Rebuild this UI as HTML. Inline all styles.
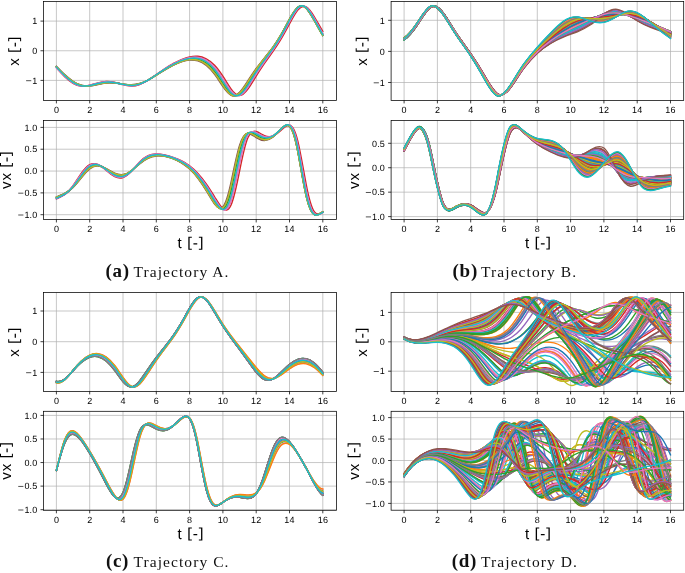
<!DOCTYPE html>
<html><head><meta charset="utf-8"><title>Trajectories</title>
<style>html,body{margin:0;padding:0;background:#fff}svg{will-change:transform;opacity:.999}text{-webkit-font-smoothing:antialiased}body{width:685px;height:573px;overflow:hidden}</style></head>
<body>
<svg width="685" height="573" viewBox="0 0 685 573" style="display:block">
<rect width="685" height="573" fill="#fff"/>
<g font-family="Liberation Sans, sans-serif" fill="#000" style="text-rendering:geometricPrecision">
<path d="M56.40 1.40V100.40M89.70 1.40V100.40M123.00 1.40V100.40M156.30 1.40V100.40M189.60 1.40V100.40M222.90 1.40V100.40M256.20 1.40V100.40M289.50 1.40V100.40M322.80 1.40V100.40M43.50 21.10H336.50M43.50 50.75H336.50M43.50 80.40H336.50" stroke="#b0b0b0" stroke-width=".7" fill="none"/>
<g fill="none" stroke-width="1.36" stroke-linecap="square" stroke-linejoin="round">
<path stroke="#1f77b4" d="M56.4 66.7c2.8 2.9 5.5 5.7 8.3 8.2s5.6 4.8 8.3 6.7s5.6 3.1 8.4 3.7s5.5 .8 8.3 .4s5.5-1 8.3-1.6s5.6-1.1 8.3-1.3s5.6-.1 8.4 .2s5.5 .8 8.3 1.2s5.6 .8 8.3 .8s5.6-.5 8.3-1.4s5.6-2.1 8.4-3.6s5.5-3.2 8.3-5s5.5-3.5 8.3-5.2s5.6-3.3 8.4-4.7s5.5-2.6 8.3-3.6s5.5-1.7 8.3-1.9s5.6-.2 8.3 .6s5.6 2.1 8.4 4.2s5.5 5.1 8.3 8.7s5.5 8.1 8.3 12.2s5.6 8 8.3 9.6s5.6 .8 8.4-1.8s5.5-7 8.3-11.3s5.5-8.6 8.3-12.5s5.6-7.5 8.3-11s5.6-7.1 8.4-11s5.5-8.1 8.3-12.9s5.5-10.2 8.3-15.3s5.6-9.7 8.3-11.9s5.6-1.7 8.4 1.2s5.5 7.7 8.3 12.6s5.5 10 8.3 14.6"/>
<path stroke="#ff7f0e" d="M56.4 66.9c2.8 3.1 5.5 6 8.3 8.7s5.6 5 8.3 6.8s5.6 3.1 8.4 3.6s5.5 .3 8.3-.3s5.5-1.4 8.3-2.1s5.6-1.3 8.3-1.5s5.6 0 8.4 .4s5.5 1.2 8.3 1.8s5.6 1.1 8.3 1.1s5.6-.4 8.3-1.3s5.6-2.2 8.4-3.8s5.5-3.5 8.3-5.4s5.5-3.7 8.3-5.5s5.6-3.4 8.4-4.9s5.5-2.8 8.3-3.9s5.5-1.9 8.3-2.3s5.6-.5 8.3 0s5.6 1.6 8.4 3.5s5.5 4.4 8.3 7.7s5.5 7.6 8.3 11.9s5.6 8.9 8.3 11.6s5.6 3.5 8.4 1.8s5.5-5.4 8.3-9.7s5.5-8.9 8.3-13.1s5.6-8.1 8.3-11.9s5.6-7.4 8.4-11.4s5.5-8.3 8.3-13s5.5-10.2 8.3-15.4s5.6-10.1 8.3-12.6s5.6-2.5 8.4 .1s5.5 7.3 8.3 12.2s5.5 10 8.3 14.7"/>
<path stroke="#2ca02c" d="M56.4 66.9c2.8 3 5.5 5.8 8.3 8.4s5.6 4.9 8.3 6.7s5.6 3 8.4 3.6s5.5 .5 8.3 .1s5.5-1.2 8.3-1.9s5.6-1.1 8.3-1.3s5.6-.1 8.4 .3s5.5 1 8.3 1.5s5.6 .9 8.3 .9s5.6-.4 8.3-1.3s5.6-2.3 8.4-3.8s5.5-3.4 8.3-5.2s5.5-3.6 8.3-5.3s5.6-3.3 8.4-4.8s5.5-2.7 8.3-3.8s5.5-1.7 8.3-2.1s5.6-.3 8.3 .4s5.6 1.9 8.4 3.8s5.5 4.8 8.3 8.3s5.5 7.9 8.3 12.2s5.6 8.4 8.3 10.6s5.6 2 8.4-.2s5.5-6.4 8.3-10.7s5.5-8.8 8.3-12.8s5.6-7.8 8.3-11.5s5.6-7.2 8.4-11.2s5.5-8.2 8.3-13s5.5-10.2 8.3-15.3s5.6-9.9 8.3-12.2s5.6-1.9 8.4 .9s5.5 7.6 8.3 12.5s5.5 10 8.3 14.7"/>
<path stroke="#d62728" d="M56.4 67.9c2.8 3.2 5.5 6.1 8.3 8.8s5.6 4.9 8.3 6.6s5.6 2.6 8.4 2.8s5.5-.2 8.3-.9s5.5-1.7 8.3-2.4s5.6-1.2 8.3-1.3s5.6 .3 8.4 .9s5.5 1.5 8.3 2.3s5.6 1.2 8.3 1.3s5.6-.5 8.3-1.5s5.6-2.6 8.4-4.3s5.5-3.8 8.3-5.7s5.5-3.9 8.3-5.7s5.6-3.6 8.4-5.1s5.5-3 8.3-4.1s5.5-2.1 8.3-2.7s5.6-.8 8.3-.6s5.6 1.1 8.4 2.5s5.5 3.6 8.3 6.5s5.5 6.7 8.3 10.9s5.6 9.1 8.3 12.9s5.6 6.4 8.4 6.4s5.5-2.6 8.3-6.4s5.5-8.5 8.3-13s5.6-8.7 8.3-12.7s5.6-7.8 8.4-11.8s5.5-8.2 8.3-12.8s5.5-9.7 8.3-14.9s5.6-10.4 8.3-13.8s5.6-4.7 8.4-3.2s5.5 5.5 8.3 10.1s5.5 9.8 8.3 14.4"/>
<path stroke="#9467bd" d="M56.4 67.3c2.8 3.1 5.5 6.1 8.3 8.8s5.6 5 8.3 6.8s5.6 2.8 8.4 3.2s5.5 .1 8.3-.6s5.5-1.6 8.3-2.3s5.6-1.3 8.3-1.4s5.6 .1 8.4 .6s5.5 1.4 8.3 2s5.6 1.2 8.3 1.3s5.6-.4 8.3-1.4s5.6-2.4 8.4-4s5.5-3.6 8.3-5.5s5.5-3.8 8.3-5.7s5.6-3.5 8.4-5s5.5-2.9 8.3-4s5.5-2 8.3-2.5s5.6-.6 8.3-.2s5.6 1.3 8.4 2.9s5.5 4 8.3 7.2s5.5 7.1 8.3 11.5s5.6 9 8.3 12.3s5.6 5 8.4 4.1s5.5-4.2 8.3-8.3s5.5-8.9 8.3-13.2s5.6-8.5 8.3-12.4s5.6-7.6 8.4-11.6s5.5-8.2 8.3-12.9s5.5-10.1 8.3-15.3s5.6-10.3 8.3-13.2s5.6-3.3 8.4-1.2s5.5 6.7 8.3 11.5s5.5 10 8.3 14.7"/>
<path stroke="#8c564b" d="M56.4 66.3c2.8 2.9 5.5 5.7 8.3 8.2s5.6 4.8 8.3 6.7s5.6 3.2 8.4 4s5.5 .9 8.3 .7s5.5-.9 8.3-1.4s5.6-1.2 8.3-1.4s5.6-.3 8.4-.1s5.5 .7 8.3 1.1s5.6 .7 8.3 .6s5.6-.4 8.3-1.2s5.6-2 8.4-3.5s5.5-3.1 8.3-4.8s5.5-3.5 8.3-5.1s5.6-3.3 8.4-4.7s5.5-2.6 8.3-3.5s5.5-1.6 8.3-1.8s5.6 0 8.3 .8s5.6 2.3 8.4 4.5s5.5 5.3 8.3 9s5.5 8.2 8.3 12.2s5.6 7.5 8.3 8.7s5.6-.1 8.4-3s5.5-7.3 8.3-11.6s5.5-8.4 8.3-12.2s5.6-7.2 8.3-10.7s5.6-6.9 8.4-10.7s5.5-8.1 8.3-12.8s5.5-10.1 8.3-15.2s5.6-9.7 8.3-11.8s5.6-1.7 8.4 1.1s5.5 7.7 8.3 12.6s5.5 9.9 8.3 14.5"/>
<path stroke="#e377c2" d="M56.4 67.7c2.8 3.1 5.5 6 8.3 8.6s5.6 4.9 8.3 6.5s5.6 2.8 8.4 3.1s5.5 0 8.3-.6s5.5-1.5 8.3-2.2s5.6-1.2 8.3-1.3s5.6 .3 8.4 .8s5.5 1.3 8.3 2s5.6 1.1 8.3 1.1s5.6-.5 8.3-1.5s5.6-2.4 8.4-4.1s5.5-3.6 8.3-5.5s5.5-3.8 8.3-5.6s5.6-3.4 8.4-5s5.5-2.8 8.3-3.9s5.5-2 8.3-2.5s5.6-.7 8.3-.3s5.6 1.4 8.4 3s5.5 4 8.3 7.2s5.5 7.1 8.3 11.5s5.6 9 8.3 12.3s5.6 5 8.4 4.1s5.5-4.3 8.3-8.4s5.5-8.8 8.3-13.1s5.6-8.5 8.3-12.4s5.6-7.6 8.4-11.6s5.5-8.2 8.3-13s5.5-10 8.3-15.2s5.6-10.3 8.3-13.2s5.6-3.3 8.4-1.2s5.5 6.7 8.3 11.6s5.5 9.9 8.3 14.6"/>
<path stroke="#7f7f7f" d="M56.4 66.4c2.8 3 5.5 5.8 8.3 8.3s5.6 5 8.3 6.8s5.6 3.3 8.4 4s5.5 .7 8.3 .4s5.5-1 8.3-1.7s5.6-1.2 8.3-1.4s5.6-.2 8.4 0s5.5 .9 8.3 1.3s5.6 .8 8.3 .8s5.6-.4 8.3-1.2s5.6-2.1 8.4-3.6s5.5-3.2 8.3-5s5.5-3.5 8.3-5.2s5.6-3.3 8.4-4.7s5.5-2.7 8.3-3.6s5.5-1.7 8.3-2s5.6-.1 8.3 .6s5.6 2.1 8.4 4.3s5.5 5 8.3 8.7s5.5 8.1 8.3 12.2s5.6 7.9 8.3 9.5s5.6 .8 8.4-1.9s5.5-6.9 8.3-11.2s5.5-8.6 8.3-12.5s5.6-7.5 8.3-11.1s5.6-7 8.4-10.9s5.5-8.1 8.3-12.9s5.5-10.2 8.3-15.3s5.6-9.7 8.3-11.9s5.6-1.7 8.4 1.2s5.5 7.7 8.3 12.6s5.5 9.9 8.3 14.6"/>
<path stroke="#bcbd22" d="M56.4 66.6c2.8 3 5.5 5.7 8.3 8.3s5.6 4.8 8.3 6.7s5.6 3.1 8.4 3.8s5.5 .7 8.3 .4s5.5-1 8.3-1.6s5.6-1.2 8.3-1.4s5.6-.2 8.4 .1s5.5 .9 8.3 1.3s5.6 .8 8.3 .8s5.6-.5 8.3-1.4s5.6-2.1 8.4-3.6s5.5-3.2 8.3-4.9s5.5-3.6 8.3-5.3s5.6-3.2 8.4-4.7s5.5-2.6 8.3-3.6s5.5-1.7 8.3-1.9s5.6-.2 8.3 .6s5.6 2.1 8.4 4.2s5.5 5.1 8.3 8.7s5.5 8.1 8.3 12.2s5.6 8 8.3 9.6s5.6 .8 8.4-1.8s5.5-7 8.3-11.3s5.5-8.6 8.3-12.5s5.6-7.5 8.3-11s5.6-7.1 8.4-11s5.5-8.1 8.3-12.9s5.5-10.2 8.3-15.3s5.6-9.7 8.3-11.9s5.6-1.7 8.4 1.2s5.5 7.7 8.3 12.6s5.5 10 8.3 14.6"/>
<path stroke="#17becf" d="M56.4 67.1c2.8 3.1 5.5 6 8.3 8.6s5.6 5 8.3 6.7s5.6 3 8.4 3.4s5.5 .3 8.3-.2s5.5-1.4 8.3-2.1s5.6-1.2 8.3-1.4s5.6 .1 8.4 .5s5.5 1.2 8.3 1.8s5.6 1 8.3 1.1s5.6-.5 8.3-1.4s5.6-2.3 8.4-3.9s5.5-3.5 8.3-5.4s5.5-3.7 8.3-5.4s5.6-3.5 8.4-4.9s5.5-2.9 8.3-3.9s5.5-1.9 8.3-2.3s5.6-.5 8.3 0s5.6 1.6 8.4 3.5s5.5 4.4 8.3 7.7s5.5 7.6 8.3 11.9s5.6 8.9 8.3 11.6s5.6 3.5 8.4 1.8s5.5-5.4 8.3-9.7s5.5-8.9 8.3-13.1s5.6-8.1 8.3-11.9s5.6-7.5 8.4-11.4s5.5-8.3 8.3-13.1s5.5-10.1 8.3-15.3s5.6-10.1 8.3-12.6s5.6-2.5 8.4 .1s5.5 7.3 8.3 12.2s5.5 10 8.3 14.7"/>
</g>
<rect x="43.50" y="1.40" width="293.00" height="99.00" fill="none" stroke="#000" stroke-width=".75"/>
<path d="M56.40 100.40v3M89.70 100.40v3M123.00 100.40v3M156.30 100.40v3M189.60 100.40v3M222.90 100.40v3M256.20 100.40v3M289.50 100.40v3M322.80 100.40v3M43.50 21.10h-3M43.50 50.75h-3M43.50 80.40h-3" stroke="#000" stroke-width=".75" fill="none"/>
<text x="53.90" y="113.15" font-size="9px">0</text>
<text x="87.20" y="113.15" font-size="9px">2</text>
<text x="120.50" y="113.15" font-size="9px">4</text>
<text x="153.80" y="113.15" font-size="9px">6</text>
<text x="187.10" y="113.15" font-size="9px">8</text>
<text x="217.77 223.02" y="113.15" font-size="9px">10</text>
<text x="251.07 256.32" y="113.15" font-size="9px">12</text>
<text x="284.37 289.62" y="113.15" font-size="9px">14</text>
<text x="317.67 322.92" y="113.15" font-size="9px">16</text>
<text x="32.27" y="24.35" font-size="9px">1</text>
<text x="32.27" y="54.00" font-size="9px">0</text>
<path d="M26.11 80.70h5.16" stroke="#000" stroke-width="0.68" fill="none"/><text x="32.27" y="83.65" font-size="9px">1</text>
<g transform="translate(19.20 51.30) rotate(-90) translate(-14.87 0)"><text x="0.54" y="0" font-size="15px">x</text><path d="M14.44 -11.02H17.95V-10.00H15.75V0.90H17.95V1.91H14.44ZM19.56 -4.52H23.37V-3.28H19.56ZM28.49 -11.02H24.98V-10.00H27.19V0.90H24.98V1.91H28.49Z" fill="#000"/></g>
<path d="M56.40 120.50V219.45M89.70 120.50V219.45M123.00 120.50V219.45M156.30 120.50V219.45M189.60 120.50V219.45M222.90 120.50V219.45M256.20 120.50V219.45M289.50 120.50V219.45M322.80 120.50V219.45M43.50 127.40H336.50M43.50 149.22H336.50M43.50 171.05H336.50M43.50 192.88H336.50M43.50 214.70H336.50" stroke="#b0b0b0" stroke-width=".7" fill="none"/>
<g fill="none" stroke-width="1.36" stroke-linecap="square" stroke-linejoin="round">
<path stroke="#1f77b4" d="M56.4 197.1c2.8-1.2 5.5-2.2 8.3-3.7s5.6-3.6 8.3-6.4s5.6-6.4 8.4-10s5.5-6.8 8.3-8.8s5.5-2.8 8.3-2.5s5.6 1.8 8.3 3.4s5.6 3.5 8.4 4.7s5.5 1.6 8.3 1.1s5.6-2.1 8.3-4.2s5.6-4.9 8.3-7.2s5.6-4.4 8.4-5.7s5.5-2 8.3-2.2s5.5 .1 8.3 .6s5.6 1.3 8.4 2.3s5.5 2.3 8.3 4s5.5 3.6 8.3 6.1s5.6 5.5 8.3 9.1s5.6 7.7 8.4 12.2s5.5 9.4 8.3 13.4s5.5 6.7 8.3 4.6s5.6-10.3 8.3-22.7s5.6-27.8 8.4-37.6s5.5-14 8.3-14.6s5.5 1.7 8.3 3.5s5.6 3.1 8.3 3.2s5.6-.9 8.4-3s5.5-5.2 8.3-7.9s5.5-5.2 8.3-2.6s5.6 11.2 8.3 25.4s5.6 32.7 8.4 44.7s5.5 17.3 8.3 18.4s5.5-1.2 8.3-2.8"/>
<path stroke="#ff7f0e" d="M56.4 198.6c2.8-1.3 5.5-2.4 8.3-4.1s5.6-4.1 8.3-7.5s5.6-7.6 8.4-11.5s5.5-7.4 8.3-9.3s5.5-2.4 8.3-1.6s5.6 2.7 8.3 4.8s5.6 4.2 8.4 5.6s5.5 2 8.3 1.4s5.6-2.5 8.3-5s5.6-5.6 8.3-8.3s5.6-4.9 8.4-6.3s5.5-2 8.3-2.2s5.5 .3 8.3 .8s5.6 1.4 8.4 2.4s5.5 2.2 8.3 3.8s5.5 3.4 8.3 5.7s5.6 5 8.3 8.3s5.6 7.2 8.4 11.5s5.5 9.2 8.3 13.6s5.5 8.5 8.3 8.8s5.6-3.9 8.3-14.2s5.6-26.3 8.4-38.8s5.5-20.4 8.3-23.1s5.5-1.3 8.3 .4s5.6 3.4 8.3 3.9s5.6 0 8.4-1.7s5.5-4.5 8.3-7.3s5.5-5.3 8.3-3.4s5.6 9.5 8.3 23.2s5.6 32.4 8.4 45.3s5.5 19.2 8.3 20.8s5.5-.6 8.3-2.3"/>
<path stroke="#2ca02c" d="M56.4 197.7c2.8-1.3 5.5-2.3 8.3-3.9s5.6-3.9 8.3-6.9s5.6-7 8.4-10.7s5.5-7 8.3-9s5.5-2.5 8.3-1.9s5.6 2.2 8.3 4.1s5.6 3.8 8.4 5s5.5 1.8 8.3 1.2s5.6-2.3 8.3-4.7s5.6-5.2 8.3-7.7s5.6-4.6 8.4-5.9s5.5-2 8.3-2.1s5.5 .1 8.3 .7s5.6 1.3 8.4 2.3s5.5 2.3 8.3 3.9s5.5 3.5 8.3 5.9s5.6 5.3 8.3 8.7s5.6 7.5 8.4 11.9s5.5 9.4 8.3 13.6s5.5 7.7 8.3 6.7s5.6-7.3 8.3-18.9s5.6-27.5 8.4-38.7s5.5-16.9 8.3-18.4s5.5 .5 8.3 2.2s5.6 3.3 8.3 3.6s5.6-.5 8.4-2.4s5.5-4.9 8.3-7.7s5.5-5.2 8.3-2.9s5.6 10.8 8.3 24.9s5.6 32.8 8.4 45.1s5.5 17.9 8.3 19.1s5.5-1 8.3-2.7"/>
<path stroke="#d62728" d="M56.4 198.9c2.8-1.3 5.5-2.5 8.3-4.5s5.6-5 8.3-8.8s5.6-8.4 8.4-12.4s5.5-7.1 8.3-8.6s5.5-1.3 8.3 0s5.6 3.6 8.3 6s5.6 4.6 8.4 6s5.5 1.8 8.3 .9s5.6-3.3 8.3-6.2s5.6-6.5 8.3-9.3s5.6-5.1 8.4-6.4s5.5-1.8 8.3-1.7s5.5 .4 8.3 1s5.6 1.4 8.4 2.4s5.5 2.1 8.3 3.4s5.5 3.1 8.3 5.2s5.6 4.6 8.3 7.5s5.6 6.5 8.4 10.4s5.5 8.5 8.3 13s5.5 9.3 8.3 11.8s5.6 2.4 8.3-3.9s5.6-19.6 8.4-33.7s5.5-26.9 8.3-33.3s5.5-7.1 8.3-6.2s5.6 3 8.3 4.1s5.6 1.3 8.4 .3s5.5-3.1 8.3-5.6s5.5-5.4 8.3-5.1s5.6 4.7 8.3 15.8s5.6 28.8 8.4 43.3s5.5 24 8.3 27.6s5.5 2.2 8.3 .5"/>
<path stroke="#9467bd" d="M56.4 198.9c2.8-1.3 5.5-2.4 8.3-4.2s5.6-4.6 8.3-8.2s5.6-8 8.4-12s5.5-7.5 8.3-9.2s5.5-1.9 8.3-.8s5.6 3.1 8.3 5.3s5.6 4.5 8.4 6s5.5 1.9 8.3 1.2s5.6-2.8 8.3-5.5s5.6-6.1 8.3-8.9s5.6-5 8.4-6.4s5.5-1.9 8.3-2s5.5 .3 8.3 .9s5.6 1.4 8.4 2.4s5.5 2.2 8.3 3.6s5.5 3.3 8.3 5.5s5.6 4.8 8.3 8s5.6 6.8 8.4 10.9s5.5 8.9 8.3 13.4s5.5 9.1 8.3 10.5s5.6-.6 8.3-9.1s5.6-23.7 8.4-37.3s5.5-23.9 8.3-28.2s5.5-3.7 8.3-2.3s5.6 3.3 8.3 4.2s5.6 .6 8.4-.8s5.5-4 8.3-6.6s5.5-5.5 8.3-4.2s5.6 7.4 8.3 20.2s5.6 31.3 8.4 44.9s5.5 21.3 8.3 23.6s5.5 .4 8.3-1.3"/>
<path stroke="#8c564b" d="M56.4 197c2.8-1.3 5.5-2.2 8.3-3.6s5.6-3.3 8.3-5.9s5.6-6.1 8.4-9.6s5.5-6.8 8.3-9s5.5-3.2 8.3-3.1s5.6 1.4 8.3 2.9s5.6 3.2 8.4 4.4s5.5 1.8 8.3 1.4s5.6-1.8 8.3-3.8s5.6-4.6 8.3-6.8s5.6-4.3 8.4-5.6s5.5-2.1 8.3-2.3s5.5-.1 8.3 .4s5.6 1.3 8.4 2.3s5.5 2.4 8.3 4.1s5.5 3.7 8.3 6.3s5.6 5.6 8.3 9.3s5.6 7.9 8.4 12.4s5.5 9.5 8.3 13.2s5.5 5.8 8.3 2.6s5.6-12.5 8.3-25.3s5.6-27.4 8.4-36.1s5.5-11.7 8.3-11.7s5.5 2.3 8.3 4.1s5.6 2.9 8.3 2.9s5.6-1.2 8.4-3.3s5.5-5.3 8.3-8.1s5.5-5.1 8.3-2.6s5.6 11.2 8.3 25.3s5.6 32.4 8.4 44.3s5.5 17.2 8.3 18.3s5.5-1.1 8.3-2.8"/>
<path stroke="#e377c2" d="M56.4 198.3c2.8-1.2 5.5-2.4 8.3-4.3s5.6-4.5 8.3-8.1s5.6-7.9 8.4-11.7s5.5-7.1 8.3-8.7s5.5-1.6 8.3-.6s5.6 3.2 8.3 5.4s5.6 4.3 8.4 5.6s5.5 1.7 8.3 .9s5.6-3 8.3-5.7s5.6-6.1 8.3-8.8s5.6-4.9 8.4-6.2s5.5-1.8 8.3-1.8s5.5 .4 8.3 1s5.6 1.4 8.4 2.3s5.5 2.2 8.3 3.6s5.5 3.2 8.3 5.4s5.6 4.8 8.3 8s5.6 6.8 8.4 11s5.5 8.8 8.3 13.3s5.5 9.1 8.3 10.6s5.6-.7 8.3-9.2s5.6-23.7 8.4-37.3s5.5-23.9 8.3-28.2s5.5-3.7 8.3-2.3s5.6 3.3 8.3 4.2s5.6 .6 8.4-.8s5.5-4 8.3-6.7s5.5-5.4 8.3-4.2s5.6 7.6 8.3 20.3s5.6 31.4 8.4 45s5.5 21.2 8.3 23.5s5.5 .4 8.3-1.3"/>
<path stroke="#7f7f7f" d="M56.4 197.5c2.8-1.2 5.5-2.2 8.3-3.7s5.6-3.5 8.3-6.3s5.6-6.5 8.4-10.2s5.5-7 8.3-9.2s5.5-3 8.3-2.7s5.6 1.7 8.3 3.4s5.6 3.5 8.4 4.8s5.5 1.9 8.3 1.4s5.6-1.9 8.3-4s5.6-4.9 8.3-7.3s5.6-4.5 8.4-5.8s5.5-2.1 8.3-2.3s5.5 0 8.3 .5s5.6 1.3 8.4 2.4s5.5 2.3 8.3 3.9s5.5 3.7 8.3 6.2s5.6 5.5 8.3 9.1s5.6 7.7 8.4 12.2s5.5 9.5 8.3 13.4s5.5 6.7 8.3 4.5s5.6-10.4 8.3-22.8s5.6-27.8 8.4-37.6s5.5-13.8 8.3-14.3s5.5 1.7 8.3 3.4s5.6 3.1 8.3 3.3s5.6-1 8.4-3s5.5-5.2 8.3-8s5.5-5.2 8.3-2.6s5.6 11.2 8.3 25.4s5.6 32.6 8.4 44.7s5.5 17.3 8.3 18.4s5.5-1.2 8.3-2.9"/>
<path stroke="#bcbd22" d="M56.4 197.2c2.8-1.2 5.5-2.2 8.3-3.7s5.6-3.5 8.3-6.4s5.6-6.5 8.4-10s5.5-6.9 8.3-8.9s5.5-2.9 8.3-2.6s5.6 1.8 8.3 3.4s5.6 3.5 8.4 4.7s5.5 1.8 8.3 1.3s5.6-2.1 8.3-4.3s5.6-4.8 8.3-7.2s5.6-4.4 8.4-5.7s5.5-2 8.3-2.2s5.5 .1 8.3 .6s5.6 1.3 8.4 2.3s5.5 2.3 8.3 4s5.5 3.6 8.3 6.1s5.6 5.5 8.3 9s5.6 7.7 8.4 12.3s5.5 9.4 8.3 13.4s5.5 6.7 8.3 4.6s5.6-10.3 8.3-22.7s5.6-27.8 8.4-37.6s5.5-14 8.3-14.6s5.5 1.7 8.3 3.5s5.6 3.1 8.3 3.2s5.6-.9 8.4-3s5.5-5.1 8.3-7.9s5.5-5.2 8.3-2.6s5.6 11.2 8.3 25.4s5.6 32.7 8.4 44.7s5.5 17.3 8.3 18.4s5.5-1.2 8.3-2.8"/>
<path stroke="#17becf" d="M56.4 198.2c2.8-1.2 5.5-2.3 8.3-4s5.6-4.2 8.3-7.6s5.6-7.4 8.4-11.3s5.5-7.2 8.3-9s5.5-2.2 8.3-1.4s5.6 2.7 8.3 4.7s5.6 4.2 8.4 5.5s5.5 1.9 8.3 1.2s5.6-2.6 8.3-5.1s5.6-5.7 8.3-8.3s5.6-4.8 8.4-6.2s5.5-1.9 8.3-2s5.5 .2 8.3 .8s5.6 1.4 8.4 2.4s5.5 2.2 8.3 3.7s5.5 3.4 8.3 5.7s5.6 5.1 8.3 8.4s5.6 7.1 8.4 11.4s5.5 9.2 8.3 13.6s5.5 8.5 8.3 8.8s5.6-3.9 8.3-14.2s5.6-26.3 8.4-38.8s5.5-20.4 8.3-23.1s5.5-1.3 8.3 .4s5.6 3.4 8.3 3.9s5.6 0 8.4-1.7s5.5-4.6 8.3-7.3s5.5-5.3 8.3-3.4s5.6 9.5 8.3 23.2s5.6 32.5 8.4 45.3s5.5 19.2 8.3 20.8s5.5-.6 8.3-2.3"/>
</g>
<rect x="43.50" y="120.50" width="293.00" height="98.95" fill="none" stroke="#000" stroke-width=".75"/>
<path d="M56.40 219.45v3M89.70 219.45v3M123.00 219.45v3M156.30 219.45v3M189.60 219.45v3M222.90 219.45v3M256.20 219.45v3M289.50 219.45v3M322.80 219.45v3M43.50 127.40h-3M43.50 149.22h-3M43.50 171.05h-3M43.50 192.88h-3M43.50 214.70h-3" stroke="#000" stroke-width=".75" fill="none"/>
<text x="53.90" y="232.20" font-size="9px">0</text>
<text x="87.20" y="232.20" font-size="9px">2</text>
<text x="120.50" y="232.20" font-size="9px">4</text>
<text x="153.80" y="232.20" font-size="9px">6</text>
<text x="187.10" y="232.20" font-size="9px">8</text>
<text x="217.77 223.02" y="232.20" font-size="9px">10</text>
<text x="251.07 256.32" y="232.20" font-size="9px">12</text>
<text x="284.37 289.62" y="232.20" font-size="9px">14</text>
<text x="317.67 322.92" y="232.20" font-size="9px">16</text>
<text x="24.40 29.59 32.27" y="130.65" font-size="9px">1.0</text>
<text x="24.40 29.59 32.27" y="152.47" font-size="9px">0.5</text>
<text x="24.40 29.59 32.27" y="174.30" font-size="9px">0.0</text>
<path d="M18.24 193.18h5.16" stroke="#000" stroke-width="0.68" fill="none"/><text x="24.40 29.59 32.27" y="196.12" font-size="9px">0.5</text>
<path d="M18.24 215.00h5.16" stroke="#000" stroke-width="0.68" fill="none"/><text x="24.40 29.59 32.27" y="217.95" font-size="9px">1.0</text>
<g transform="translate(11.00 170.38) rotate(-90) translate(-19.16 0)"><text x="0.54" y="0" font-size="15px">v</text><text x="9.13" y="0" font-size="15px">x</text><path d="M23.03 -11.02H26.54V-10.00H24.33V0.90H26.54V1.91H23.03ZM28.14 -4.52H31.96V-3.28H28.14ZM37.08 -11.02H33.57V-10.00H35.77V0.90H33.57V1.91H37.08Z" fill="#000"/></g>
<g transform="translate(176.78 247.75)"><text x="0.76" y="0" font-size="15px">t</text><path d="M11.54 -11.02H15.05V-10.00H12.85V0.90H15.05V1.91H11.54ZM16.66 -4.52H20.47V-3.28H16.66ZM25.59 -11.02H22.08V-10.00H24.29V0.90H22.08V1.91H25.59Z" fill="#000"/></g>
<path d="M404.10 1.40V100.40M437.40 1.40V100.40M470.70 1.40V100.40M504.00 1.40V100.40M537.30 1.40V100.40M570.60 1.40V100.40M603.90 1.40V100.40M637.20 1.40V100.40M670.50 1.40V100.40M391.10 20.30H683.70M391.10 51.40H683.70M391.10 82.50H683.70" stroke="#b0b0b0" stroke-width=".7" fill="none"/>
<g fill="none" stroke-width="1.36" stroke-linecap="square" stroke-linejoin="round">
<path stroke="#1f77b4" d="M404.1 39c4.4-3.2 8.9-8.8 13.3-15.6s8.9-14.8 13.3-17s8.9 2.3 13.4 9s8.8 14.4 13.3 20.9s8.9 12.6 13.3 19.2s8.9 14.2 13.3 22.1s8.9 16.1 13.3 17.9s8.9-3.4 13.4-10.3s8.8-14.5 13.3-20.6s8.9-11.3 13.3-16s8.9-9.3 13.3-13.6s8.9-8.4 13.3-11.6s8.9-5 13.4-5.5s8.8 .7 13.3 1.6s8.9 1.4 13.3 .8s8.9-2.5 13.3-4.4s8.9-3.8 13.3-3.7s8.9 2.3 13.4 5.3s8.8 6.5 13.3 9.8s8.9 6.4 13.3 9.2"/>
<path stroke="#ff7f0e" d="M404.1 38.8c4.4-3 8.9-8.3 13.3-15s8.9-14.5 13.3-17s8.9 1.6 13.4 8.1s8.8 14.2 13.3 20.7s8.9 12.5 13.3 18.9s8.9 13.7 13.3 21.5s8.9 16 13.3 18.5s8.9-1.6 13.4-8s8.8-14 13.3-20s8.9-11 13.3-15.3s8.9-8.1 13.3-11.5s8.9-6.6 13.3-9.3s8.9-5.2 13.4-7.1s8.8-3.6 13.3-4.8s8.9-2.3 13.3-3.1s8.9-1.3 13.3-1.3s8.9 .4 13.3 1.3s8.9 2.6 13.4 4.4s8.8 3.8 13.3 6s8.9 4.4 13.3 6.4"/>
<path stroke="#2ca02c" d="M404.1 39.7c4.4-2.9 8.9-8.2 13.3-14.8s8.9-14.8 13.3-17.7s8.9 .6 13.4 6.9s8.8 14.2 13.3 20.8s8.9 12.6 13.3 19s8.9 13.6 13.3 21.3s8.9 16 13.3 18.9s8.9-.8 13.4-7s8.8-13.8 13.3-19.8s8.9-10.9 13.3-15.1s8.9-7.7 13.3-10.8s8.9-5.7 13.3-8.1s8.9-4.5 13.4-6.6s8.8-4.3 13.3-6.6s8.9-4.6 13.3-6.1s8.9-2.2 13.3-1.6s8.9 2.2 13.3 4s8.9 3.6 13.4 5.2s8.8 3.3 13.3 4.9s8.9 3.4 13.3 5"/>
<path stroke="#d62728" d="M404.1 38.9c4.4-3.2 8.9-8.7 13.3-15.4s8.9-14.7 13.3-17s8.9 2.1 13.4 8.7s8.8 14.3 13.3 20.9s8.9 12.5 13.3 19s8.9 14 13.3 21.9s8.9 16 13.3 18.1s8.9-2.7 13.4-9.4s8.8-14.3 13.3-20.4s8.9-11.1 13.3-15.7s8.9-8.8 13.3-12.8s8.9-7.7 13.3-10.8s8.9-5.4 13.4-6.6s8.8-1.1 13.3-1s8.9 .5 13.3 0s8.9-1.7 13.3-3s8.9-2.3 13.3-1.9s8.9 2.1 13.4 4.5s8.8 5.5 13.3 8.4s8.9 5.7 13.3 8.3"/>
<path stroke="#9467bd" d="M404.1 39.1c4.4-3.3 8.9-9 13.3-15.8s8.9-14.9 13.3-17s8.9 2.4 13.4 9.2s8.8 14.4 13.3 21s8.9 12.6 13.3 19.3s8.9 14.3 13.3 22.3s8.9 16 13.3 17.6s8.9-3.9 13.4-10.9s8.8-14.6 13.3-20.8s8.9-11.3 13.3-16.3s8.9-9.6 13.3-14.1s8.9-8.9 13.3-12s8.9-4.6 13.4-4.4s8.8 2 13.3 3.3s8.9 2.1 13.3 1.3s8.9-3.2 13.3-5.7s8.9-4.8 13.3-4.8s8.9 2.5 13.4 5.9s8.8 7.3 13.3 10.9s8.9 6.8 13.3 9.8"/>
<path stroke="#8c564b" d="M404.1 39.3c4.4-3 8.9-8.4 13.3-15.1s8.9-14.7 13.3-17.3s8.9 1.2 13.4 7.7s8.8 14.3 13.3 20.9s8.9 12.5 13.3 19s8.9 13.8 13.3 21.6s8.9 16 13.3 18.5s8.9-1.7 13.4-8.2s8.8-14.1 13.3-20.1s8.9-11 13.3-15.4s8.9-8.2 13.3-11.7s8.9-6.8 13.3-9.7s8.9-5.2 13.4-7.1s8.8-3.2 13.3-4.2s8.9-1.6 13.3-2.3s8.9-1.2 13.3-1.5s8.9-.1 13.3 .7s8.9 2.3 13.4 4.2s8.8 4.2 13.3 6.5s8.9 4.6 13.3 6.8"/>
<path stroke="#e377c2" d="M404.1 39.7c4.4-3.1 8.9-8.6 13.3-15.4s8.9-15 13.3-17.6s8.9 1.3 13.4 7.9s8.8 14.5 13.3 21.1s8.9 12.7 13.3 19.3s8.9 14 13.3 21.9s8.9 16.1 13.3 18.3s8.9-2.7 13.4-9.5s8.8-14.3 13.3-20.4s8.9-11.2 13.3-15.8s8.9-8.9 13.3-12.9s8.9-7.8 13.3-10.9s8.9-5.4 13.4-6.5s8.8-1 13.3-.7s8.9 .7 13.3 .2s8.9-1.9 13.3-3.2s8.9-2.5 13.3-2.2s8.9 2.1 13.4 4.6s8.8 5.7 13.3 8.6s8.9 5.8 13.3 8.4"/>
<path stroke="#7f7f7f" d="M404.1 39.7c4.4-3.2 8.9-8.7 13.3-15.5s8.9-14.9 13.3-17.6s8.9 1.5 13.4 8.1s8.8 14.4 13.3 21.1s8.9 12.6 13.3 19.2s8.9 14.1 13.3 22s8.9 16.1 13.3 18.2s8.9-2.8 13.4-9.6s8.8-14.3 13.3-20.4s8.9-11.2 13.3-15.8s8.9-9 13.3-13s8.9-8 13.3-11.1s8.9-5.3 13.4-6.3s8.8-.7 13.3-.4s8.9 .8 13.3 .3s8.9-1.9 13.3-3.3s8.9-2.7 13.3-2.5s8.9 2.1 13.4 4.7s8.8 5.8 13.3 8.8s8.9 5.9 13.3 8.5"/>
<path stroke="#bcbd22" d="M404.1 38.1c4.4-3 8.9-8.5 13.3-15.1s8.9-14.3 13.3-16.4s8.9 2.4 13.4 9s8.8 14.1 13.3 20.5s8.9 12.3 13.3 18.7s8.9 13.8 13.3 21.6s8.9 15.9 13.3 18.3s8.9-2 13.4-8.5s8.8-14.1 13.3-20.1s8.9-11 13.3-15.4s8.9-8.2 13.3-11.8s8.9-6.9 13.3-9.8s8.9-5.3 13.4-7.1s8.8-3 13.3-3.8s8.9-1.4 13.3-2s8.9-1.3 13.3-1.6s8.9-.4 13.3 .3s8.9 2.3 13.4 4.2s8.8 4.3 13.3 6.7s8.9 4.8 13.3 7"/>
<path stroke="#17becf" d="M404.1 39.3c4.4-3.1 8.9-8.6 13.3-15.4s8.9-14.8 13.3-17.3s8.9 1.7 13.4 8.3s8.8 14.4 13.3 21s8.9 12.6 13.3 19.1s8.9 14.1 13.3 22s8.9 16 13.3 18.1s8.9-2.7 13.4-9.4s8.8-14.3 13.3-20.4s8.9-11.2 13.3-15.8s8.9-8.8 13.3-12.8s8.9-7.8 13.3-10.9s8.9-5.4 13.4-6.5s8.8-1.1 13.3-.8s8.9 .5 13.3 0s8.9-1.7 13.3-3s8.9-2.4 13.3-2.1s8.9 2.1 13.4 4.6s8.8 5.6 13.3 8.5s8.9 5.7 13.3 8.3"/>
<path stroke="#1f77b4" d="M404.1 39.4c4.4-3.2 8.9-8.8 13.3-15.7s8.9-14.9 13.3-17.3s8.9 2 13.4 8.7s8.8 14.4 13.3 21.1s8.9 12.6 13.3 19.2s8.9 14.2 13.3 22.2s8.9 16.1 13.3 17.9s8.9-3.4 13.4-10.3s8.8-14.5 13.3-20.6s8.9-11.3 13.3-16.1s8.9-9.3 13.3-13.6s8.9-8.4 13.3-11.6s8.9-5 13.4-5.4s8.8 .7 13.3 1.6s8.9 1.5 13.3 .9s8.9-2.5 13.3-4.5s8.9-3.9 13.3-3.7s8.9 2.2 13.4 5.2s8.8 6.7 13.3 10s8.9 6.3 13.3 9.2"/>
<path stroke="#ff7f0e" d="M404.1 38.2c4.4-2.9 8.9-8.2 13.3-14.8s8.9-14.3 13.3-16.6s8.9 1.9 13.4 8.4s8.8 14 13.3 20.5s8.9 12.3 13.3 18.6s8.9 13.6 13.3 21.3s8.9 15.9 13.3 18.6s8.9-1.1 13.4-7.4s8.8-13.8 13.3-19.8s8.9-10.8 13.3-15s8.9-7.8 13.3-10.9s8.9-5.9 13.3-8.4s8.9-4.6 13.4-6.7s8.8-4.2 13.3-6.3s8.9-4.1 13.3-5.5s8.9-1.9 13.3-1.4s8.9 1.9 13.3 3.4s8.9 3.3 13.4 5s8.8 3.3 13.3 5.1s8.9 3.5 13.3 5.2"/>
<path stroke="#2ca02c" d="M404.1 38.1c4.4-3.2 8.9-8.8 13.3-15.6s8.9-14.3 13.3-16.2s8.9 2.9 13.4 9.6s8.8 14.3 13.3 20.7s8.9 12.4 13.3 18.9s8.9 14 13.3 21.9s8.9 16 13.3 17.9s8.9-3.1 13.4-10s8.8-14.3 13.3-20.4s8.9-11.2 13.3-15.9s8.9-9 13.3-13.1s8.9-8.1 13.3-11.2s8.9-5.3 13.4-6.1s8.8-.3 13.3 .3s8.9 1 13.3 .5s8.9-2.1 13.3-3.7s8.9-3.1 13.3-2.9s8.9 2.2 13.4 4.9s8.8 6.1 13.3 9.2s8.9 6 13.3 8.7"/>
<path stroke="#d62728" d="M404.1 39.8c4.4-3.1 8.9-8.5 13.3-15.3s8.9-14.9 13.3-17.7s8.9 1.1 13.4 7.7s8.8 14.3 13.3 21s8.9 12.6 13.3 19.2s8.9 13.9 13.3 21.8s8.9 16.1 13.3 18.4s8.9-2.2 13.4-8.8s8.8-14.3 13.3-20.3s8.9-11.2 13.3-15.7s8.9-8.5 13.3-12.3s8.9-7.4 13.3-10.5s8.9-5.4 13.4-6.9s8.8-2 13.3-2.2s8.9-.3 13.3-.8s8.9-1.4 13.3-2.3s8.9-1.5 13.3-1s8.9 2.1 13.4 4.3s8.8 5 13.3 7.7s8.9 5.3 13.3 7.7"/>
<path stroke="#9467bd" d="M404.1 38.7c4.4-3.1 8.9-8.7 13.3-15.4s8.9-14.6 13.3-16.8s8.9 2.2 13.4 8.9s8.8 14.2 13.3 20.8s8.9 12.4 13.3 18.9s8.9 14 13.3 21.9s8.9 16 13.3 18.1s8.9-2.7 13.4-9.4s8.8-14.3 13.3-20.4s8.9-11.1 13.3-15.7s8.9-8.7 13.3-12.7s8.9-7.7 13.3-10.8s8.9-5.5 13.4-6.6s8.8-1.2 13.3-1.1s8.9 .5 13.3 0s8.9-1.8 13.3-3s8.9-2.2 13.3-1.9s8.9 2.1 13.4 4.5s8.8 5.5 13.3 8.4s8.9 5.7 13.3 8.2"/>
<path stroke="#8c564b" d="M404.1 39.1c4.4-3.2 8.9-8.9 13.3-15.7s8.9-14.9 13.3-17.1s8.9 2.3 13.4 9.1s8.8 14.4 13.3 21s8.9 12.6 13.3 19.2s8.9 14.3 13.3 22.3s8.9 16 13.3 17.7s8.9-3.7 13.4-10.6s8.8-14.5 13.3-20.7s8.9-11.3 13.3-16.2s8.9-9.4 13.3-13.8s8.9-8.7 13.3-11.9s8.9-4.8 13.4-4.9s8.8 1.4 13.3 2.5s8.9 1.8 13.3 1.1s8.9-2.8 13.3-5.1s8.9-4.3 13.3-4.3s8.9 2.4 13.4 5.6s8.8 7 13.3 10.4s8.9 6.6 13.3 9.5"/>
<path stroke="#e377c2" d="M404.1 39c4.4-3.3 8.9-8.9 13.3-15.7s8.9-14.8 13.3-17s8.9 2.4 13.4 9.1s8.8 14.5 13.3 21s8.9 12.6 13.3 19.2s8.9 14.3 13.3 22.2s8.9 16.1 13.3 17.8s8.9-3.7 13.4-10.6s8.8-14.5 13.3-20.6s8.9-11.3 13.3-16.2s8.9-9.4 13.3-13.8s8.9-8.6 13.3-11.8s8.9-4.8 13.4-5s8.8 1.2 13.3 2.3s8.9 1.7 13.3 1s8.9-2.7 13.3-4.9s8.9-4.3 13.3-4.2s8.9 2.4 13.4 5.5s8.8 6.9 13.3 10.3s8.9 6.6 13.3 9.5"/>
<path stroke="#7f7f7f" d="M404.1 39.4c4.4-3 8.9-8.2 13.3-14.9s8.9-14.6 13.3-17.4s8.9 .9 13.4 7.3s8.8 14.1 13.3 20.7s8.9 12.5 13.3 18.9s8.9 13.6 13.3 21.3s8.9 16 13.3 18.8s8.9-.9 13.4-7.1s8.8-13.9 13.3-19.9s8.9-10.8 13.3-15s8.9-7.7 13.3-10.9s8.9-5.8 13.3-8.3s8.9-4.5 13.4-6.7s8.8-4.2 13.3-6.4s8.9-4.3 13.3-5.7s8.9-1.9 13.3-1.4s8.9 1.9 13.3 3.6s8.9 3.4 13.4 5.1s8.8 3.3 13.3 5s8.9 3.4 13.3 5.1"/>
<path stroke="#bcbd22" d="M404.1 39.8c4.4-3.1 8.9-8.4 13.3-15.2s8.9-14.8 13.3-17.7s8.9 1 13.4 7.4s8.8 14.3 13.3 21s8.9 12.6 13.3 19.1s8.9 13.8 13.3 21.7s8.9 16 13.3 18.5s8.9-1.7 13.4-8.2s8.8-14.1 13.3-20.1s8.9-11 13.3-15.4s8.9-8.3 13.3-11.8s8.9-6.9 13.3-9.7s8.9-5.3 13.4-7.2s8.8-3.1 13.3-4s8.9-1.5 13.3-2.2s8.9-1.2 13.3-1.5s8.9-.3 13.3 .5s8.9 2.3 13.4 4.3s8.8 4.2 13.3 6.5s8.9 4.7 13.3 6.9"/>
<path stroke="#17becf" d="M404.1 38.5c4.4-2.9 8.9-8.3 13.3-14.9s8.9-14.3 13.3-16.7s8.9 1.7 13.4 8.1s8.8 14.1 13.3 20.6s8.9 12.3 13.3 18.7s8.9 13.6 13.3 21.3s8.9 15.9 13.3 18.6s8.9-1.1 13.4-7.4s8.8-13.9 13.3-19.9s8.9-10.8 13.3-15.1s8.9-7.8 13.3-11s8.9-6 13.3-8.5s8.9-4.7 13.4-6.8s8.8-4.2 13.3-6.1s8.9-3.8 13.3-5s8.9-1.7 13.3-1.3s8.9 1.6 13.3 3s8.9 3.2 13.4 4.8s8.8 3.4 13.3 5.2s8.9 3.7 13.3 5.5"/>
<path stroke="#1f77b4" d="M404.1 38.3c4.4-2.9 8.9-8.3 13.3-14.9s8.9-14.3 13.3-16.6s8.9 1.9 13.4 8.4s8.8 14 13.3 20.5s8.9 12.3 13.3 18.7s8.9 13.6 13.3 21.3s8.9 15.9 13.3 18.6s8.9-1.2 13.4-7.6s8.8-13.8 13.3-19.8s8.9-10.9 13.3-15.1s8.9-7.9 13.3-11.1s8.9-6 13.3-8.6s8.9-4.8 13.4-6.9s8.8-4 13.3-5.9s8.9-3.7 13.3-4.8s8.9-1.7 13.3-1.3s8.9 1.5 13.3 2.9s8.9 3 13.4 4.7s8.8 3.4 13.3 5.3s8.9 3.7 13.3 5.5"/>
<path stroke="#ff7f0e" d="M404.1 38.6c4.4-2.9 8.9-8.2 13.3-14.8s8.9-14.4 13.3-16.8s8.9 1.4 13.4 7.9s8.8 14 13.3 20.5s8.9 12.4 13.3 18.7s8.9 13.6 13.3 21.2s8.9 16 13.3 18.8s8.9-.9 13.4-7.1s8.8-13.8 13.3-19.8s8.9-10.8 13.3-15s8.9-7.6 13.3-10.7s8.9-5.7 13.3-8s8.9-4.5 13.4-6.6s8.8-4.3 13.3-6.6s8.9-4.7 13.3-6.3s8.9-2.3 13.3-1.7s8.9 2.3 13.3 4.1s8.9 3.7 13.4 5.3s8.8 3.3 13.3 4.9s8.9 3.3 13.3 4.9"/>
<path stroke="#2ca02c" d="M404.1 39.2c4.4-2.9 8.9-8.2 13.3-14.8s8.9-14.6 13.3-17.3s8.9 1 13.4 7.4s8.8 14.1 13.3 20.7s8.9 12.5 13.3 18.8s8.9 13.6 13.3 21.3s8.9 16 13.3 18.8s8.9-.9 13.4-7.1s8.8-13.8 13.3-19.8s8.9-10.9 13.3-15.1s8.9-7.7 13.3-10.8s8.9-5.7 13.3-8.1s8.9-4.6 13.4-6.7s8.8-4.3 13.3-6.5s8.9-4.5 13.3-6s8.9-2 13.3-1.5s8.9 2.1 13.3 3.8s8.9 3.5 13.4 5.2s8.8 3.3 13.3 5s8.9 3.4 13.3 5"/>
<path stroke="#d62728" d="M404.1 39.4c4.4-3 8.9-8.4 13.3-15.1s8.9-14.8 13.3-17.5s8.9 1.3 13.4 7.8s8.8 14.3 13.3 20.9s8.9 12.6 13.3 19.1s8.9 13.8 13.3 21.6s8.9 16.1 13.3 18.5s8.9-1.9 13.4-8.4s8.8-14.1 13.3-20.2s8.9-11 13.3-15.4s8.9-8.3 13.3-11.9s8.9-7 13.3-9.9s8.9-5.3 13.4-7.1s8.8-2.9 13.3-3.6s8.9-1.3 13.3-1.8s8.9-1.3 13.3-1.8s8.9-.5 13.3 .2s8.9 2.3 13.4 4.2s8.8 4.4 13.3 6.8s8.9 4.9 13.3 7.1"/>
<path stroke="#9467bd" d="M404.1 38.8c4.4-3.1 8.9-8.6 13.3-15.3s8.9-14.6 13.3-16.9s8.9 2 13.4 8.6s8.8 14.3 13.3 20.8s8.9 12.5 13.3 19s8.9 13.9 13.3 21.8s8.9 16 13.3 18.2s8.9-2.5 13.4-9.2s8.8-14.2 13.3-20.2s8.9-11.2 13.3-15.7s8.9-8.6 13.3-12.5s8.9-7.5 13.3-10.6s8.9-5.4 13.4-6.8s8.8-1.7 13.3-1.7s8.9 0 13.3-.5s8.9-1.6 13.3-2.6s8.9-1.8 13.3-1.3s8.9 2.1 13.4 4.4s8.8 5.1 13.3 7.9s8.9 5.5 13.3 7.9"/>
<path stroke="#8c564b" d="M404.1 39.2c4.4-2.9 8.9-8.2 13.3-14.8s8.9-14.5 13.3-17.3s8.9 .9 13.4 7.3s8.8 14.1 13.3 20.7s8.9 12.5 13.3 18.8s8.9 13.5 13.3 21.2s8.9 16 13.3 18.9s8.9-.7 13.4-6.9s8.8-13.7 13.3-19.7s8.9-10.8 13.3-14.9s8.9-7.6 13.3-10.6s8.9-5.5 13.3-7.8s8.9-4.2 13.4-6.3s8.8-4.4 13.3-6.9s8.9-5.2 13.3-7.1s8.9-2.7 13.3-2s8.9 2.7 13.3 4.7s8.9 4 13.4 5.7s8.8 3.3 13.3 4.8s8.9 3.1 13.3 4.6"/>
<path stroke="#e377c2" d="M404.1 38.2c4.4-2.9 8.9-8.3 13.3-14.9s8.9-14.2 13.3-16.5s8.9 2 13.4 8.4s8.8 14.1 13.3 20.5s8.9 12.3 13.3 18.6s8.9 13.6 13.3 21.3s8.9 15.9 13.3 18.6s8.9-1.1 13.4-7.4s8.8-13.8 13.3-19.8s8.9-10.9 13.3-15.1s8.9-7.7 13.3-10.9s8.9-5.9 13.3-8.4s8.9-4.6 13.4-6.7s8.8-4.2 13.3-6.3s8.9-4 13.3-5.4s8.9-1.8 13.3-1.3s8.9 1.8 13.3 3.3s8.9 3.3 13.4 4.9s8.8 3.4 13.3 5.1s8.9 3.6 13.3 5.3"/>
<path stroke="#7f7f7f" d="M404.1 39.7c4.4-3.2 8.9-8.8 13.3-15.7s8.9-15 13.3-17.5s8.9 1.7 13.4 8.4s8.8 14.5 13.3 21.1s8.9 12.7 13.3 19.4s8.9 14.2 13.3 22.2s8.9 16.1 13.3 17.9s8.9-3.4 13.4-10.3s8.8-14.5 13.3-20.7s8.9-11.3 13.3-16.1s8.9-9.3 13.3-13.6s8.9-8.6 13.3-11.7s8.9-5 13.4-5.3s8.8 .8 13.3 1.8s8.9 1.6 13.3 1s8.9-2.6 13.3-4.7s8.9-4 13.3-3.8s8.9 2.2 13.4 5.3s8.8 6.7 13.3 10.1s8.9 6.4 13.3 9.2"/>
<path stroke="#bcbd22" d="M404.1 39.7c4.4-2.9 8.9-8.2 13.3-14.8s8.9-14.8 13.3-17.7s8.9 .5 13.4 6.9s8.8 14.2 13.3 20.8s8.9 12.6 13.3 19s8.9 13.6 13.3 21.4s8.9 16 13.3 18.8s8.9-.8 13.4-7.1s8.8-13.8 13.3-19.8s8.9-10.9 13.3-15.1s8.9-7.6 13.3-10.8s8.9-5.8 13.3-8.2s8.9-4.5 13.4-6.6s8.8-4.3 13.3-6.5s8.9-4.5 13.3-6s8.9-2 13.3-1.5s8.9 2.1 13.3 3.8s8.9 3.5 13.4 5.2s8.8 3.3 13.3 5s8.9 3.4 13.3 5"/>
<path stroke="#17becf" d="M404.1 39.4c4.4-3.2 8.9-8.7 13.3-15.5s8.9-14.8 13.3-17.3s8.9 1.7 13.4 8.3s8.8 14.3 13.3 21s8.9 12.5 13.3 19.1s8.9 14 13.3 21.9s8.9 16.1 13.3 18.2s8.9-2.6 13.4-9.3s8.8-14.3 13.3-20.4s8.9-11.2 13.3-15.8s8.9-8.7 13.3-12.7s8.9-7.7 13.3-10.8s8.9-5.4 13.4-6.6s8.8-1.2 13.3-1.1s8.9 .4 13.3 0s8.9-1.8 13.3-3s8.9-2.2 13.3-1.9s8.9 2.1 13.4 4.5s8.8 5.5 13.3 8.4s8.9 5.7 13.3 8.2"/>
<path stroke="#1f77b4" d="M404.1 38.7c4.4-3.1 8.9-8.7 13.3-15.5s8.9-14.6 13.3-16.8s8.9 2.4 13.4 9s8.8 14.4 13.3 20.9s8.9 12.5 13.3 19s8.9 14.1 13.3 22s8.9 16.1 13.3 18s8.9-3.1 13.4-9.9s8.8-14.3 13.3-20.5s8.9-11.2 13.3-15.8s8.9-9 13.3-13.2s8.9-8.1 13.3-11.2s8.9-5.3 13.4-6.1s8.8-.3 13.3 .3s8.9 1 13.3 .5s8.9-2.1 13.3-3.7s8.9-3.1 13.3-2.9s8.9 2.2 13.4 4.9s8.8 6.1 13.3 9.2s8.9 6 13.3 8.7"/>
<path stroke="#ff7f0e" d="M404.1 39.2c4.4-3 8.9-8.3 13.3-15s8.9-14.7 13.3-17.3s8.9 1.3 13.4 7.8s8.8 14.2 13.3 20.8s8.9 12.5 13.3 19s8.9 13.7 13.3 21.5s8.9 16 13.3 18.6s8.9-1.7 13.4-8.1s8.8-14.1 13.3-20.1s8.9-11 13.3-15.3s8.9-8.2 13.3-11.7s8.9-6.6 13.3-9.4s8.9-5.2 13.4-7.2s8.8-3.3 13.3-4.5s8.9-1.9 13.3-2.6s8.9-1.3 13.3-1.5s8.9 .2 13.3 1.1s8.9 2.4 13.4 4.2s8.8 4.1 13.3 6.3s8.9 4.5 13.3 6.6"/>
<path stroke="#2ca02c" d="M404.1 38c4.4-3.1 8.9-8.7 13.3-15.3s8.9-14.3 13.3-16.3s8.9 2.8 13.4 9.4s8.8 14.2 13.3 20.6s8.9 12.3 13.3 18.8s8.9 13.9 13.3 21.7s8.9 16 13.3 18.1s8.9-2.6 13.4-9.3s8.8-14.2 13.3-20.2s8.9-11.1 13.3-15.7s8.9-8.6 13.3-12.5s8.9-7.5 13.3-10.6s8.9-5.4 13.4-6.8s8.8-1.6 13.3-1.6s8.9 .1 13.3-.4s8.9-1.6 13.3-2.6s8.9-1.9 13.3-1.5s8.9 2.1 13.4 4.4s8.8 5.3 13.3 8s8.9 5.5 13.3 8"/>
<path stroke="#d62728" d="M404.1 38.4c4.4-3.2 8.9-8.8 13.3-15.6s8.9-14.5 13.3-16.4s8.9 2.6 13.4 9.3s8.8 14.3 13.3 20.8s8.9 12.4 13.3 19s8.9 14 13.3 21.9s8.9 16 13.3 17.9s8.9-3.1 13.4-10s8.8-14.3 13.3-20.4s8.9-11.2 13.3-15.9s8.9-9.1 13.3-13.3s8.9-8.1 13.3-11.3s8.9-5.2 13.4-5.9s8.8-.2 13.3 .5s8.9 1.1 13.3 .6s8.9-2.2 13.3-3.9s8.9-3.2 13.3-3s8.9 2.2 13.4 5s8.8 6.1 13.3 9.2s8.9 6.1 13.3 8.8"/>
<path stroke="#9467bd" d="M404.1 39.8c4.4-3.1 8.9-8.5 13.3-15.3s8.9-14.8 13.3-17.6s8.9 1 13.4 7.5s8.8 14.4 13.3 21s8.9 12.7 13.3 19.2s8.9 13.9 13.3 21.7s8.9 16.1 13.3 18.5s8.9-2 13.4-8.6s8.8-14.2 13.3-20.2s8.9-11.1 13.3-15.6s8.9-8.4 13.3-12.1s8.9-7.2 13.3-10.2s8.9-5.4 13.4-7s8.8-2.5 13.3-3s8.9-.7 13.3-1.2s8.9-1.4 13.3-2s8.9-1 13.3-.4s8.9 2.1 13.4 4.2s8.8 4.7 13.3 7.2s8.9 5.1 13.3 7.4"/>
<path stroke="#8c564b" d="M404.1 40c4.4-3.1 8.9-8.4 13.3-15.2s8.9-14.9 13.3-17.8s8.9 .7 13.4 7.2s8.8 14.4 13.3 21s8.9 12.7 13.3 19.2s8.9 13.8 13.3 21.7s8.9 16.1 13.3 18.6s8.9-1.8 13.4-8.3s8.8-14.1 13.3-20.2s8.9-11 13.3-15.4s8.9-8.3 13.3-11.9s8.9-6.9 13.3-9.8s8.9-5.3 13.4-7.1s8.8-3 13.3-3.8s8.9-1.4 13.3-2s8.9-1.3 13.3-1.6s8.9-.4 13.3 .3s8.9 2.3 13.4 4.2s8.8 4.3 13.3 6.7s8.9 4.8 13.3 7"/>
<path stroke="#e377c2" d="M404.1 39c4.4-2.9 8.9-8.1 13.3-14.7s8.9-14.5 13.3-17.2s8.9 1 13.4 7.4s8.8 14.1 13.3 20.6s8.9 12.4 13.3 18.8s8.9 13.4 13.3 21.1s8.9 15.9 13.3 18.9s8.9-.5 13.4-6.7s8.8-13.6 13.3-19.6s8.9-10.8 13.3-14.9s8.9-7.4 13.3-10.3s8.9-5.2 13.3-7.3s8.9-4 13.4-6s8.8-4.4 13.3-7.1s8.9-5.9 13.3-8.2s8.9-3.5 13.3-2.7s8.9 3.1 13.3 5.4s8.9 4.7 13.4 6.5s8.8 3.3 13.3 4.7s8.9 2.9 13.3 4.3"/>
<path stroke="#7f7f7f" d="M404.1 39.5c4.4-2.9 8.9-8.2 13.3-14.8s8.9-14.7 13.3-17.6s8.9 .8 13.4 7.2s8.8 14.1 13.3 20.8s8.9 12.5 13.3 18.9s8.9 13.6 13.3 21.3s8.9 16 13.3 18.9s8.9-1 13.4-7.2s8.8-13.9 13.3-19.9s8.9-10.9 13.3-15.1s8.9-7.7 13.3-10.8s8.9-5.9 13.3-8.3s8.9-4.6 13.4-6.8s8.8-4.2 13.3-6.3s8.9-4.3 13.3-5.7s8.9-1.9 13.3-1.4s8.9 2 13.3 3.6s8.9 3.3 13.4 5s8.8 3.3 13.3 5s8.9 3.5 13.3 5.2"/>
<path stroke="#bcbd22" d="M404.1 38.5c4.4-3.1 8.9-8.5 13.3-15.2s8.9-14.5 13.3-16.7s8.9 2.2 13.4 8.7s8.8 14.2 13.3 20.7s8.9 12.4 13.3 18.8s8.9 13.8 13.3 21.6s8.9 16 13.3 18.4s8.9-2.1 13.4-8.7s8.8-14 13.3-20.1s8.9-11 13.3-15.4s8.9-8.4 13.3-12s8.9-7 13.3-10s8.9-5.3 13.4-7.1s8.8-2.7 13.3-3.4s8.9-1 13.3-1.6s8.9-1.3 13.3-1.8s8.9-.7 13.3 0s8.9 2.2 13.4 4.2s8.8 4.5 13.3 7s8.9 4.9 13.3 7.2"/>
<path stroke="#17becf" d="M404.1 39.3c4.4-2.9 8.9-8.2 13.3-14.8s8.9-14.5 13.3-17.3s8.9 .8 13.4 7.1s8.8 14.1 13.3 20.7s8.9 12.5 13.3 18.8s8.9 13.5 13.3 21.2s8.9 15.9 13.3 18.9s8.9-.5 13.4-6.7s8.8-13.7 13.3-19.6s8.9-10.9 13.3-15s8.9-7.5 13.3-10.4s8.9-5.4 13.3-7.5s8.9-4.1 13.4-6.2s8.8-4.3 13.3-7s8.9-5.6 13.3-7.8s8.9-3 13.3-2.3s8.9 2.9 13.3 5.1s8.9 4.4 13.4 6.2s8.8 3.2 13.3 4.7s8.9 3 13.3 4.4"/>
<path stroke="#1f77b4" d="M404.1 38.4c4.4-3.1 8.9-8.6 13.3-15.4s8.9-14.4 13.3-16.5s8.9 2.4 13.4 9s8.8 14.3 13.3 20.8s8.9 12.4 13.3 18.8s8.9 14 13.3 21.8s8.9 16 13.3 18.1s8.9-2.6 13.4-9.3s8.8-14.2 13.3-20.3s8.9-11.1 13.3-15.6s8.9-8.7 13.3-12.6s8.9-7.6 13.3-10.7s8.9-5.4 13.4-6.7s8.8-1.5 13.3-1.5s8.9 .2 13.3-.2s8.9-1.7 13.3-2.8s8.9-2 13.3-1.6s8.9 2.1 13.4 4.5s8.8 5.3 13.3 8.1s8.9 5.6 13.3 8.1"/>
<path stroke="#ff7f0e" d="M404.1 38.1c4.4-2.9 8.9-8.3 13.3-14.9s8.9-14.3 13.3-16.5s8.9 2.2 13.4 8.7s8.8 14 13.3 20.5s8.9 12.3 13.3 18.7s8.9 13.6 13.3 21.3s8.9 15.9 13.3 18.5s8.9-1.5 13.4-7.9s8.8-13.9 13.3-19.9s8.9-10.9 13.3-15.2s8.9-7.9 13.3-11.3s8.9-6.3 13.3-8.9s8.9-5 13.4-7.1s8.8-3.8 13.3-5.3s8.9-2.9 13.3-3.8s8.9-1.5 13.3-1.3s8.9 .9 13.3 2s8.9 2.8 13.4 4.5s8.8 3.7 13.3 5.7s8.9 4.1 13.3 6"/>
<path stroke="#2ca02c" d="M404.1 38.4c4.4-3.1 8.9-8.6 13.3-15.3s8.9-14.4 13.3-16.6s8.9 2.4 13.4 9s8.8 14.2 13.3 20.7s8.9 12.4 13.3 18.8s8.9 13.9 13.3 21.7s8.9 16 13.3 18.2s8.9-2.4 13.4-9s8.8-14.2 13.3-20.2s8.9-11.1 13.3-15.6s8.9-8.6 13.3-12.4s8.9-7.4 13.3-10.4s8.9-5.4 13.4-6.9s8.8-2 13.3-2.2s8.9-.3 13.3-.7s8.9-1.5 13.3-2.4s8.9-1.5 13.3-1s8.9 2.1 13.4 4.3s8.8 5 13.3 7.7s8.9 5.3 13.3 7.7"/>
<path stroke="#d62728" d="M404.1 38c4.4-3.1 8.9-8.6 13.3-15.3s8.9-14.3 13.3-16.2s8.9 2.7 13.4 9.3s8.8 14.1 13.3 20.6s8.9 12.3 13.3 18.7s8.9 13.9 13.3 21.7s8.9 16 13.3 18.2s8.9-2.5 13.4-9.2s8.8-14.1 13.3-20.2s8.9-11.1 13.3-15.6s8.9-8.5 13.3-12.4s8.9-7.4 13.3-10.4s8.9-5.4 13.4-6.9s8.8-1.9 13.3-2.1s8.9-.2 13.3-.7s8.9-1.4 13.3-2.4s8.9-1.5 13.3-1.1s8.9 2.1 13.4 4.4s8.8 5 13.3 7.7s8.9 5.4 13.3 7.8"/>
<path stroke="#9467bd" d="M404.1 38.8c4.4-3.1 8.9-8.7 13.3-15.4s8.9-14.6 13.3-16.8s8.9 2.1 13.4 8.7s8.8 14.2 13.3 20.8s8.9 12.4 13.3 19s8.9 13.9 13.3 21.8s8.9 16 13.3 18.1s8.9-2.5 13.4-9.2s8.8-14.3 13.3-20.3s8.9-11.2 13.3-15.7s8.9-8.7 13.3-12.6s8.9-7.6 13.3-10.7s8.9-5.4 13.4-6.7s8.8-1.5 13.3-1.5s8.9 .2 13.3-.3s8.9-1.6 13.3-2.7s8.9-2 13.3-1.6s8.9 2.1 13.4 4.5s8.8 5.3 13.3 8.1s8.9 5.6 13.3 8"/>
<path stroke="#8c564b" d="M404.1 38.3c4.4-3.1 8.9-8.6 13.3-15.2s8.9-14.4 13.3-16.5s8.9 2.3 13.4 8.9s8.8 14.2 13.3 20.6s8.9 12.4 13.3 18.8s8.9 13.8 13.3 21.6s8.9 16 13.3 18.3s8.9-2.2 13.4-8.7s8.8-14.1 13.3-20.2s8.9-11 13.3-15.4s8.9-8.4 13.3-12.1s8.9-7.1 13.3-10.1s8.9-5.3 13.4-7s8.8-2.6 13.3-3.2s8.9-.8 13.3-1.4s8.9-1.3 13.3-1.9s8.9-.9 13.3-.2s8.9 2.1 13.4 4.2s8.8 4.6 13.3 7.1s8.9 5 13.3 7.3"/>
<path stroke="#e377c2" d="M404.1 39.1c4.4-3.2 8.9-8.7 13.3-15.4s8.9-14.7 13.3-17.1s8.9 1.9 13.4 8.5s8.8 14.3 13.3 20.9s8.9 12.5 13.3 19s8.9 14 13.3 21.9s8.9 16 13.3 18.2s8.9-2.6 13.4-9.3s8.8-14.3 13.3-20.4s8.9-11.1 13.3-15.7s8.9-8.7 13.3-12.7s8.9-7.7 13.3-10.8s8.9-5.4 13.4-6.6s8.8-1.3 13.3-1.2s8.9 .3 13.3-.2s8.9-1.7 13.3-2.8s8.9-2.2 13.3-1.8s8.9 2.1 13.4 4.5s8.8 5.4 13.3 8.3s8.9 5.6 13.3 8.1"/>
<path stroke="#7f7f7f" d="M404.1 39.5c4.4-3.2 8.9-8.8 13.3-15.6s8.9-14.8 13.3-17.3s8.9 1.7 13.4 8.3s8.8 14.4 13.3 21s8.9 12.7 13.3 19.2s8.9 14.1 13.3 22.1s8.9 16 13.3 18s8.9-2.9 13.4-9.6s8.8-14.4 13.3-20.5s8.9-11.2 13.3-15.9s8.9-9 13.3-13.1s8.9-8 13.3-11.1s8.9-5.4 13.4-6.2s8.8-.5 13.3 0s8.9 .9 13.3 .4s8.9-2 13.3-3.6s8.9-2.9 13.3-2.6s8.9 2.1 13.4 4.8s8.8 5.9 13.3 9s8.9 5.9 13.3 8.6"/>
<path stroke="#bcbd22" d="M404.1 39c4.4-3 8.9-8.5 13.3-15.2s8.9-14.6 13.3-17.1s8.9 1.7 13.4 8.3s8.8 14.2 13.3 20.8s8.9 12.5 13.3 19s8.9 13.8 13.3 21.7s8.9 16 13.3 18.3s8.9-2.1 13.4-8.7s8.8-14.1 13.3-20.2s8.9-11.1 13.3-15.5s8.9-8.5 13.3-12.2s8.9-7.1 13.3-10.1s8.9-5.4 13.4-7s8.8-2.5 13.3-3s8.9-.7 13.3-1.2s8.9-1.3 13.3-2s8.9-1 13.3-.4s8.9 2.1 13.4 4.2s8.8 4.7 13.3 7.2s8.9 5.1 13.3 7.5"/>
<path stroke="#17becf" d="M404.1 38.7c4.4-3.2 8.9-8.8 13.3-15.6s8.9-14.6 13.3-16.7s8.9 2.4 13.4 9.1s8.8 14.3 13.3 20.8s8.9 12.5 13.3 19.1s8.9 14 13.3 21.9s8.9 16 13.3 18s8.9-3.1 13.4-9.9s8.8-14.3 13.3-20.4s8.9-11.2 13.3-15.9s8.9-9 13.3-13.2s8.9-8.1 13.3-11.2s8.9-5.3 13.4-6.1s8.8-.3 13.3 .3s8.9 1 13.3 .5s8.9-2.1 13.3-3.7s8.9-3.1 13.3-2.9s8.9 2.2 13.4 4.9s8.8 6.1 13.3 9.2s8.9 6 13.3 8.7"/>
<path stroke="#1f77b4" d="M404.1 39.5c4.4-3.1 8.9-8.6 13.3-15.4s8.9-14.8 13.3-17.4s8.9 1.5 13.4 8s8.8 14.4 13.3 21s8.9 12.6 13.3 19.2s8.9 14 13.3 21.9s8.9 16 13.3 18.2s8.9-2.4 13.4-9.1s8.8-14.3 13.3-20.4s8.9-11.1 13.3-15.7s8.9-8.7 13.3-12.6s8.9-7.6 13.3-10.6s8.9-5.5 13.4-6.8s8.8-1.5 13.3-1.5s8.9 .2 13.3-.3s8.9-1.6 13.3-2.7s8.9-1.9 13.3-1.5s8.9 2 13.4 4.4s8.8 5.3 13.3 8.1s8.9 5.5 13.3 8"/>
<path stroke="#ff7f0e" d="M404.1 39.4c4.4-3 8.9-8.3 13.3-15s8.9-14.7 13.3-17.4s8.9 1 13.4 7.5s8.8 14.2 13.3 20.8s8.9 12.5 13.3 18.9s8.9 13.7 13.3 21.5s8.9 16 13.3 18.7s8.9-1.3 13.4-7.7s8.8-13.9 13.3-19.9s8.9-11 13.3-15.2s8.9-7.9 13.3-11.3s8.9-6.2 13.3-8.8s8.9-5 13.4-7s8.8-3.9 13.3-5.6s8.9-3.1 13.3-4.1s8.9-1.5 13.3-1.3s8.9 1.1 13.3 2.4s8.9 2.8 13.4 4.5s8.8 3.6 13.3 5.5s8.9 4 13.3 5.9"/>
<path stroke="#2ca02c" d="M404.1 38.1c4.4-2.9 8.9-8.3 13.3-14.9s8.9-14.2 13.3-16.4s8.9 2 13.4 8.5s8.8 14 13.3 20.5s8.9 12.2 13.3 18.6s8.9 13.5 13.3 21.2s8.9 15.9 13.3 18.6s8.9-1.1 13.4-7.5s8.8-13.8 13.3-19.8s8.9-10.8 13.3-15s8.9-7.8 13.3-11s8.9-6 13.3-8.5s8.9-4.7 13.4-6.8s8.8-4.1 13.3-6.1s8.9-3.9 13.3-5.2s8.9-1.7 13.3-1.3s8.9 1.7 13.3 3.2s8.9 3.1 13.4 4.8s8.8 3.4 13.3 5.2s8.9 3.6 13.3 5.4"/>
<path stroke="#d62728" d="M404.1 38.5c4.4-3.1 8.9-8.6 13.3-15.4s8.9-14.5 13.3-16.6s8.9 2.3 13.4 9s8.8 14.2 13.3 20.7s8.9 12.4 13.3 19s8.9 13.9 13.3 21.8s8.9 16 13.3 18.1s8.9-2.7 13.4-9.4s8.8-14.2 13.3-20.3s8.9-11.1 13.3-15.7s8.9-8.7 13.3-12.7s8.9-7.6 13.3-10.7s8.9-5.4 13.4-6.7s8.8-1.3 13.3-1.2s8.9 .3 13.3-.2s8.9-1.7 13.3-2.8s8.9-2.2 13.3-1.8s8.9 2.1 13.4 4.5s8.8 5.4 13.3 8.2s8.9 5.7 13.3 8.2"/>
<path stroke="#9467bd" d="M404.1 39.8c4.4-3 8.9-8.3 13.3-14.9s8.9-14.8 13.3-17.8s8.9 .6 13.4 7s8.8 14.3 13.3 20.9s8.9 12.6 13.3 19.1s8.9 13.6 13.3 21.4s8.9 16 13.3 18.8s8.9-1.1 13.4-7.5s8.8-13.9 13.3-19.9s8.9-10.9 13.3-15.2s8.9-7.8 13.3-11.1s8.9-6.1 13.3-8.7s8.9-4.9 13.4-6.9s8.8-4.1 13.3-5.9s8.9-3.4 13.3-4.5s8.9-1.6 13.3-1.3s8.9 1.4 13.3 2.7s8.9 3 13.4 4.6s8.8 3.5 13.3 5.4s8.9 3.8 13.3 5.7"/>
<path stroke="#8c564b" d="M404.1 38.5c4.4-3.1 8.9-8.6 13.3-15.3s8.9-14.6 13.3-16.7s8.9 2.3 13.4 9s8.8 14.2 13.3 20.7s8.9 12.4 13.3 18.9s8.9 14 13.3 21.9s8.9 16 13.3 18.1s8.9-2.7 13.4-9.4s8.8-14.2 13.3-20.3s8.9-11.1 13.3-15.7s8.9-8.7 13.3-12.7s8.9-7.6 13.3-10.7s8.9-5.4 13.4-6.7s8.8-1.3 13.3-1.2s8.9 .3 13.3-.2s8.9-1.7 13.3-2.8s8.9-2.2 13.3-1.8s8.9 2.1 13.4 4.5s8.8 5.4 13.3 8.2s8.9 5.7 13.3 8.2"/>
<path stroke="#e377c2" d="M404.1 39.8c4.4-3.1 8.9-8.6 13.3-15.4s8.9-14.9 13.3-17.6s8.9 1.2 13.4 7.7s8.8 14.4 13.3 21.1s8.9 12.6 13.3 19.2s8.9 14 13.3 21.9s8.9 16.1 13.3 18.3s8.9-2.4 13.4-9.1s8.8-14.2 13.3-20.3s8.9-11.2 13.3-15.7s8.9-8.7 13.3-12.6s8.9-7.5 13.3-10.6s8.9-5.4 13.4-6.8s8.8-1.6 13.3-1.6s8.9 .1 13.3-.4s8.9-1.6 13.3-2.6s8.9-1.9 13.3-1.5s8.9 2.1 13.4 4.4s8.8 5.2 13.3 8s8.9 5.5 13.3 8"/>
<path stroke="#7f7f7f" d="M404.1 38.2c4.4-3 8.9-8.3 13.3-14.9s8.9-14.3 13.3-16.5s8.9 2 13.4 8.5s8.8 14 13.3 20.5s8.9 12.2 13.3 18.6s8.9 13.5 13.3 21.2s8.9 15.9 13.3 18.6s8.9-1.1 13.4-7.4s8.8-13.9 13.3-19.8s8.9-10.9 13.3-15.1s8.9-7.8 13.3-11s8.9-5.9 13.3-8.4s8.9-4.7 13.4-6.8s8.8-4.2 13.3-6.2s8.9-3.9 13.3-5.2s8.9-1.8 13.3-1.3s8.9 1.7 13.3 3.2s8.9 3.2 13.4 4.8s8.8 3.4 13.3 5.2s8.9 3.6 13.3 5.4"/>
<path stroke="#bcbd22" d="M404.1 38.9c4.4-3 8.9-8.4 13.3-15.1s8.9-14.5 13.3-17s8.9 1.6 13.4 8.1s8.8 14.2 13.3 20.8s8.9 12.4 13.3 18.9s8.9 13.7 13.3 21.5s8.9 16 13.3 18.5s8.9-1.7 13.4-8.2s8.8-14 13.3-20s8.9-11 13.3-15.4s8.9-8.1 13.3-11.6s8.9-6.7 13.3-9.5s8.9-5.2 13.4-7.2s8.8-3.3 13.3-4.4s8.9-1.9 13.3-2.6s8.9-1.2 13.3-1.4s8.9 .1 13.3 .9s8.9 2.4 13.4 4.3s8.8 4 13.3 6.3s8.9 4.5 13.3 6.6"/>
<path stroke="#17becf" d="M404.1 38.1c4.4-3 8.9-8.5 13.3-15.1s8.9-14.4 13.3-16.4s8.9 2.4 13.4 9s8.8 14.1 13.3 20.6s8.9 12.3 13.3 18.7s8.9 13.8 13.3 21.6s8.9 15.9 13.3 18.3s8.9-2.1 13.4-8.7s8.8-14.1 13.3-20.1s8.9-11 13.3-15.4s8.9-8.4 13.3-12s8.9-7 13.3-9.9s8.9-5.4 13.4-7.1s8.8-2.8 13.3-3.4s8.9-1.1 13.3-1.7s8.9-1.3 13.3-1.8s8.9-.7 13.3 0s8.9 2.2 13.4 4.2s8.8 4.5 13.3 7s8.9 4.9 13.3 7.1"/>
<path stroke="#1f77b4" d="M404.1 38.5c4.4-3.1 8.9-8.7 13.3-15.4s8.9-14.6 13.3-16.7s8.9 2.5 13.4 9.2s8.8 14.2 13.3 20.7s8.9 12.4 13.3 19s8.9 14 13.3 21.9s8.9 16 13.3 18s8.9-2.9 13.4-9.6s8.8-14.3 13.3-20.4s8.9-11.2 13.3-15.8s8.9-8.9 13.3-12.9s8.9-7.9 13.3-11s8.9-5.4 13.4-6.4s8.8-.8 13.3-.5s8.9 .7 13.3 .2s8.9-1.9 13.3-3.3s8.9-2.6 13.3-2.3s8.9 2.1 13.4 4.7s8.8 5.7 13.3 8.7s8.9 5.8 13.3 8.4"/>
<path stroke="#ff7f0e" d="M404.1 39.4c4.4-2.9 8.9-8.2 13.3-14.9s8.9-14.6 13.3-17.4s8.9 .9 13.4 7.3s8.8 14.2 13.3 20.8s8.9 12.5 13.3 18.9s8.9 13.6 13.3 21.4s8.9 16 13.3 18.7s8.9-1 13.4-7.3s8.8-13.9 13.3-19.9s8.9-10.9 13.3-15.1s8.9-7.9 13.3-11.1s8.9-6 13.3-8.5s8.9-4.8 13.4-6.9s8.8-4.1 13.3-6s8.9-3.8 13.3-5s8.9-1.7 13.3-1.3s8.9 1.6 13.3 3s8.9 3.1 13.4 4.8s8.8 3.4 13.3 5.2s8.9 3.7 13.3 5.5"/>
<path stroke="#2ca02c" d="M404.1 39.9c4.4-3.2 8.9-8.7 13.3-15.5s8.9-14.9 13.3-17.7s8.9 1.2 13.4 7.8s8.8 14.4 13.3 21.1s8.9 12.7 13.3 19.3s8.9 14 13.3 21.9s8.9 16.1 13.3 18.3s8.9-2.6 13.4-9.3s8.8-14.3 13.3-20.4s8.9-11.1 13.3-15.7s8.9-8.8 13.3-12.8s8.9-7.7 13.3-10.8s8.9-5.4 13.4-6.6s8.8-1.3 13.3-1.1s8.9 .4 13.3-.1s8.9-1.7 13.3-2.9s8.9-2.2 13.3-1.9s8.9 2.1 13.4 4.6s8.8 5.4 13.3 8.3s8.9 5.7 13.3 8.2"/>
<path stroke="#d62728" d="M404.1 38.6c4.4-2.9 8.9-8.2 13.3-14.7s8.9-14.4 13.3-16.9s8.9 1.4 13.4 7.8s8.8 14.1 13.3 20.6s8.9 12.3 13.3 18.7s8.9 13.5 13.3 21.2s8.9 15.9 13.3 18.7s8.9-.8 13.4-7s8.8-13.7 13.3-19.7s8.9-10.8 13.3-14.9s8.9-7.6 13.3-10.7s8.9-5.5 13.3-7.8s8.9-4.4 13.4-6.5s8.8-4.3 13.3-6.7s8.9-5.1 13.3-6.8s8.9-2.5 13.3-1.9s8.9 2.5 13.3 4.5s8.9 3.8 13.4 5.5s8.8 3.3 13.3 4.9s8.9 3.1 13.3 4.7"/>
<path stroke="#9467bd" d="M404.1 38.8c4.4-2.9 8.9-8.2 13.3-14.8s8.9-14.4 13.3-17s8.9 1.3 13.4 7.7s8.8 14.1 13.3 20.6s8.9 12.4 13.3 18.8s8.9 13.5 13.3 21.2s8.9 15.9 13.3 18.8s8.9-.9 13.4-7.1s8.8-13.8 13.3-19.8s8.9-10.8 13.3-15s8.9-7.6 13.3-10.7s8.9-5.6 13.3-8s8.9-4.4 13.4-6.5s8.8-4.3 13.3-6.7s8.9-4.7 13.3-6.4s8.9-2.2 13.3-1.6s8.9 2.3 13.3 4.1s8.9 3.7 13.4 5.4s8.8 3.2 13.3 4.9s8.9 3.2 13.3 4.8"/>
<path stroke="#8c564b" d="M404.1 38.1c4.4-3 8.9-8.5 13.3-15.1s8.9-14.3 13.3-16.4s8.9 2.4 13.4 9s8.8 14.1 13.3 20.5s8.9 12.3 13.3 18.8s8.9 13.7 13.3 21.5s8.9 16 13.3 18.3s8.9-2 13.4-8.6s8.8-14 13.3-20.1s8.9-11 13.3-15.4s8.9-8.3 13.3-12s8.9-6.9 13.3-9.9s8.9-5.3 13.4-7s8.8-2.8 13.3-3.5s8.9-1.2 13.3-1.7s8.9-1.3 13.3-1.8s8.9-.6 13.3 .1s8.9 2.2 13.4 4.2s8.8 4.4 13.3 6.8s8.9 4.9 13.3 7.2"/>
<path stroke="#e377c2" d="M404.1 38.7c4.4-3 8.9-8.5 13.3-15.2s8.9-14.5 13.3-16.8s8.9 1.9 13.4 8.5s8.8 14.2 13.3 20.7s8.9 12.4 13.3 18.9s8.9 13.9 13.3 21.7s8.9 16 13.3 18.3s8.9-2.1 13.4-8.7s8.8-14.1 13.3-20.2s8.9-11 13.3-15.5s8.9-8.4 13.3-12.1s8.9-7.2 13.3-10.1s8.9-5.4 13.4-7.1s8.8-2.5 13.3-3s8.9-.7 13.3-1.3s8.9-1.3 13.3-1.9s8.9-1 13.3-.4s8.9 2.2 13.4 4.2s8.8 4.7 13.3 7.2s8.9 5.1 13.3 7.4"/>
<path stroke="#7f7f7f" d="M404.1 38.4c4.4-3 8.9-8.3 13.3-14.9s8.9-14.3 13.3-16.7s8.9 1.9 13.4 8.3s8.8 14.1 13.3 20.6s8.9 12.3 13.3 18.7s8.9 13.5 13.3 21.2s8.9 16 13.3 18.7s8.9-1.2 13.4-7.5s8.8-13.9 13.3-19.9s8.9-10.9 13.3-15.1s8.9-7.8 13.3-11s8.9-6 13.3-8.6s8.9-4.7 13.4-6.8s8.8-4.1 13.3-6s8.9-3.8 13.3-5s8.9-1.7 13.3-1.3s8.9 1.6 13.3 3s8.9 3.1 13.4 4.8s8.8 3.4 13.3 5.2s8.9 3.7 13.3 5.5"/>
<path stroke="#bcbd22" d="M404.1 39.1c4.4-3 8.9-8.3 13.3-15s8.9-14.5 13.3-17.1s8.9 1.2 13.4 7.7s8.8 14.1 13.3 20.7s8.9 12.4 13.3 18.8s8.9 13.7 13.3 21.4s8.9 16 13.3 18.7s8.9-1.2 13.4-7.5s8.8-13.9 13.3-19.9s8.9-10.9 13.3-15.2s8.9-7.8 13.3-11.1s8.9-6.1 13.3-8.7s8.9-4.8 13.4-6.9s8.8-4 13.3-5.9s8.9-3.4 13.3-4.5s8.9-1.6 13.3-1.3s8.9 1.4 13.3 2.7s8.9 3 13.4 4.7s8.8 3.4 13.3 5.3s8.9 3.8 13.3 5.7"/>
<path stroke="#17becf" d="M404.1 39.5c4.4-3 8.9-8.4 13.3-15.1s8.9-14.8 13.3-17.5s8.9 1.1 13.4 7.6s8.8 14.3 13.3 20.9s8.9 12.5 13.3 19s8.9 13.8 13.3 21.6s8.9 16 13.3 18.6s8.9-1.7 13.4-8.1s8.8-14.1 13.3-20.1s8.9-11 13.3-15.4s8.9-8.2 13.3-11.7s8.9-6.7 13.3-9.5s8.9-5.2 13.4-7.1s8.8-3.3 13.3-4.4s8.9-1.9 13.3-2.6s8.9-1.2 13.3-1.4s8.9 0 13.3 .9s8.9 2.4 13.4 4.3s8.8 4 13.3 6.3s8.9 4.5 13.3 6.6"/>
<path stroke="#1f77b4" d="M404.1 38.9c4.4-3.1 8.9-8.5 13.3-15.3s8.9-14.6 13.3-16.9s8.9 1.8 13.4 8.4s8.8 14.2 13.3 20.8s8.9 12.5 13.3 19s8.9 13.9 13.3 21.7s8.9 16 13.3 18.3s8.9-2.3 13.4-8.9s8.8-14.2 13.3-20.2s8.9-11.1 13.3-15.6s8.9-8.5 13.3-12.3s8.9-7.3 13.3-10.3s8.9-5.4 13.4-7s8.8-2.1 13.3-2.4s8.9-.4 13.3-.9s8.9-1.5 13.3-2.3s8.9-1.3 13.3-.8s8.9 2.1 13.4 4.3s8.8 4.9 13.3 7.5s8.9 5.3 13.3 7.7"/>
<path stroke="#ff7f0e" d="M404.1 38.2c4.4-2.9 8.9-8.3 13.3-14.9s8.9-14.3 13.3-16.5s8.9 2 13.4 8.5s8.8 14 13.3 20.5s8.9 12.3 13.3 18.7s8.9 13.5 13.3 21.3s8.9 15.9 13.3 18.5s8.9-1.3 13.4-7.6s8.8-13.9 13.3-19.9s8.9-10.9 13.3-15.2s8.9-7.8 13.3-11.1s8.9-6.2 13.3-8.8s8.9-4.8 13.4-6.9s8.8-4 13.3-5.8s8.9-3.3 13.3-4.4s8.9-1.5 13.3-1.2s8.9 1.2 13.3 2.5s8.9 3 13.4 4.7s8.8 3.5 13.3 5.4s8.9 3.9 13.3 5.7"/>
<path stroke="#2ca02c" d="M404.1 38.8c4.4-3.2 8.9-8.8 13.3-15.6s8.9-14.7 13.3-16.8s8.9 2.4 13.4 9.1s8.8 14.3 13.3 20.9s8.9 12.5 13.3 19.1s8.9 14.1 13.3 22.1s8.9 16 13.3 17.8s8.9-3.3 13.4-10.2s8.8-14.4 13.3-20.5s8.9-11.2 13.3-16s8.9-9.2 13.3-13.4s8.9-8.4 13.3-11.5s8.9-5.2 13.4-5.7s8.8 .4 13.3 1.2s8.9 1.3 13.3 .7s8.9-2.3 13.3-4.2s8.9-3.6 13.3-3.4s8.9 2.2 13.4 5.1s8.8 6.4 13.3 9.7s8.9 6.2 13.3 9"/>
<path stroke="#d62728" d="M404.1 39.9c4.4-3.1 8.9-8.6 13.3-15.4s8.9-14.9 13.3-17.7s8.9 1.1 13.4 7.6s8.8 14.4 13.3 21.1s8.9 12.7 13.3 19.2s8.9 14 13.3 21.9s8.9 16.1 13.3 18.4s8.9-2.3 13.4-9s8.8-14.2 13.3-20.3s8.9-11.1 13.3-15.7s8.9-8.6 13.3-12.4s8.9-7.5 13.3-10.6s8.9-5.4 13.4-6.8s8.8-1.8 13.3-2s8.9-.1 13.3-.5s8.9-1.6 13.3-2.5s8.9-1.7 13.3-1.2s8.9 2.1 13.4 4.3s8.8 5.1 13.3 7.8s8.9 5.5 13.3 7.9"/>
<path stroke="#9467bd" d="M404.1 38.2c4.4-3.3 8.9-9 13.3-15.8s8.9-14.4 13.3-16.2s8.9 3.1 13.4 9.9s8.8 14.3 13.3 20.8s8.9 12.4 13.3 19s8.9 14.2 13.3 22.1s8.9 16 13.3 17.6s8.9-3.8 13.4-10.7s8.8-14.5 13.3-20.7s8.9-11.3 13.3-16.1s8.9-9.5 13.3-13.9s8.9-8.7 13.3-11.8s8.9-4.8 13.4-4.9s8.8 1.4 13.3 2.5s8.9 1.8 13.3 1.1s8.9-2.8 13.3-5.1s8.9-4.4 13.3-4.3s8.9 2.4 13.4 5.6s8.8 7 13.3 10.5s8.9 6.5 13.3 9.5"/>
<path stroke="#8c564b" d="M404.1 38.5c4.4-3.1 8.9-8.5 13.3-15.2s8.9-14.4 13.3-16.6s8.9 2 13.4 8.6s8.8 14.1 13.3 20.6s8.9 12.4 13.3 18.8s8.9 13.8 13.3 21.6s8.9 16 13.3 18.4s8.9-1.9 13.4-8.4s8.8-14.1 13.3-20.1s8.9-11 13.3-15.4s8.9-8.3 13.3-11.9s8.9-6.8 13.3-9.7s8.9-5.3 13.4-7.1s8.8-3 13.3-3.9s8.9-1.4 13.3-2.1s8.9-1.2 13.3-1.6s8.9-.3 13.3 .5s8.9 2.2 13.4 4.2s8.8 4.2 13.3 6.6s8.9 4.8 13.3 6.9"/>
<path stroke="#e377c2" d="M404.1 39.4c4.4-3 8.9-8.3 13.3-14.9s8.9-14.7 13.3-17.4s8.9 .9 13.4 7.3s8.8 14.2 13.3 20.8s8.9 12.5 13.3 18.9s8.9 13.6 13.3 21.3s8.9 16 13.3 18.8s8.9-1 13.4-7.3s8.8-13.8 13.3-19.8s8.9-10.9 13.3-15.2s8.9-7.7 13.3-10.9s8.9-6 13.3-8.4s8.9-4.7 13.4-6.8s8.8-4.2 13.3-6.2s8.9-4 13.3-5.3s8.9-1.8 13.3-1.4s8.9 1.8 13.3 3.3s8.9 3.2 13.4 4.9s8.8 3.4 13.3 5.1s8.9 3.6 13.3 5.3"/>
<path stroke="#7f7f7f" d="M404.1 39.1c4.4-3 8.9-8.4 13.3-15.1s8.9-14.6 13.3-17.1s8.9 1.4 13.4 7.9s8.8 14.1 13.3 20.7s8.9 12.5 13.3 18.9s8.9 13.7 13.3 21.5s8.9 16 13.3 18.6s8.9-1.5 13.4-8s8.8-13.9 13.3-20s8.9-10.9 13.3-15.3s8.9-8 13.3-11.4s8.9-6.5 13.3-9.3s8.9-5.1 13.4-7.1s8.8-3.6 13.3-4.9s8.9-2.4 13.3-3.2s8.9-1.3 13.3-1.3s8.9 .5 13.3 1.5s8.9 2.5 13.4 4.3s8.8 3.9 13.3 6s8.9 4.3 13.3 6.3"/>
<path stroke="#bcbd22" d="M404.1 39.8c4.4-3.2 8.9-8.6 13.3-15.4s8.9-14.9 13.3-17.6s8.9 1.2 13.4 7.7s8.8 14.4 13.3 21s8.9 12.7 13.3 19.2s8.9 14 13.3 21.8s8.9 16.1 13.3 18.4s8.9-2.2 13.4-8.9s8.8-14.2 13.3-20.3s8.9-11.1 13.3-15.6s8.9-8.5 13.3-12.4s8.9-7.3 13.3-10.4s8.9-5.4 13.4-6.9s8.8-2 13.3-2.2s8.9-.3 13.3-.7s8.9-1.5 13.3-2.4s8.9-1.5 13.3-1s8.9 2.1 13.4 4.3s8.8 5 13.3 7.7s8.9 5.3 13.3 7.7"/>
<path stroke="#17becf" d="M404.1 39.6c4.4-2.9 8.9-8.2 13.3-14.8s8.9-14.7 13.3-17.6s8.9 .6 13.4 7s8.8 14.1 13.3 20.7s8.9 12.5 13.3 18.9s8.9 13.6 13.3 21.3s8.9 15.9 13.3 18.9s8.9-.6 13.4-6.8s8.8-13.8 13.3-19.8s8.9-10.8 13.3-15s8.9-7.5 13.3-10.5s8.9-5.6 13.3-7.8s8.9-4.3 13.4-6.4s8.8-4.3 13.3-6.8s8.9-5.2 13.3-7.1s8.9-2.6 13.3-1.9s8.9 2.6 13.3 4.6s8.9 4 13.4 5.7s8.8 3.2 13.3 4.8s8.9 3.1 13.3 4.6"/>
<path stroke="#1f77b4" d="M404.1 38.6c4.4-3 8.9-8.4 13.3-15.1s8.9-14.4 13.3-16.7s8.9 1.8 13.4 8.3s8.8 14.1 13.3 20.7s8.9 12.3 13.3 18.7s8.9 13.7 13.3 21.5s8.9 16 13.3 18.5s8.9-1.6 13.4-8s8.8-14 13.3-20s8.9-11 13.3-15.3s8.9-8 13.3-11.4s8.9-6.6 13.3-9.3s8.9-5.1 13.4-7.1s8.8-3.6 13.3-4.9s8.9-2.4 13.3-3.2s8.9-1.3 13.3-1.3s8.9 .5 13.3 1.5s8.9 2.5 13.4 4.3s8.8 3.9 13.3 6s8.9 4.3 13.3 6.3"/>
<path stroke="#ff7f0e" d="M404.1 38.6c4.4-3.2 8.9-8.9 13.3-15.7s8.9-14.5 13.3-16.6s8.9 2.6 13.4 9.4s8.8 14.3 13.3 20.8s8.9 12.5 13.3 19.1s8.9 14.1 13.3 22.1s8.9 16 13.3 17.7s8.9-3.4 13.4-10.2s8.8-14.5 13.3-20.6s8.9-11.2 13.3-16s8.9-9.2 13.3-13.5s8.9-8.4 13.3-11.6s8.9-5.1 13.4-5.5s8.8 .5 13.3 1.4s8.9 1.5 13.3 .8s8.9-2.4 13.3-4.3s8.9-3.8 13.3-3.6s8.9 2.2 13.4 5.2s8.8 6.5 13.3 9.8s8.9 6.3 13.3 9.1"/>
<path stroke="#2ca02c" d="M404.1 39.9c4.4-3 8.9-8.2 13.3-14.9s8.9-14.8 13.3-17.8s8.9 .4 13.4 6.8s8.8 14.2 13.3 20.9s8.9 12.6 13.3 19s8.9 13.7 13.3 21.4s8.9 16 13.3 18.9s8.9-.9 13.4-7.2s8.8-13.9 13.3-19.9s8.9-10.9 13.3-15.1s8.9-7.7 13.3-10.9s8.9-5.9 13.3-8.4s8.9-4.6 13.4-6.7s8.8-4.3 13.3-6.3s8.9-4.2 13.3-5.5s8.9-1.9 13.3-1.4s8.9 1.9 13.3 3.4s8.9 3.3 13.4 5s8.8 3.3 13.3 5.1s8.9 3.5 13.3 5.2"/>
<path stroke="#d62728" d="M404.1 39.2c4.4-2.9 8.9-8.1 13.3-14.6s8.9-14.5 13.3-17.4s8.9 .8 13.4 7.1s8.8 14 13.3 20.6s8.9 12.4 13.3 18.8s8.9 13.4 13.3 21s8.9 15.9 13.3 19s8.9-.2 13.4-6.3s8.8-13.6 13.3-19.5s8.9-10.8 13.3-14.8s8.9-7.4 13.3-10.1s8.9-5 13.3-7s8.9-3.6 13.4-5.5s8.8-4.3 13.3-7.2s8.9-6.5 13.3-9.4s8.9-4.4 13.3-3.7s8.9 3.4 13.3 6.2s8.9 5.4 13.4 7.4s8.8 3.5 13.3 4.9s8.9 2.8 13.3 4.1"/>
<path stroke="#9467bd" d="M404.1 38.4c4.4-3 8.9-8.5 13.3-15.2s8.9-14.4 13.3-16.6s8.9 2.2 13.4 8.8s8.8 14.1 13.3 20.6s8.9 12.4 13.3 18.9s8.9 13.8 13.3 21.6s8.9 15.9 13.3 18.3s8.9-2.1 13.4-8.7s8.8-14.1 13.3-20.1s8.9-11.1 13.3-15.5s8.9-8.4 13.3-12s8.9-7.1 13.3-10s8.9-5.4 13.4-7.1s8.8-2.7 13.3-3.3s8.9-.9 13.3-1.5s8.9-1.3 13.3-1.8s8.9-.8 13.3-.2s8.9 2.2 13.4 4.3s8.8 4.5 13.3 7s8.9 5 13.3 7.2"/>
<path stroke="#8c564b" d="M404.1 39.4c4.4-2.9 8.9-8.1 13.3-14.6s8.9-14.6 13.3-17.5s8.9 .5 13.4 6.9s8.8 14 13.3 20.6s8.9 12.5 13.3 18.8s8.9 13.4 13.3 21.1s8.9 15.9 13.3 19s8.9-.2 13.4-6.2s8.8-13.6 13.3-19.6s8.9-10.7 13.3-14.8s8.9-7.3 13.3-10s8.9-4.9 13.3-6.9s8.9-3.5 13.4-5.4s8.8-4.2 13.3-7.1s8.9-6.7 13.3-9.7s8.9-4.7 13.3-4s8.9 3.5 13.3 6.3s8.9 5.6 13.4 7.7s8.8 3.6 13.3 5s8.9 2.7 13.3 4"/>
<path stroke="#e377c2" d="M404.1 39.2c4.4-3.3 8.9-8.9 13.3-15.8s8.9-14.9 13.3-17.1s8.9 2.3 13.4 9.1s8.8 14.4 13.3 21.1s8.9 12.6 13.3 19.2s8.9 14.3 13.3 22.3s8.9 16.1 13.3 17.7s8.9-3.9 13.4-10.9s8.8-14.5 13.3-20.7s8.9-11.3 13.3-16.2s8.9-9.6 13.3-14.1s8.9-8.9 13.3-12s8.9-4.6 13.4-4.5s8.8 1.8 13.3 3.1s8.9 1.9 13.3 1.2s8.9-3.1 13.3-5.5s8.9-4.7 13.3-4.7s8.9 2.5 13.4 5.8s8.8 7.3 13.3 10.8s8.9 6.7 13.3 9.7"/>
<path stroke="#7f7f7f" d="M404.1 38.6c4.4-3.1 8.9-8.5 13.3-15.2s8.9-14.5 13.3-16.7s8.9 2 13.4 8.5s8.8 14.2 13.3 20.7s8.9 12.4 13.3 18.9s8.9 13.8 13.3 21.6s8.9 16 13.3 18.3s8.9-2 13.4-8.5s8.8-14.1 13.3-20.1s8.9-11.1 13.3-15.5s8.9-8.3 13.3-11.9s8.9-7 13.3-9.9s8.9-5.4 13.4-7.1s8.8-2.8 13.3-3.5s8.9-1.2 13.3-1.8s8.9-1.2 13.3-1.7s8.9-.6 13.3 .1s8.9 2.2 13.4 4.2s8.8 4.4 13.3 6.8s8.9 4.9 13.3 7.2"/>
<path stroke="#bcbd22" d="M404.1 39.8c4.4-3 8.9-8.4 13.3-15.1s8.9-14.9 13.3-17.7s8.9 .8 13.4 7.3s8.8 14.3 13.3 21s8.9 12.6 13.3 19.1s8.9 13.8 13.3 21.6s8.9 16.1 13.3 18.6s8.9-1.7 13.4-8.2s8.8-14 13.3-20.1s8.9-11 13.3-15.4s8.9-8.2 13.3-11.7s8.9-6.8 13.3-9.6s8.9-5.3 13.4-7.2s8.8-3.2 13.3-4.2s8.9-1.6 13.3-2.3s8.9-1.2 13.3-1.5s8.9-.1 13.3 .7s8.9 2.3 13.4 4.2s8.8 4.2 13.3 6.5s8.9 4.6 13.3 6.8"/>
<path stroke="#17becf" d="M404.1 40c4.4-3.1 8.9-8.5 13.3-15.3s8.9-14.9 13.3-17.8s8.9 .9 13.4 7.4s8.8 14.3 13.3 21s8.9 12.7 13.3 19.2s8.9 13.9 13.3 21.7s8.9 16.1 13.3 18.6s8.9-2 13.4-8.5s8.8-14.2 13.3-20.2s8.9-11.1 13.3-15.5s8.9-8.4 13.3-12.1s8.9-7.1 13.3-10s8.9-5.4 13.4-7.1s8.8-2.6 13.3-3.3s8.9-.9 13.3-1.5s8.9-1.3 13.3-1.8s8.9-.8 13.3-.1s8.9 2.1 13.4 4.2s8.8 4.5 13.3 7s8.9 4.9 13.3 7.2"/>
<path stroke="#1f77b4" d="M404.1 38.5c4.4-3 8.9-8.4 13.3-15s8.9-14.5 13.3-16.8s8.9 2 13.4 8.5s8.8 14.1 13.3 20.6s8.9 12.4 13.3 18.8s8.9 13.7 13.3 21.5s8.9 15.9 13.3 18.4s8.9-1.6 13.4-8.1s8.8-14 13.3-20s8.9-10.9 13.3-15.3s8.9-8.1 13.3-11.5s8.9-6.6 13.3-9.3s8.9-5.2 13.4-7.2s8.8-3.4 13.3-4.7s8.9-2.2 13.3-2.9s8.9-1.3 13.3-1.4s8.9 .3 13.3 1.3s8.9 2.5 13.4 4.3s8.8 3.9 13.3 6.1s8.9 4.4 13.3 6.4"/>
<path stroke="#ff7f0e" d="M404.1 38.6c4.4-3.1 8.9-8.7 13.3-15.5s8.9-14.5 13.3-16.7s8.9 2.4 13.4 9.1s8.8 14.3 13.3 20.8s8.9 12.4 13.3 19s8.9 14 13.3 21.9s8.9 16 13.3 18s8.9-2.9 13.4-9.7s8.8-14.3 13.3-20.4s8.9-11.1 13.3-15.8s8.9-8.9 13.3-12.9s8.9-7.9 13.3-11.1s8.9-5.3 13.4-6.3s8.8-.7 13.3-.4s8.9 .8 13.3 .3s8.9-1.9 13.3-3.4s8.9-2.6 13.3-2.3s8.9 2.1 13.4 4.7s8.8 5.7 13.3 8.7s8.9 5.9 13.3 8.5"/>
<path stroke="#2ca02c" d="M404.1 39.4c4.4-3.3 8.9-9 13.3-15.9s8.9-14.9 13.3-17.2s8.9 2.2 13.4 9s8.8 14.5 13.3 21.2s8.9 12.6 13.3 19.3s8.9 14.4 13.3 22.4s8.9 16 13.3 17.6s8.9-4.1 13.4-11.1s8.8-14.6 13.3-20.8s8.9-11.4 13.3-16.3s8.9-9.7 13.3-14.3s8.9-9 13.3-12.1s8.9-4.4 13.4-4.1s8.8 2.3 13.3 3.7s8.9 2.1 13.3 1.3s8.9-3.3 13.3-5.9s8.9-5.1 13.3-5.1s8.9 2.6 13.4 6s8.8 7.6 13.3 11.2s8.9 6.8 13.3 9.9"/>
<path stroke="#d62728" d="M404.1 38.8c4.4-3 8.9-8.5 13.3-15.2s8.9-14.6 13.3-16.9s8.9 1.8 13.4 8.4s8.8 14.2 13.3 20.8s8.9 12.4 13.3 18.9s8.9 13.9 13.3 21.7s8.9 16 13.3 18.3s8.9-2.1 13.4-8.7s8.8-14.2 13.3-20.2s8.9-11.1 13.3-15.5s8.9-8.4 13.3-12.2s8.9-7.1 13.3-10.1s8.9-5.4 13.4-7s8.8-2.5 13.3-3s8.9-.7 13.3-1.2s8.9-1.3 13.3-2s8.9-1 13.3-.4s8.9 2.1 13.4 4.2s8.8 4.7 13.3 7.2s8.9 5.1 13.3 7.5"/>
<path stroke="#9467bd" d="M404.1 38.7c4.4-2.8 8.9-8 13.3-14.6s8.9-14.4 13.3-17s8.9 1.2 13.4 7.5s8.8 14 13.3 20.6s8.9 12.3 13.3 18.6s8.9 13.4 13.3 21.1s8.9 15.9 13.3 18.9s8.9-.4 13.4-6.5s8.8-13.6 13.3-19.6s8.9-10.7 13.3-14.8s8.9-7.4 13.3-10.2s8.9-5.1 13.3-7.1s8.9-3.8 13.4-5.8s8.8-4.3 13.3-7.1s8.9-6.3 13.3-8.9s8.9-3.9 13.3-3.2s8.9 3.3 13.3 5.9s8.9 5 13.4 6.9s8.8 3.4 13.3 4.8s8.9 2.9 13.3 4.2"/>
<path stroke="#8c564b" d="M404.1 39c4.4-2.8 8.9-8 13.3-14.5s8.9-14.4 13.3-17.2s8.9 .7 13.4 7s8.8 14 13.3 20.6s8.9 12.4 13.3 18.7s8.9 13.3 13.3 21s8.9 15.8 13.3 19s8.9-.1 13.4-6.1s8.8-13.5 13.3-19.4s8.9-10.8 13.3-14.8s8.9-7.2 13.3-9.8s8.9-4.8 13.3-6.6s8.9-3.3 13.4-5.1s8.8-4 13.3-7s8.9-7 13.3-10.4s8.9-5.6 13.3-5s8.9 3.5 13.3 6.7s8.9 6.1 13.4 8.4s8.8 3.9 13.3 5.3s8.9 2.8 13.3 4.1"/>
<path stroke="#e377c2" d="M404.1 39.1c4.4-3 8.9-8.3 13.3-14.9s8.9-14.6 13.3-17.2s8.9 1.2 13.4 7.6s8.8 14.2 13.3 20.7s8.9 12.5 13.3 18.9s8.9 13.6 13.3 21.3s8.9 16 13.3 18.7s8.9-1 13.4-7.4s8.8-13.8 13.3-19.8s8.9-10.9 13.3-15.1s8.9-7.8 13.3-11s8.9-6 13.3-8.5s8.9-4.7 13.4-6.8s8.8-4.2 13.3-6.2s8.9-3.8 13.3-5.1s8.9-1.7 13.3-1.3s8.9 1.7 13.3 3.1s8.9 3.2 13.4 4.9s8.8 3.4 13.3 5.2s8.9 3.6 13.3 5.4"/>
<path stroke="#7f7f7f" d="M404.1 38.1c4.4-3.1 8.9-8.8 13.3-15.5s8.9-14.4 13.3-16.3s8.9 2.9 13.4 9.6s8.8 14.2 13.3 20.7s8.9 12.4 13.3 18.9s8.9 14.1 13.3 22s8.9 16 13.3 17.8s8.9-3.2 13.4-10s8.8-14.4 13.3-20.5s8.9-11.2 13.3-15.9s8.9-9 13.3-13.2s8.9-8.2 13.3-11.3s8.9-5.2 13.4-6s8.8 0 13.3 .6s8.9 1.2 13.3 .6s8.9-2.2 13.3-3.9s8.9-3.2 13.3-3s8.9 2.2 13.4 4.9s8.8 6.2 13.3 9.4s8.9 6.1 13.3 8.8"/>
<path stroke="#bcbd22" d="M404.1 38.1c4.4-3.1 8.9-8.7 13.3-15.4s8.9-14.4 13.3-16.3s8.9 2.8 13.4 9.4s8.8 14.2 13.3 20.7s8.9 12.3 13.3 18.8s8.9 14 13.3 21.8s8.9 16 13.3 18s8.9-2.8 13.4-9.5s8.8-14.3 13.3-20.4s8.9-11.1 13.3-15.7s8.9-8.8 13.3-12.8s8.9-7.8 13.3-10.9s8.9-5.4 13.4-6.5s8.8-1 13.3-.8s8.9 .5 13.3 0s8.9-1.8 13.3-3s8.9-2.4 13.3-2.1s8.9 2.1 13.4 4.6s8.8 5.6 13.3 8.5s8.9 5.7 13.3 8.3"/>
<path stroke="#17becf" d="M404.1 38.7c4.4-3.4 8.9-9.1 13.3-16s8.9-14.6 13.3-16.6s8.9 3 13.4 9.8s8.8 14.4 13.3 21s8.9 12.5 13.3 19.1s8.9 14.4 13.3 22.4s8.9 16 13.3 17.4s8.9-4.2 13.4-11.3s8.8-14.6 13.3-20.8s8.9-11.4 13.3-16.4s8.9-9.7 13.3-14.4s8.9-9.1 13.3-12.1s8.9-4.3 13.4-3.8s8.8 2.6 13.3 4.1s8.9 2.2 13.3 1.3s8.9-3.4 13.3-6.2s8.9-5.3 13.3-5.3s8.9 2.6 13.4 6.2s8.8 7.7 13.3 11.4s8.9 6.9 13.3 10"/>
</g>
<rect x="391.10" y="1.40" width="292.60" height="99.00" fill="none" stroke="#000" stroke-width=".75"/>
<path d="M404.10 100.40v3M437.40 100.40v3M470.70 100.40v3M504.00 100.40v3M537.30 100.40v3M570.60 100.40v3M603.90 100.40v3M637.20 100.40v3M670.50 100.40v3M391.10 20.30h-3M391.10 51.40h-3M391.10 82.50h-3" stroke="#000" stroke-width=".75" fill="none"/>
<text x="401.60" y="113.15" font-size="9px">0</text>
<text x="434.90" y="113.15" font-size="9px">2</text>
<text x="468.20" y="113.15" font-size="9px">4</text>
<text x="501.50" y="113.15" font-size="9px">6</text>
<text x="534.80" y="113.15" font-size="9px">8</text>
<text x="565.47 570.72" y="113.15" font-size="9px">10</text>
<text x="598.77 604.02" y="113.15" font-size="9px">12</text>
<text x="632.07 637.32" y="113.15" font-size="9px">14</text>
<text x="665.37 670.62" y="113.15" font-size="9px">16</text>
<text x="379.87" y="23.55" font-size="9px">1</text>
<text x="379.87" y="54.65" font-size="9px">0</text>
<path d="M373.71 82.80h5.16" stroke="#000" stroke-width="0.68" fill="none"/><text x="379.87" y="85.75" font-size="9px">1</text>
<g transform="translate(366.70 51.30) rotate(-90) translate(-14.87 0)"><text x="0.54" y="0" font-size="15px">x</text><path d="M14.44 -11.02H17.95V-10.00H15.75V0.90H17.95V1.91H14.44ZM19.56 -4.52H23.37V-3.28H19.56ZM28.49 -11.02H24.98V-10.00H27.19V0.90H24.98V1.91H28.49Z" fill="#000"/></g>
<path d="M404.10 120.50V219.40M437.40 120.50V219.40M470.70 120.50V219.40M504.00 120.50V219.40M537.30 120.50V219.40M570.60 120.50V219.40M603.90 120.50V219.40M637.20 120.50V219.40M670.50 120.50V219.40M391.10 143.30H683.70M391.10 167.73H683.70M391.10 192.17H683.70M391.10 216.60H683.70" stroke="#b0b0b0" stroke-width=".7" fill="none"/>
<g fill="none" stroke-width="1.36" stroke-linecap="square" stroke-linejoin="round">
<path stroke="#1f77b4" d="M404.1 148.7c4.4-8.3 8.9-18 13.3-21.1s8.9 5.4 13.3 27.1s8.9 46.2 13.4 52.6s8.8 1.4 13.3-.8s8.9-2.4 13.3 .1s8.9 8.4 13.3 8s8.9-12.9 13.3-36.2s8.9-46.2 13.4-51.3s8.8 .7 13.3 4.5s8.9 6.6 13.3 8s8.9 1.8 13.3 2.8s8.9 2.7 13.3 6.8s8.9 10.8 13.4 16.1s8.8 8.4 13.3 7.7s8.9-4.7 13.3-8.9s8.9-8.2 13.3-8s8.9 5.5 13.3 12.5s8.9 13.8 13.4 16.7s8.8 2.6 13.3 1.8s8.9-1.9 13.3-2.8"/>
<path stroke="#ff7f0e" d="M404.1 150.1c4.4-8.4 8.9-18.1 13.3-21.6s8.9 4 13.3 24.8s8.9 45.8 13.4 52.8s8.8 2.4 13.3 .2s8.9-2.8 13.3-.7s8.9 7.6 13.3 8s8.9-9.1 13.3-30.8s8.9-46.4 13.4-53.1s8.8-1.5 13.3 2.5s8.9 7.7 13.3 10s8.9 3.9 13.3 5.3s8.9 2.6 13.3 4s8.9 3.1 13.4 4.6s8.8 3 13.3 4.2s8.9 1.9 13.3 2.9s8.9 2.4 13.3 4.2s8.9 4.2 13.3 6.2s8.9 3.6 13.4 4.8s8.8 1.7 13.3 2s8.9 .1 13.3-.7"/>
<path stroke="#2ca02c" d="M404.1 150.5c4.4-8.3 8.9-17.9 13.3-21.9s8.9 1.6 13.3 21.8s8.9 46.7 13.4 54.9s8.8 3.8 13.3 1.5s8.9-3.2 13.3-1.3s8.9 7.1 13.3 7.8s8.9-7.6 13.3-28.6s8.9-46.4 13.4-53.8s8.8-2.6 13.3 1.5s8.9 8 13.3 10.8s8.9 4.6 13.3 6.3s8.9 3.2 13.3 4.2s8.9 1.6 13.4 1.6s8.8-.9 13.3-.9s8.9 1 13.3 4.2s8.9 8.5 13.3 12.5s8.9 6.4 13.3 7s8.9-.1 13.4-.5s8.8-.3 13.3-.2s8.9 .4 13.3-.2"/>
<path stroke="#d62728" d="M404.1 149.3c4.4-8.4 8.9-18.1 13.3-21.3s8.9 4.9 13.3 26.3s8.9 46 13.4 52.5s8.8 1.8 13.3-.4s8.9-2.6 13.3-.2s8.9 8.1 13.3 8s8.9-11.4 13.3-34.1s8.9-46.3 13.4-52s8.8-.1 13.3 3.8s8.9 7 13.3 8.8s8.9 2.6 13.3 3.6s8.9 2.4 13.3 5.2s8.9 7.2 13.4 11.4s8.8 7.4 13.3 8s8.9-1.6 13.3-4s8.9-5 13.3-4.5s8.9 4.4 13.3 9.4s8.9 10 13.4 12.5s8.8 2.8 13.3 2.5s8.9-1.1 13.3-2.1"/>
<path stroke="#9467bd" d="M404.1 148.3c4.4-8.2 8.9-18 13.3-21.1s8.9 5.8 13.3 27.8s8.9 46.4 13.4 52.6s8.8 1.2 13.3-1s8.9-2.2 13.3 .3s8.9 8.7 13.3 8s8.9-14.2 13.3-37.9s8.9-46 13.4-50.6s8.8 1.3 13.3 5s8.9 6.2 13.3 7.4s8.9 1.2 13.3 2.2s8.9 3.3 13.3 8.6s8.9 13.7 13.4 19.5s8.8 8.1 13.3 6.3s8.9-7.1 13.3-12.3s8.9-10.3 13.3-10.1s8.9 6.5 13.3 15s8.9 16.6 13.4 19.6s8.8 2.2 13.3 1.1s8.9-2.4 13.3-3.2"/>
<path stroke="#8c564b" d="M404.1 149.9c4.4-8.3 8.9-18 13.3-21.6s8.9 3.1 13.3 23.9s8.9 46.5 13.4 53.9s8.8 2.8 13.3 .5s8.9-2.9 13.3-.7s8.9 7.6 13.3 7.9s8.9-9.4 13.3-31.3s8.9-46.5 13.4-53.1s8.8-1.3 13.3 2.7s8.9 7.6 13.3 9.8s8.9 3.7 13.3 5s8.9 2.5 13.3 4.1s8.9 3.6 13.4 5.7s8.8 4.1 13.3 5.3s8.9 1.6 13.3 1.9s8.9 .8 13.3 2.2s8.9 4 13.3 6.5s8.9 4.8 13.4 6.3s8.8 2.2 13.3 2.4s8.9-.1 13.3-.9"/>
<path stroke="#e377c2" d="M404.1 149.1c4.4-8.2 8.9-17.8 13.3-21.5s8.9 3.3 13.3 24.5s8.9 47.2 13.4 54.6s8.8 2.6 13.3 .3s8.9-2.8 13.3-.5s8.9 8 13.3 7.9s8.9-11.4 13.3-34.2s8.9-46.6 13.4-52.2s8.8-.1 13.3 3.8s8.9 6.9 13.3 8.7s8.9 2.5 13.3 3.5s8.9 2.4 13.3 5.4s8.9 7.7 13.4 12s8.8 7.7 13.3 8.1s8.9-2 13.3-4.7s8.9-5.4 13.3-5s8.9 4.6 13.3 9.7s8.9 10.6 13.4 13.1s8.8 2.9 13.3 2.5s8.9-1.2 13.3-2.2"/>
<path stroke="#7f7f7f" d="M404.1 149c4.4-8.1 8.9-17.8 13.3-21.4s8.9 3.4 13.3 24.7s8.9 47.2 13.4 54.4s8.8 2.6 13.3 .3s8.9-2.8 13.3-.5s8.9 8.1 13.3 7.9s8.9-11.5 13.3-34.4s8.9-46.6 13.4-52.2s8.8 .1 13.3 3.9s8.9 6.9 13.3 8.7s8.9 2.4 13.3 3.4s8.9 2.4 13.3 5.5s8.9 8.1 13.4 12.6s8.8 7.9 13.3 8.2s8.9-2.4 13.3-5.3s8.9-6 13.3-5.5s8.9 4.6 13.3 10.1s8.9 11 13.4 13.6s8.8 2.9 13.3 2.5s8.9-1.4 13.3-2.4"/>
<path stroke="#bcbd22" d="M404.1 149.9c4.4-8.5 8.9-18.3 13.3-21.3s8.9 5.8 13.3 27s8.9 44.7 13.4 50.9s8.8 1.5 13.3-.7s8.9-2.5 13.3-.2s8.9 7.8 13.3 8s8.9-9.9 13.3-31.8s8.9-46.2 13.4-52.5s8.8-1.1 13.3 2.9s8.9 7.5 13.3 9.7s8.9 3.5 13.3 4.7s8.9 2.5 13.3 4.2s8.9 4 13.4 6.3s8.8 4.5 13.3 5.7s8.9 1.4 13.3 1.4s8.9 0 13.3 1.3s8.9 3.9 13.3 6.7s8.9 5.4 13.4 7s8.8 2.3 13.3 2.5s8.9-.2 13.3-1"/>
<path stroke="#17becf" d="M404.1 149.2c4.4-8.3 8.9-18 13.3-21.4s8.9 4.1 13.3 25.4s8.9 46.6 13.4 53.6s8.8 2.2 13.3-.1s8.9-2.7 13.3-.3s8.9 8 13.3 7.9s8.9-11.4 13.3-34.2s8.9-46.4 13.4-52.1s8.8-.1 13.3 3.8s8.9 7 13.3 8.8s8.9 2.5 13.3 3.6s8.9 2.4 13.3 5.2s8.9 7.5 13.4 11.8s8.8 7.5 13.3 8s8.9-1.7 13.3-4.4s8.9-5.2 13.3-4.7s8.9 4.5 13.3 9.5s8.9 10.3 13.4 12.9s8.8 2.8 13.3 2.5s8.9-1.2 13.3-2.2"/>
<path stroke="#1f77b4" d="M404.1 148.7c4.4-8.2 8.9-17.9 13.3-21.3s8.9 4.6 13.3 26.3s8.9 46.8 13.4 53.5s8.8 1.8 13.3-.4s8.9-2.5 13.3-.1s8.9 8.4 13.3 8s8.9-12.9 13.3-36.3s8.9-46.3 13.4-51.3s8.8 .7 13.3 4.5s8.9 6.5 13.3 7.9s8.9 1.8 13.3 2.8s8.9 2.8 13.3 6.9s8.9 11 13.4 16.3s8.8 8.4 13.3 7.7s8.9-4.9 13.3-9.2s8.9-8.3 13.3-8.1s8.9 5.6 13.3 12.6s8.9 14 13.4 16.9s8.8 2.6 13.3 1.8s8.9-1.9 13.3-2.8"/>
<path stroke="#ff7f0e" d="M404.1 150.6c4.4-8.6 8.9-18.3 13.3-21.6s8.9 4.6 13.3 25.3s8.9 44.9 13.4 51.6s8.8 2.1 13.3-.1s8.9-2.7 13.3-.6s8.9 7.4 13.3 7.9s8.9-8.1 13.3-29.3s8.9-46.1 13.4-53.2s8.8-2.2 13.3 1.9s8.9 7.9 13.3 10.5s8.9 4.5 13.3 6.1s8.9 3.1 13.3 4.2s8.9 1.8 13.4 2s8.8-.1 13.3 .2s8.9 1.5 13.3 4.3s8.9 7.2 13.3 10.7s8.9 5.7 13.3 6.5s8.9 .6 13.4 .6s8.8 .1 13.3 .3s8.9 .4 13.3-.2"/>
<path stroke="#2ca02c" d="M404.1 149c4.4-8.5 8.9-18.2 13.3-20.9s8.9 7.1 13.3 28.7s8.9 44.8 13.4 50.4s8.8 .8 13.3-1.3s8.9-2.2 13.3 .3s8.9 8.4 13.3 8.1s8.9-12.4 13.3-35.4s8.9-46.1 13.4-51.3s8.8 .4 13.3 4.2s8.9 6.7 13.3 8.4s8.9 2.1 13.3 3.1s8.9 2.5 13.3 6s8.9 9 13.4 13.8s8.8 8.1 13.3 8.1s8.9-3.2 13.3-6.6s8.9-6.8 13.3-6.5s8.9 5 13.3 11s8.9 12 13.4 14.7s8.8 2.8 13.3 2.2s8.9-1.5 13.3-2.5"/>
<path stroke="#d62728" d="M404.1 149.4c4.4-8.2 8.9-17.8 13.3-21.6s8.9 2.7 13.3 23.6s8.9 47.3 13.4 54.9s8.8 3 13.3 .7s8.9-2.9 13.3-.7s8.9 7.8 13.3 7.9s8.9-10.5 13.3-32.9s8.9-46.6 13.4-52.7s8.8-.7 13.3 3.3s8.9 7.2 13.3 9.2s8.9 3.1 13.3 4.2s8.9 2.3 13.3 4.6s8.9 5.7 13.4 9.1s8.8 6.4 13.3 7.4s8.9-.1 13.3-1.5s8.9-3.1 13.3-2.3s8.9 4 13.3 8s8.9 8.1 13.4 10.2s8.8 2.8 13.3 2.7s8.9-.7 13.3-1.6"/>
<path stroke="#9467bd" d="M404.1 149.3c4.4-8.4 8.9-18.1 13.3-21.3s8.9 5.4 13.3 26.8s8.9 45.7 13.4 52.1s8.8 1.6 13.3-.6s8.9-2.5 13.3-.1s8.9 8.1 13.3 8s8.9-11.4 13.3-34.1s8.9-46.3 13.4-52s8.8-.1 13.3 3.8s8.9 7 13.3 8.8s8.9 2.6 13.3 3.7s8.9 2.3 13.3 5.1s8.9 7.2 13.4 11.3s8.8 7.4 13.3 8s8.9-1.5 13.3-3.9s8.9-4.9 13.3-4.4s8.9 4.4 13.3 9.3s8.9 9.9 13.4 12.4s8.8 2.9 13.3 2.6s8.9-1.1 13.3-2.1"/>
<path stroke="#8c564b" d="M404.1 148.5c4.4-8.3 8.9-18 13.3-21.1s8.9 5.5 13.3 27.3s8.9 46.4 13.4 52.7s8.8 1.4 13.3-.8s8.9-2.3 13.3 .2s8.9 8.5 13.3 8s8.9-13.6 13.3-37.1s8.9-46.2 13.4-50.9s8.8 1 13.3 4.7s8.9 6.3 13.3 7.7s8.9 1.5 13.3 2.4s8.9 3.1 13.3 7.8s8.9 12.3 13.4 17.9s8.8 8.3 13.3 7.1s8.9-6.1 13.3-10.8s8.9-9.3 13.3-9.2s8.9 6.1 13.3 13.8s8.9 15.3 13.4 18.3s8.8 2.4 13.3 1.4s8.9-2.1 13.3-3"/>
<path stroke="#e377c2" d="M404.1 148.6c4.4-8.3 8.9-18.1 13.3-21.2s8.9 5.7 13.3 27.5s8.9 46.2 13.4 52.5s8.8 1.4 13.3-.8s8.9-2.4 13.3 .1s8.9 8.5 13.3 8s8.9-13.4 13.3-36.9s8.9-46.1 13.4-51s8.8 1 13.3 4.7s8.9 6.4 13.3 7.8s8.9 1.5 13.3 2.5s8.9 2.9 13.3 7.5s8.9 12 13.4 17.5s8.8 8.4 13.3 7.3s8.9-5.8 13.3-10.4s8.9-9.1 13.3-8.9s8.9 5.9 13.3 13.5s8.9 15 13.4 18s8.8 2.4 13.3 1.5s8.9-2.2 13.3-3"/>
<path stroke="#7f7f7f" d="M404.1 150.5c4.4-8.4 8.9-18 13.3-21.8s8.9 2.2 13.3 22.6s8.9 46.4 13.4 54.2s8.8 3.4 13.3 1.1s8.9-3.1 13.3-1.1s8.9 7.2 13.3 7.8s8.9-7.9 13.3-28.9s8.9-46.4 13.4-53.7s8.8-2.4 13.3 1.7s8.9 8 13.3 10.7s8.9 4.5 13.3 6.2s8.9 3 13.3 4.1s8.9 1.7 13.4 1.8s8.8-.3 13.3-.1s8.9 1.3 13.3 4.3s8.9 7.7 13.3 11.3s8.9 6 13.3 6.7s8.9 .3 13.4 .2s8.8 0 13.3 .1s8.9 .4 13.3-.2"/>
<path stroke="#bcbd22" d="M404.1 149.8c4.4-8.2 8.9-17.8 13.3-21.7s8.9 2.3 13.3 23s8.9 47.1 13.4 54.9s8.8 3.3 13.3 .9s8.9-3 13.3-.9s8.9 7.6 13.3 7.9s8.9-9.4 13.3-31.4s8.9-46.6 13.4-53.1s8.8-1.3 13.3 2.7s8.9 7.5 13.3 9.8s8.9 3.6 13.3 4.8s8.9 2.5 13.3 4.2s8.9 3.8 13.4 5.9s8.8 4.3 13.3 5.5s8.9 1.6 13.3 1.7s8.9 .5 13.3 1.9s8.9 3.9 13.3 6.5s8.9 5.1 13.4 6.6s8.8 2.3 13.3 2.4s8.9 0 13.3-.9"/>
<path stroke="#17becf" d="M404.1 150.5c4.4-8.5 8.9-18.2 13.3-21.6s8.9 4.1 13.3 24.8s8.9 45.3 13.4 52.2s8.8 2.4 13.3 .1s8.9-2.8 13.3-.7s8.9 7.4 13.3 7.9s8.9-8.3 13.3-29.5s8.9-46.2 13.4-53.2s8.8-2.1 13.3 1.9s8.9 7.9 13.3 10.5s8.9 4.4 13.3 5.9s8.9 3 13.3 4.1s8.9 2 13.4 2.4s8.8 .5 13.3 1s8.9 1.7 13.3 4.2s8.9 6.4 13.3 9.6s8.9 5.2 13.3 6.2s8.9 1.1 13.4 1.3s8.8 .5 13.3 .7s8.9 .4 13.3-.2"/>
<path stroke="#1f77b4" d="M404.1 150.5c4.4-8.6 8.9-18.3 13.3-21.6s8.9 4.6 13.3 25.4s8.9 45 13.4 51.7s8.8 2.1 13.3-.1s8.9-2.8 13.3-.6s8.9 7.5 13.3 7.9s8.9-8.4 13.3-29.7s8.9-46.1 13.4-53.1s8.8-2 13.3 2s8.9 7.9 13.3 10.4s8.9 4.4 13.3 5.9s8.9 2.9 13.3 4.1s8.9 2 13.4 2.6s8.8 .7 13.3 1.2s8.9 1.9 13.3 4.3s8.9 5.9 13.3 8.9s8.9 5.1 13.3 6.2s8.9 1.4 13.4 1.6s8.8 .7 13.3 .9s8.9 .4 13.3-.2"/>
<path stroke="#ff7f0e" d="M404.1 150.7c4.4-8.5 8.9-18.2 13.3-21.7s8.9 3.7 13.3 24.2s8.9 45.3 13.4 52.5s8.8 2.6 13.3 .3s8.9-2.9 13.3-.8s8.9 7.3 13.3 7.9s8.9-7.8 13.3-28.7s8.9-46.2 13.4-53.5s8.8-2.5 13.3 1.6s8.9 8 13.3 10.8s8.9 4.6 13.3 6.3s8.9 3.2 13.3 4.3s8.9 1.5 13.4 1.4s8.8-1 13.3-1.2s8.9 .9 13.3 4.2s8.9 8.7 13.3 12.9s8.9 6.6 13.3 7.2s8.9-.3 13.4-.7s8.8-.5 13.3-.4s8.9 .3 13.3-.2"/>
<path stroke="#2ca02c" d="M404.1 150.6c4.4-8.4 8.9-18.1 13.3-21.9s8.9 2.7 13.3 23s8.9 46.2 13.4 53.8s8.8 3.3 13.3 .9s8.9-3 13.3-1s8.9 7.2 13.3 7.8s8.9-7.8 13.3-28.8s8.9-46.3 13.4-53.6s8.8-2.5 13.3 1.6s8.9 8 13.3 10.7s8.9 4.6 13.3 6.3s8.9 3.1 13.3 4.2s8.9 1.6 13.4 1.7s8.8-.7 13.3-.6s8.9 1.1 13.3 4.2s8.9 8.2 13.3 12.1s8.9 6.1 13.3 6.8s8.9 .1 13.4-.2s8.8-.2 13.3 0s8.9 .3 13.3-.2"/>
<path stroke="#d62728" d="M404.1 149.8c4.4-8.3 8.9-18 13.3-21.7s8.9 3.1 13.3 23.9s8.9 46.7 13.4 54.2s8.8 2.8 13.3 .5s8.9-2.9 13.3-.7s8.9 7.6 13.3 7.9s8.9-9.7 13.3-31.8s8.9-46.5 13.4-52.9s8.8-1.1 13.3 2.9s8.9 7.4 13.3 9.6s8.9 3.5 13.3 4.7s8.9 2.4 13.3 4.2s8.9 4.2 13.4 6.7s8.8 4.8 13.3 6s8.9 1.2 13.3 1s8.9-.4 13.3 .8s8.9 3.9 13.3 6.9s8.9 5.7 13.4 7.4s8.8 2.4 13.3 2.5s8.9-.2 13.3-1.1"/>
<path stroke="#9467bd" d="M404.1 149.5c4.4-8.4 8.9-18.2 13.3-21.4s8.9 4.9 13.3 26.2s8.9 45.8 13.4 52.4s8.8 1.8 13.3-.4s8.9-2.6 13.3-.2s8.9 8 13.3 8s8.9-11 13.3-33.5s8.9-46.4 13.4-52.2s8.8-.4 13.3 3.6s8.9 7.1 13.3 9s8.9 2.8 13.3 3.9s8.9 2.4 13.3 4.8s8.9 6.3 13.4 10s8.8 6.8 13.3 7.7s8.9-.6 13.3-2.5s8.9-3.8 13.3-3.1s8.9 4.1 13.3 8.5s8.9 8.8 13.4 11.1s8.8 2.8 13.3 2.6s8.9-.8 13.3-1.8"/>
<path stroke="#8c564b" d="M404.1 150.7c4.4-8.4 8.9-18 13.3-21.8s8.9 2.4 13.3 22.6s8.9 46.1 13.4 53.9s8.8 3.4 13.3 1s8.9-3.1 13.3-1.1s8.9 7.1 13.3 7.8s8.9-7.4 13.3-28.2s8.9-46.2 13.4-53.7s8.8-2.8 13.3 1.3s8.9 8.1 13.3 10.9s8.9 4.9 13.3 6.7s8.9 3.3 13.3 4.3s8.9 1.4 13.4 1s8.8-1.8 13.3-2.4s8.9 0 13.3 3.7s8.9 10.1 13.3 15s8.9 7.6 13.3 8s8.9-1 13.4-1.8s8.8-1.1 13.3-1.1s8.9 .2 13.3-.3"/>
<path stroke="#e377c2" d="M404.1 150.6c4.4-8.6 8.9-18.3 13.3-21.6s8.9 4.8 13.3 25.5s8.9 44.8 13.4 51.4s8.8 2.1 13.3-.1s8.9-2.8 13.3-.6s8.9 7.4 13.3 8s8.9-8.3 13.3-29.4s8.9-46.1 13.4-53.2s8.8-2.2 13.3 1.9s8.9 7.9 13.3 10.5s8.9 4.5 13.3 6.1s8.9 3 13.3 4.1s8.9 1.8 13.4 2.1s8.8 0 13.3 .4s8.9 1.5 13.3 4.3s8.9 7 13.3 10.4s8.9 5.6 13.3 6.5s8.9 .7 13.4 .7s8.8 .2 13.3 .4s8.9 .4 13.3-.2"/>
<path stroke="#7f7f7f" d="M404.1 148.6c4.4-8.2 8.9-17.8 13.3-21.4s8.9 4 13.3 25.6s8.9 47.3 13.4 54.4s8.8 2.1 13.3-.2s8.9-2.6 13.3-.1s8.9 8.3 13.3 7.9s8.9-13 13.3-36.4s8.9-46.4 13.4-51.4s8.8 .7 13.3 4.5s8.9 6.5 13.3 7.9s8.9 1.7 13.3 2.7s8.9 2.8 13.3 7.2s8.9 11.2 13.4 16.6s8.8 8.5 13.3 7.6s8.9-5.2 13.3-9.6s8.9-8.6 13.3-8.4s8.9 5.7 13.3 12.9s8.9 14.4 13.4 17.3s8.8 2.5 13.3 1.7s8.9-2 13.3-2.9"/>
<path stroke="#bcbd22" d="M404.1 150.4c4.4-8.2 8.9-17.8 13.3-21.8s8.9 1.5 13.3 21.7s8.9 46.8 13.4 55s8.8 3.9 13.3 1.5s8.9-3.2 13.3-1.3s8.9 7.2 13.3 7.8s8.9-7.7 13.3-28.7s8.9-46.4 13.4-53.8s8.8-2.5 13.3 1.6s8.9 8 13.3 10.7s8.9 4.6 13.3 6.3s8.9 3.1 13.3 4.2s8.9 1.6 13.4 1.6s8.8-.6 13.3-.5s8.9 1.2 13.3 4.3s8.9 8.1 13.3 12s8.9 6.1 13.3 6.8s8.9 .1 13.4-.2s8.8-.2 13.3 0s8.9 .3 13.3-.2"/>
<path stroke="#17becf" d="M404.1 149.2c4.4-8.2 8.9-17.9 13.3-21.4s8.9 4 13.3 25.2s8.9 46.7 13.4 53.7s8.8 2.3 13.3 0s8.9-2.7 13.3-.4s8.9 8 13.3 8s8.9-11.2 13.3-34s8.9-46.4 13.4-52.2s8.8-.2 13.3 3.7s8.9 7.1 13.3 8.9s8.9 2.6 13.3 3.6s8.9 2.4 13.3 5.2s8.9 7.1 13.4 11.3s8.8 7.4 13.3 8s8.9-1.5 13.3-3.9s8.9-4.9 13.3-4.4s8.9 4.4 13.3 9.3s8.9 9.9 13.4 12.4s8.8 2.8 13.3 2.5s8.9-1.1 13.3-2"/>
<path stroke="#1f77b4" d="M404.1 149c4.4-8.4 8.9-18.1 13.3-21.2s8.9 5.6 13.3 27.2s8.9 45.8 13.4 52.1s8.8 1.4 13.3-.8s8.9-2.4 13.3 .1s8.9 8.2 13.3 8s8.9-12.2 13.3-35.3s8.9-46.2 13.4-51.5s8.8 .3 13.3 4.2s8.9 6.7 13.3 8.3s8.9 2.2 13.3 3.2s8.9 2.5 13.3 6s8.9 8.9 13.4 13.7s8.8 8.2 13.3 8.2s8.9-3.2 13.3-6.6s8.9-6.8 13.3-6.4s8.9 4.9 13.3 10.9s8.9 12 13.4 14.7s8.8 2.8 13.3 2.2s8.9-1.5 13.3-2.5"/>
<path stroke="#ff7f0e" d="M404.1 150c4.4-8.4 8.9-18 13.3-21.7s8.9 3.2 13.3 24s8.9 46.4 13.4 53.7s8.8 2.9 13.3 .5s8.9-2.8 13.3-.7s8.9 7.6 13.3 7.9s8.9-9.2 13.3-31s8.9-46.5 13.4-53.1s8.8-1.4 13.3 2.6s8.9 7.6 13.3 9.9s8.9 3.7 13.3 5.1s8.9 2.5 13.3 4s8.9 3.4 13.4 5.2s8.8 3.5 13.3 4.7s8.9 1.8 13.3 2.5s8.9 1.6 13.3 3.2s8.9 4 13.3 6.3s8.9 4.2 13.4 5.5s8.8 2 13.3 2.2s8.9 .1 13.3-.8"/>
<path stroke="#2ca02c" d="M404.1 149.5c4.4-8.6 8.9-18.4 13.3-21.1s8.9 6.7 13.3 28.1s8.9 44.6 13.4 50.4s8.8 1 13.3-1.1s8.9-2.4 13.3 .1s8.9 8.1 13.3 8.1s8.9-11.2 13.3-33.8s8.9-46.1 13.4-51.8s8.8-.3 13.3 3.6s8.9 7.1 13.3 9s8.9 2.8 13.3 3.8s8.9 2.4 13.3 4.9s8.9 6.4 13.4 10.2s8.8 6.9 13.3 7.7s8.9-.8 13.3-2.7s8.9-4 13.3-3.3s8.9 4.2 13.3 8.6s8.9 9 13.4 11.3s8.8 2.8 13.3 2.6s8.9-.9 13.3-1.8"/>
<path stroke="#d62728" d="M404.1 149c4.4-8.5 8.9-18.2 13.3-21.1s8.9 6.5 13.3 28.2s8.9 45.2 13.4 51.1s8.8 1 13.3-1.1s8.9-2.3 13.3 .2s8.9 8.4 13.3 8.1s8.9-12.5 13.3-35.6s8.9-46.1 13.4-51.3s8.8 .5 13.3 4.3s8.9 6.7 13.3 8.3s8.9 2.1 13.3 3.1s8.9 2.5 13.3 6.1s8.9 9.2 13.4 14.1s8.8 8.2 13.3 8.1s8.9-3.5 13.3-7s8.9-7 13.3-6.7s8.9 5.1 13.3 11.2s8.9 12.3 13.4 15.1s8.8 2.7 13.3 2.1s8.9-1.6 13.3-2.5"/>
<path stroke="#9467bd" d="M404.1 149.6c4.4-8.2 8.9-17.8 13.3-21.7s8.9 2.6 13.3 23.4s8.9 47.2 13.4 54.9s8.8 3.1 13.3 .8s8.9-3 13.3-.8s8.9 7.7 13.3 7.8s8.9-10 13.3-32.2s8.9-46.6 13.4-52.9s8.8-.9 13.3 3.1s8.9 7.3 13.3 9.4s8.9 3.3 13.3 4.4s8.9 2.4 13.3 4.4s8.9 4.9 13.4 7.8s8.8 5.7 13.3 6.8s8.9 .7 13.3-.1s8.9-1.8 13.3-.8s8.9 3.9 13.3 7.4s8.9 6.8 13.4 8.8s8.8 2.6 13.3 2.6s8.9-.4 13.3-1.3"/>
<path stroke="#8c564b" d="M404.1 149.7c4.4-8.2 8.9-17.7 13.3-21.7s8.9 2 13.3 22.6s8.9 47.3 13.4 55.3s8.8 3.5 13.3 1.2s8.9-3.1 13.3-1s8.9 7.5 13.3 7.8s8.9-9.4 13.3-31.4s8.9-46.7 13.4-53.2s8.8-1.3 13.3 2.7s8.9 7.5 13.3 9.8s8.9 3.5 13.3 4.8s8.9 2.4 13.3 4.1s8.9 4 13.4 6.4s8.8 4.5 13.3 5.7s8.9 1.4 13.3 1.4s8.9 0 13.3 1.3s8.9 3.9 13.3 6.7s8.9 5.4 13.4 7s8.8 2.3 13.3 2.5s8.9-.2 13.3-1"/>
<path stroke="#e377c2" d="M404.1 150.9c4.4-8.5 8.9-18.1 13.3-21.9s8.9 2.7 13.3 22.9s8.9 45.8 13.4 53.4s8.8 3.3 13.3 1s8.9-3.1 13.3-1.2s8.9 7.1 13.3 7.8s8.9-7 13.3-27.6s8.9-46.1 13.4-53.7s8.8-3.1 13.3 1s8.9 8.2 13.3 11.1s8.9 5.1 13.3 7s8.9 3.6 13.3 4.6s8.9 1.3 13.4 .4s8.8-2.8 13.3-4.1s8.9-1.3 13.3 2.5s8.9 11.8 13.3 18s8.9 9.4 13.3 9.6s8.9-1.9 13.4-3.2s8.8-2 13.3-2.2s8.9 0 13.3-.5"/>
<path stroke="#7f7f7f" d="M404.1 150.4c4.4-8.3 8.9-17.9 13.3-21.8s8.9 2 13.3 22.3s8.9 46.6 13.4 54.5s8.8 3.6 13.3 1.3s8.9-3.2 13.3-1.2s8.9 7.2 13.3 7.8s8.9-7.8 13.3-28.9s8.9-46.4 13.4-53.7s8.8-2.4 13.3 1.7s8.9 7.9 13.3 10.6s8.9 4.6 13.3 6.2s8.9 3.1 13.3 4.2s8.9 1.7 13.4 1.9s8.8-.3 13.3-.1s8.9 1.4 13.3 4.3s8.9 7.6 13.3 11.2s8.9 5.8 13.3 6.6s8.9 .4 13.4 .3s8.8 0 13.3 .2s8.9 .4 13.3-.2"/>
<path stroke="#bcbd22" d="M404.1 149.8c4.4-8.5 8.9-18.2 13.3-21.4s8.9 5.2 13.3 26.3s8.9 45.3 13.4 51.8s8.8 1.8 13.3-.5s8.9-2.5 13.3-.2s8.9 7.8 13.3 8s8.9-10.1 13.3-32.2s8.9-46.3 13.4-52.5s8.8-.9 13.3 3s8.9 7.4 13.3 9.6s8.9 3.3 13.3 4.5s8.9 2.5 13.3 4.3s8.9 4.4 13.4 7s8.8 5.1 13.3 6.3s8.9 1.1 13.3 .6s8.9-.8 13.3 .3s8.9 3.9 13.3 7s8.9 6.1 13.4 7.9s8.8 2.5 13.3 2.6s8.9-.3 13.3-1.2"/>
<path stroke="#17becf" d="M404.1 150.8c4.4-8.4 8.9-18 13.3-21.9s8.9 2.1 13.3 22.3s8.9 46.2 13.4 54s8.8 3.6 13.3 1.3s8.9-3.2 13.3-1.3s8.9 7.1 13.3 7.8s8.9-7.1 13.3-27.8s8.9-46.1 13.4-53.8s8.8-3 13.3 1.1s8.9 8.2 13.3 11.1s8.9 5 13.3 6.9s8.9 3.4 13.3 4.4s8.9 1.3 13.4 .7s8.8-2.4 13.3-3.4s8.9-.8 13.3 3s8.9 11.1 13.3 16.8s8.9 8.6 13.3 8.8s8.9-1.5 13.4-2.6s8.8-1.7 13.3-1.8s8.9 .2 13.3-.4"/>
<path stroke="#1f77b4" d="M404.1 149.4c4.4-8.5 8.9-18.2 13.3-21.2s8.9 5.8 13.3 27.2s8.9 45.3 13.4 51.5s8.8 1.3 13.3-.9s8.9-2.4 13.3 0s8.9 8.1 13.3 8.1s8.9-11.3 13.3-33.9s8.9-46.2 13.4-51.9s8.8-.2 13.3 3.7s8.9 7 13.3 8.9s8.9 2.7 13.3 3.8s8.9 2.3 13.3 4.9s8.9 6.7 13.4 10.6s8.8 7.1 13.3 7.8s8.9-1 13.3-3.1s8.9-4.3 13.3-3.7s8.9 4.3 13.3 8.9s8.9 9.2 13.4 11.6s8.8 2.9 13.3 2.7s8.9-1 13.3-2"/>
<path stroke="#ff7f0e" d="M404.1 150.3c4.4-8.6 8.9-18.3 13.3-21.4s8.9 5.2 13.3 26.1s8.9 44.7 13.4 51.2s8.8 1.8 13.3-.4s8.9-2.7 13.3-.5s8.9 7.7 13.3 8.1s8.9-9 13.3-30.5s8.9-46.1 13.4-52.9s8.8-1.7 13.3 2.4s8.9 7.7 13.3 10.1s8.9 4.1 13.3 5.5s8.9 2.8 13.3 4.1s8.9 2.5 13.4 3.6s8.8 2 13.3 2.9s8.9 2 13.3 3.7s8.9 3.9 13.3 6.3s8.9 4.4 13.3 6s8.9 2.6 13.4 3.4s8.8 1.2 13.3 1.5s8.9 .3 13.3-.4"/>
<path stroke="#2ca02c" d="M404.1 149.6c4.4-8.5 8.9-18.3 13.3-21.3s8.9 5.7 13.3 27s8.9 45.2 13.4 51.4s8.8 1.5 13.3-.7s8.9-2.5 13.3-.1s8.9 8 13.3 8s8.9-10.7 13.3-33.1s8.9-46.3 13.4-52.2s8.8-.5 13.3 3.4s8.9 7.2 13.3 9.2s8.9 3 13.3 4.1s8.9 2.3 13.3 4.6s8.9 5.7 13.4 9.1s8.8 6.5 13.3 7.4s8.9-.1 13.3-1.6s8.9-3 13.3-2.2s8.9 4 13.3 8s8.9 8.1 13.4 10.3s8.8 2.7 13.3 2.6s8.9-.7 13.3-1.6"/>
<path stroke="#d62728" d="M404.1 149.6c4.4-8.6 8.9-18.4 13.3-21.2s8.9 6.6 13.3 28s8.9 44.5 13.4 50.4s8.8 1.1 13.3-1s8.9-2.4 13.3 0s8.9 8.1 13.3 8.1s8.9-10.9 13.3-33.4s8.9-46.1 13.4-51.9s8.8-.5 13.3 3.5s8.9 7.1 13.3 9.1s8.9 2.9 13.3 4s8.9 2.4 13.3 4.7s8.9 5.8 13.4 9.3s8.8 6.5 13.3 7.5s8.9-.3 13.3-1.9s8.9-3.2 13.3-2.4s8.9 4.1 13.3 8.1s8.9 8.3 13.4 10.5s8.8 2.8 13.3 2.7s8.9-.8 13.3-1.7"/>
<path stroke="#9467bd" d="M404.1 149.4c4.4-8.4 8.9-18.1 13.3-21.3s8.9 5 13.3 26.3s8.9 45.8 13.4 52.4s8.8 1.7 13.3-.5s8.9-2.5 13.3-.2s8.9 8.1 13.3 8s8.9-11.1 13.3-33.7s8.9-46.4 13.4-52.1s8.8-.3 13.3 3.6s8.9 7.1 13.3 9s8.9 2.7 13.3 3.8s8.9 2.3 13.3 4.9s8.9 6.7 13.4 10.5s8.8 7.2 13.3 7.9s8.9-1 13.3-3.1s8.9-4.3 13.3-3.7s8.9 4.3 13.3 8.9s8.9 9.2 13.4 11.6s8.8 2.9 13.3 2.6s8.9-.9 13.3-1.9"/>
<path stroke="#8c564b" d="M404.1 149.8c4.4-8.6 8.9-18.3 13.3-21.3s8.9 5.6 13.3 26.8s8.9 45 13.4 51.3s8.8 1.5 13.3-.7s8.9-2.5 13.3-.2s8.9 7.9 13.3 8.1s8.9-10.3 13.3-32.5s8.9-46.2 13.4-52.3s8.8-.8 13.3 3.1s8.9 7.4 13.3 9.5s8.9 3.2 13.3 4.4s8.9 2.4 13.3 4.4s8.9 4.7 13.4 7.5s8.8 5.4 13.3 6.5s8.9 .8 13.3 .2s8.9-1.4 13.3-.4s8.9 4 13.3 7.2s8.9 6.6 13.4 8.5s8.8 2.6 13.3 2.6s8.9-.4 13.3-1.3"/>
<path stroke="#e377c2" d="M404.1 149.3c4.4-8.3 8.9-18 13.3-21.4s8.9 4.5 13.3 25.8s8.9 46.3 13.4 53s8.8 2.1 13.3-.2s8.9-2.6 13.3-.3s8.9 8.1 13.3 8s8.9-11.2 13.3-33.9s8.9-46.4 13.4-52.1s8.8-.2 13.3 3.7s8.9 7 13.3 8.9s8.9 2.6 13.3 3.7s8.9 2.3 13.3 5.1s8.9 6.9 13.4 10.9s8.8 7.3 13.3 8s8.9-1.3 13.3-3.6s8.9-4.7 13.3-4.1s8.9 4.3 13.3 9.1s8.9 9.6 13.4 12.1s8.8 2.9 13.3 2.6s8.9-1.1 13.3-2"/>
<path stroke="#7f7f7f" d="M404.1 149c4.4-8.2 8.9-17.9 13.3-21.4s8.9 4.1 13.3 25.4s8.9 46.9 13.4 53.9s8.8 2.2 13.3-.1s8.9-2.7 13.3-.3s8.9 8.1 13.3 7.9s8.9-11.8 13.3-34.8s8.9-46.4 13.4-51.9s8.8 .2 13.3 4s8.9 6.9 13.3 8.5s8.9 2.3 13.3 3.3s8.9 2.5 13.3 5.8s8.9 8.6 13.4 13.2s8.8 8.1 13.3 8.2s8.9-2.8 13.3-6s8.9-6.4 13.3-6s8.9 4.8 13.3 10.5s8.9 11.5 13.4 14.2s8.8 2.9 13.3 2.4s8.9-1.5 13.3-2.5"/>
<path stroke="#bcbd22" d="M404.1 149.7c4.4-8.4 8.9-18.1 13.3-21.5s8.9 4 13.3 25.1s8.9 46.2 13.4 53.1s8.8 2.3 13.3 .1s8.9-2.8 13.3-.5s8.9 7.8 13.3 7.9s8.9-10.2 13.3-32.4s8.9-46.5 13.4-52.6s8.8-.8 13.3 3.1s8.9 7.4 13.3 9.4s8.9 3.3 13.3 4.4s8.9 2.4 13.3 4.4s8.9 5 13.4 7.9s8.8 5.7 13.3 6.9s8.9 .6 13.3-.3s8.9-1.8 13.3-.9s8.9 4 13.3 7.4s8.9 7 13.4 8.9s8.8 2.6 13.3 2.7s8.9-.5 13.3-1.4"/>
<path stroke="#17becf" d="M404.1 149c4.4-8.4 8.9-18.1 13.3-21.1s8.9 5.7 13.3 27.3s8.9 45.7 13.4 51.9s8.8 1.4 13.3-.8s8.9-2.4 13.3 0s8.9 8.3 13.3 8.1s8.9-12.2 13.3-35.3s8.9-46.2 13.4-51.5s8.8 .3 13.3 4.2s8.9 6.7 13.3 8.4s8.9 2.2 13.3 3.1s8.9 2.6 13.3 6s8.9 8.9 13.4 13.7s8.8 8.1 13.3 8.1s8.9-3.2 13.3-6.5s8.9-6.7 13.3-6.4s8.9 5 13.3 10.9s8.9 11.9 13.4 14.7s8.8 2.7 13.3 2.2s8.9-1.5 13.3-2.5"/>
<path stroke="#1f77b4" d="M404.1 149.3c4.4-8.2 8.9-17.9 13.3-21.5s8.9 3.5 13.3 24.7s8.9 46.8 13.4 54.1s8.8 2.5 13.3 .2s8.9-2.8 13.3-.5s8.9 7.9 13.3 7.9s8.9-10.9 13.3-33.5s8.9-46.5 13.4-52.4s8.8-.4 13.3 3.6s8.9 7.1 13.3 9s8.9 2.8 13.3 3.8s8.9 2.4 13.3 4.9s8.9 6.6 13.4 10.4s8.8 7.1 13.3 7.9s8.9-.9 13.3-3s8.9-4.2 13.3-3.6s8.9 4.3 13.3 8.8s8.9 9.2 13.4 11.5s8.8 2.9 13.3 2.7s8.9-1 13.3-1.9"/>
<path stroke="#ff7f0e" d="M404.1 150.2c4.4-8.3 8.9-17.9 13.3-21.7s8.9 2.5 13.3 23.1s8.9 46.5 13.4 54.1s8.8 3.2 13.3 .9s8.9-3 13.3-1s8.9 7.4 13.3 7.9s8.9-8.5 13.3-29.9s8.9-46.5 13.4-53.4s8.8-2 13.3 2.1s8.9 7.8 13.3 10.3s8.9 4.2 13.3 5.6s8.9 2.8 13.3 4.1s8.9 2.3 13.4 3.2s8.8 1.6 13.3 2.5s8.9 2 13.3 3.9s8.9 4.6 13.3 7.1s8.9 4.6 13.3 6s8.9 2.2 13.4 2.8s8.8 1.1 13.3 1.4s8.9 .3 13.3-.4"/>
<path stroke="#2ca02c" d="M404.1 150.5c4.4-8.6 8.9-18.3 13.3-21.5s8.9 5.1 13.3 25.8s8.9 44.7 13.4 51.2s8.8 1.9 13.3-.3s8.9-2.7 13.3-.5s8.9 7.5 13.3 8s8.9-8.4 13.3-29.6s8.9-46.1 13.4-53.1s8.8-2.1 13.3 2s8.9 7.8 13.3 10.5s8.9 4.4 13.3 5.9s8.9 3 13.3 4.1s8.9 1.9 13.4 2.3s8.8 .3 13.3 .7s8.9 1.7 13.3 4.3s8.9 6.7 13.3 9.9s8.9 5.4 13.3 6.3s8.9 1 13.4 1.1s8.8 .4 13.3 .6s8.9 .4 13.3-.2"/>
<path stroke="#d62728" d="M404.1 149.4c4.4-8.5 8.9-18.2 13.3-21.3s8.9 5.7 13.3 27.1s8.9 45.4 13.4 51.7s8.8 1.4 13.3-.8s8.9-2.4 13.3 0s8.9 8.1 13.3 8s8.9-11.3 13.3-33.9s8.9-46.3 13.4-52s8.8-.2 13.3 3.7s8.9 7.1 13.3 8.9s8.9 2.7 13.3 3.7s8.9 2.4 13.3 5.1s8.9 6.8 13.4 10.8s8.8 7.3 13.3 8s8.9-1.3 13.3-3.5s8.9-4.6 13.3-4s8.9 4.3 13.3 9s8.9 9.6 13.4 12s8.8 2.9 13.3 2.6s8.9-1 13.3-2"/>
<path stroke="#9467bd" d="M404.1 150.2c4.4-8.2 8.9-17.8 13.3-21.8s8.9 1.7 13.3 22s8.9 47 13.4 55.1s8.8 3.8 13.3 1.4s8.9-3.2 13.3-1.2s8.9 7.3 13.3 7.8s8.9-8.2 13.3-29.5s8.9-46.5 13.4-53.7s8.8-2.1 13.3 2s8.9 7.8 13.3 10.4s8.9 4.3 13.3 5.8s8.9 2.9 13.3 4.1s8.9 2.1 13.4 2.8s8.8 1 13.3 1.7s8.9 1.9 13.3 4.2s8.9 5.4 13.3 8.2s8.9 5 13.3 6.1s8.9 1.7 13.4 2.1s8.8 .8 13.3 1.1s8.9 .3 13.3-.3"/>
<path stroke="#8c564b" d="M404.1 149.4c4.4-8.5 8.9-18.2 13.3-21.3s8.9 5.6 13.3 27s8.9 45.5 13.4 51.8s8.8 1.5 13.3-.8s8.9-2.4 13.3 0s8.9 8.1 13.3 8s8.9-11.3 13.3-33.9s8.9-46.3 13.4-52s8.8-.2 13.3 3.7s8.9 7.1 13.3 8.9s8.9 2.7 13.3 3.7s8.9 2.4 13.3 5.1s8.9 6.9 13.4 10.8s8.8 7.3 13.3 8s8.9-1.3 13.3-3.5s8.9-4.6 13.3-4s8.9 4.3 13.3 9s8.9 9.6 13.4 12s8.8 2.9 13.3 2.6s8.9-1 13.3-2"/>
<path stroke="#e377c2" d="M404.1 149.3c4.4-8.2 8.9-17.8 13.3-21.6s8.9 2.9 13.3 24s8.9 47.2 13.4 54.7s8.8 2.9 13.3 .6s8.9-2.9 13.3-.6s8.9 7.8 13.3 7.8s8.9-10.7 13.3-33.3s8.9-46.6 13.4-52.5s8.8-.5 13.3 3.4s8.9 7.2 13.3 9.1s8.9 2.8 13.3 3.9s8.9 2.4 13.3 4.9s8.9 6.4 13.4 10.1s8.8 7 13.3 7.8s8.9-.7 13.3-2.7s8.9-4 13.3-3.3s8.9 4.1 13.3 8.6s8.9 8.9 13.4 11.3s8.8 2.8 13.3 2.7s8.9-.9 13.3-1.9"/>
<path stroke="#7f7f7f" d="M404.1 150.5c4.4-8.6 8.9-18.3 13.3-21.5s8.9 4.9 13.3 25.6s8.9 44.8 13.4 51.3s8.8 2.1 13.3-.1s8.9-2.8 13.3-.6s8.9 7.5 13.3 8s8.9-8.3 13.3-29.5s8.9-46.1 13.4-53.2s8.8-2.1 13.3 2s8.9 7.9 13.3 10.5s8.9 4.4 13.3 6s8.9 2.9 13.3 4.1s8.9 1.8 13.4 2.2s8.8 .2 13.3 .7s8.9 1.6 13.3 4.3s8.9 6.7 13.3 9.9s8.9 5.5 13.3 6.4s8.9 .9 13.4 1s8.8 .3 13.3 .6s8.9 .4 13.3-.2"/>
<path stroke="#bcbd22" d="M404.1 150c4.4-8.4 8.9-18.1 13.3-21.6s8.9 4 13.3 24.8s8.9 45.9 13.4 53s8.8 2.4 13.3 .1s8.9-2.8 13.3-.6s8.9 7.6 13.3 8s8.9-9.4 13.3-31.2s8.9-46.4 13.4-52.9s8.8-1.4 13.3 2.6s8.9 7.6 13.3 9.9s8.9 3.7 13.3 5s8.9 2.6 13.3 4.1s8.9 3.4 13.4 5.3s8.8 3.6 13.3 4.8s8.9 1.8 13.3 2.4s8.9 1.3 13.3 3s8.9 4 13.3 6.3s8.9 4.3 13.4 5.7s8.8 2 13.3 2.2s8.9 0 13.3-.8"/>
<path stroke="#17becf" d="M404.1 149.8c4.4-8.5 8.9-18.3 13.3-21.2s8.9 5.8 13.3 27s8.9 44.8 13.4 50.9s8.8 1.5 13.3-.7s8.9-2.5 13.3-.1s8.9 7.9 13.3 8s8.9-10.1 13.3-32.2s8.9-46.2 13.4-52.4s8.8-.9 13.3 3.1s8.9 7.3 13.3 9.5s8.9 3.4 13.3 4.6s8.9 2.4 13.3 4.2s8.9 4.4 13.4 7s8.8 5.1 13.3 6.3s8.9 1 13.3 .6s8.9-.8 13.3 .4s8.9 3.9 13.3 6.9s8.9 6.1 13.4 7.9s8.8 2.5 13.3 2.6s8.9-.3 13.3-1.2"/>
<path stroke="#1f77b4" d="M404.1 149.2c4.4-8.4 8.9-18.2 13.3-21.2s8.9 5.9 13.3 27.4s8.9 45.4 13.4 51.6s8.8 1.3 13.3-.9s8.9-2.4 13.3 .1s8.9 8.2 13.3 8s8.9-11.7 13.3-34.6s8.9-46.2 13.4-51.7s8.8 .1 13.3 4s8.9 6.9 13.3 8.6s8.9 2.5 13.3 3.5s8.9 2.4 13.3 5.4s8.9 7.8 13.4 12.2s8.8 7.8 13.3 8.1s8.9-2.1 13.3-4.9s8.9-5.6 13.3-5.2s8.9 4.6 13.3 9.9s8.9 10.7 13.4 13.3s8.8 2.8 13.3 2.5s8.9-1.3 13.3-2.3"/>
<path stroke="#ff7f0e" d="M404.1 150.4c4.4-8.4 8.9-18 13.3-21.8s8.9 2.3 13.3 22.7s8.9 46.5 13.4 54.3s8.8 3.4 13.3 1s8.9-3 13.3-1s8.9 7.2 13.3 7.8s8.9-8.1 13.3-29.4s8.9-46.4 13.4-53.5s8.8-2.2 13.3 1.8s8.9 7.9 13.3 10.5s8.9 4.4 13.3 6s8.9 2.9 13.3 4.1s8.9 2 13.4 2.4s8.8 .5 13.3 1s8.9 1.8 13.3 4.3s8.9 6.3 13.3 9.4s8.9 5.3 13.3 6.3s8.9 1.1 13.4 1.3s8.8 .5 13.3 .8s8.9 .4 13.3-.3"/>
<path stroke="#2ca02c" d="M404.1 149.2c4.4-8.2 8.9-17.8 13.3-21.6s8.9 3 13.3 24.1s8.9 47.3 13.4 54.8s8.8 2.9 13.3 .5s8.9-2.8 13.3-.5s8.9 7.9 13.3 7.8s8.9-11 13.3-33.8s8.9-46.6 13.4-52.4s8.8-.2 13.3 3.7s8.9 7 13.3 8.9s8.9 2.6 13.3 3.7s8.9 2.3 13.3 5.1s8.9 7.1 13.4 11.2s8.8 7.4 13.3 8s8.9-1.4 13.3-3.8s8.9-4.8 13.3-4.3s8.9 4.4 13.3 9.2s8.9 9.8 13.4 12.3s8.8 2.9 13.3 2.6s8.9-1.1 13.3-2.1"/>
<path stroke="#d62728" d="M404.1 150.8c4.4-8.6 8.9-18.3 13.3-21.8s8.9 3.6 13.3 24.1s8.9 45.3 13.4 52.5s8.8 2.7 13.3 .4s8.9-2.9 13.3-.8s8.9 7.2 13.3 7.8s8.9-7.6 13.3-28.4s8.9-46.1 13.4-53.5s8.8-2.6 13.3 1.4s8.9 8.1 13.3 10.9s8.9 4.8 13.3 6.5s8.9 3.3 13.3 4.3s8.9 1.5 13.4 1.1s8.8-1.5 13.3-1.9s8.9 .4 13.3 3.9s8.9 9.6 13.3 14.3s8.9 7.1 13.3 7.5s8.9-.7 13.4-1.3s8.8-.9 13.3-.8s8.9 .3 13.3-.3"/>
<path stroke="#9467bd" d="M404.1 150.7c4.4-8.5 8.9-18.2 13.3-21.8s8.9 3.3 13.3 23.8s8.9 45.6 13.4 52.9s8.8 2.9 13.3 .6s8.9-3 13.3-1s8.9 7.3 13.3 7.9s8.9-7.7 13.3-28.7s8.9-46.1 13.4-53.5s8.8-2.5 13.3 1.6s8.9 8 13.3 10.8s8.9 4.7 13.3 6.4s8.9 3.2 13.3 4.2s8.9 1.6 13.4 1.4s8.8-1.1 13.3-1.3s8.9 .8 13.3 4.1s8.9 8.9 13.3 13.2s8.9 6.6 13.3 7.2s8.9-.4 13.4-.8s8.8-.6 13.3-.5s8.9 .4 13.3-.2"/>
<path stroke="#8c564b" d="M404.1 149.9c4.4-8.6 8.9-18.3 13.3-21.3s8.9 5.8 13.3 26.9s8.9 44.8 13.4 51s8.8 1.5 13.3-.7s8.9-2.5 13.3-.2s8.9 7.9 13.3 8.1s8.9-10.1 13.3-32.2s8.9-46.2 13.4-52.4s8.8-.9 13.3 3.1s8.9 7.4 13.3 9.5s8.9 3.4 13.3 4.6s8.9 2.5 13.3 4.3s8.9 4.3 13.4 6.8s8.8 5 13.3 6.2s8.9 1.1 13.3 .8s8.9-.7 13.3 .5s8.9 3.9 13.3 6.9s8.9 6 13.4 7.7s8.8 2.5 13.3 2.6s8.9-.3 13.3-1.2"/>
<path stroke="#e377c2" d="M404.1 149.7c4.4-8.4 8.9-18.1 13.3-21.4s8.9 4.7 13.3 25.8s8.9 45.7 13.4 52.4s8.8 2 13.3-.3s8.9-2.6 13.3-.3s8.9 7.8 13.3 8s8.9-10.3 13.3-32.5s8.9-46.3 13.4-52.5s8.8-.8 13.3 3.2s8.9 7.3 13.3 9.4s8.9 3.2 13.3 4.4s8.9 2.4 13.3 4.4s8.9 4.8 13.4 7.7s8.8 5.6 13.3 6.8s8.9 .6 13.3-.2s8.9-1.6 13.3-.6s8.9 3.9 13.3 7.3s8.9 6.8 13.4 8.7s8.8 2.6 13.3 2.7s8.9-.4 13.3-1.4"/>
<path stroke="#7f7f7f" d="M404.1 150.5c4.4-8.6 8.9-18.3 13.3-21.6s8.9 4.5 13.3 25.2s8.9 45 13.4 51.8s8.8 2.3 13.3 0s8.9-2.8 13.3-.6s8.9 7.4 13.3 7.9s8.9-8.3 13.3-29.6s8.9-46.1 13.4-53.1s8.8-2.1 13.3 1.9s8.9 7.9 13.3 10.5s8.9 4.3 13.3 5.9s8.9 2.9 13.3 4.1s8.9 2 13.4 2.4s8.8 .6 13.3 1.1s8.9 1.7 13.3 4.3s8.9 6.2 13.3 9.3s8.9 5.2 13.3 6.2s8.9 1.2 13.4 1.4s8.8 .6 13.3 .8s8.9 .4 13.3-.2"/>
<path stroke="#bcbd22" d="M404.1 150.4c4.4-8.4 8.9-18.1 13.3-21.8s8.9 3.1 13.3 23.7s8.9 46.1 13.4 53.5s8.8 2.9 13.3 .6s8.9-3 13.3-.9s8.9 7.4 13.3 7.9s8.9-8.4 13.3-29.7s8.9-46.3 13.4-53.4s8.8-2 13.3 2.1s8.9 7.8 13.3 10.3s8.9 4.3 13.3 5.9s8.9 2.8 13.3 4s8.9 2.2 13.4 2.8s8.8 1 13.3 1.6s8.9 1.9 13.3 4.2s8.9 5.6 13.3 8.4s8.9 4.9 13.3 6.1s8.9 1.6 13.4 2s8.8 .8 13.3 1s8.9 .4 13.3-.3"/>
<path stroke="#17becf" d="M404.1 149.9c4.4-8.3 8.9-17.9 13.3-21.7s8.9 2.8 13.3 23.5s8.9 46.7 13.4 54.3s8.8 3.1 13.3 .7s8.9-2.9 13.3-.8s8.9 7.5 13.3 7.9s8.9-9.3 13.3-31.1s8.9-46.5 13.4-53.1s8.8-1.5 13.3 2.5s8.9 7.6 13.3 9.9s8.9 3.8 13.3 5.1s8.9 2.5 13.3 4.1s8.9 3.4 13.4 5.3s8.8 3.7 13.3 4.9s8.9 1.7 13.3 2.3s8.9 1.3 13.3 2.9s8.9 4 13.3 6.3s8.9 4.5 13.4 5.8s8.8 2 13.3 2.3s8.9 0 13.3-.8"/>
<path stroke="#1f77b4" d="M404.1 149.6c4.4-8.4 8.9-18.1 13.3-21.5s8.9 4.5 13.3 25.7s8.9 46 13.4 52.7s8.8 2.1 13.3-.1s8.9-2.7 13.3-.4s8.9 7.9 13.3 8s8.9-10.5 13.3-32.9s8.9-46.4 13.4-52.4s8.8-.6 13.3 3.3s8.9 7.2 13.3 9.3s8.9 3 13.3 4.2s8.9 2.3 13.3 4.5s8.9 5.5 13.4 8.7s8.8 6.2 13.3 7.2s8.9 .2 13.3-1.1s8.9-2.6 13.3-1.8s8.9 4 13.3 7.8s8.9 7.7 13.4 9.8s8.8 2.7 13.3 2.7s8.9-.6 13.3-1.6"/>
<path stroke="#ff7f0e" d="M404.1 150.4c4.4-8.6 8.9-18.3 13.3-21.5s8.9 4.9 13.3 25.7s8.9 44.8 13.4 51.4s8.8 2.1 13.3-.2s8.9-2.7 13.3-.5s8.9 7.5 13.3 8s8.9-8.6 13.3-30s8.9-46.1 13.4-53s8.8-1.9 13.3 2.1s8.9 7.8 13.3 10.3s8.9 4.2 13.3 5.8s8.9 2.8 13.3 4s8.9 2.2 13.4 3s8.8 1.2 13.3 1.9s8.9 1.9 13.3 4.1s8.9 5.1 13.3 7.8s8.9 4.9 13.3 6.2s8.9 1.8 13.4 2.2s8.8 .9 13.3 1.2s8.9 .4 13.3-.3"/>
<path stroke="#2ca02c" d="M404.1 148.8c4.4-8.3 8.9-18.1 13.3-21.1s8.9 5.7 13.3 27.4s8.9 45.9 13.4 52.1s8.8 1.4 13.3-.8s8.9-2.4 13.3 .1s8.9 8.4 13.3 8s8.9-12.7 13.3-35.9s8.9-46.2 13.4-51.3s8.8 .6 13.3 4.4s8.9 6.6 13.3 8.1s8.9 1.9 13.3 2.9s8.9 2.6 13.3 6.5s8.9 10.2 13.4 15.4s8.8 8.4 13.3 7.9s8.9-4.3 13.3-8.3s8.9-7.8 13.3-7.5s8.9 5.4 13.3 12s8.9 13.3 13.4 16.1s8.8 2.7 13.3 2s8.9-1.8 13.3-2.8"/>
<path stroke="#d62728" d="M404.1 149.3c4.4-8.1 8.9-17.7 13.3-21.5s8.9 2.6 13.3 23.5s8.9 47.4 13.4 55.1s8.8 3 13.3 .6s8.9-2.9 13.3-.7s8.9 7.8 13.3 7.9s8.9-10.5 13.3-33s8.9-46.7 13.4-52.7s8.8-.6 13.3 3.4s8.9 7.2 13.3 9.1s8.9 3 13.3 4s8.9 2.4 13.3 4.8s8.9 6 13.4 9.6s8.8 6.7 13.3 7.6s8.9-.4 13.3-2.1s8.9-3.5 13.3-2.8s8.9 4.1 13.3 8.3s8.9 8.5 13.4 10.7s8.8 2.9 13.3 2.7s8.9-.8 13.3-1.7"/>
<path stroke="#9467bd" d="M404.1 148.6c4.4-8.5 8.9-18.3 13.3-20.9s8.9 7.6 13.3 29.5s8.9 44.9 13.4 50.4s8.8 .5 13.3-1.6s8.9-2.1 13.3 .6s8.9 8.6 13.3 8s8.9-13.8 13.3-37.4s8.9-45.8 13.4-50.4s8.8 1.1 13.3 4.8s8.9 6.3 13.3 7.6s8.9 1.4 13.3 2.4s8.9 3 13.3 7.8s8.9 12.4 13.4 18s8.8 8.3 13.3 7s8.9-6.1 13.3-10.9s8.9-9.3 13.3-9.1s8.9 6.1 13.3 13.8s8.9 15.4 13.4 18.4s8.8 2.4 13.3 1.4s8.9-2.2 13.3-3.1"/>
<path stroke="#8c564b" d="M404.1 149.9c4.4-8.5 8.9-18.2 13.3-21.4s8.9 5 13.3 26s8.9 45.3 13.4 51.9s8.8 1.9 13.3-.4s8.9-2.6 13.3-.3s8.9 7.8 13.3 8s8.9-9.8 13.3-31.7s8.9-46.3 13.4-52.7s8.8-1.1 13.3 2.9s8.9 7.4 13.3 9.7s8.9 3.5 13.3 4.8s8.9 2.4 13.3 4.1s8.9 3.9 13.4 6.2s8.8 4.4 13.3 5.6s8.9 1.5 13.3 1.5s8.9 .2 13.3 1.5s8.9 4 13.3 6.7s8.9 5.3 13.4 6.9s8.8 2.2 13.3 2.4s8.9-.1 13.3-1"/>
<path stroke="#e377c2" d="M404.1 150.4c4.4-8.3 8.9-17.9 13.3-21.8s8.9 2.4 13.3 22.8s8.9 46.4 13.4 54.2s8.8 3.3 13.3 1s8.9-3.1 13.3-1.1s8.9 7.3 13.3 7.8s8.9-8 13.3-29.2s8.9-46.3 13.4-53.5s8.8-2.3 13.3 1.8s8.9 7.9 13.3 10.5s8.9 4.5 13.3 6.1s8.9 3 13.3 4.1s8.9 1.9 13.4 2.2s8.8 .1 13.3 .5s8.9 1.6 13.3 4.3s8.9 6.9 13.3 10.2s8.9 5.5 13.3 6.4s8.9 .8 13.4 .9s8.8 .3 13.3 .5s8.9 .4 13.3-.2"/>
<path stroke="#7f7f7f" d="M404.1 150.1c4.4-8.4 8.9-18 13.3-21.6s8.9 3.4 13.3 24.2s8.9 46.1 13.4 53.3s8.8 2.7 13.3 .4s8.9-2.9 13.3-.7s8.9 7.5 13.3 7.9s8.9-9 13.3-30.7s8.9-46.4 13.4-53.1s8.8-1.6 13.3 2.4s8.9 7.7 13.3 10.1s8.9 3.9 13.3 5.3s8.9 2.6 13.3 4s8.9 2.9 13.4 4.4s8.8 2.8 13.3 3.9s8.9 2 13.3 3.2s8.9 2.6 13.3 4.5s8.9 4.2 13.3 6.2s8.9 3.4 13.4 4.5s8.8 1.6 13.3 1.9s8.9 .2 13.3-.6"/>
<path stroke="#bcbd22" d="M404.1 149.4c4.4-8.2 8.9-17.8 13.3-21.6s8.9 2.9 13.3 23.8s8.9 47.2 13.4 54.7s8.8 3 13.3 .6s8.9-2.8 13.3-.6s8.9 7.8 13.3 7.9s8.9-10.5 13.3-32.9s8.9-46.6 13.4-52.7s8.8-.6 13.3 3.3s8.9 7.2 13.3 9.2s8.9 3 13.3 4.2s8.9 2.3 13.3 4.6s8.9 5.7 13.4 9.1s8.8 6.5 13.3 7.4s8.9-.1 13.3-1.5s8.9-3.1 13.3-2.3s8.9 4 13.3 8s8.9 8.1 13.4 10.3s8.8 2.7 13.3 2.6s8.9-.7 13.3-1.6"/>
<path stroke="#17becf" d="M404.1 150.6c4.4-8.3 8.9-17.8 13.3-21.9s8.9 1.7 13.3 21.8s8.9 46.6 13.4 54.7s8.8 3.9 13.3 1.5s8.9-3.2 13.3-1.3s8.9 7.1 13.3 7.7s8.9-7.3 13.3-28.1s8.9-46.2 13.4-53.8s8.8-2.8 13.3 1.3s8.9 8.1 13.3 10.9s8.9 4.9 13.3 6.7s8.9 3.3 13.3 4.3s8.9 1.4 13.4 1s8.8-1.8 13.3-2.3s8.9 .1 13.3 3.7s8.9 10 13.3 14.9s8.9 7.5 13.3 7.9s8.9-1 13.4-1.7s8.8-1.1 13.3-1.1s8.9 .3 13.3-.3"/>
<path stroke="#1f77b4" d="M404.1 150.2c4.4-8.5 8.9-18.2 13.3-21.6s8.9 4.5 13.3 25.4s8.9 45.4 13.4 52.1s8.8 2.2 13.3 0s8.9-2.8 13.3-.6s8.9 7.7 13.3 8s8.9-9.1 13.3-30.8s8.9-46.2 13.4-52.9s8.8-1.5 13.3 2.5s8.9 7.6 13.3 10s8.9 3.9 13.3 5.3s8.9 2.6 13.3 4s8.9 3 13.4 4.4s8.8 2.8 13.3 3.9s8.9 2 13.3 3.1s8.9 2.7 13.3 4.6s8.9 4.2 13.3 6.2s8.9 3.4 13.4 4.5s8.8 1.6 13.3 1.9s8.9 .2 13.3-.6"/>
<path stroke="#ff7f0e" d="M404.1 148.8c4.4-8.4 8.9-18.2 13.3-21.1s8.9 6.3 13.3 28.1s8.9 45.5 13.4 51.5s8.8 1.1 13.3-1.1s8.9-2.2 13.3 .3s8.9 8.4 13.3 8s8.9-12.9 13.3-36.2s8.9-46.1 13.4-51.1s8.8 .7 13.3 4.5s8.9 6.5 13.3 8s8.9 1.8 13.3 2.8s8.9 2.7 13.3 6.7s8.9 10.6 13.4 15.9s8.8 8.4 13.3 7.8s8.9-4.7 13.3-8.8s8.9-8.1 13.3-7.8s8.9 5.5 13.3 12.3s8.9 13.7 13.4 16.6s8.8 2.6 13.3 1.8s8.9-1.9 13.3-2.8"/>
<path stroke="#2ca02c" d="M404.1 150.3c4.4-8.2 8.9-17.7 13.3-21.8s8.9 1.3 13.3 21.5s8.9 47 13.4 55.3s8.8 4 13.3 1.6s8.9-3.2 13.3-1.3s8.9 7.2 13.3 7.8s8.9-7.8 13.3-29s8.9-46.4 13.4-53.7s8.8-2.5 13.3 1.6s8.9 8 13.3 10.7s8.9 4.5 13.3 6.1s8.9 3 13.3 4.1s8.9 1.8 13.4 2.1s8.8-.1 13.3 .2s8.9 1.5 13.3 4.3s8.9 7.2 13.3 10.7s8.9 5.7 13.3 6.5s8.9 .6 13.4 .6s8.8 .1 13.3 .4s8.9 .4 13.3-.3"/>
<path stroke="#d62728" d="M404.1 151c4.4-8.4 8.9-18 13.3-21.9s8.9 2 13.3 22s8.9 46 13.4 53.9s8.8 3.7 13.3 1.4s8.9-3.2 13.3-1.3s8.9 6.9 13.3 7.7s8.9-6.6 13.3-26.9s8.9-46 13.4-54s8.8-3.4 13.3 .8s8.9 8.3 13.3 11.3s8.9 5.3 13.3 7.4s8.9 3.8 13.3 4.8s8.9 1.2 13.4 .1s8.8-3.7 13.3-5.8s8.9-3.2 13.3 .6s8.9 13 13.3 20.7s8.9 12 13.3 12.1s8.9-2.5 13.4-4.3s8.8-3.1 13.3-3.5s8.9-.4 13.3-.9"/>
<path stroke="#9467bd" d="M404.1 149.8c4.4-8.5 8.9-18.2 13.3-21.4s8.9 5.3 13.3 26.5s8.9 45.2 13.4 51.6s8.8 1.7 13.3-.5s8.9-2.5 13.3-.2s8.9 7.8 13.3 8s8.9-10.2 13.3-32.3s8.9-46.3 13.4-52.5s8.8-.8 13.3 3.1s8.9 7.4 13.3 9.5s8.9 3.3 13.3 4.5s8.9 2.4 13.3 4.3s8.9 4.6 13.4 7.3s8.8 5.3 13.3 6.5s8.9 .9 13.3 .3s8.9-1.1 13.3 0s8.9 3.9 13.3 7.1s8.9 6.3 13.4 8.2s8.8 2.5 13.3 2.6s8.9-.4 13.3-1.3"/>
<path stroke="#8c564b" d="M404.1 151c4.4-8.3 8.9-17.9 13.3-22s8.9 1.6 13.3 21.6s8.9 46.2 13.4 54.3s8.8 4 13.3 1.6s8.9-3.2 13.3-1.4s8.9 6.9 13.3 7.7s8.9-6.5 13.3-26.8s8.9-46 13.4-54s8.8-3.5 13.3 .7s8.9 8.3 13.3 11.3s8.9 5.5 13.3 7.5s8.9 3.9 13.3 5s8.9 1.2 13.4 0s8.8-3.9 13.3-6.1s8.9-3.8 13.3-.1s8.9 13.3 13.3 21.4s8.9 12.6 13.3 12.8s8.9-2.6 13.4-4.6s8.8-3.3 13.3-3.8s8.9-.4 13.3-1"/>
<path stroke="#e377c2" d="M404.1 148.4c4.4-8.3 8.9-18 13.3-21.2s8.9 5.5 13.3 27.4s8.9 46.6 13.4 52.9s8.8 1.4 13.3-.8s8.9-2.3 13.3 .2s8.9 8.6 13.3 8s8.9-14 13.3-37.7s8.9-46.1 13.4-50.7s8.8 1.2 13.3 4.9s8.9 6.2 13.3 7.5s8.9 1.3 13.3 2.2s8.9 3.3 13.3 8.5s8.9 13.2 13.4 19s8.8 8.2 13.3 6.6s8.9-6.9 13.3-12s8.9-10 13.3-9.8s8.9 6.4 13.3 14.6s8.9 16.3 13.4 19.3s8.8 2.2 13.3 1.2s8.9-2.4 13.3-3.2"/>
<path stroke="#7f7f7f" d="M404.1 149.8c4.4-8.4 8.9-18.1 13.3-21.4s8.9 4.9 13.3 26s8.9 45.4 13.4 52s8.8 1.9 13.3-.3s8.9-2.6 13.3-.3s8.9 7.8 13.3 8s8.9-10 13.3-32.1s8.9-46.3 13.4-52.6s8.8-.9 13.3 3s8.9 7.4 13.3 9.6s8.9 3.4 13.3 4.6s8.9 2.5 13.3 4.3s8.9 4.3 13.4 6.8s8.8 5 13.3 6.2s8.9 1.1 13.3 .8s8.9-.6 13.3 .5s8.9 3.9 13.3 6.9s8.9 6 13.4 7.7s8.8 2.4 13.3 2.6s8.9-.3 13.3-1.2"/>
<path stroke="#bcbd22" d="M404.1 149.8c4.4-8.2 8.9-17.8 13.3-21.7s8.9 2.2 13.3 22.8s8.9 47.1 13.4 55s8.8 3.4 13.3 1s8.9-3 13.3-.9s8.9 7.5 13.3 7.8s8.9-9.3 13.3-31.2s8.9-46.6 13.4-53.1s8.8-1.4 13.3 2.6s8.9 7.5 13.3 9.8s8.9 3.7 13.3 5s8.9 2.5 13.3 4.1s8.9 3.6 13.4 5.7s8.8 4 13.3 5.2s8.9 1.7 13.3 2s8.9 .8 13.3 2.3s8.9 3.9 13.3 6.4s8.9 4.8 13.4 6.3s8.8 2.1 13.3 2.3s8.9 0 13.3-.8"/>
<path stroke="#17becf" d="M404.1 149.6c4.4-8.2 8.9-17.7 13.3-21.7s8.9 2.2 13.3 22.9s8.9 47.4 13.4 55.3s8.8 3.3 13.3 1s8.9-3.1 13.3-.9s8.9 7.6 13.3 7.8s8.9-9.8 13.3-31.9s8.9-46.7 13.4-53s8.8-1.1 13.3 2.9s8.9 7.4 13.3 9.6s8.9 3.3 13.3 4.5s8.9 2.4 13.3 4.3s8.9 4.6 13.4 7.3s8.8 5.2 13.3 6.4s8.9 1 13.3 .4s8.9-1.1 13.3 0s8.9 3.9 13.3 7.1s8.9 6.3 13.4 8.1s8.8 2.6 13.3 2.6s8.9-.3 13.3-1.2"/>
<path stroke="#1f77b4" d="M404.1 150.1c4.4-8.5 8.9-18.2 13.3-21.5s8.9 4.7 13.3 25.6s8.9 45.3 13.4 52s8.8 2.1 13.3-.2s8.9-2.7 13.3-.4s8.9 7.6 13.3 7.9s8.9-9.2 13.3-30.9s8.9-46.3 13.4-52.9s8.8-1.4 13.3 2.6s8.9 7.6 13.3 9.9s8.9 3.8 13.3 5.2s8.9 2.6 13.3 4s8.9 3.2 13.4 4.8s8.8 3.1 13.3 4.3s8.9 1.9 13.3 2.8s8.9 2.1 13.3 3.9s8.9 4.2 13.3 6.2s8.9 3.9 13.4 5s8.8 1.8 13.3 2.1s8.9 .1 13.3-.7"/>
<path stroke="#ff7f0e" d="M404.1 149.2c4.4-8.5 8.9-18.2 13.3-21.2s8.9 5.7 13.3 27.2s8.9 45.6 13.4 51.8s8.8 1.4 13.3-.8s8.9-2.4 13.3 0s8.9 8.2 13.3 8.1s8.9-11.9 13.3-34.7s8.9-46.3 13.4-51.7s8.8 .1 13.3 3.9s8.9 6.9 13.3 8.6s8.9 2.4 13.3 3.4s8.9 2.5 13.3 5.6s8.9 8 13.4 12.5s8.8 7.8 13.3 8.1s8.9-2.3 13.3-5.3s8.9-5.8 13.3-5.4s8.9 4.7 13.3 10.1s8.9 11 13.4 13.6s8.8 2.8 13.3 2.4s8.9-1.3 13.3-2.3"/>
<path stroke="#2ca02c" d="M404.1 148.2c4.4-8.2 8.9-17.9 13.3-21.1s8.9 5.3 13.3 27.2s8.9 46.9 13.4 53.3s8.8 1.5 13.3-.8s8.9-2.3 13.3 .3s8.9 8.6 13.3 7.9s8.9-14.4 13.3-38.2s8.9-46.1 13.4-50.5s8.8 1.4 13.3 5s8.9 6.1 13.3 7.3s8.9 1 13.3 2.1s8.9 3.5 13.3 9.1s8.9 14.2 13.4 20.1s8.8 8 13.3 6s8.9-7.7 13.3-13.1s8.9-10.6 13.3-10.5s8.9 6.8 13.3 15.5s8.9 17.2 13.4 20.3s8.8 2.1 13.3 .9s8.9-2.5 13.3-3.3"/>
<path stroke="#d62728" d="M404.1 149.7c4.4-8.4 8.9-18.1 13.3-21.5s8.9 4.5 13.3 25.6s8.9 45.9 13.4 52.7s8.8 2.1 13.3-.2s8.9-2.7 13.3-.4s8.9 7.9 13.3 8s8.9-10.2 13.3-32.5s8.9-46.4 13.4-52.5s8.8-.8 13.3 3.2s8.9 7.3 13.3 9.4s8.9 3.2 13.3 4.3s8.9 2.4 13.3 4.4s8.9 5 13.4 7.9s8.8 5.7 13.3 6.8s8.9 .6 13.3-.2s8.9-1.8 13.3-.9s8.9 4 13.3 7.4s8.9 7 13.4 8.9s8.8 2.6 13.3 2.7s8.9-.5 13.3-1.4"/>
<path stroke="#9467bd" d="M404.1 151c4.4-8.5 8.9-18.1 13.3-21.8s8.9 2.9 13.3 23.2s8.9 45.4 13.4 52.9s8.8 3.1 13.3 .8s8.9-3 13.3-1.1s8.9 7 13.3 7.8s8.9-6.9 13.3-27.3s8.9-46 13.4-53.8s8.8-3.2 13.3 1s8.9 8.2 13.3 11.2s8.9 5.2 13.3 7.2s8.9 3.7 13.3 4.7s8.9 1.2 13.4 .2s8.8-3.3 13.3-5s8.9-2.4 13.3 1.5s8.9 12.6 13.3 19.5s8.9 10.7 13.3 10.9s8.9-2.2 13.4-3.9s8.8-2.6 13.3-2.9s8.9-.2 13.3-.7"/>
<path stroke="#8c564b" d="M404.1 151.2c4.4-8.5 8.9-18.1 13.3-22s8.9 2.1 13.3 22.1s8.9 45.8 13.4 53.6s8.8 3.7 13.3 1.4s8.9-3.2 13.3-1.4s8.9 6.9 13.3 7.7s8.9-6.2 13.3-26.4s8.9-45.8 13.4-53.9s8.8-3.7 13.3 .4s8.9 8.4 13.3 11.6s8.9 5.5 13.3 7.7s8.9 4.1 13.3 5.2s8.9 1.2 13.4-.1s8.8-4.3 13.3-7.2s8.9-5.2 13.3-1.9s8.9 13.5 13.3 22.8s8.9 15 13.3 15.4s8.9-2.8 13.4-5.2s8.8-4 13.3-4.7s8.9-.7 13.3-1.2"/>
<path stroke="#e377c2" d="M404.1 150.4c4.4-8.4 8.9-18 13.3-21.7s8.9 3 13.3 23.5s8.9 46 13.4 53.5s8.8 3 13.3 .7s8.9-3 13.3-.9s8.9 7.3 13.3 7.8s8.9-8.1 13.3-29.3s8.9-46.3 13.4-53.5s8.8-2.2 13.3 1.9s8.9 7.9 13.3 10.5s8.9 4.4 13.3 6s8.9 2.9 13.3 4.1s8.9 1.9 13.4 2.3s8.8 .4 13.3 .8s8.9 1.7 13.3 4.3s8.9 6.6 13.3 9.7s8.9 5.4 13.3 6.4s8.9 1 13.4 1.1s8.8 .4 13.3 .7s8.9 .4 13.3-.3"/>
<path stroke="#7f7f7f" d="M404.1 149c4.4-8.5 8.9-18.3 13.3-21s8.9 7 13.3 28.7s8.9 44.9 13.4 50.6s8.8 .8 13.3-1.4s8.9-2.2 13.3 .4s8.9 8.3 13.3 8s8.9-12.5 13.3-35.6s8.9-46 13.4-51.2s8.8 .5 13.3 4.3s8.9 6.7 13.3 8.3s8.9 2.1 13.3 3s8.9 2.6 13.3 6.2s8.9 9.3 13.4 14.2s8.8 8.2 13.3 8.1s8.9-3.6 13.3-7.1s8.9-7.1 13.3-6.8s8.9 5.1 13.3 11.3s8.9 12.3 13.4 15.1s8.8 2.8 13.3 2.2s8.9-1.7 13.3-2.6"/>
<path stroke="#bcbd22" d="M404.1 149.3c4.4-8.5 8.9-18.3 13.3-21.1s8.9 6.7 13.3 28.2s8.9 44.8 13.4 50.6s8.8 1 13.3-1.1s8.9-2.3 13.3 .1s8.9 8.3 13.3 8.1s8.9-11.7 13.3-34.4s8.9-46.1 13.4-51.7s8.8 .1 13.3 3.9s8.9 7 13.3 8.7s8.9 2.6 13.3 3.6s8.9 2.4 13.3 5.3s8.9 7.4 13.4 11.6s8.8 7.6 13.3 8.1s8.9-1.8 13.3-4.4s8.9-5.2 13.3-4.7s8.9 4.5 13.3 9.6s8.9 10.2 13.4 12.8s8.8 2.8 13.3 2.5s8.9-1.2 13.3-2.2"/>
<path stroke="#17becf" d="M404.1 148.2c4.4-8.4 8.9-18.2 13.3-20.9s8.9 7 13.3 29.1s8.9 45.7 13.4 51.5s8.8 .6 13.3-1.5s8.9-2.1 13.3 .6s8.9 8.8 13.3 7.9s8.9-14.8 13.3-38.8s8.9-45.7 13.4-50s8.8 1.6 13.3 5.2s8.9 6 13.3 7.1s8.9 .9 13.3 2s8.9 3.7 13.3 9.6s8.9 15 13.4 20.8s8.8 7.8 13.3 5.5s8.9-8.1 13.3-13.8s8.9-11 13.3-10.9s8.9 7 13.3 16.1s8.9 17.9 13.4 21s8.8 1.9 13.3 .6s8.9-2.6 13.3-3.3"/>
</g>
<rect x="391.10" y="120.50" width="292.60" height="98.90" fill="none" stroke="#000" stroke-width=".75"/>
<path d="M404.10 219.40v3M437.40 219.40v3M470.70 219.40v3M504.00 219.40v3M537.30 219.40v3M570.60 219.40v3M603.90 219.40v3M637.20 219.40v3M670.50 219.40v3M391.10 143.30h-3M391.10 167.73h-3M391.10 192.17h-3M391.10 216.60h-3" stroke="#000" stroke-width=".75" fill="none"/>
<text x="401.60" y="232.15" font-size="9px">0</text>
<text x="434.90" y="232.15" font-size="9px">2</text>
<text x="468.20" y="232.15" font-size="9px">4</text>
<text x="501.50" y="232.15" font-size="9px">6</text>
<text x="534.80" y="232.15" font-size="9px">8</text>
<text x="565.47 570.72" y="232.15" font-size="9px">10</text>
<text x="598.77 604.02" y="232.15" font-size="9px">12</text>
<text x="632.07 637.32" y="232.15" font-size="9px">14</text>
<text x="665.37 670.62" y="232.15" font-size="9px">16</text>
<text x="372.00 377.19 379.87" y="146.55" font-size="9px">0.5</text>
<text x="372.00 377.19 379.87" y="170.98" font-size="9px">0.0</text>
<path d="M365.84 192.47h5.16" stroke="#000" stroke-width="0.68" fill="none"/><text x="372.00 377.19 379.87" y="195.42" font-size="9px">0.5</text>
<path d="M365.84 216.90h5.16" stroke="#000" stroke-width="0.68" fill="none"/><text x="372.00 377.19 379.87" y="219.85" font-size="9px">1.0</text>
<g transform="translate(358.60 170.35) rotate(-90) translate(-19.16 0)"><text x="0.54" y="0" font-size="15px">v</text><text x="9.13" y="0" font-size="15px">x</text><path d="M23.03 -11.02H26.54V-10.00H24.33V0.90H26.54V1.91H23.03ZM28.14 -4.52H31.96V-3.28H28.14ZM37.08 -11.02H33.57V-10.00H35.77V0.90H33.57V1.91H37.08Z" fill="#000"/></g>
<g transform="translate(524.18 247.70)"><text x="0.76" y="0" font-size="15px">t</text><path d="M11.54 -11.02H15.05V-10.00H12.85V0.90H15.05V1.91H11.54ZM16.66 -4.52H20.47V-3.28H16.66ZM25.59 -11.02H22.08V-10.00H24.29V0.90H22.08V1.91H25.59Z" fill="#000"/></g>
<path d="M56.40 292.50V391.40M89.70 292.50V391.40M123.00 292.50V391.40M156.30 292.50V391.40M189.60 292.50V391.40M222.90 292.50V391.40M256.20 292.50V391.40M289.50 292.50V391.40M322.80 292.50V391.40M43.50 311.00H336.50M43.50 341.70H336.50M43.50 372.40H336.50" stroke="#b0b0b0" stroke-width=".7" fill="none"/>
<g fill="none" stroke-width="1.36" stroke-linecap="square" stroke-linejoin="round">
<path stroke="#1f77b4" d="M56.4 381.6c2.8 .8 5.5-.1 8.3-2.3s5.6-5.5 8.3-8.6s5.6-6.2 8.4-8.7s5.5-4.2 8.3-5.3s5.5-1.3 8.3-.7s5.6 1.9 8.3 4.2s5.6 5.5 8.4 9.2s5.5 8 8.3 11.5s5.6 5.9 8.3 6s5.6-2 8.3-5.3s5.6-7.6 8.4-11.8s5.5-8.1 8.3-11.8s5.5-7.2 8.3-10.8s5.6-7.1 8.4-11s5.5-8.4 8.3-13.1s5.5-10.1 8.3-14.9s5.6-8.8 8.3-10.5s5.6-.7 8.4 2.2s5.5 7.6 8.3 12.3s5.5 9.4 8.3 13.7s5.6 8.3 8.3 12.1s5.6 7.5 8.4 11.3s5.5 7.5 8.3 11.4s5.5 7.8 8.3 11.2s5.6 6.1 8.3 7.4s5.6 1.1 8.4-.3s5.5-3.9 8.3-6.6s5.5-5.4 8.3-7.7s5.6-3.9 8.3-4.9s5.6-1.2 8.4-.6s5.5 2.1 8.3 4.4s5.5 5.5 8.3 9"/>
<path stroke="#ff7f0e" d="M56.4 381.7c2.8 .9 5.5-.1 8.3-2.3s5.6-5.6 8.3-8.8s5.6-6.3 8.4-8.7s5.5-4.3 8.3-5.4s5.5-1.4 8.3-.8s5.6 1.9 8.3 4.1s5.6 5.4 8.4 9.1s5.5 8.1 8.3 11.6s5.6 6.1 8.3 6.4s5.6-1.7 8.3-4.9s5.6-7.6 8.4-11.8s5.5-8.2 8.3-12s5.5-7.2 8.3-10.8s5.6-7.1 8.4-11.1s5.5-8.3 8.3-13.1s5.5-10.1 8.3-14.8s5.6-8.9 8.3-10.6s5.6-.8 8.4 2.1s5.5 7.5 8.3 12.2s5.5 9.4 8.3 13.7s5.6 8.3 8.3 12.1s5.6 7.5 8.4 11.2s5.5 7.5 8.3 11.4s5.5 7.8 8.3 11.1s5.6 6.2 8.3 7.5s5.6 1.3 8.4-.1s5.5-3.8 8.3-6.4s5.5-5.4 8.3-7.6s5.6-4 8.3-4.9s5.6-1.2 8.4-.6s5.5 2.1 8.3 4.4s5.5 5.5 8.3 9"/>
<path stroke="#2ca02c" d="M56.4 382.5c2.8 .9 5.5-.3 8.3-2.8s5.6-5.9 8.3-9.3s5.6-6.7 8.4-9.3s5.5-4.5 8.3-5.8s5.5-1.6 8.3-1.3s5.6 1.5 8.3 3.6s5.6 5 8.4 8.6s5.5 7.9 8.3 11.8s5.6 7.3 8.3 8.5s5.6 0 8.3-2.8s5.6-7 8.4-11.3s5.5-8.6 8.3-12.5s5.5-7.6 8.3-11.3s5.6-7.3 8.4-11.2s5.5-8.3 8.3-13.1s5.5-9.9 8.3-14.8s5.6-9.1 8.3-11.2s5.6-1.5 8.4 1s5.5 7.1 8.3 11.7s5.5 9.4 8.3 13.7s5.6 8.2 8.3 11.9s5.6 7.3 8.4 10.8s5.5 7.2 8.3 10.8s5.5 7.3 8.3 10.6s5.6 6.3 8.3 8.2s5.6 2.5 8.4 1.9s5.5-2.4 8.3-4.5s5.5-4.6 8.3-6.7s5.6-3.7 8.3-4.7s5.6-1.1 8.4-.5s5.5 2 8.3 4.2s5.5 5.1 8.3 8.2"/>
<path stroke="#d62728" d="M56.4 382.2c2.8 .9 5.5-.2 8.3-2.6s5.6-5.8 8.3-9.1s5.6-6.5 8.4-9.1s5.5-4.4 8.3-5.6s5.5-1.5 8.3-1.1s5.6 1.7 8.3 3.8s5.6 5.1 8.4 8.8s5.5 8 8.3 11.8s5.6 6.8 8.3 7.6s5.6-.7 8.3-3.7s5.6-7.3 8.4-11.5s5.5-8.5 8.3-12.3s5.5-7.5 8.3-11.1s5.6-7.3 8.4-11.2s5.5-8.4 8.3-13.1s5.5-10.1 8.3-14.9s5.6-9 8.3-10.9s5.6-1.2 8.4 1.6s5.5 7.3 8.3 12s5.5 9.3 8.3 13.7s5.6 8.2 8.3 12s5.6 7.3 8.4 11s5.5 7.3 8.3 11.1s5.5 7.5 8.3 10.9s5.6 6.2 8.3 7.8s5.6 1.9 8.4 1s5.5-3.2 8.3-5.6s5.5-5 8.3-7.2s5.6-3.8 8.3-4.8s5.6-1.2 8.4-.5s5.5 2.1 8.3 4.3s5.5 5.4 8.3 8.7"/>
<path stroke="#9467bd" d="M56.4 382.4c2.8 .8 5.5-.3 8.3-2.7s5.6-5.9 8.3-9.2s5.6-6.6 8.4-9.2s5.5-4.5 8.3-5.7s5.5-1.6 8.3-1.2s5.6 1.6 8.3 3.7s5.6 5 8.4 8.7s5.5 7.9 8.3 11.8s5.6 7 8.3 8s5.6-.3 8.3-3.2s5.6-7.2 8.4-11.5s5.5-8.5 8.3-12.4s5.5-7.5 8.3-11.2s5.6-7.2 8.4-11.2s5.5-8.3 8.3-13.1s5.5-10 8.3-14.8s5.6-9.1 8.3-11s5.6-1.4 8.4 1.3s5.5 7.2 8.3 11.8s5.5 9.4 8.3 13.7s5.6 8.2 8.3 12s5.6 7.3 8.4 10.9s5.5 7.2 8.3 10.9s5.5 7.4 8.3 10.8s5.6 6.3 8.3 8s5.6 2.2 8.4 1.4s5.5-2.8 8.3-5s5.5-4.9 8.3-7s5.6-3.8 8.3-4.7s5.6-1.2 8.4-.6s5.5 2.1 8.3 4.3s5.5 5.3 8.3 8.5"/>
<path stroke="#8c564b" d="M56.4 382c2.8 .9 5.5-.2 8.3-2.5s5.6-5.7 8.3-9s5.6-6.4 8.4-8.9s5.5-4.4 8.3-5.5s5.5-1.5 8.3-1.1s5.6 1.8 8.3 3.9s5.6 5.3 8.4 9s5.5 8 8.3 11.7s5.6 6.6 8.3 7.2s5.6-1 8.3-4.1s5.6-7.5 8.4-11.7s5.5-8.4 8.3-12.2s5.5-7.4 8.3-11s5.6-7.2 8.4-11.2s5.5-8.3 8.3-13.1s5.5-10 8.3-14.8s5.6-9 8.3-10.8s5.6-1 8.4 1.8s5.5 7.4 8.3 12.1s5.5 9.4 8.3 13.7s5.6 8.3 8.3 12s5.6 7.4 8.4 11.1s5.5 7.4 8.3 11.2s5.5 7.7 8.3 11s5.6 6.3 8.3 7.8s5.6 1.6 8.4 .5s5.5-3.4 8.3-6s5.5-5.1 8.3-7.3s5.6-3.9 8.3-4.9s5.6-1.2 8.4-.5s5.5 2.1 8.3 4.4s5.5 5.4 8.3 8.8"/>
<path stroke="#e377c2" d="M56.4 382.7c2.8 .8 5.5-.4 8.3-2.9s5.6-6 8.3-9.5s5.6-6.7 8.4-9.3s5.5-4.7 8.3-5.9s5.5-1.7 8.3-1.4s5.6 1.4 8.3 3.4s5.6 4.9 8.4 8.5s5.5 7.9 8.3 11.8s5.6 7.5 8.3 8.9s5.6 .5 8.3-2.2s5.6-6.9 8.4-11.2s5.5-8.6 8.3-12.6s5.5-7.7 8.3-11.3s5.6-7.4 8.4-11.3s5.5-8.3 8.3-13s5.5-9.9 8.3-14.8s5.6-9.2 8.3-11.3s5.6-1.9 8.4 .6s5.5 6.9 8.3 11.5s5.5 9.3 8.3 13.6s5.6 8.2 8.3 11.9s5.6 7.2 8.4 10.7s5.5 7 8.3 10.5s5.5 7.1 8.3 10.4s5.6 6.3 8.3 8.3s5.6 2.9 8.4 2.5s5.5-1.8 8.3-3.7s5.5-4.3 8.3-6.3s5.6-3.6 8.3-4.5s5.6-1.2 8.4-.7s5.5 2 8.3 4.1s5.5 5 8.3 7.9"/>
<path stroke="#7f7f7f" d="M56.4 381.3c2.8 .8 5.5-.1 8.3-2.3s5.6-5.2 8.3-8.3s5.6-6.1 8.4-8.4s5.5-4.2 8.3-5.1s5.5-1.3 8.3-.6s5.6 2.1 8.3 4.4s5.6 5.7 8.4 9.4s5.5 8 8.3 11.2s5.6 5.4 8.3 5.3s5.6-2.5 8.3-6s5.6-7.7 8.4-11.8s5.5-8 8.3-11.6s5.5-7.1 8.3-10.6s5.6-7 8.4-11s5.5-8.3 8.3-13.1s5.5-10 8.3-14.7s5.6-8.8 8.3-10.4s5.6-.6 8.4 2.3s5.5 7.7 8.3 12.4s5.5 9.4 8.3 13.7s5.6 8.3 8.3 12.1s5.6 7.5 8.4 11.3s5.5 7.7 8.3 11.6s5.5 7.8 8.3 11.2s5.6 6 8.3 7.3s5.6 .9 8.4-.6s5.5-4.2 8.3-6.9s5.5-5.6 8.3-7.8s5.6-4 8.3-5s5.6-1.2 8.4-.6s5.5 2.1 8.3 4.4s5.5 5.6 8.3 9.1"/>
<path stroke="#bcbd22" d="M56.4 381.9c2.8 .8 5.5-.2 8.3-2.5s5.6-5.6 8.3-8.9s5.6-6.3 8.4-8.8s5.5-4.3 8.3-5.4s5.5-1.5 8.3-1s5.6 1.9 8.3 4.1s5.6 5.3 8.4 9s5.5 8 8.3 11.7s5.6 6.3 8.3 6.8s5.6-1.4 8.3-4.6s5.6-7.5 8.4-11.7s5.5-8.3 8.3-12.1s5.5-7.3 8.3-10.9s5.6-7.2 8.4-11.2s5.5-8.3 8.3-13.1s5.5-10 8.3-14.8s5.6-9 8.3-10.7s5.6-.9 8.4 2s5.5 7.5 8.3 12.2s5.5 9.4 8.3 13.7s5.6 8.3 8.3 12.1s5.6 7.4 8.4 11.1s5.5 7.5 8.3 11.4s5.5 7.7 8.3 11.1s5.6 6.1 8.3 7.5s5.6 1.4 8.4 .2s5.5-3.7 8.3-6.3s5.5-5.3 8.3-7.5s5.6-4 8.3-4.9s5.6-1.2 8.4-.6s5.5 2.1 8.3 4.4s5.5 5.5 8.3 8.9"/>
<path stroke="#17becf" d="M56.4 381.4c2.8 .9 5.5-.1 8.3-2.2s5.6-5.4 8.3-8.5s5.6-6.2 8.4-8.5s5.5-4.2 8.3-5.2s5.5-1.3 8.3-.7s5.6 2 8.3 4.3s5.6 5.6 8.4 9.3s5.5 8 8.3 11.4s5.6 5.6 8.3 5.6s5.6-2.2 8.3-5.6s5.6-7.7 8.4-11.9s5.5-8 8.3-11.7s5.5-7.1 8.3-10.6s5.6-7.1 8.4-11.1s5.5-8.3 8.3-13.1s5.5-10 8.3-14.8s5.6-8.8 8.3-10.4s5.6-.7 8.4 2.3s5.5 7.6 8.3 12.3s5.5 9.4 8.3 13.7s5.6 8.3 8.3 12.1s5.6 7.5 8.4 11.3s5.5 7.6 8.3 11.5s5.5 7.8 8.3 11.2s5.6 6.1 8.3 7.4s5.6 1 8.4-.5s5.5-4.1 8.3-6.8s5.5-5.5 8.3-7.7s5.6-4 8.3-5s5.6-1.2 8.4-.6s5.5 2.1 8.3 4.5s5.5 5.5 8.3 9"/>
<path stroke="#1f77b4" d="M56.4 382.1c2.8 .9 5.5-.2 8.3-2.6s5.6-5.7 8.3-9s5.6-6.5 8.4-9s5.5-4.4 8.3-5.5s5.5-1.5 8.3-1.1s5.6 1.7 8.3 3.9s5.6 5.2 8.4 8.9s5.5 8 8.3 11.7s5.6 6.7 8.3 7.4s5.6-.9 8.3-4s5.6-7.4 8.4-11.6s5.5-8.4 8.3-12.3s5.5-7.4 8.3-11s5.6-7.2 8.4-11.2s5.5-8.3 8.3-13.1s5.5-10 8.3-14.8s5.6-9 8.3-10.9s5.6-1 8.4 1.8s5.5 7.3 8.3 12s5.5 9.4 8.3 13.7s5.6 8.3 8.3 12.1s5.6 7.3 8.4 11s5.5 7.4 8.3 11.2s5.5 7.6 8.3 11s5.6 6.2 8.3 7.7s5.6 1.8 8.4 .7s5.5-3.4 8.3-5.8s5.5-5.2 8.3-7.4s5.6-3.8 8.3-4.8s5.6-1.2 8.4-.6s5.5 2.2 8.3 4.4s5.5 5.4 8.3 8.8"/>
<path stroke="#ff7f0e" d="M56.4 382.7c2.8 .9 5.5-.3 8.3-2.8s5.6-6.1 8.3-9.6s5.6-6.7 8.4-9.4s5.5-4.6 8.3-5.9s5.5-1.7 8.3-1.4s5.6 1.4 8.3 3.4s5.6 4.8 8.4 8.4s5.5 7.9 8.3 11.9s5.6 7.5 8.3 8.9s5.6 .6 8.3-2s5.6-6.8 8.4-11.1s5.5-8.6 8.3-12.6s5.5-7.8 8.3-11.4s5.6-7.4 8.4-11.3s5.5-8.3 8.3-13s5.5-9.9 8.3-14.7s5.6-9.3 8.3-11.5s5.6-1.9 8.4 .6s5.5 6.8 8.3 11.3s5.5 9.3 8.3 13.6s5.6 8.2 8.3 11.9s5.6 7.2 8.4 10.7s5.5 6.9 8.3 10.4s5.5 7.1 8.3 10.4s5.6 6.3 8.3 8.3s5.6 3 8.4 2.7s5.5-1.6 8.3-3.5s5.5-4.1 8.3-6.1s5.6-3.6 8.3-4.5s5.6-1.2 8.4-.6s5.5 1.9 8.3 4s5.5 4.9 8.3 7.7"/>
<path stroke="#2ca02c" d="M56.4 381.2c2.8 .8 5.5-.1 8.3-2.1s5.6-5.3 8.3-8.3s5.6-6.1 8.4-8.4s5.5-4.1 8.3-5.1s5.5-1.2 8.3-.5s5.6 2.1 8.3 4.5s5.6 5.6 8.4 9.3s5.5 8 8.3 11.2s5.6 5.3 8.3 5s5.6-2.6 8.3-6s5.6-7.8 8.4-11.9s5.5-7.9 8.3-11.5s5.5-7.1 8.3-10.5s5.6-7 8.4-11s5.5-8.3 8.3-13s5.5-10.1 8.3-14.8s5.6-8.8 8.3-10.4s5.6-.6 8.4 2.3s5.5 7.7 8.3 12.4s5.5 9.4 8.3 13.7s5.6 8.3 8.3 12.1s5.6 7.5 8.4 11.3s5.5 7.6 8.3 11.5s5.5 7.8 8.3 11.2s5.6 6.1 8.3 7.3s5.6 1 8.4-.5s5.5-4.2 8.3-6.9s5.5-5.5 8.3-7.7s5.6-4 8.3-5s5.6-1.2 8.4-.6s5.5 2.1 8.3 4.4s5.5 5.6 8.3 9.1"/>
<path stroke="#d62728" d="M56.4 381.5c2.8 .8 5.5-.1 8.3-2.3s5.6-5.4 8.3-8.5s5.6-6.2 8.4-8.6s5.5-4.2 8.3-5.2s5.5-1.3 8.3-.8s5.6 2.1 8.3 4.4s5.6 5.5 8.4 9.2s5.5 8 8.3 11.4s5.6 5.7 8.3 5.8s5.6-2.1 8.3-5.5s5.6-7.7 8.4-11.8s5.5-8.1 8.3-11.8s5.5-7.2 8.3-10.7s5.6-7.1 8.4-11s5.5-8.3 8.3-13.1s5.5-10.1 8.3-14.8s5.6-8.9 8.3-10.5s5.6-.7 8.4 2.3s5.5 7.6 8.3 12.3s5.5 9.4 8.3 13.7s5.6 8.3 8.3 12.1s5.6 7.5 8.4 11.3s5.5 7.6 8.3 11.5s5.5 7.8 8.3 11.2s5.6 6.1 8.3 7.3s5.6 1.1 8.4-.4s5.5-4 8.3-6.7s5.5-5.5 8.3-7.8s5.6-3.9 8.3-4.9s5.6-1.2 8.4-.6s5.5 2.1 8.3 4.4s5.5 5.5 8.3 9"/>
<path stroke="#9467bd" d="M56.4 381.5c2.8 .8 5.5-.1 8.3-2.3s5.6-5.4 8.3-8.5s5.6-6.2 8.4-8.6s5.5-4.2 8.3-5.2s5.5-1.3 8.3-.7s5.6 2 8.3 4.3s5.6 5.5 8.4 9.2s5.5 8 8.3 11.4s5.6 5.7 8.3 5.8s5.6-2.1 8.3-5.5s5.6-7.7 8.4-11.8s5.5-8.1 8.3-11.8s5.5-7.2 8.3-10.7s5.6-7 8.4-11s5.5-8.3 8.3-13.1s5.5-10.1 8.3-14.8s5.6-8.9 8.3-10.5s5.6-.7 8.4 2.3s5.5 7.6 8.3 12.3s5.5 9.4 8.3 13.7s5.6 8.3 8.3 12.1s5.6 7.5 8.4 11.3s5.5 7.6 8.3 11.4s5.5 7.9 8.3 11.2s5.6 6.1 8.3 7.4s5.6 1.1 8.4-.4s5.5-4 8.3-6.7s5.5-5.5 8.3-7.7s5.6-4 8.3-5s5.6-1.2 8.4-.6s5.5 2.1 8.3 4.5s5.5 5.5 8.3 9"/>
<path stroke="#8c564b" d="M56.4 381.7c2.8 .9 5.5-.1 8.3-2.4s5.6-5.5 8.3-8.7s5.6-6.3 8.4-8.8s5.5-4.3 8.3-5.3s5.5-1.4 8.3-.9s5.6 1.9 8.3 4.2s5.6 5.4 8.4 9.1s5.5 8 8.3 11.6s5.6 6.1 8.3 6.4s5.6-1.7 8.3-4.9s5.6-7.6 8.4-11.8s5.5-8.2 8.3-12s5.5-7.2 8.3-10.8s5.6-7.1 8.4-11.1s5.5-8.3 8.3-13.1s5.5-10.1 8.3-14.9s5.6-8.9 8.3-10.6s5.6-.8 8.4 2.2s5.5 7.5 8.3 12.2s5.5 9.4 8.3 13.7s5.6 8.3 8.3 12.1s5.6 7.5 8.4 11.2s5.5 7.6 8.3 11.5s5.5 7.7 8.3 11.1s5.6 6.1 8.3 7.5s5.6 1.2 8.4-.2s5.5-3.8 8.3-6.5s5.5-5.4 8.3-7.6s5.6-3.9 8.3-4.9s5.6-1.2 8.4-.6s5.5 2.1 8.3 4.4s5.5 5.5 8.3 9"/>
<path stroke="#e377c2" d="M56.4 381.7c2.8 .9 5.5-.1 8.3-2.3s5.6-5.6 8.3-8.8s5.6-6.3 8.4-8.7s5.5-4.3 8.3-5.4s5.5-1.4 8.3-.9s5.6 1.9 8.3 4.2s5.6 5.4 8.4 9.1s5.5 8 8.3 11.5s5.6 6.2 8.3 6.5s5.6-1.7 8.3-4.9s5.6-7.6 8.4-11.8s5.5-8.2 8.3-12s5.5-7.2 8.3-10.8s5.6-7.1 8.4-11.1s5.5-8.3 8.3-13.1s5.5-10.1 8.3-14.8s5.6-8.9 8.3-10.6s5.6-.9 8.4 2s5.5 7.6 8.3 12.3s5.5 9.4 8.3 13.7s5.6 8.3 8.3 12.1s5.6 7.4 8.4 11.2s5.5 7.5 8.3 11.4s5.5 7.7 8.3 11.1s5.6 6.1 8.3 7.5s5.6 1.3 8.4-.1s5.5-3.8 8.3-6.4s5.5-5.4 8.3-7.6s5.6-3.9 8.3-4.9s5.6-1.2 8.4-.6s5.5 2.2 8.3 4.5s5.5 5.4 8.3 8.9"/>
<path stroke="#7f7f7f" d="M56.4 381.2c2.8 .9 5.5-.1 8.3-2.2s5.6-5.2 8.3-8.3s5.6-6 8.4-8.4s5.5-4.1 8.3-5.1s5.5-1.2 8.3-.5s5.6 2.1 8.3 4.5s5.6 5.6 8.4 9.3s5.5 8 8.3 11.2s5.6 5.3 8.3 5.2s5.6-2.6 8.3-6.1s5.6-7.7 8.4-11.8s5.5-8 8.3-11.6s5.5-7 8.3-10.5s5.6-7 8.4-11s5.5-8.3 8.3-13.1s5.5-10 8.3-14.7s5.6-8.8 8.3-10.4s5.6-.6 8.4 2.3s5.5 7.7 8.3 12.4s5.5 9.4 8.3 13.7s5.6 8.3 8.3 12.1s5.6 7.5 8.4 11.3s5.5 7.7 8.3 11.6s5.5 7.8 8.3 11.2s5.6 6 8.3 7.3s5.6 .9 8.4-.6s5.5-4.2 8.3-6.9s5.5-5.6 8.3-7.8s5.6-4 8.3-5s5.6-1.2 8.4-.6s5.5 2.1 8.3 4.5s5.5 5.5 8.3 9"/>
<path stroke="#bcbd22" d="M56.4 382.5c2.8 .8 5.5-.4 8.3-2.8s5.6-5.9 8.3-9.3s5.6-6.6 8.4-9.2s5.5-4.6 8.3-5.8s5.5-1.6 8.3-1.2s5.6 1.5 8.3 3.6s5.6 5 8.4 8.6s5.5 8 8.3 11.9s5.6 7.1 8.3 8.2s5.6-.1 8.3-2.9s5.6-7.1 8.4-11.4s5.5-8.5 8.3-12.5s5.5-7.5 8.3-11.2s5.6-7.3 8.4-11.3s5.5-8.2 8.3-13s5.5-10 8.3-14.8s5.6-9.1 8.3-11.1s5.6-1.5 8.4 1.1s5.5 7.1 8.3 11.7s5.5 9.4 8.3 13.7s5.6 8.2 8.3 12s5.6 7.3 8.4 10.8s5.5 7.2 8.3 10.9s5.5 7.3 8.3 10.7s5.6 6.2 8.3 8s5.6 2.4 8.4 1.7s5.5-2.5 8.3-4.7s5.5-4.7 8.3-6.8s5.6-3.8 8.3-4.7s5.6-1.2 8.4-.6s5.5 2.1 8.3 4.3s5.5 5.2 8.3 8.3"/>
<path stroke="#17becf" d="M56.4 382.1c2.8 .9 5.5-.2 8.3-2.5s5.6-5.8 8.3-9.1s5.6-6.4 8.4-9s5.5-4.4 8.3-5.5s5.5-1.5 8.3-1.1s5.6 1.7 8.3 3.9s5.6 5.2 8.4 8.9s5.5 8 8.3 11.7s5.6 6.7 8.3 7.4s5.6-.9 8.3-4s5.6-7.4 8.4-11.6s5.5-8.4 8.3-12.3s5.5-7.4 8.3-11s5.6-7.2 8.4-11.2s5.5-8.3 8.3-13.1s5.5-10 8.3-14.8s5.6-9 8.3-10.9s5.6-1 8.4 1.8s5.5 7.3 8.3 12s5.5 9.4 8.3 13.7s5.6 8.3 8.3 12s5.6 7.4 8.4 11.1s5.5 7.4 8.3 11.2s5.5 7.6 8.3 10.9s5.6 6.3 8.3 7.8s5.6 1.7 8.4 .7s5.5-3.3 8.3-5.8s5.5-5.1 8.3-7.3s5.6-3.9 8.3-4.9s5.6-1.1 8.4-.5s5.5 2.1 8.3 4.4s5.5 5.4 8.3 8.7"/>
</g>
<rect x="43.50" y="292.50" width="293.00" height="98.90" fill="none" stroke="#000" stroke-width=".75"/>
<path d="M56.40 391.40v3M89.70 391.40v3M123.00 391.40v3M156.30 391.40v3M189.60 391.40v3M222.90 391.40v3M256.20 391.40v3M289.50 391.40v3M322.80 391.40v3M43.50 311.00h-3M43.50 341.70h-3M43.50 372.40h-3" stroke="#000" stroke-width=".75" fill="none"/>
<text x="53.90" y="404.15" font-size="9px">0</text>
<text x="87.20" y="404.15" font-size="9px">2</text>
<text x="120.50" y="404.15" font-size="9px">4</text>
<text x="153.80" y="404.15" font-size="9px">6</text>
<text x="187.10" y="404.15" font-size="9px">8</text>
<text x="217.77 223.02" y="404.15" font-size="9px">10</text>
<text x="251.07 256.32" y="404.15" font-size="9px">12</text>
<text x="284.37 289.62" y="404.15" font-size="9px">14</text>
<text x="317.67 322.92" y="404.15" font-size="9px">16</text>
<text x="32.27" y="314.25" font-size="9px">1</text>
<text x="32.27" y="344.95" font-size="9px">0</text>
<path d="M26.11 372.70h5.16" stroke="#000" stroke-width="0.68" fill="none"/><text x="32.27" y="375.65" font-size="9px">1</text>
<g transform="translate(19.20 342.35) rotate(-90) translate(-14.87 0)"><text x="0.54" y="0" font-size="15px">x</text><path d="M14.44 -11.02H17.95V-10.00H15.75V0.90H17.95V1.91H14.44ZM19.56 -4.52H23.37V-3.28H19.56ZM28.49 -11.02H24.98V-10.00H27.19V0.90H24.98V1.91H28.49Z" fill="#000"/></g>
<path d="M56.40 411.30V510.30M89.70 411.30V510.30M123.00 411.30V510.30M156.30 411.30V510.30M189.60 411.30V510.30M222.90 411.30V510.30M256.20 411.30V510.30M289.50 411.30V510.30M322.80 411.30V510.30M43.50 415.40H336.50M43.50 438.97H336.50M43.50 462.55H336.50M43.50 486.12H336.50M43.50 509.70H336.50" stroke="#b0b0b0" stroke-width=".7" fill="none"/>
<g fill="none" stroke-width="1.36" stroke-linecap="square" stroke-linejoin="round">
<path stroke="#1f77b4" d="M56.4 470.6c2.8-10.5 5.5-21.4 8.3-28.2s5.6-9.3 8.3-9s5.6 3.2 8.4 6.8s5.5 8.1 8.3 12.7s5.5 9.6 8.3 14.8s5.6 10.6 8.3 15.9s5.6 10.4 8.4 13.3s5.5 3 8.3-2.6s5.6-17.4 8.3-30.3s5.6-25.4 8.3-32.1s5.6-8.1 8.4-7.6s5.5 2.6 8.3 4s5.5 2.2 8.3 1.8s5.6-1.8 8.4-4s5.5-5.4 8.3-7.7s5.5-3.6 8.3 .3s5.6 14.1 8.3 28.5s5.6 31.5 8.4 42.4s5.5 15.4 8.3 16.2s5.5-1.5 8.3-3.5s5.6-3.7 8.3-4.6s5.6-1 8.4-.6s5.5 1.2 8.3 1.1s5.5-.9 8.3-4.6s5.6-10.5 8.3-18.9s5.6-18.2 8.4-25.1s5.5-10.8 8.3-11.7s5.5 1 8.3 4.1s5.6 7.1 8.3 11.6s5.6 9.5 8.4 14.7s5.5 10.6 8.3 15.6s5.5 9.4 8.3 11"/>
<path stroke="#ff7f0e" d="M56.4 470.6c2.8-10.7 5.5-21.7 8.3-28.5s5.6-9.4 8.3-9.1s5.6 3.3 8.4 7s5.5 8 8.3 12.7s5.5 9.5 8.3 14.7s5.6 10.6 8.3 15.9s5.6 10.5 8.4 13.5s5.5 3.5 8.3-1.7s5.6-16.8 8.3-29.7s5.6-25.9 8.3-32.9s5.6-8.8 8.4-8.4s5.5 2.5 8.3 3.9s5.5 2.2 8.3 1.9s5.6-1.7 8.4-3.9s5.5-5.3 8.3-7.6s5.5-3.6 8.3 .2s5.6 13.9 8.3 28.3s5.6 31.5 8.4 42.4s5.5 15.6 8.3 16.5s5.5-1.5 8.3-3.5s5.6-3.8 8.3-4.7s5.6-1 8.4-.7s5.5 1.1 8.3 1.2s5.5-.9 8.3-4.5s5.6-10.1 8.3-18.5s5.6-17.9 8.4-24.9s5.5-10.9 8.3-11.9s5.5 .8 8.3 3.8s5.6 7 8.3 11.5s5.6 9.5 8.4 14.7s5.5 10.6 8.3 15.5s5.5 9.4 8.3 10.8"/>
<path stroke="#2ca02c" d="M56.4 470.3c2.8-11.4 5.5-23.2 8.3-30.2s5.6-9.5 8.3-8.9s5.6 3.7 8.4 7.5s5.5 8.1 8.3 12.7s5.5 9.4 8.3 14.4s5.6 10.3 8.3 15.6s5.6 10.6 8.4 14.5s5.5 5.9 8.3 2.7s5.6-12.5 8.3-25.2s5.6-27.5 8.3-36.7s5.6-12.9 8.4-13.5s5.5 1.4 8.3 3s5.5 2.7 8.3 2.7s5.6-1 8.4-2.9s5.5-4.8 8.3-7.1s5.5-4 8.3-.9s5.6 12.1 8.3 25.8s5.6 31 8.4 42.6s5.5 17.3 8.3 18.6s5.5-.8 8.3-2.8s5.6-4.1 8.3-5.3s5.6-1.7 8.4-1.6s5.5 .5 8.3 .7s5.5-.3 8.3-2.7s5.6-7.1 8.3-13.8s5.6-15.2 8.4-22.3s5.5-12.3 8.3-14.4s5.5-1.5 8.3 .8s5.6 5.9 8.3 10.2s5.6 9.2 8.4 14.3s5.5 10.2 8.3 14.6s5.5 7.9 8.3 8.3"/>
<path stroke="#d62728" d="M56.4 470.4c2.8-11.1 5.5-22.6 8.3-29.5s5.6-9.5 8.3-9s5.6 3.6 8.4 7.3s5.5 8.1 8.3 12.7s5.5 9.5 8.3 14.5s5.6 10.5 8.3 15.8s5.6 10.6 8.4 14.1s5.5 5 8.3 1s5.6-14.3 8.3-27.3s5.6-26.9 8.3-35.3s5.6-11.1 8.4-11.3s5.5 2 8.3 3.5s5.5 2.5 8.3 2.4s5.6-1.3 8.4-3.4s5.5-5 8.3-7.3s5.5-3.8 8.3-.3s5.6 12.9 8.3 27s5.6 31.3 8.4 42.7s5.5 16.4 8.3 17.5s5.5-1.2 8.3-3.2s5.6-4 8.3-5.1s5.6-1.3 8.4-1.1s5.5 .9 8.3 1s5.5-.6 8.3-3.5s5.6-8.6 8.3-16.2s5.6-16.8 8.4-23.8s5.5-11.8 8.3-13.3s5.5-.3 8.3 2.4s5.6 6.6 8.3 11s5.6 9.5 8.4 14.6s5.5 10.5 8.3 15.1s5.5 8.7 8.3 9.6"/>
<path stroke="#9467bd" d="M56.4 470.5c2.8-11.3 5.5-22.9 8.3-30s5.6-9.5 8.3-9s5.6 3.7 8.4 7.4s5.5 8.1 8.3 12.7s5.5 9.4 8.3 14.5s5.6 10.4 8.3 15.7s5.6 10.6 8.4 14.3s5.5 5.5 8.3 1.9s5.6-13.5 8.3-26.3s5.6-27.3 8.3-36s5.6-12 8.4-12.4s5.5 1.7 8.3 3.2s5.5 2.7 8.3 2.6s5.6-1.2 8.4-3.2s5.5-4.9 8.3-7.2s5.5-3.8 8.3-.5s5.6 12.4 8.3 26.3s5.6 31.2 8.4 42.7s5.5 16.9 8.3 18.1s5.5-1 8.3-3.1s5.6-4 8.3-5.1s5.6-1.5 8.4-1.4s5.5 .7 8.3 .8s5.5-.4 8.3-3.1s5.6-7.8 8.3-14.9s5.6-16.1 8.4-23.2s5.5-12 8.3-13.8s5.5-.9 8.3 1.6s5.6 6.3 8.3 10.7s5.6 9.3 8.4 14.4s5.5 10.4 8.3 14.9s5.5 8.3 8.3 8.9"/>
<path stroke="#8c564b" d="M56.4 470.5c2.8-11 5.5-22.4 8.3-29.2s5.6-9.4 8.3-9s5.6 3.5 8.4 7.2s5.5 8.1 8.3 12.7s5.5 9.5 8.3 14.6s5.6 10.5 8.3 15.8s5.6 10.6 8.4 13.9s5.5 4.5 8.3 .1s5.6-15.2 8.3-28.2s5.6-26.6 8.3-34.5s5.6-10.3 8.4-10.3s5.5 2.2 8.3 3.7s5.5 2.4 8.3 2.2s5.6-1.5 8.4-3.6s5.5-5.1 8.3-7.4s5.5-3.7 8.3-.1s5.6 13.3 8.3 27.5s5.6 31.5 8.4 42.6s5.5 16.1 8.3 17.1s5.5-1.3 8.3-3.3s5.6-3.9 8.3-4.9s5.6-1.2 8.4-1s5.5 1 8.3 1.1s5.5-.7 8.3-3.9s5.6-9.2 8.3-17.1s5.6-17.3 8.4-24.3s5.5-11.5 8.3-12.8s5.5 .2 8.3 3s5.6 6.8 8.3 11.3s5.6 9.5 8.4 14.6s5.5 10.6 8.3 15.3s5.5 9 8.3 10.1"/>
<path stroke="#e377c2" d="M56.4 470.3c2.8-11.6 5.5-23.5 8.3-30.6s5.6-9.5 8.3-8.9s5.6 3.8 8.4 7.6s5.5 8.2 8.3 12.7s5.5 9.3 8.3 14.3s5.6 10.2 8.3 15.5s5.6 10.7 8.4 14.6s5.5 6.4 8.3 3.7s5.6-11.5 8.3-24s5.6-27.6 8.3-37.3s5.6-13.9 8.4-14.8s5.5 1.1 8.3 2.7s5.5 2.8 8.3 2.9s5.6-.8 8.4-2.7s5.5-4.6 8.3-6.9s5.5-4 8.3-1.2s5.6 11.4 8.3 24.9s5.6 30.7 8.4 42.6s5.5 17.8 8.3 19.3s5.5-.5 8.3-2.6s5.6-4.1 8.3-5.4s5.6-1.9 8.4-2s5.5 .4 8.3 .5s5.5-.2 8.3-2.2s5.6-6.2 8.3-12.3s5.6-14.1 8.4-21.1s5.5-12.4 8.3-14.9s5.5-2.4 8.3-.4s5.6 5.4 8.3 9.6s5.6 8.9 8.4 13.9s5.5 10 8.3 14.2s5.5 7.4 8.3 7.5"/>
<path stroke="#7f7f7f" d="M56.4 470.4c2.8-10.2 5.5-20.8 8.3-27.4s5.6-9.1 8.3-8.8s5.6 3.1 8.4 6.6s5.5 8 8.3 12.7s5.5 9.6 8.3 14.8s5.6 10.7 8.3 16s5.6 10.2 8.4 12.7s5.5 1.9 8.3-4.3s5.6-18.7 8.3-31.5s5.6-24.3 8.3-30.3s5.6-6.8 8.4-6.1s5.5 2.9 8.3 4.2s5.5 2 8.3 1.5s5.6-2 8.4-4.3s5.5-5.5 8.3-7.8s5.5-3.5 8.3 .5s5.6 14.4 8.3 28.9s5.6 31.5 8.4 42.2s5.5 15.1 8.3 15.8s5.5-1.5 8.3-3.5s5.6-3.7 8.3-4.5s5.6-.9 8.4-.5s5.5 1.3 8.3 1.2s5.5-1.1 8.3-5s5.6-11 8.3-19.7s5.6-18.5 8.4-25.3s5.5-10.5 8.3-11.1s5.5 1.3 8.3 4.4s5.6 7.2 8.3 11.7s5.6 9.5 8.4 14.7s5.5 10.7 8.3 15.7s5.5 9.7 8.3 11.5"/>
<path stroke="#bcbd22" d="M56.4 470.4c2.8-10.8 5.5-22 8.3-28.8s5.6-9.3 8.3-8.9s5.6 3.4 8.4 7.1s5.5 8 8.3 12.7s5.5 9.5 8.3 14.6s5.6 10.6 8.3 15.9s5.6 10.5 8.4 13.7s5.5 4 8.3-.8s5.6-16.1 8.3-29.1s5.6-26.2 8.3-33.7s5.6-9.5 8.4-9.3s5.5 2.4 8.3 3.8s5.5 2.3 8.3 2.1s5.6-1.6 8.4-3.8s5.5-5.2 8.3-7.5s5.5-3.6 8.3 .1s5.6 13.7 8.3 28s5.6 31.5 8.4 42.6s5.5 15.7 8.3 16.6s5.5-1.4 8.3-3.4s5.6-3.8 8.3-4.8s5.6-1.1 8.4-.7s5.5 1 8.3 1.1s5.5-.8 8.3-4.3s5.6-9.8 8.3-18s5.6-17.7 8.4-24.7s5.5-11.1 8.3-12.2s5.5 .6 8.3 3.5s5.6 6.9 8.3 11.4s5.6 9.5 8.4 14.7s5.5 10.6 8.3 15.5s5.5 9.2 8.3 10.5"/>
<path stroke="#17becf" d="M56.4 470.5c2.8-10.3 5.5-21.1 8.3-27.8s5.6-9.2 8.3-8.9s5.6 3.1 8.4 6.7s5.5 8 8.3 12.7s5.5 9.6 8.3 14.8s5.6 10.7 8.3 15.9s5.6 10.4 8.4 13s5.5 2.5 8.3-3.4s5.6-18.1 8.3-30.9s5.6-24.9 8.3-31.2s5.6-7.5 8.4-6.8s5.5 2.7 8.3 4.1s5.5 2 8.3 1.6s5.6-1.9 8.4-4.2s5.5-5.4 8.3-7.7s5.5-3.5 8.3 .4s5.6 14.3 8.3 28.7s5.6 31.5 8.4 42.3s5.5 15.3 8.3 16s5.5-1.5 8.3-3.5s5.6-3.7 8.3-4.6s5.6-.9 8.4-.5s5.5 1.2 8.3 1.2s5.5-1 8.3-4.9s5.6-10.7 8.3-19.3s5.6-18.4 8.4-25.2s5.5-10.6 8.3-11.4s5.5 1.2 8.3 4.3s5.6 7.1 8.3 11.7s5.6 9.5 8.4 14.6s5.5 10.7 8.3 15.7s5.5 9.6 8.3 11.3"/>
<path stroke="#1f77b4" d="M56.4 470.5c2.8-11.1 5.5-22.5 8.3-29.4s5.6-9.4 8.3-8.9s5.6 3.5 8.4 7.2s5.5 8.1 8.3 12.7s5.5 9.5 8.3 14.6s5.6 10.4 8.3 15.7s5.6 10.7 8.4 14.1s5.5 4.7 8.3 .3s5.6-14.9 8.3-27.8s5.6-26.8 8.3-34.8s5.6-10.6 8.4-10.6s5.5 2.1 8.3 3.5s5.5 2.5 8.3 2.3s5.6-1.4 8.4-3.5s5.5-5.1 8.3-7.4s5.5-3.7 8.3-.2s5.6 13.3 8.3 27.4s5.6 31.4 8.4 42.6s5.5 16.3 8.3 17.2s5.5-1.2 8.3-3.2s5.6-3.9 8.3-5s5.6-1.2 8.4-1s5.5 1 8.3 1s5.5-.6 8.3-3.7s5.6-9 8.3-16.8s5.6-17.1 8.4-24.2s5.5-11.5 8.3-12.9s5.5 .1 8.3 2.8s5.6 6.7 8.3 11.2s5.6 9.5 8.4 14.6s5.5 10.6 8.3 15.3s5.5 8.8 8.3 9.8"/>
<path stroke="#ff7f0e" d="M56.4 470.4c2.8-11.7 5.5-23.7 8.3-30.8s5.6-9.5 8.3-8.9s5.6 3.8 8.4 7.6s5.5 8.2 8.3 12.7s5.5 9.3 8.3 14.3s5.6 10.2 8.3 15.5s5.6 10.6 8.4 14.6s5.5 6.5 8.3 3.9s5.6-11.1 8.3-23.6s5.6-27.6 8.3-37.4s5.6-14.2 8.4-15.2s5.5 1 8.3 2.6s5.5 2.8 8.3 3s5.6-.8 8.4-2.6s5.5-4.7 8.3-6.9s5.5-4.1 8.3-1.3s5.6 11.2 8.3 24.6s5.6 30.6 8.4 42.5s5.5 18 8.3 19.6s5.5-.4 8.3-2.5s5.6-4.2 8.3-5.5s5.6-2 8.4-2.1s5.5 .3 8.3 .4s5.5-.1 8.3-2.1s5.6-5.8 8.3-11.7s5.6-13.8 8.4-20.7s5.5-12.4 8.3-15.1s5.5-2.6 8.3-.8s5.6 5.3 8.3 9.4s5.6 8.9 8.4 13.8s5.5 9.9 8.3 14s5.5 7.3 8.3 7.3"/>
<path stroke="#2ca02c" d="M56.4 470.6c2.8-10.1 5.5-20.7 8.3-27.2s5.6-9.3 8.3-9.1s5.6 3.1 8.4 6.6s5.5 8 8.3 12.6s5.5 9.7 8.3 14.9s5.6 10.8 8.3 16s5.6 10.2 8.4 12.5s5.5 1.7 8.3-4.7s5.6-18.9 8.3-31.6s5.6-24.1 8.3-29.9s5.6-6.5 8.4-5.7s5.5 2.9 8.3 4.2s5.5 1.9 8.3 1.4s5.6-2 8.4-4.3s5.5-5.5 8.3-7.8s5.5-3.5 8.3 .4s5.6 14.4 8.3 28.8s5.6 31.5 8.4 42.2s5.5 15.2 8.3 15.9s5.5-1.6 8.3-3.5s5.6-3.7 8.3-4.6s5.6-.8 8.4-.4s5.5 1.2 8.3 1.2s5.5-1.1 8.3-5s5.6-10.9 8.3-19.5s5.6-18.5 8.4-25.3s5.5-10.5 8.3-11.2s5.5 1.3 8.3 4.3s5.6 7.2 8.3 11.8s5.6 9.5 8.4 14.7s5.5 10.6 8.3 15.7s5.5 9.6 8.3 11.3"/>
<path stroke="#d62728" d="M56.4 470.5c2.8-10.4 5.5-21.3 8.3-27.9s5.6-9.3 8.3-9s5.6 3.2 8.4 6.8s5.5 8 8.3 12.7s5.5 9.6 8.3 14.8s5.6 10.7 8.3 15.9s5.6 10.4 8.4 13.1s5.5 2.7 8.3-3.1s5.6-17.8 8.3-30.7s5.6-25.1 8.3-31.5s5.6-7.7 8.4-7.2s5.5 2.8 8.3 4.1s5.5 2.1 8.3 1.7s5.6-1.9 8.4-4.1s5.5-5.4 8.3-7.7s5.5-3.6 8.3 .4s5.6 14.2 8.3 28.6s5.6 31.6 8.4 42.4s5.5 15.3 8.3 16s5.5-1.5 8.3-3.5s5.6-3.7 8.3-4.6s5.6-.9 8.4-.5s5.5 1.2 8.3 1.2s5.5-1.1 8.3-4.8s5.6-10.7 8.3-19.3s5.6-18.3 8.4-25.2s5.5-10.7 8.3-11.4s5.5 1.1 8.3 4.2s5.6 7.1 8.3 11.7s5.6 9.5 8.4 14.7s5.5 10.6 8.3 15.6s5.5 9.5 8.3 11.2"/>
<path stroke="#9467bd" d="M56.4 470.5c2.8-10.4 5.5-21.2 8.3-27.9s5.6-9.3 8.3-9s5.6 3.2 8.4 6.8s5.5 8 8.3 12.7s5.5 9.6 8.3 14.8s5.6 10.6 8.3 15.9s5.6 10.4 8.4 13.1s5.5 2.7 8.3-3.1s5.6-17.8 8.3-30.7s5.6-25.1 8.3-31.5s5.6-7.7 8.4-7.2s5.5 2.8 8.3 4.1s5.5 2.1 8.3 1.7s5.6-1.9 8.4-4.1s5.5-5.4 8.3-7.7s5.5-3.6 8.3 .4s5.6 14.2 8.3 28.6s5.6 31.5 8.4 42.3s5.5 15.4 8.3 16.1s5.5-1.5 8.3-3.5s5.6-3.7 8.3-4.6s5.6-.9 8.4-.5s5.5 1.2 8.3 1.2s5.5-1.1 8.3-4.8s5.6-10.7 8.3-19.2s5.6-18.3 8.4-25.2s5.5-10.7 8.3-11.5s5.5 1.2 8.3 4.2s5.6 7.1 8.3 11.7s5.6 9.5 8.4 14.7s5.5 10.6 8.3 15.6s5.5 9.5 8.3 11.2"/>
<path stroke="#8c564b" d="M56.4 470.4c2.8-10.7 5.5-21.7 8.3-28.5s5.6-9.3 8.3-8.9s5.6 3.4 8.4 7s5.5 8.1 8.3 12.7s5.5 9.5 8.3 14.7s5.6 10.6 8.3 15.9s5.6 10.5 8.4 13.5s5.5 3.6 8.3-1.6s5.6-16.7 8.3-29.7s5.6-25.9 8.3-33s5.6-8.9 8.4-8.5s5.5 2.5 8.3 3.9s5.5 2.3 8.3 2s5.6-1.7 8.4-3.9s5.5-5.3 8.3-7.6s5.5-3.6 8.3 .2s5.6 13.9 8.3 28.3s5.6 31.6 8.4 42.5s5.5 15.6 8.3 16.4s5.5-1.5 8.3-3.5s5.6-3.8 8.3-4.7s5.6-1 8.4-.6s5.5 1.1 8.3 1.1s5.5-.9 8.3-4.5s5.6-10.2 8.3-18.6s5.6-18 8.4-25s5.5-10.9 8.3-11.8s5.5 .9 8.3 3.8s5.6 7.1 8.3 11.6s5.6 9.5 8.4 14.7s5.5 10.6 8.3 15.5s5.5 9.4 8.3 10.9"/>
<path stroke="#e377c2" d="M56.4 470.6c2.8-10.7 5.5-21.8 8.3-28.6s5.6-9.4 8.3-9s5.6 3.3 8.4 6.9s5.5 8.1 8.3 12.7s5.5 9.6 8.3 14.7s5.6 10.7 8.3 15.9s5.6 10.5 8.4 13.6s5.5 3.5 8.3-1.6s5.6-16.7 8.3-29.7s5.6-25.8 8.3-32.9s5.6-8.9 8.4-8.6s5.5 2.5 8.3 3.9s5.5 2.3 8.3 2s5.6-1.7 8.4-3.9s5.5-5.3 8.3-7.6s5.5-3.6 8.3 .2s5.6 13.9 8.3 28.2s5.6 31.5 8.4 42.5s5.5 15.6 8.3 16.4s5.5-1.4 8.3-3.4s5.6-3.8 8.3-4.7s5.6-1 8.4-.7s5.5 1.1 8.3 1.1s5.5-.8 8.3-4.4s5.6-10.1 8.3-18.4s5.6-18 8.4-24.9s5.5-11 8.3-12s5.5 .8 8.3 3.8s5.6 7 8.3 11.5s5.6 9.5 8.4 14.7s5.5 10.6 8.3 15.5s5.5 9.3 8.3 10.8"/>
<path stroke="#7f7f7f" d="M56.4 470.4c2.8-10.1 5.5-20.7 8.3-27.2s5.6-9.2 8.3-8.9s5.6 3 8.4 6.6s5.5 8 8.3 12.6s5.5 9.7 8.3 14.9s5.6 10.7 8.3 15.9s5.6 10.3 8.4 12.7s5.5 1.8 8.3-4.5s5.6-18.9 8.3-31.6s5.6-24.2 8.3-30.1s5.6-6.7 8.4-5.9s5.5 2.9 8.3 4.2s5.5 1.9 8.3 1.5s5.6-2.1 8.4-4.4s5.5-5.5 8.3-7.7s5.5-3.6 8.3 .4s5.6 14.4 8.3 28.9s5.6 31.5 8.4 42.2s5.5 15.1 8.3 15.8s5.5-1.6 8.3-3.5s5.6-3.7 8.3-4.5s5.6-.9 8.4-.5s5.5 1.3 8.3 1.2s5.5-1.1 8.3-5s5.6-11 8.3-19.7s5.6-18.4 8.4-25.3s5.5-10.4 8.3-11.1s5.5 1.3 8.3 4.4s5.6 7.2 8.3 11.7s5.6 9.5 8.4 14.7s5.5 10.7 8.3 15.7s5.5 9.7 8.3 11.5"/>
<path stroke="#bcbd22" d="M56.4 470.4c2.8-11.4 5.5-23.2 8.3-30.2s5.6-9.4 8.3-8.9s5.6 3.7 8.4 7.5s5.5 8.1 8.3 12.7s5.5 9.4 8.3 14.4s5.6 10.3 8.3 15.6s5.6 10.7 8.4 14.5s5.5 5.7 8.3 2.4s5.6-12.9 8.3-25.7s5.6-27.4 8.3-36.4s5.6-12.6 8.4-13.1s5.5 1.6 8.3 3.1s5.5 2.7 8.3 2.7s5.6-1.1 8.4-3s5.5-4.9 8.3-7.2s5.5-3.9 8.3-.7s5.6 12.2 8.3 26s5.6 31.1 8.4 42.7s5.5 17.1 8.3 18.3s5.5-.8 8.3-2.9s5.6-4.1 8.3-5.2s5.6-1.6 8.4-1.5s5.5 .6 8.3 .7s5.5-.3 8.3-2.8s5.6-7.4 8.3-14.3s5.6-15.6 8.4-22.7s5.5-12.2 8.3-14.2s5.5-1.2 8.3 1.1s5.6 6.2 8.3 10.5s5.6 9.3 8.4 14.3s5.5 10.3 8.3 14.8s5.5 8.1 8.3 8.5"/>
<path stroke="#17becf" d="M56.4 470.5c2.8-11 5.5-22.4 8.3-29.3s5.6-9.5 8.3-9s5.6 3.4 8.4 7.1s5.5 8.2 8.3 12.8s5.5 9.4 8.3 14.5s5.6 10.5 8.3 15.8s5.6 10.6 8.4 14.1s5.5 4.6 8.3 .3s5.6-14.9 8.3-27.8s5.6-26.8 8.3-34.8s5.6-10.6 8.4-10.6s5.5 2.1 8.3 3.5s5.5 2.5 8.3 2.3s5.6-1.4 8.4-3.5s5.5-5.1 8.3-7.4s5.5-3.7 8.3-.2s5.6 13.2 8.3 27.4s5.6 31.4 8.4 42.6s5.5 16.2 8.3 17.2s5.5-1.2 8.3-3.2s5.6-3.9 8.3-5s5.6-1.2 8.4-1s5.5 1 8.3 1s5.5-.6 8.3-3.7s5.6-9 8.3-16.8s5.6-17.1 8.4-24.1s5.5-11.6 8.3-12.9s5.5 0 8.3 2.7s5.6 6.7 8.3 11.2s5.6 9.5 8.4 14.6s5.5 10.6 8.3 15.3s5.5 8.8 8.3 9.8"/>
</g>
<rect x="43.50" y="411.30" width="293.00" height="99.00" fill="none" stroke="#000" stroke-width=".75"/>
<path d="M56.40 510.30v3M89.70 510.30v3M123.00 510.30v3M156.30 510.30v3M189.60 510.30v3M222.90 510.30v3M256.20 510.30v3M289.50 510.30v3M322.80 510.30v3M43.50 415.40h-3M43.50 438.97h-3M43.50 462.55h-3M43.50 486.12h-3M43.50 509.70h-3" stroke="#000" stroke-width=".75" fill="none"/>
<text x="53.90" y="523.05" font-size="9px">0</text>
<text x="87.20" y="523.05" font-size="9px">2</text>
<text x="120.50" y="523.05" font-size="9px">4</text>
<text x="153.80" y="523.05" font-size="9px">6</text>
<text x="187.10" y="523.05" font-size="9px">8</text>
<text x="217.77 223.02" y="523.05" font-size="9px">10</text>
<text x="251.07 256.32" y="523.05" font-size="9px">12</text>
<text x="284.37 289.62" y="523.05" font-size="9px">14</text>
<text x="317.67 322.92" y="523.05" font-size="9px">16</text>
<text x="24.40 29.59 32.27" y="418.65" font-size="9px">1.0</text>
<text x="24.40 29.59 32.27" y="442.22" font-size="9px">0.5</text>
<text x="24.40 29.59 32.27" y="465.80" font-size="9px">0.0</text>
<path d="M18.24 486.43h5.16" stroke="#000" stroke-width="0.68" fill="none"/><text x="24.40 29.59 32.27" y="489.38" font-size="9px">0.5</text>
<path d="M18.24 510.00h5.16" stroke="#000" stroke-width="0.68" fill="none"/><text x="24.40 29.59 32.27" y="512.95" font-size="9px">1.0</text>
<g transform="translate(11.00 461.20) rotate(-90) translate(-19.16 0)"><text x="0.54" y="0" font-size="15px">v</text><text x="9.13" y="0" font-size="15px">x</text><path d="M23.03 -11.02H26.54V-10.00H24.33V0.90H26.54V1.91H23.03ZM28.14 -4.52H31.96V-3.28H28.14ZM37.08 -11.02H33.57V-10.00H35.77V0.90H33.57V1.91H37.08Z" fill="#000"/></g>
<g transform="translate(176.78 538.60)"><text x="0.76" y="0" font-size="15px">t</text><path d="M11.54 -11.02H15.05V-10.00H12.85V0.90H15.05V1.91H11.54ZM16.66 -4.52H20.47V-3.28H16.66ZM25.59 -11.02H22.08V-10.00H24.29V0.90H22.08V1.91H25.59Z" fill="#000"/></g>
<path d="M404.10 292.50V391.40M437.40 292.50V391.40M470.70 292.50V391.40M504.00 292.50V391.40M537.30 292.50V391.40M570.60 292.50V391.40M603.90 292.50V391.40M637.20 292.50V391.40M670.50 292.50V391.40M391.10 312.40H683.70M391.10 341.80H683.70M391.10 371.20H683.70" stroke="#b0b0b0" stroke-width=".7" fill="none"/>
<g fill="none" stroke-width="1.36" stroke-linecap="square" stroke-linejoin="round">
<path stroke="#1f77b4" d="M404.1 337.2c2.8 1.8 5.6 2.7 8.3 3.1s5.6 .4 8.4 0s5.5-1.1 8.3-1.9s5.5-1.7 8.3-2.6s5.6-1.8 8.3-2.5s5.6-1.4 8.4-1.9s5.5-.8 8.3-1.1s5.5-.4 8.3-.7s5.6-.6 8.3-1.3s5.6-1.6 8.4-3s5.5-3.5 8.3-6.1s5.5-5.9 8.3-9.2s5.6-6.8 8.3-9s5.6-3 8.4-2.1s5.5 3.6 8.3 6.6s5.5 6.5 8.3 9.5s5.6 5.7 8.3 8s5.6 4.3 8.4 6.2s5.5 3.7 8.3 5.6s5.5 3.9 8.3 6.1s5.5 4.7 8.3 7.6s5.6 5.9 8.4 9.3s5.5 7.2 8.3 10.7s5.5 6.8 8.3 8.8s5.6 2.8 8.3 1.9s5.6-3.1 8.3-5.9s5.6-6 8.4-8.8s5.5-5.5 8.3-7.5s5.5-3.6 8.3-4.4s5.6-1.2 8.4-.8s5.5 1.6 8.3 3.6s5.5 4.8 8.3 8.3"/>
<path stroke="#ff7f0e" d="M404.1 337.7c2.8 1.7 5.6 2.6 8.3 3s5.6 .4 8.4 0s5.5-1 8.3-1.7s5.5-1.6 8.3-2.4s5.6-1.5 8.3-2.1s5.6-1.1 8.4-1.3s5.5-.4 8.3-.4s5.5 .2 8.3 .4s5.6 .3 8.3 .2s5.6-.4 8.4-1.1s5.5-1.9 8.3-3.7s5.5-4.5 8.3-7.8s5.6-7.3 8.3-11.4s5.6-8.2 8.4-10.5s5.5-2.5 8.3-.6s5.5 5.6 8.3 9.7s5.6 8.2 8.3 11.9s5.6 7.1 8.4 10.3s5.5 6.2 8.3 9.4s5.5 6.6 8.3 10.5s5.5 8.4 8.3 13.3s5.6 10.2 8.4 14.6s5.5 7.7 8.3 8.1s5.5-2 8.3-5.9s5.6-8.9 8.3-13.7s5.6-9.5 8.3-13.8s5.6-8.4 8.4-12.7s5.5-8.5 8.3-13.1s5.5-9.6 8.3-14.2s5.6-8.9 8.4-11.1s5.5-2.2 8.3-.2s5.5 6 8.3 10.1"/>
<path stroke="#2ca02c" d="M404.1 338.6c2.8 1.7 5.6 2.8 8.3 3.3s5.6 .7 8.4 .6s5.5-.5 8.3-.8s5.5-.8 8.3-1s5.6-.2 8.3 .1s5.6 .9 8.4 2s5.5 2.7 8.3 4.8s5.5 4.8 8.3 8s5.6 7.2 8.3 11.3s5.6 8.4 8.4 11.5s5.5 5.1 8.3 4.7s5.5-2.8 8.3-6.2s5.6-7.6 8.3-11.6s5.6-7.9 8.4-11.4s5.5-6.7 8.3-9.8s5.5-6.1 8.3-9.1s5.6-6.1 8.3-9.1s5.6-6.2 8.4-8.9s5.5-5.2 8.3-6.8s5.5-2.4 8.3-2.3s5.5 1.2 8.3 2.6s5.6 3.1 8.4 4.5s5.5 2.5 8.3 3s5.5 .3 8.3-.6s5.6-2.4 8.3-4.4s5.6-4.5 8.3-6.7s5.6-3.9 8.4-4.4s5.5 .2 8.3 1.8s5.5 4.3 8.3 7s5.6 5.6 8.4 8.2s5.5 5 8.3 7.3s5.5 4.5 8.3 6.6"/>
<path stroke="#d62728" d="M404.1 337.9c2.8 1.7 5.6 2.7 8.3 3.2s5.6 .6 8.4 .3s5.5-.7 8.3-1.3s5.5-1.2 8.3-1.7s5.6-1 8.3-1.2s5.6-.2 8.4 .1s5.5 .8 8.3 1.7s5.5 2 8.3 3.5s5.6 3.1 8.3 5s5.6 4 8.4 6.2s5.5 4.7 8.3 7.1s5.5 4.7 8.3 6.7s5.6 3.7 8.3 4.7s5.6 1.4 8.4 1.1s5.5-1.1 8.3-2s5.5-2 8.3-2.7s5.6-1.2 8.3-1s5.6 .8 8.4 2.1s5.5 2.9 8.3 4.8s5.5 3.7 8.3 4.9s5.5 1.8 8.3 1.2s5.6-2 8.4-4s5.5-4.4 8.3-6.8s5.5-4.7 8.3-6.9s5.6-4.2 8.3-6.1s5.6-3.7 8.3-5.5s5.6-3.6 8.4-5.4s5.5-3.6 8.3-5.4s5.5-3.6 8.3-5.4s5.6-3.6 8.4-5.4s5.5-3.3 8.3-4.9s5.5-3 8.3-4.3"/>
<path stroke="#9467bd" d="M404.1 337.4c2.8 1.8 5.6 2.8 8.3 3.3s5.6 .5 8.4 .2s5.5-.8 8.3-1.5s5.5-1.4 8.3-2s5.6-1.3 8.3-1.7s5.6-.7 8.4-.7s5.5 .1 8.3 .5s5.5 1 8.3 1.7s5.6 1.4 8.3 2.2s5.6 1.4 8.4 1.9s5.5 .8 8.3 .8s5.5-.5 8.3-1.3s5.6-2.1 8.3-4s5.6-4.2 8.4-7.3s5.5-6.7 8.3-10.8s5.5-8.4 8.3-12s5.6-6.1 8.3-6.5s5.6 1.5 8.4 4.6s5.5 7.4 8.3 11.5s5.5 8 8.3 11.7s5.5 7.1 8.3 10.4s5.6 6.4 8.4 9.6s5.5 6.5 8.3 9.9s5.5 6.7 8.3 9.8s5.6 5.7 8.3 7.4s5.6 2.4 8.3 1.9s5.6-2.1 8.4-4s5.5-4.2 8.3-6.1s5.5-3.4 8.3-4.2s5.6-1 8.4-.4s5.5 2 8.3 4.1s5.5 5 8.3 7.8"/>
<path stroke="#8c564b" d="M404.1 337.4c2.8 1.7 5.6 2.7 8.3 3.2s5.6 .4 8.4 .1s5.5-1 8.3-1.7s5.5-1.5 8.3-2.3s5.6-1.5 8.3-2.1s5.6-.9 8.4-1.2s5.5-.2 8.3-.1s5.5 .3 8.3 .5s5.6 .5 8.3 .5s5.6-.1 8.4-.6s5.5-1.5 8.3-3.2s5.5-3.9 8.3-6.9s5.6-7 8.3-11.2s5.6-8.7 8.4-11.8s5.5-4.5 8.3-3.4s5.5 4.4 8.3 8.3s5.6 8.5 8.3 12.5s5.6 7.8 8.4 11.2s5.5 6.7 8.3 10.1s5.5 7.1 8.3 11.2s5.5 8.7 8.3 13.8s5.6 10.5 8.4 14.9s5.5 7.4 8.3 7.4s5.5-2.8 8.3-7s5.6-9.4 8.3-14.3s5.6-9.6 8.3-14s5.6-8.7 8.4-13.1s5.5-9 8.3-13.8s5.5-10.2 8.3-14.8s5.6-8.5 8.4-9.9s5.5-.4 8.3 2.6s5.5 7.4 8.3 11.9"/>
<path stroke="#e377c2" d="M404.1 339c2.8 1.6 5.6 2.5 8.3 2.9s5.6 .5 8.4 .2s5.5-.7 8.3-1.2s5.5-1.1 8.3-1.5s5.6-.7 8.3-.7s5.6 .3 8.4 .9s5.5 1.6 8.3 3s5.5 3.2 8.3 5.4s5.6 4.9 8.3 8s5.6 6.5 8.4 9.9s5.5 7 8.3 9.6s5.5 4.1 8.3 4s5.6-1.7 8.3-4.1s5.6-5.6 8.4-8.6s5.5-5.9 8.3-8.3s5.5-4.2 8.3-5.6s5.6-2.2 8.3-2.3s5.6 .3 8.4 1.5s5.5 3.2 8.3 5.9s5.5 6.4 8.3 10.5s5.5 8.5 8.3 12s5.6 5.5 8.4 5.2s5.5-3.1 8.3-6.8s5.5-8.2 8.3-12.5s5.6-8.3 8.3-12.1s5.6-7.4 8.3-11.2s5.6-7.7 8.4-12.1s5.5-9.3 8.3-14.3s5.5-10.1 8.3-13.7s5.6-5.5 8.4-4.5s5.5 4.3 8.3 8.6s5.5 9.2 8.3 13.8"/>
<path stroke="#7f7f7f" d="M404.1 337.3c2.8 1.7 5.6 2.6 8.3 3s5.6 .3 8.4-.1s5.5-1.1 8.3-2s5.5-1.8 8.3-2.8s5.6-1.9 8.3-2.7s5.6-1.6 8.4-2.2s5.5-1 8.3-1.4s5.5-.8 8.3-1.2s5.6-1 8.3-1.9s5.6-2 8.4-3.7s5.5-3.8 8.3-6.5s5.5-5.8 8.3-8.7s5.6-5.5 8.3-6.8s5.6-1.1 8.4 .4s5.5 4.2 8.3 7s5.5 5.7 8.3 8.2s5.6 4.6 8.3 6.4s5.6 3.5 8.4 4.9s5.5 2.9 8.3 4.3s5.5 2.8 8.3 4.3s5.5 3.1 8.3 4.8s5.6 3.4 8.4 5.2s5.5 3.7 8.3 5.5s5.5 3.7 8.3 5.5s5.6 3.6 8.3 5.1s5.6 3.1 8.3 4.3s5.6 2.3 8.4 3.1s5.5 1.4 8.3 1.9s5.5 .9 8.3 1.4s5.6 .9 8.4 1.4s5.5 1.2 8.3 1.8s5.5 1.2 8.3 1.5"/>
<path stroke="#bcbd22" d="M404.1 336.9c2.8 1.7 5.6 2.7 8.3 3s5.6 .3 8.4-.2s5.5-1.2 8.3-2.1s5.5-2 8.3-3.1s5.6-2.1 8.3-3.1s5.6-1.9 8.4-2.7s5.5-1.6 8.3-2.2s5.5-1.3 8.3-2s5.6-1.6 8.3-2.7s5.6-2.5 8.4-4.3s5.5-3.9 8.3-6.2s5.5-4.7 8.3-6.6s5.6-3.2 8.3-3.3s5.6 .7 8.4 2.3s5.5 3.8 8.3 5.9s5.5 4.2 8.3 5.9s5.6 3.3 8.3 4.5s5.6 2.4 8.4 3.4s5.5 1.9 8.3 2.8s5.5 1.7 8.3 2.5s5.5 1.6 8.3 2.1s5.6 .9 8.4 .9s5.5-.4 8.3-1.4s5.5-2.5 8.3-4.8s5.6-5.5 8.3-9.1s5.6-8.1 8.3-11.8s5.6-6.6 8.4-7.2s5.5 1 8.3 4.1s5.5 7.3 8.3 11.3s5.6 7.8 8.4 11.2s5.5 6.6 8.3 9.6s5.5 6.1 8.3 9.5"/>
<path stroke="#17becf" d="M404.1 337.6c2.8 1.6 5.6 2.4 8.3 2.6s5.6 .1 8.4-.5s5.5-1.4 8.3-2.4s5.5-2.2 8.3-3.4s5.6-2.4 8.3-3.5s5.6-2.3 8.4-3.2s5.5-1.9 8.3-2.8s5.5-1.6 8.3-2.5s5.6-1.8 8.3-3s5.6-2.5 8.4-4.1s5.5-3.4 8.3-5.3s5.5-3.6 8.3-4.9s5.6-1.9 8.3-1.8s5.6 1 8.4 2.4s5.5 3 8.3 4.6s5.5 3.3 8.3 4.7s5.6 2.6 8.3 3.7s5.6 2.1 8.4 3s5.5 1.8 8.3 2.7s5.5 1.6 8.3 2.4s5.5 1.4 8.3 1.8s5.6 .5 8.4 .3s5.5-1 8.3-2.3s5.5-3.3 8.3-5.9s5.6-6 8.3-9.6s5.6-7.3 8.3-9.7s5.6-3.4 8.4-2.4s5.5 3.8 8.3 7.2s5.5 7.1 8.3 10.4s5.6 6.4 8.4 9.2s5.5 5.1 8.3 7.6s5.5 4.8 8.3 7.5"/>
<path stroke="#1f77b4" d="M404.1 338.4c2.8 1.8 5.6 2.9 8.3 3.6s5.6 .8 8.4 .8s5.5-.3 8.3-.5s5.5-.5 8.3-.6s5.6 .2 8.3 .7s5.6 1.5 8.4 3s5.5 3.5 8.3 6.2s5.5 6 8.3 10s5.6 8.5 8.3 12.7s5.6 7.9 8.4 9.5s5.5 .9 8.3-1.7s5.5-6.8 8.3-11.1s5.6-8.8 8.3-12.8s5.6-8 8.4-11.7s5.5-7.5 8.3-11.4s5.5-8 8.3-12.3s5.6-8.8 8.3-12.6s5.6-6.9 8.4-8s5.5-.2 8.3 2.2s5.5 6 8.3 9.7s5.5 7.3 8.3 10.4s5.6 5.9 8.4 8.1s5.5 3.9 8.3 5.2s5.5 2 8.3 2.2s5.6 0 8.3-.7s5.6-2.2 8.3-4.1s5.6-4.4 8.4-7.5s5.5-6.7 8.3-10.6s5.5-7.9 8.3-11s5.6-4.9 8.4-4.7s5.5 2.3 8.3 5.4s5.5 7.1 8.3 10.8"/>
<path stroke="#ff7f0e" d="M404.1 338.3c2.8 1.7 5.6 2.7 8.3 3.2s5.6 .6 8.4 .4s5.5-.7 8.3-1.1s5.5-1.1 8.3-1.5s5.6-.6 8.3-.7s5.6 .3 8.4 .9s5.5 1.6 8.3 3s5.5 3.1 8.3 5.3s5.6 4.9 8.3 7.9s5.6 6.4 8.4 9.9s5.5 6.9 8.3 9.5s5.5 4.2 8.3 4.3s5.6-1.5 8.3-3.9s5.6-5.4 8.4-8.4s5.5-5.8 8.3-8.2s5.5-4.2 8.3-5.6s5.6-2.1 8.3-2.2s5.6 .4 8.4 1.7s5.5 3.4 8.3 6.2s5.5 6.6 8.3 10.7s5.5 8.5 8.3 11.7s5.6 4.9 8.4 4.2s5.5-3.7 8.3-7.6s5.5-8.3 8.3-12.5s5.6-8.1 8.3-11.9s5.6-7.3 8.3-11.1s5.6-7.7 8.4-12.1s5.5-9.3 8.3-14.3s5.5-10.1 8.3-13.6s5.6-5.1 8.4-4s5.5 4.7 8.3 9.1s5.5 9.3 8.3 13.9"/>
<path stroke="#2ca02c" d="M404.1 338.9c2.8 1.6 5.6 2.6 8.3 3.1s5.6 .6 8.4 .4s5.5-.6 8.3-1s5.5-.9 8.3-1.1s5.6-.4 8.3-.3s5.6 .7 8.4 1.7s5.5 2.2 8.3 4.1s5.5 4.2 8.3 7.1s5.6 6.4 8.3 10.2s5.6 8 8.4 11.6s5.5 6.3 8.3 7.2s5.5-.3 8.3-2.9s5.6-6.2 8.3-10s5.6-7.6 8.4-11s5.5-6.5 8.3-9.3s5.5-5.3 8.3-7.6s5.6-4.5 8.3-6.5s5.6-3.9 8.4-5.6s5.5-3.4 8.3-4.9s5.5-2.9 8.3-4.2s5.5-2.5 8.3-3.7s5.6-2.3 8.4-3.4s5.5-2.2 8.3-3.2s5.5-1.9 8.3-2.6s5.6-1.1 8.3-1.3s5.6-.1 8.3 .3s5.6 1 8.4 1.8s5.5 1.7 8.3 2.6s5.5 2 8.3 3s5.6 2.1 8.4 3.2s5.5 2.2 8.3 3.3s5.5 2.3 8.3 3.4"/>
<path stroke="#d62728" d="M404.1 339.2c2.8 1.7 5.6 2.6 8.3 3.2s5.6 .6 8.4 .5s5.5-.4 8.3-.8s5.5-.6 8.3-.7s5.6-.1 8.3 .4s5.6 1.2 8.4 2.5s5.5 3.2 8.3 5.6s5.5 5.5 8.3 9.2s5.6 8 8.3 12.3s5.6 8.3 8.4 10.7s5.5 2.7 8.3 .9s5.5-5.4 8.3-9.5s5.6-8.5 8.3-12.6s5.6-7.9 8.4-11.5s5.5-7.2 8.3-10.7s5.5-7.3 8.3-11.1s5.6-7.9 8.3-11.7s5.6-7.3 8.4-9.6s5.5-3.2 8.3-2.4s5.5 3 8.3 5.8s5.5 6.1 8.3 8.9s5.6 5.5 8.4 7.4s5.5 3.2 8.3 3.8s5.5 .6 8.3-.3s5.6-2.4 8.3-4.9s5.6-5.8 8.3-9.6s5.6-8.1 8.4-11.4s5.5-5.5 8.3-5.4s5.5 2.5 8.3 5.9s5.6 7.8 8.4 11.9s5.5 8 8.3 11.6s5.5 7.1 8.3 10.6"/>
<path stroke="#9467bd" d="M404.1 338.4c2.8 1.6 5.6 2.4 8.3 2.8s5.6 .3 8.4 0s5.5-1 8.3-1.7s5.5-1.4 8.3-2.1s5.6-1.4 8.3-1.8s5.6-.8 8.4-.8s5.5 .1 8.3 .4s5.5 .9 8.3 1.5s5.6 1.3 8.3 1.9s5.6 1.2 8.4 1.5s5.5 .4 8.3 .1s5.5-1 8.3-2.3s5.6-3 8.3-5.5s5.6-5.7 8.4-9.5s5.5-8.4 8.3-12.7s5.5-8.3 8.3-10.3s5.6-1.7 8.3 .6s5.6 6.5 8.4 10.8s5.5 8.9 8.3 13.1s5.5 8.1 8.3 11.9s5.5 7.7 8.3 11.7s5.6 8.4 8.4 12.9s5.5 9.4 8.3 13.5s5.5 7.3 8.3 8.4s5.6-.2 8.3-3s5.6-6.9 8.3-10.9s5.6-8.1 8.4-11.6s5.5-6.7 8.3-9.4s5.5-5.2 8.3-7.4s5.6-4 8.4-5.8s5.5-3.2 8.3-4.5s5.5-2.6 8.3-3.7"/>
<path stroke="#8c564b" d="M404.1 339c2.8 1.7 5.6 2.6 8.3 3.2s5.6 .6 8.4 .5s5.5-.5 8.3-.8s5.5-.7 8.3-.9s5.6-.1 8.3 .2s5.6 1.1 8.4 2.3s5.5 2.9 8.3 5.1s5.5 5.2 8.3 8.6s5.6 7.6 8.3 11.8s5.6 8.4 8.4 11.2s5.5 4.1 8.3 3.1s5.5-4.1 8.3-7.9s5.6-8.1 8.3-12.2s5.6-7.9 8.4-11.4s5.5-6.9 8.3-10.2s5.5-6.6 8.3-10s5.6-7 8.3-10.5s5.6-6.9 8.4-9.7s5.5-4.8 8.3-5.5s5.5 0 8.3 1.6s5.5 3.9 8.3 6.3s5.6 4.6 8.4 6.4s5.5 2.9 8.3 3.4s5.5 .1 8.3-1s5.6-3 8.3-5.6s5.6-5.9 8.3-9.1s5.6-6.1 8.4-7.5s5.5-1.1 8.3 .7s5.5 5 8.3 8.3s5.6 7 8.4 10.3s5.5 6.2 8.3 9.1s5.5 5.6 8.3 8.4"/>
<path stroke="#e377c2" d="M404.1 337.2c2.8 1.7 5.6 2.7 8.3 3.1s5.6 .4 8.4 0s5.5-1.1 8.3-1.9s5.5-1.7 8.3-2.6s5.6-1.8 8.3-2.6s5.6-1.4 8.4-1.9s5.5-.8 8.3-1.1s5.5-.5 8.3-.7s5.6-.7 8.3-1.3s5.6-1.7 8.4-3.2s5.5-3.5 8.3-6.1s5.5-5.9 8.3-9.2s5.6-6.7 8.3-8.8s5.6-2.8 8.4-1.8s5.5 3.6 8.3 6.6s5.5 6.4 8.3 9.4s5.6 5.6 8.3 7.9s5.6 4.2 8.4 6.1s5.5 3.6 8.3 5.5s5.5 3.8 8.3 6s5.5 4.5 8.3 7.3s5.6 5.7 8.4 9s5.5 7 8.3 10.5s5.5 6.7 8.3 8.9s5.6 3.2 8.3 2.7s5.6-2.4 8.3-5s5.6-5.6 8.4-8.4s5.5-5.3 8.3-7.3s5.5-3.5 8.3-4.3s5.6-.9 8.4-.3s5.5 1.9 8.3 4.1s5.5 5.2 8.3 8.8"/>
<path stroke="#7f7f7f" d="M404.1 338.2c2.8 1.4 5.6 2.2 8.3 2.5s5.6 0 8.4-.5s5.5-1.3 8.3-2.3s5.5-2 8.3-3.1s5.6-2.2 8.3-3.2s5.6-1.9 8.4-2.7s5.5-1.4 8.3-2.1s5.5-1.2 8.3-1.9s5.6-1.6 8.3-2.7s5.6-2.4 8.4-4.2s5.5-4 8.3-6.3s5.5-4.9 8.3-6.9s5.6-3.4 8.3-3.6s5.6 .7 8.4 2.3s5.5 3.9 8.3 6.1s5.5 4.3 8.3 6.1s5.6 3.3 8.3 4.6s5.6 2.4 8.4 3.4s5.5 2 8.3 2.9s5.5 1.9 8.3 2.7s5.5 1.6 8.3 2.2s5.6 1 8.4 1.1s5.5-.2 8.3-1.1s5.5-2.2 8.3-4.4s5.6-5.1 8.3-8.7s5.6-7.9 8.3-11.9s5.6-7.5 8.4-8.8s5.5-.3 8.3 2.4s5.5 7 8.3 11.1s5.6 8.2 8.4 11.9s5.5 6.9 8.3 10.2s5.5 6.4 8.3 10"/>
<path stroke="#bcbd22" d="M404.1 339c2.8 1.7 5.6 2.6 8.3 3.1s5.6 .6 8.4 .5s5.5-.6 8.3-1s5.5-.8 8.3-1s5.6-.3 8.3 0s5.6 .8 8.4 1.9s5.5 2.5 8.3 4.6s5.5 4.6 8.3 7.8s5.6 6.9 8.3 11s5.6 8.3 8.4 11.6s5.5 5.4 8.3 5.4s5.5-2.1 8.3-5.3s5.6-7.4 8.3-11.3s5.6-7.8 8.4-11.3s5.5-6.6 8.3-9.6s5.5-5.9 8.3-8.7s5.6-5.6 8.3-8.4s5.6-5.6 8.4-8.2s5.5-5 8.3-6.8s5.5-3.2 8.3-3.8s5.5-.3 8.3 .4s5.6 1.8 8.4 2.8s5.5 1.9 8.3 2.3s5.5 .4 8.3-.2s5.6-1.8 8.3-3.4s5.6-3.4 8.3-5s5.6-2.8 8.4-3.1s5.5 .3 8.3 1.7s5.5 3.5 8.3 5.8s5.6 4.7 8.4 7s5.5 4.5 8.3 6.5s5.5 4 8.3 5.8"/>
<path stroke="#17becf" d="M404.1 338.6c2.8 1.6 5.6 2.6 8.3 3s5.6 .5 8.4 .3s5.5-.7 8.3-1.2s5.5-1.1 8.3-1.6s5.6-.8 8.3-.8s5.6 .1 8.4 .6s5.5 1.4 8.3 2.7s5.5 2.8 8.3 4.8s5.6 4.4 8.3 7.1s5.6 5.9 8.4 9.1s5.5 6.6 8.3 9.4s5.5 5 8.3 5.8s5.6 .3 8.3-1.3s5.6-4.1 8.4-6.7s5.5-5.3 8.3-7.5s5.5-4 8.3-5.2s5.6-1.8 8.3-1.6s5.6 1.1 8.4 2.8s5.5 4.3 8.3 7.5s5.5 7.2 8.3 10.8s5.5 6.8 8.3 8.1s5.6 .4 8.4-2s5.5-6.3 8.3-10.2s5.5-7.8 8.3-11.4s5.6-6.9 8.3-10.1s5.6-6.4 8.3-9.8s5.6-7.1 8.4-11.2s5.5-8.9 8.3-13.7s5.5-9.7 8.3-13.1s5.6-5.1 8.4-4.2s5.5 4.2 8.3 8.3s5.5 8.9 8.3 13.4"/>
<path stroke="#1f77b4" d="M404.1 338.4c2.8 1.8 5.6 2.9 8.3 3.6s5.6 .8 8.4 .7s5.5-.3 8.3-.6s5.5-.5 8.3-.6s5.6 .1 8.3 .6s5.6 1.3 8.4 2.7s5.5 3.3 8.3 5.9s5.5 5.8 8.3 9.6s5.6 8.3 8.3 12.5s5.6 8.2 8.4 10.2s5.5 1.8 8.3-.4s5.5-6.1 8.3-10.3s5.6-8.7 8.3-12.8s5.6-7.9 8.4-11.6s5.5-7.3 8.3-11s5.5-7.6 8.3-11.7s5.6-8.4 8.3-12.3s5.6-7.2 8.4-9s5.5-1.7 8.3-.1s5.5 4.7 8.3 8s5.5 6.8 8.3 9.9s5.6 5.6 8.4 7.6s5.5 3.6 8.3 4.4s5.5 1.2 8.3 .8s5.6-1.4 8.3-3.3s5.6-4.4 8.3-7.7s5.6-7.5 8.4-11.7s5.5-8.4 8.3-10.9s5.5-3.2 8.3-1.6s5.6 5.3 8.4 9.4s5.5 8.7 8.3 12.9s5.5 8 8.3 11.8"/>
<path stroke="#ff7f0e" d="M404.1 337.7c2.8 1.6 5.6 2.4 8.3 2.7s5.6 .1 8.4-.4s5.5-1.4 8.3-2.3s5.5-2.1 8.3-3.2s5.6-2.2 8.3-3.2s5.6-2 8.4-2.9s5.5-1.6 8.3-2.3s5.5-1.4 8.3-2.1s5.6-1.7 8.3-2.8s5.6-2.5 8.4-4.3s5.5-3.8 8.3-6.1s5.5-4.5 8.3-6.2s5.6-2.9 8.3-3s5.6 .9 8.4 2.5s5.5 3.6 8.3 5.7s5.5 3.9 8.3 5.6s5.6 3 8.3 4.3s5.6 2.2 8.4 3.2s5.5 1.8 8.3 2.7s5.5 1.7 8.3 2.5s5.5 1.4 8.3 1.9s5.6 .8 8.4 .7s5.5-.7 8.3-1.8s5.5-2.8 8.3-5.3s5.6-5.7 8.3-9.4s5.6-7.9 8.3-11.2s5.6-5.6 8.4-5.5s5.5 2.3 8.3 5.5s5.5 7.4 8.3 11.2s5.6 7.4 8.4 10.5s5.5 6.1 8.3 9s5.5 5.7 8.3 8.8"/>
<path stroke="#2ca02c" d="M404.1 338.4c2.8 1.6 5.6 2.4 8.3 2.8s5.6 .4 8.4 .1s5.5-1 8.3-1.6s5.5-1.5 8.3-2.2s5.6-1.2 8.3-1.7s5.6-.6 8.4-.6s5.5 .2 8.3 .7s5.5 1 8.3 1.8s5.6 1.6 8.3 2.4s5.6 1.6 8.4 2.3s5.5 1.1 8.3 1.3s5.5 .2 8.3-.3s5.6-1.2 8.3-2.5s5.6-3 8.4-5.2s5.5-4.8 8.3-7.9s5.5-6.7 8.3-10.4s5.6-7.3 8.3-10.1s5.6-4.3 8.4-4.2s5.5 1.9 8.3 4.6s5.5 6.2 8.3 9.5s5.5 6.5 8.3 9.2s5.6 5.1 8.4 6.9s5.5 3.3 8.3 4.3s5.5 1.5 8.3 1.4s5.6-.5 8.3-1.7s5.6-2.9 8.3-5.3s5.6-5.5 8.4-9.2s5.5-7.9 8.3-12s5.5-7.7 8.3-9.6s5.6-1.6 8.4 .4s5.5 5.9 8.3 9.9s5.5 8.3 8.3 12.2"/>
<path stroke="#d62728" d="M404.1 337.6c2.8 1.7 5.6 2.6 8.3 3s5.6 .3 8.4 0s5.5-1 8.3-1.8s5.5-1.7 8.3-2.5s5.6-1.6 8.3-2.3s5.6-1.2 8.4-1.5s5.5-.6 8.3-.6s5.5-.1 8.3-.1s5.6-.1 8.3-.4s5.6-.9 8.4-2s5.5-2.6 8.3-4.9s5.5-5.3 8.3-8.8s5.6-7.7 8.3-11.2s5.6-6.2 8.4-6.9s5.5 .9 8.3 3.8s5.5 6.8 8.3 10.5s5.6 7.2 8.3 10.3s5.6 5.9 8.4 8.5s5.5 5.1 8.3 7.8s5.5 5.6 8.3 8.9s5.5 7.1 8.3 11.4s5.6 9 8.4 13.5s5.5 8.7 8.3 10.8s5.5 1.8 8.3-.5s5.6-6.4 8.3-10.8s5.6-8.8 8.3-13s5.6-8 8.4-11.6s5.5-7.2 8.3-10.8s5.5-7.3 8.3-11s5.6-7.7 8.4-11.2s5.5-6.5 8.3-8.2s5.5-2 8.3-.9"/>
<path stroke="#9467bd" d="M404.1 337.5c2.8 1.7 5.6 2.7 8.3 3.2s5.6 .5 8.4 .2s5.5-.9 8.3-1.6s5.5-1.4 8.3-2.2s5.6-1.3 8.3-1.8s5.6-.8 8.4-.9s5.5 .1 8.3 .4s5.5 .7 8.3 1.2s5.6 1.1 8.3 1.6s5.6 .9 8.4 1s5.5-.1 8.3-.7s5.5-1.8 8.3-3.6s5.6-4.1 8.3-7.3s5.6-7.2 8.4-11.6s5.5-9.2 8.3-12.8s5.5-5.6 8.3-5s5.6 3.6 8.3 7.6s5.6 8.8 8.4 13.3s5.5 8.7 8.3 12.7s5.5 7.9 8.3 11.9s5.5 8.4 8.3 13.2s5.6 10 8.4 15s5.5 9.9 8.3 12.4s5.5 2.6 8.3 .3s5.6-6.8 8.3-11.6s5.6-9.6 8.3-14.1s5.6-8.6 8.4-12.6s5.5-7.9 8.3-12s5.5-8.2 8.3-12.5s5.6-8.6 8.4-12.1s5.5-5.9 8.3-6.5s5.5 .7 8.3 3.2"/>
<path stroke="#8c564b" d="M404.1 338.1c2.8 1.7 5.6 2.6 8.3 3.1s5.6 .5 8.4 .2s5.5-.7 8.3-1.3s5.5-1.3 8.3-1.8s5.6-1 8.3-1.3s5.6-.2 8.4 .1s5.5 .8 8.3 1.6s5.5 1.9 8.3 3.3s5.6 2.9 8.3 4.7s5.6 3.8 8.4 5.9s5.5 4.4 8.3 6.6s5.5 4.4 8.3 6.4s5.6 3.7 8.3 4.9s5.6 1.9 8.4 2s5.5-.2 8.3-.7s5.5-1.4 8.3-1.9s5.6-.8 8.3-.7s5.6 .8 8.4 1.8s5.5 2.5 8.3 4s5.5 3 8.3 4s5.5 1.2 8.3 .7s5.6-1.9 8.4-3.6s5.5-3.9 8.3-6.1s5.5-4.2 8.3-6.2s5.6-3.9 8.3-5.7s5.6-3.4 8.3-5.1s5.6-3.2 8.4-4.7s5.5-3 8.3-4.3s5.5-2.6 8.3-3.7s5.6-2 8.4-2.6s5.5-1.1 8.3-1.2s5.5 .1 8.3 .5"/>
<path stroke="#e377c2" d="M404.1 337.3c2.8 1.7 5.6 2.7 8.3 3.2s5.6 .4 8.4 0s5.5-1 8.3-1.7s5.5-1.6 8.3-2.4s5.6-1.6 8.3-2.3s5.6-1.1 8.4-1.4s5.5-.5 8.3-.6s5.5 .1 8.3 .1s5.6 0 8.3-.2s5.6-.8 8.4-1.8s5.5-2.4 8.3-4.6s5.5-5 8.3-8.5s5.6-7.7 8.3-11.4s5.6-6.9 8.4-8s5.5 .1 8.3 2.8s5.5 6.6 8.3 10.4s5.6 7.6 8.3 10.9s5.6 6.2 8.4 8.9s5.5 5.4 8.3 8.3s5.5 5.9 8.3 9.4s5.5 7.5 8.3 12s5.6 9.5 8.4 14s5.5 8.4 8.3 10s5.5 .5 8.3-2.4s5.6-7.4 8.3-12s5.6-9.1 8.3-13.3s5.6-8.2 8.4-12s5.5-7.6 8.3-11.5s5.5-8.1 8.3-12.3s5.6-8.4 8.4-11.8s5.5-5.8 8.3-6.4s5.5 .8 8.3 3.3"/>
<path stroke="#7f7f7f" d="M404.1 337.8c2.8 1.7 5.6 2.7 8.3 3.3s5.6 .5 8.4 .3s5.5-.8 8.3-1.4s5.5-1.2 8.3-1.7s5.6-1 8.3-1.3s5.6-.2 8.4 .1s5.5 .8 8.3 1.6s5.5 2 8.3 3.3s5.6 3 8.3 4.8s5.6 3.8 8.4 5.9s5.5 4.4 8.3 6.7s5.5 4.4 8.3 6.4s5.6 3.7 8.3 4.9s5.6 1.8 8.4 1.9s5.5-.3 8.3-.9s5.5-1.4 8.3-1.9s5.6-.9 8.3-.8s5.6 .8 8.4 1.8s5.5 2.6 8.3 4.1s5.5 3.1 8.3 4.1s5.5 1.3 8.3 .8s5.6-1.9 8.4-3.7s5.5-3.9 8.3-6.1s5.5-4.3 8.3-6.3s5.6-3.9 8.3-5.7s5.6-3.5 8.3-5.2s5.6-3.2 8.4-4.7s5.5-3.1 8.3-4.5s5.5-2.7 8.3-3.9s5.6-2.1 8.4-2.9s5.5-1.3 8.3-1.6s5.5-.3 8.3-.2"/>
<path stroke="#bcbd22" d="M404.1 338.5c2.8 1.6 5.6 2.5 8.3 2.9s5.6 .3 8.4 0s5.5-.9 8.3-1.6s5.5-1.3 8.3-2s5.6-1.2 8.3-1.6s5.6-.5 8.4-.4s5.5 .4 8.3 1s5.5 1.3 8.3 2.2s5.6 2 8.3 3.1s5.6 2.3 8.4 3.4s5.5 2.2 8.3 3.1s5.5 1.7 8.3 2.3s5.6 1 8.3 1.3s5.6 .5 8.4 .7s5.5 .4 8.3 .8s5.5 1.1 8.3 2.2s5.6 2.6 8.3 4.8s5.6 5.1 8.4 8.4s5.5 7.1 8.3 10.3s5.5 5.5 8.3 6s5.5-1 8.3-3.7s5.6-6.2 8.4-9.5s5.5-6.6 8.3-9.4s5.5-5.1 8.3-7.3s5.6-4.2 8.3-6.4s5.6-4.2 8.3-6.7s5.6-5.2 8.4-8.3s5.5-6.7 8.3-10.6s5.5-8.1 8.3-11.9s5.6-7.2 8.4-8.8s5.5-1.3 8.3 .7s5.5 5.3 8.3 9"/>
<path stroke="#17becf" d="M404.1 337.3c2.8 1.7 5.6 2.6 8.3 3s5.6 .3 8.4-.1s5.5-1.1 8.3-2s5.5-1.8 8.3-2.8s5.6-1.8 8.3-2.7s5.6-1.5 8.4-2.1s5.5-1.1 8.3-1.5s5.5-.7 8.3-1.1s5.6-1 8.3-1.8s5.6-2.1 8.4-3.7s5.5-3.9 8.3-6.5s5.5-5.8 8.3-8.8s5.6-5.6 8.3-6.9s5.6-1.1 8.4 .3s5.5 4.2 8.3 7s5.5 5.7 8.3 8.2s5.6 4.7 8.3 6.6s5.6 3.5 8.4 4.9s5.5 2.9 8.3 4.4s5.5 2.8 8.3 4.4s5.5 3.2 8.3 4.9s5.6 3.6 8.4 5.5s5.5 3.8 8.3 5.8s5.5 4 8.3 6s5.6 3.8 8.3 5.5s5.6 3.2 8.3 4.4s5.6 2.1 8.4 2.6s5.5 .8 8.3 1s5.5 .1 8.3 .2s5.6 .3 8.4 .7s5.5 1.1 8.3 1.9s5.5 1.7 8.3 2.4"/>
<path stroke="#1f77b4" d="M404.1 339.2c2.8 1.7 5.6 2.6 8.3 3.2s5.6 .6 8.4 .5s5.5-.4 8.3-.8s5.5-.6 8.3-.7s5.6-.1 8.3 .3s5.6 1.3 8.4 2.6s5.5 3.1 8.3 5.5s5.5 5.6 8.3 9.2s5.6 8 8.3 12.3s5.6 8.3 8.4 10.7s5.5 2.7 8.3 1s5.5-5.3 8.3-9.4s5.6-8.5 8.3-12.6s5.6-7.9 8.4-11.5s5.5-7.1 8.3-10.7s5.5-7.2 8.3-11s5.6-7.9 8.3-11.6s5.6-7.4 8.4-9.7s5.5-3.2 8.3-2.6s5.5 2.9 8.3 5.7s5.5 6 8.3 8.8s5.6 5.4 8.4 7.3s5.5 3.2 8.3 3.8s5.5 .6 8.3-.3s5.6-2.5 8.3-5s5.6-5.9 8.3-9.7s5.6-8 8.4-11.3s5.5-5.2 8.3-5s5.5 2.8 8.3 6.3s5.6 7.8 8.4 11.8s5.5 7.9 8.3 11.5s5.5 7.1 8.3 10.6"/>
<path stroke="#ff7f0e" d="M404.1 337.4c2.8 1.8 5.6 2.7 8.3 3.2s5.6 .4 8.4 .1s5.5-.9 8.3-1.6s5.5-1.6 8.3-2.3s5.6-1.5 8.3-2.1s5.6-.9 8.4-1.1s5.5-.3 8.3-.2s5.5 .4 8.3 .7s5.6 .5 8.3 .6s5.6 0 8.4-.5s5.5-1.3 8.3-2.8s5.5-3.7 8.3-6.7s5.6-6.7 8.3-10.9s5.6-8.8 8.4-12.2s5.5-5.3 8.3-4.7s5.5 3.7 8.3 7.6s5.6 8.4 8.3 12.6s5.6 8 8.4 11.5s5.5 6.9 8.3 10.4s5.5 7.2 8.3 11.4s5.5 8.8 8.3 13.9s5.6 10.7 8.4 15.1s5.5 7.3 8.3 7.3s5.5-3 8.3-7.2s5.6-9.5 8.3-14.5s5.6-9.6 8.3-14s5.6-8.7 8.4-13.2s5.5-9.1 8.3-14s5.5-10.3 8.3-14.9s5.6-8.4 8.4-9.6s5.5 .1 8.3 3.3s5.5 7.7 8.3 12.3"/>
<path stroke="#2ca02c" d="M404.1 338.4c2.8 1.5 5.6 2.3 8.3 2.6s5.6 .2 8.4-.3s5.5-1.2 8.3-2s5.5-1.8 8.3-2.7s5.6-1.8 8.3-2.6s5.6-1.3 8.4-1.8s5.5-.8 8.3-1.1s5.5-.4 8.3-.7s5.6-.5 8.3-1.2s5.6-1.5 8.4-2.9s5.5-3.5 8.3-6s5.5-5.9 8.3-9.3s5.6-6.9 8.3-9.2s5.6-3.3 8.4-2.5s5.5 3.4 8.3 6.5s5.5 6.5 8.3 9.6s5.6 5.8 8.3 8.2s5.6 4.5 8.4 6.4s5.5 3.8 8.3 5.8s5.5 4.1 8.3 6.4s5.5 5 8.3 7.9s5.6 6.3 8.4 10s5.5 7.5 8.3 11s5.5 6.8 8.3 8.4s5.6 1.8 8.3 .4s5.6-4.2 8.3-7.4s5.6-6.5 8.4-9.5s5.5-5.6 8.3-7.7s5.5-3.8 8.3-4.9s5.6-1.6 8.4-1.5s5.5 .9 8.3 2.3s5.5 3.6 8.3 6.6"/>
<path stroke="#d62728" d="M404.1 337.5c2.8 1.6 5.6 2.4 8.3 2.7s5.6 .1 8.4-.4s5.5-1.3 8.3-2.2s5.5-2.1 8.3-3.2s5.6-2.3 8.3-3.3s5.6-2 8.4-2.9s5.5-1.7 8.3-2.4s5.5-1.4 8.3-2.2s5.6-1.7 8.3-2.8s5.6-2.6 8.4-4.3s5.5-3.8 8.3-5.9s5.5-4.4 8.3-6.1s5.6-2.6 8.3-2.7s5.6 1 8.4 2.5s5.5 3.6 8.3 5.5s5.5 3.8 8.3 5.4s5.6 3 8.3 4.2s5.6 2.2 8.4 3.1s5.5 1.9 8.3 2.7s5.5 1.7 8.3 2.5s5.5 1.4 8.3 1.8s5.6 .7 8.4 .6s5.5-.8 8.3-1.9s5.5-3 8.3-5.6s5.6-5.8 8.3-9.5s5.6-7.8 8.3-10.9s5.6-4.9 8.4-4.5s5.5 2.8 8.3 6.1s5.5 7.4 8.3 11.1s5.6 7.1 8.4 10.1s5.5 5.8 8.3 8.6s5.5 5.4 8.3 8.5"/>
<path stroke="#9467bd" d="M404.1 337.2c2.8 1.8 5.6 2.9 8.3 3.4s5.6 .5 8.4 .2s5.5-.9 8.3-1.5s5.5-1.5 8.3-2.1s5.6-1.4 8.3-1.8s5.6-.8 8.4-.9s5.5 .1 8.3 .4s5.5 .8 8.3 1.3s5.6 1.2 8.3 1.7s5.6 1 8.4 1.1s5.5 .1 8.3-.4s5.5-1.6 8.3-3.2s5.6-3.8 8.3-6.8s5.6-6.8 8.4-11s5.5-9.1 8.3-13s5.5-6.7 8.3-6.9s5.6 2.2 8.3 5.9s5.6 8.4 8.4 12.9s5.5 8.8 8.3 12.9s5.5 8 8.3 12s5.5 8.1 8.3 12.7s5.6 9.6 8.4 14.6s5.5 10 8.3 13.1s5.5 4.2 8.3 2.7s5.6-5.5 8.3-9.9s5.6-9.3 8.3-13.7s5.6-8.6 8.4-12.4s5.5-7.5 8.3-11.2s5.5-7.4 8.3-11.3s5.6-7.7 8.4-11.3s5.5-6.7 8.3-8.5s5.5-2.3 8.3-1.3"/>
<path stroke="#8c564b" d="M404.1 338c2.8 1.6 5.6 2.5 8.3 2.9s5.6 .3 8.4-.1s5.5-1.1 8.3-1.8s5.5-1.7 8.3-2.5s5.6-1.6 8.3-2.2s5.6-1.1 8.4-1.4s5.5-.5 8.3-.5s5.5 .1 8.3 .2s5.6 .1 8.3-.1s5.6-.6 8.4-1.5s5.5-2.3 8.3-4.3s5.5-4.9 8.3-8.3s5.6-7.6 8.3-11.5s5.6-7.4 8.4-8.9s5.5-.8 8.3 1.6s5.5 6.4 8.3 10.3s5.6 7.9 8.3 11.3s5.6 6.5 8.4 9.4s5.5 5.7 8.3 8.7s5.5 6.2 8.3 9.9s5.5 7.8 8.3 12.5s5.6 9.8 8.4 14.3s5.5 8.1 8.3 9.2s5.5-.5 8.3-3.9s5.6-8.1 8.3-12.8s5.6-9.3 8.3-13.5s5.6-8.3 8.4-12.2s5.5-8 8.3-12.2s5.5-8.8 8.3-13.2s5.6-8.8 8.4-11.8s5.5-4.7 8.3-4.1s5.5 3.1 8.3 6.4"/>
<path stroke="#e377c2" d="M404.1 337.8c2.8 1.8 5.6 2.9 8.3 3.5s5.6 .6 8.4 .5s5.5-.6 8.3-1.1s5.5-.9 8.3-1.3s5.6-.6 8.3-.6s5.6 .3 8.4 1s5.5 1.7 8.3 3.1s5.5 3.3 8.3 5.6s5.6 5.1 8.3 8.2s5.6 6.7 8.4 10.2s5.5 7.1 8.3 9.5s5.5 3.7 8.3 3.4s5.6-2.3 8.3-4.9s5.6-6 8.4-9.1s5.5-6 8.3-8.4s5.5-4.3 8.3-5.8s5.6-2.3 8.3-2.6s5.6 0 8.4 .9s5.5 2.7 8.3 5.2s5.5 5.7 8.3 9.6s5.5 8.4 8.3 12.4s5.6 7.2 8.4 8.1s5.5-.6 8.3-3.7s5.5-7.5 8.3-11.9s5.6-8.6 8.3-12.6s5.6-7.8 8.3-11.6s5.6-7.7 8.4-11.9s5.5-8.9 8.3-13.8s5.5-10 8.3-14.1s5.6-6.8 8.4-6.8s5.5 2.4 8.3 6.2s5.5 8.5 8.3 13"/>
<path stroke="#7f7f7f" d="M404.1 338c2.8 1.5 5.6 2.3 8.3 2.6s5.6 .1 8.4-.4s5.5-1.3 8.3-2.2s5.5-2 8.3-3s5.6-2.1 8.3-3s5.6-1.8 8.4-2.6s5.5-1.4 8.3-1.9s5.5-1.1 8.3-1.8s5.6-1.4 8.3-2.4s5.6-2.4 8.4-4.2s5.5-4 8.3-6.5s5.5-5.2 8.3-7.4s5.6-4 8.3-4.4s5.6 .3 8.4 2s5.5 4.1 8.3 6.4s5.5 4.7 8.3 6.7s5.6 3.6 8.3 5s5.6 2.7 8.4 3.8s5.5 2.1 8.3 3.1s5.5 2 8.3 3s5.5 1.8 8.3 2.6s5.6 1.5 8.4 1.8s5.5 .5 8.3 .1s5.5-1.2 8.3-2.7s5.6-3.7 8.3-6.7s5.6-6.8 8.3-11.1s5.6-9 8.4-12.5s5.5-5.7 8.3-5.2s5.5 3.5 8.3 7.4s5.6 8.6 8.4 13s5.5 8.4 8.3 12.2s5.5 7.5 8.3 11.4"/>
<path stroke="#bcbd22" d="M404.1 337.2c2.8 1.5 5.6 2.4 8.3 2.7s5.6 .1 8.4-.5s5.5-1.4 8.3-2.5s5.5-2.2 8.3-3.4s5.6-2.5 8.3-3.8s5.6-2.3 8.4-3.4s5.5-2.1 8.3-3s5.5-1.8 8.3-2.7s5.6-1.8 8.3-3s5.6-2.4 8.4-3.8s5.5-3.1 8.3-4.7s5.5-3.1 8.3-4.1s5.6-1.6 8.3-1.5s5.6 .9 8.4 2.1s5.5 2.6 8.3 4s5.5 2.9 8.3 4.2s5.6 2.5 8.3 3.6s5.6 2.1 8.4 3s5.5 1.9 8.3 2.8s5.5 1.8 8.3 2.6s5.5 1.5 8.3 1.9s5.6 .6 8.4 .4s5.5-.9 8.3-2.3s5.5-3.2 8.3-5.9s5.6-6 8.3-9.5s5.6-7.2 8.3-9.6s5.6-3.2 8.4-2.2s5.5 3.9 8.3 7.2s5.5 7 8.3 10.4s5.6 6.3 8.4 9s5.5 5.1 8.3 7.5s5.5 4.8 8.3 7.4"/>
<path stroke="#17becf" d="M404.1 339c2.8 1.7 5.6 2.7 8.3 3.3s5.6 .6 8.4 .5s5.5-.4 8.3-.8s5.5-.6 8.3-.7s5.6-.1 8.3 .3s5.6 1.2 8.4 2.5s5.5 3 8.3 5.4s5.5 5.4 8.3 9s5.6 7.9 8.3 12.1s5.6 8.4 8.4 10.9s5.5 3.2 8.3 1.6s5.5-5 8.3-9s5.6-8.4 8.3-12.5s5.6-7.9 8.4-11.5s5.5-7 8.3-10.5s5.5-7.1 8.3-10.8s5.6-7.6 8.3-11.3s5.6-7.3 8.4-9.8s5.5-3.7 8.3-3.5s5.5 2.1 8.3 4.6s5.5 5.5 8.3 8.3s5.6 5.2 8.4 7.1s5.5 3.1 8.3 3.7s5.5 .3 8.3-.7s5.6-2.8 8.3-5.4s5.6-6.1 8.3-9.8s5.6-7.7 8.4-10.4s5.5-3.8 8.3-2.8s5.5 3.9 8.3 7.5s5.6 7.8 8.4 11.6s5.5 7.5 8.3 10.9s5.5 6.5 8.3 9.9"/>
<path stroke="#1f77b4" d="M404.1 337.2c2.8 1.6 5.6 2.4 8.3 2.7s5.6 .1 8.4-.4s5.5-1.5 8.3-2.5s5.5-2.2 8.3-3.5s5.6-2.4 8.3-3.7s5.6-2.3 8.4-3.4s5.5-2 8.3-2.9s5.5-1.8 8.3-2.7s5.6-1.8 8.3-3s5.6-2.4 8.4-3.9s5.5-3.1 8.3-4.7s5.5-3.2 8.3-4.3s5.6-1.6 8.3-1.5s5.6 .9 8.4 2.1s5.5 2.7 8.3 4.2s5.5 2.9 8.3 4.2s5.6 2.5 8.3 3.6s5.6 2.1 8.4 3s5.5 1.9 8.3 2.8s5.5 1.8 8.3 2.5s5.5 1.5 8.3 1.9s5.6 .6 8.4 .4s5.5-1 8.3-2.3s5.5-3.2 8.3-5.9s5.6-6 8.3-9.5s5.6-7.2 8.3-9.6s5.6-3.2 8.4-2.2s5.5 3.9 8.3 7.2s5.5 7.1 8.3 10.4s5.6 6.3 8.4 9s5.5 5.1 8.3 7.5s5.5 4.8 8.3 7.4"/>
<path stroke="#ff7f0e" d="M404.1 338.6c2.8 1.6 5.6 2.4 8.3 2.8s5.6 .3 8.4 0s5.5-.9 8.3-1.6s5.5-1.4 8.3-2.1s5.6-1.2 8.3-1.6s5.6-.6 8.4-.5s5.5 .3 8.3 .8s5.5 1.3 8.3 2.1s5.6 1.9 8.3 2.9s5.6 2 8.4 3s5.5 1.8 8.3 2.4s5.5 1.1 8.3 1.4s5.6 .2 8.3 0s5.6-.7 8.4-1.3s5.5-1.2 8.3-1.9s5.5-1.4 8.3-1.9s5.6-1 8.3-1s5.6 .1 8.4 .8s5.5 1.9 8.3 3.6s5.5 4 8.3 7s5.5 6.6 8.3 10.6s5.6 8.6 8.4 12.4s5.5 6.7 8.3 7.4s5.5-1 8.3-4.1s5.6-7.4 8.3-11.6s5.6-8.4 8.3-12.3s5.6-7.4 8.4-10.9s5.5-7 8.3-10.6s5.5-7.4 8.3-11.3s5.6-7.8 8.4-11.2s5.5-6.2 8.3-7.3s5.5-.8 8.3 .9"/>
<path stroke="#2ca02c" d="M404.1 338.5c2.8 1.6 5.6 2.4 8.3 2.7s5.6 .2 8.4-.1s5.5-1.1 8.3-1.9s5.5-1.6 8.3-2.3s5.6-1.6 8.3-2.1s5.6-1 8.4-1.2s5.5-.3 8.3-.2s5.5 .3 8.3 .6s5.6 .5 8.3 .6s5.6-.1 8.4-.6s5.5-1.4 8.3-3s5.5-3.8 8.3-6.8s5.6-6.8 8.3-11s5.6-8.8 8.4-12s5.5-5 8.3-4.2s5.5 4 8.3 7.9s5.6 8.5 8.3 12.6s5.6 7.9 8.4 11.4s5.5 6.8 8.3 10.3s5.5 7.1 8.3 11.2s5.5 8.9 8.3 13.9s5.6 10.6 8.4 15s5.5 7.4 8.3 7.4s5.5-3 8.3-7.2s5.6-9.5 8.3-14.4s5.6-9.6 8.3-14s5.6-8.7 8.4-13.1s5.5-9.1 8.3-14s5.5-10.2 8.3-14.9s5.6-8.4 8.4-9.7s5.5 0 8.3 3.1s5.5 7.6 8.3 12.1"/>
<path stroke="#d62728" d="M404.1 338.9c2.8 1.7 5.6 2.7 8.3 3.3s5.6 .7 8.4 .6s5.5-.4 8.3-.7s5.5-.6 8.3-.7s5.6 0 8.3 .5s5.6 1.3 8.4 2.6s5.5 3.2 8.3 5.7s5.5 5.7 8.3 9.4s5.6 8.1 8.3 12.4s5.6 8.3 8.4 10.5s5.5 2.3 8.3 .4s5.5-5.8 8.3-9.9s5.6-8.6 8.3-12.7s5.6-7.9 8.4-11.5s5.5-7.2 8.3-10.9s5.5-7.4 8.3-11.3s5.6-8.1 8.3-11.9s5.6-7.4 8.4-9.4s5.5-2.6 8.3-1.5s5.5 3.7 8.3 6.7s5.5 6.4 8.3 9.4s5.6 5.5 8.4 7.5s5.5 3.3 8.3 4s5.5 .8 8.3 .1s5.6-2.1 8.3-4.3s5.6-5.4 8.3-9.1s5.6-8.1 8.4-11.9s5.5-7 8.3-7.8s5.5 .6 8.3 3.6s5.6 7.4 8.4 11.6s5.5 8.4 8.3 12.3s5.5 7.5 8.3 11.1"/>
<path stroke="#9467bd" d="M404.1 337.5c2.8 1.7 5.6 2.5 8.3 2.9s5.6 .2 8.4-.2s5.5-1.2 8.3-2.1s5.5-1.8 8.3-2.8s5.6-2 8.3-2.9s5.6-1.6 8.4-2.3s5.5-1.2 8.3-1.6s5.5-.9 8.3-1.4s5.6-1.2 8.3-2.1s5.6-2.2 8.4-3.9s5.5-4 8.3-6.6s5.5-5.6 8.3-8.3s5.6-4.9 8.3-5.8s5.6-.4 8.4 1.2s5.5 4.2 8.3 6.8s5.5 5.3 8.3 7.6s5.6 4.2 8.3 5.9s5.6 3 8.4 4.3s5.5 2.6 8.3 3.8s5.5 2.4 8.3 3.7s5.5 2.5 8.3 3.8s5.6 2.5 8.4 3.6s5.5 2.2 8.3 3.1s5.5 1.5 8.3 1.9s5.6 .5 8.3 .3s5.6-.6 8.3-1.3s5.6-1.7 8.4-2.9s5.5-2.7 8.3-4.2s5.5-3.2 8.3-4.9s5.6-3.4 8.4-5.2s5.5-3.4 8.3-5s5.5-3 8.3-4.3"/>
<path stroke="#8c564b" d="M404.1 337.4c2.8 1.6 5.6 2.5 8.3 2.8s5.6 .2 8.4-.3s5.5-1.3 8.3-2.3s5.5-2 8.3-3.1s5.6-2.2 8.3-3.2s5.6-2 8.4-2.8s5.5-1.6 8.3-2.3s5.5-1.3 8.3-2s5.6-1.6 8.3-2.8s5.6-2.5 8.4-4.3s5.5-3.8 8.3-6.1s5.5-4.6 8.3-6.4s5.6-3 8.3-3.1s5.6 .9 8.4 2.5s5.5 3.7 8.3 5.7s5.5 4 8.3 5.7s5.6 3.2 8.3 4.4s5.6 2.3 8.4 3.3s5.5 1.8 8.3 2.7s5.5 1.7 8.3 2.5s5.5 1.5 8.3 2s5.6 .8 8.4 .7s5.5-.5 8.3-1.6s5.5-2.7 8.3-5.1s5.6-5.7 8.3-9.4s5.6-7.9 8.3-11.4s5.6-5.9 8.4-6.1s5.5 1.9 8.3 5.1s5.5 7.4 8.3 11.2s5.6 7.6 8.4 10.8s5.5 6.3 8.3 9.2s5.5 5.8 8.3 9.1"/>
<path stroke="#e377c2" d="M404.1 338.4c2.8 1.7 5.6 2.6 8.3 3.1s5.6 .5 8.4 .2s5.5-.7 8.3-1.3s5.5-1.2 8.3-1.7s5.6-.9 8.3-1s5.6-.1 8.4 .3s5.5 1.1 8.3 2.1s5.5 2.4 8.3 4.1s5.6 3.7 8.3 5.9s5.6 4.9 8.4 7.6s5.5 5.7 8.3 8.4s5.5 5.3 8.3 7.1s5.6 2.8 8.3 2.7s5.6-1.2 8.4-2.7s5.5-3.6 8.3-5.4s5.5-3.4 8.3-4.5s5.6-1.5 8.3-1.2s5.6 1.3 8.4 3s5.5 4.2 8.3 7s5.5 5.8 8.3 8s5.5 3.6 8.3 3.2s5.6-2.2 8.4-4.8s5.5-5.9 8.3-9s5.5-6.1 8.3-8.9s5.6-5.2 8.3-7.6s5.6-4.8 8.3-7.3s5.6-5.2 8.4-8.1s5.5-6.1 8.3-9.7s5.5-7.4 8.3-11.2s5.6-7.5 8.4-10.1s5.5-3.9 8.3-3.4s5.5 2.6 8.3 5.5"/>
<path stroke="#7f7f7f" d="M404.1 338.4c2.8 1.8 5.6 2.9 8.3 3.5s5.6 .7 8.4 .6s5.5-.4 8.3-.7s5.5-.7 8.3-.9s5.6-.1 8.3 .2s5.6 1.1 8.4 2.3s5.5 2.8 8.3 5.1s5.5 5.1 8.3 8.5s5.6 7.6 8.3 11.7s5.6 8.5 8.4 11.4s5.5 4.1 8.3 3.2s5.5-4 8.3-7.7s5.6-8.1 8.3-12.2s5.6-7.8 8.4-11.4s5.5-6.9 8.3-10.2s5.5-6.5 8.3-9.9s5.6-6.8 8.3-10.3s5.6-6.8 8.4-9.6s5.5-4.9 8.3-5.7s5.5-.3 8.3 1.1s5.5 3.7 8.3 5.9s5.6 4.6 8.4 6.3s5.5 2.9 8.3 3.4s5.5 .1 8.3-1s5.6-3 8.3-5.6s5.6-5.8 8.3-8.8s5.6-5.8 8.4-7.1s5.5-.9 8.3 .9s5.5 5 8.3 8.3s5.6 6.8 8.4 10s5.5 6.1 8.3 8.9s5.5 5.4 8.3 8.2"/>
<path stroke="#bcbd22" d="M404.1 338.9c2.8 1.7 5.6 2.7 8.3 3.2s5.6 .6 8.4 .4s5.5-.5 8.3-.9s5.5-.8 8.3-1s5.6-.3 8.3-.1s5.6 .9 8.4 1.9s5.5 2.5 8.3 4.5s5.5 4.6 8.3 7.8s5.6 6.9 8.3 10.9s5.6 8.3 8.4 11.6s5.5 5.5 8.3 5.6s5.5-1.9 8.3-5.1s5.6-7.2 8.3-11.1s5.6-7.8 8.4-11.3s5.5-6.6 8.3-9.6s5.5-5.8 8.3-8.6s5.6-5.5 8.3-8.2s5.6-5.4 8.4-7.9s5.5-5 8.3-6.9s5.5-3.3 8.3-4s5.5-.7 8.3-.2s5.6 1.4 8.4 2.3s5.5 1.7 8.3 2.1s5.5 .4 8.3-.2s5.6-1.7 8.3-3.1s5.6-3.1 8.3-4.5s5.6-2.6 8.4-2.8s5.5 .3 8.3 1.7s5.5 3.3 8.3 5.4s5.6 4.5 8.4 6.7s5.5 4.3 8.3 6.3s5.5 3.8 8.3 5.6"/>
<path stroke="#17becf" d="M404.1 337.2c2.8 1.7 5.6 2.7 8.3 3.1s5.6 .4 8.4 0s5.5-1 8.3-1.8s5.5-1.8 8.3-2.6s5.6-1.8 8.3-2.5s5.6-1.4 8.4-1.9s5.5-.8 8.3-1s5.5-.4 8.3-.7s5.6-.5 8.3-1.1s5.6-1.5 8.4-3s5.5-3.4 8.3-6s5.5-5.8 8.3-9.2s5.6-6.9 8.3-9.3s5.6-3.3 8.4-2.5s5.5 3.4 8.3 6.4s5.5 6.6 8.3 9.7s5.6 5.8 8.3 8.2s5.6 4.5 8.4 6.4s5.5 3.9 8.3 5.9s5.5 4.1 8.3 6.4s5.5 5 8.3 8s5.6 6.3 8.4 10s5.5 7.6 8.3 11.1s5.5 6.7 8.3 8.3s5.6 1.7 8.3 .2s5.6-4.4 8.3-7.6s5.6-6.6 8.4-9.6s5.5-5.6 8.3-7.8s5.5-3.8 8.3-4.9s5.6-1.6 8.4-1.6s5.5 .7 8.3 2.1s5.5 3.4 8.3 6.2"/>
<path stroke="#1f77b4" d="M404.1 337.7c2.8 1.6 5.6 2.5 8.3 2.8s5.6 .3 8.4-.1s5.5-1.2 8.3-2s5.5-1.8 8.3-2.8s5.6-1.8 8.3-2.6s5.6-1.5 8.4-2.1s5.5-1 8.3-1.3s5.5-.7 8.3-1s5.6-.9 8.3-1.7s5.6-1.8 8.4-3.4s5.5-3.8 8.3-6.4s5.5-5.9 8.3-9s5.6-6.1 8.3-7.7s5.6-1.7 8.4-.4s5.5 4 8.3 6.9s5.5 6 8.3 8.7s5.6 5.1 8.3 7.1s5.6 3.7 8.4 5.3s5.5 3.2 8.3 4.8s5.5 3.2 8.3 5s5.5 3.7 8.3 5.7s5.6 4.4 8.4 6.9s5.5 5 8.3 7.7s5.5 5.5 8.3 8.1s5.6 4.9 8.3 6.4s5.6 2.4 8.3 2.4s5.6-1 8.4-2.3s5.5-2.9 8.3-4.3s5.5-2.5 8.3-3.1s5.6-.5 8.4 .2s5.5 2.1 8.3 4s5.5 4.5 8.3 6.8"/>
<path stroke="#ff7f0e" d="M404.1 338.3c2.8 1.7 5.6 2.8 8.3 3.3s5.6 .7 8.4 .6s5.5-.6 8.3-1s5.5-.8 8.3-1.1s5.6-.4 8.3-.2s5.6 .6 8.4 1.5s5.5 2.2 8.3 4s5.5 4.1 8.3 6.9s5.6 6.3 8.3 10s5.6 7.9 8.4 11.5s5.5 6.5 8.3 7.6s5.5 .3 8.3-2s5.6-5.9 8.3-9.6s5.6-7.5 8.4-10.8s5.5-6.5 8.3-9.2s5.5-5.2 8.3-7.4s5.6-4.1 8.3-5.9s5.6-3.4 8.4-4.8s5.5-2.6 8.3-3.8s5.5-2.1 8.3-3.1s5.5-2 8.3-3.2s5.6-2.4 8.4-4s5.5-3.3 8.3-5.2s5.5-4 8.3-5.8s5.6-3.2 8.3-3.8s5.6-.3 8.3 .6s5.6 2.5 8.4 4.1s5.5 3.5 8.3 5s5.5 2.9 8.3 4.1s5.6 2.1 8.4 3s5.5 1.8 8.3 2.6s5.5 1.6 8.3 2.3"/>
<path stroke="#2ca02c" d="M404.1 338c2.8 1.8 5.6 2.9 8.3 3.5s5.6 .6 8.4 .5s5.5-.5 8.3-.9s5.5-.9 8.3-1.2s5.6-.5 8.3-.4s5.6 .5 8.4 1.3s5.5 2.1 8.3 3.7s5.5 3.9 8.3 6.5s5.6 5.9 8.3 9.5s5.6 7.5 8.4 11.1s5.5 6.9 8.3 8.5s5.5 1.5 8.3-.2s5.6-4.8 8.3-8.3s5.6-7.1 8.4-10.4s5.5-6.4 8.3-9s5.5-4.8 8.3-6.7s5.6-3.5 8.3-4.7s5.6-2.1 8.4-2.7s5.5-.8 8.3-.7s5.5 .4 8.3 1.1s5.5 1.4 8.3 2.4s5.6 2.2 8.4 3.3s5.5 2.3 8.3 3.4s5.5 2.2 8.3 3.1s5.6 1.6 8.3 2.2s5.6 1.1 8.3 1.5s5.6 .8 8.4 1.3s5.5 1.2 8.3 2.1s5.5 2.3 8.3 4.2s5.6 4.2 8.4 7s5.5 6 8.3 8.8s5.5 5.2 8.3 6"/>
<path stroke="#d62728" d="M404.1 338.8c2.8 1.5 5.6 2.4 8.3 2.8s5.6 .3 8.4 0s5.5-1 8.3-1.6s5.5-1.4 8.3-2s5.6-1.1 8.3-1.5s5.6-.4 8.4-.3s5.5 .6 8.3 1.2s5.5 1.6 8.3 2.6s5.6 2.4 8.3 3.7s5.6 2.8 8.4 4.3s5.5 2.9 8.3 4.4s5.5 2.8 8.3 4s5.6 2.5 8.3 3.6s5.6 2.1 8.4 3.1s5.5 2 8.3 3s5.5 2.3 8.3 3.6s5.6 2.7 8.3 4s5.6 2.8 8.4 3.9s5.5 1.7 8.3 1.8s5.5-.2 8.3-1s5.5-2 8.3-3.3s5.6-2.5 8.4-3.8s5.5-2.4 8.3-3.5s5.5-2.1 8.3-3.1s5.6-2 8.3-3s5.6-1.9 8.3-2.8s5.6-1.6 8.4-2.2s5.5-1 8.3-1s5.5 .3 8.3 1.3s5.6 2.4 8.4 4.7s5.5 5.2 8.3 8.6s5.5 7.2 8.3 10.1"/>
<path stroke="#9467bd" d="M404.1 337.8c2.8 1.6 5.6 2.4 8.3 2.7s5.6 .2 8.4-.3s5.5-1.2 8.3-2.1s5.5-2 8.3-3s5.6-2 8.3-3s5.6-1.7 8.4-2.4s5.5-1.3 8.3-1.8s5.5-1.1 8.3-1.6s5.6-1.3 8.3-2.3s5.6-2.4 8.4-4.1s5.5-4 8.3-6.6s5.5-5.4 8.3-7.8s5.6-4.3 8.3-4.9s5.6 .1 8.4 1.7s5.5 4.2 8.3 6.6s5.5 4.9 8.3 7s5.6 3.9 8.3 5.4s5.6 2.8 8.4 4s5.5 2.3 8.3 3.4s5.5 2.1 8.3 3.2s5.5 2.1 8.3 3s5.6 1.8 8.4 2.5s5.5 1 8.3 1.1s5.5-.3 8.3-1.2s5.6-2.3 8.3-4.5s5.6-4.9 8.3-8.5s5.6-7.9 8.4-12.3s5.5-8.9 8.3-11.6s5.5-3.3 8.3-1.6s5.6 5.6 8.4 9.9s5.5 9 8.3 13.4s5.5 8.3 8.3 12.3"/>
<path stroke="#8c564b" d="M404.1 338.2c2.8 1.6 5.6 2.4 8.3 2.7s5.6 .2 8.4-.2s5.5-1.1 8.3-1.9s5.5-1.8 8.3-2.7s5.6-1.7 8.3-2.4s5.6-1.3 8.4-1.7s5.5-.8 8.3-.9s5.5-.3 8.3-.5s5.6-.4 8.3-.9s5.6-1.3 8.4-2.6s5.5-3.1 8.3-5.6s5.5-5.7 8.3-9.2s5.6-7.3 8.3-10.2s5.6-4.4 8.4-4s5.5 2.6 8.3 5.7s5.5 6.8 8.3 10.1s5.6 6.4 8.3 9s5.6 5 8.4 7.2s5.5 4.3 8.3 6.6s5.5 4.6 8.3 7.4s5.5 5.8 8.3 9.3s5.6 7.6 8.4 11.7s5.5 8.5 8.3 11.8s5.5 5.5 8.3 5.5s5.6-2 8.3-5.1s5.6-7.2 8.3-11s5.6-7.5 8.4-10.8s5.5-6.1 8.3-8.7s5.5-4.9 8.3-7s5.6-4 8.4-5.6s5.5-3.2 8.3-4.6s5.5-2.6 8.3-3.7"/>
<path stroke="#e377c2" d="M404.1 337.2c2.8 1.7 5.6 2.7 8.3 3.2s5.6 .4 8.4 .1s5.5-1 8.3-1.8s5.5-1.6 8.3-2.4s5.6-1.6 8.3-2.2s5.6-1.2 8.4-1.5s5.5-.5 8.3-.6s5.5 0 8.3 0s5.6 0 8.3-.3s5.6-.8 8.4-1.8s5.5-2.6 8.3-4.8s5.5-5.2 8.3-8.7s5.6-7.6 8.3-11.3s5.6-6.6 8.4-7.4s5.5 .4 8.3 3.2s5.5 6.7 8.3 10.5s5.6 7.4 8.3 10.6s5.6 6 8.4 8.7s5.5 5.3 8.3 8.1s5.5 5.7 8.3 9.2s5.5 7.3 8.3 11.7s5.6 9.3 8.4 13.8s5.5 8.5 8.3 10.3s5.5 1.1 8.3-1.5s5.6-7 8.3-11.5s5.6-9 8.3-13.2s5.6-8.1 8.4-11.8s5.5-7.4 8.3-11.2s5.5-7.7 8.3-11.7s5.6-8.1 8.4-11.6s5.5-6.2 8.3-7.3s5.5-.5 8.3 1.4"/>
<path stroke="#7f7f7f" d="M404.1 337.6c2.8 1.8 5.6 2.9 8.3 3.4s5.6 .6 8.4 .4s5.5-.6 8.3-1.2s5.5-1.1 8.3-1.6s5.6-.9 8.3-1s5.6-.1 8.4 .3s5.5 1.1 8.3 2.1s5.5 2.4 8.3 4s5.6 3.6 8.3 5.9s5.6 4.7 8.4 7.4s5.5 5.6 8.3 8.3s5.5 5.3 8.3 7.2s5.6 2.8 8.3 2.9s5.6-.9 8.4-2.4s5.5-3.4 8.3-5.1s5.5-3.4 8.3-4.4s5.6-1.5 8.3-1.2s5.6 1.2 8.4 2.9s5.5 4.2 8.3 6.9s5.5 5.6 8.3 7.8s5.5 3.3 8.3 2.9s5.6-2.2 8.4-4.8s5.5-5.8 8.3-8.9s5.5-5.9 8.3-8.6s5.6-5.1 8.3-7.5s5.6-4.7 8.3-7.1s5.6-5 8.4-7.8s5.5-5.9 8.3-9.3s5.5-7.1 8.3-10.8s5.6-7.5 8.4-10.2s5.5-4.4 8.3-4.4s5.5 1.7 8.3 4.2"/>
<path stroke="#bcbd22" d="M404.1 337.4c2.8 1.7 5.6 2.6 8.3 3s5.6 .2 8.4-.2s5.5-1.1 8.3-2s5.5-1.8 8.3-2.8s5.6-1.9 8.3-2.7s5.6-1.6 8.4-2.2s5.5-1.1 8.3-1.5s5.5-.8 8.3-1.3s5.6-1 8.3-1.9s5.6-2 8.4-3.7s5.5-3.9 8.3-6.5s5.5-5.8 8.3-8.7s5.6-5.4 8.3-6.6s5.6-.9 8.4 .6s5.5 4.1 8.3 6.9s5.5 5.6 8.3 8.1s5.6 4.5 8.3 6.4s5.6 3.3 8.4 4.8s5.5 2.8 8.3 4.1s5.5 2.8 8.3 4.3s5.5 3 8.3 4.6s5.6 3.2 8.4 4.9s5.5 3.4 8.3 5.1s5.5 3.4 8.3 5s5.6 3.1 8.3 4.5s5.6 2.7 8.3 3.9s5.6 2.2 8.4 3.3s5.5 1.9 8.3 2.9s5.5 1.8 8.3 2.8s5.6 1.9 8.4 2.8s5.5 1.6 8.3 2.1s5.5 .8 8.3 .8"/>
<path stroke="#17becf" d="M404.1 339.2c2.8 1.6 5.6 2.6 8.3 3.1s5.6 .7 8.4 .6s5.5-.5 8.3-.8s5.5-.7 8.3-.8s5.6-.1 8.3 .3s5.6 1.2 8.4 2.5s5.5 3.1 8.3 5.5s5.5 5.4 8.3 9s5.6 7.9 8.3 12.2s5.6 8.4 8.4 10.8s5.5 3.1 8.3 1.5s5.5-5.1 8.3-9.1s5.6-8.4 8.3-12.5s5.6-7.9 8.4-11.5s5.5-7.1 8.3-10.6s5.5-7.1 8.3-10.8s5.6-7.7 8.3-11.4s5.6-7.3 8.4-9.8s5.5-3.6 8.3-3.2s5.5 2.2 8.3 4.8s5.5 5.6 8.3 8.4s5.6 5.3 8.4 7.1s5.5 3.2 8.3 3.8s5.5 .3 8.3-.6s5.6-2.8 8.3-5.4s5.6-6 8.3-9.8s5.6-7.8 8.4-10.6s5.5-4.1 8.3-3.3s5.5 3.7 8.3 7.3s5.6 7.8 8.4 11.7s5.5 7.6 8.3 11s5.5 6.7 8.3 10.1"/>
<path stroke="#1f77b4" d="M404.1 338.6c2.8 1.6 5.6 2.4 8.3 2.8s5.6 .3 8.4-.1s5.5-.9 8.3-1.6s5.5-1.4 8.3-2.1s5.6-1.3 8.3-1.7s5.6-.7 8.4-.7s5.5 .3 8.3 .7s5.5 1.1 8.3 1.8s5.6 1.6 8.3 2.4s5.6 1.7 8.4 2.4s5.5 1.1 8.3 1.4s5.5 .2 8.3-.2s5.6-1.2 8.3-2.5s5.6-2.8 8.4-4.9s5.5-4.7 8.3-7.7s5.5-6.5 8.3-10.1s5.6-7.2 8.3-10.1s5.6-4.8 8.4-5s5.5 1.3 8.3 3.8s5.5 5.8 8.3 9s5.5 6.3 8.3 9s5.6 5 8.4 6.8s5.5 3 8.3 3.8s5.5 1.1 8.3 .8s5.6-1.3 8.3-3s5.6-4 8.3-7.1s5.6-6.9 8.4-11.1s5.5-8.7 8.3-12s5.5-5.2 8.3-4.7s5.6 3.5 8.4 7.3s5.5 8.3 8.3 12.6s5.5 8.4 8.3 12.3"/>
<path stroke="#ff7f0e" d="M404.1 337.6c2.8 1.8 5.6 2.8 8.3 3.3s5.6 .5 8.4 .3s5.5-.8 8.3-1.5s5.5-1.3 8.3-1.9s5.6-1.1 8.3-1.4s5.6-.5 8.4-.4s5.5 .5 8.3 1.2s5.5 1.4 8.3 2.4s5.6 2.3 8.3 3.5s5.6 2.6 8.4 4s5.5 2.6 8.3 3.9s5.5 2.4 8.3 3.4s5.6 2 8.3 2.9s5.6 1.6 8.4 2.5s5.5 1.7 8.3 2.8s5.5 2.3 8.3 3.9s5.6 3.4 8.3 5.5s5.6 4.1 8.4 5.9s5.5 3 8.3 3.4s5.5-.2 8.3-1.4s5.5-2.9 8.3-4.7s5.6-3.7 8.4-5.3s5.5-3 8.3-4.2s5.5-2.2 8.3-3.2s5.6-1.8 8.3-2.7s5.6-1.6 8.3-2.4s5.6-1.4 8.4-2s5.5-.8 8.3-.8s5.5 .4 8.3 1.4s5.6 2.5 8.4 4.8s5.5 5.2 8.3 8.7s5.5 7.4 8.3 10.5"/>
<path stroke="#2ca02c" d="M404.1 338c2.8 1.9 5.6 2.9 8.3 3.5s5.6 .8 8.4 .6s5.5-.5 8.3-.8s5.5-.9 8.3-1.1s5.6-.4 8.3-.2s5.6 .7 8.4 1.6s5.5 2.3 8.3 4.1s5.5 4.3 8.3 7.2s5.6 6.4 8.3 10.2s5.6 8 8.4 11.5s5.5 6.4 8.3 7.2s5.5-.2 8.3-2.7s5.6-6.3 8.3-10.1s5.6-7.5 8.4-10.9s5.5-6.5 8.3-9.3s5.5-5.3 8.3-7.6s5.6-4.5 8.3-6.5s5.6-3.8 8.4-5.6s5.5-3.3 8.3-4.8s5.5-2.9 8.3-4.2s5.5-2.5 8.3-3.7s5.6-2.3 8.4-3.5s5.5-2.2 8.3-3.2s5.5-2 8.3-2.7s5.6-1.3 8.3-1.4s5.6-.1 8.3 .3s5.6 1.1 8.4 1.9s5.5 1.8 8.3 2.7s5.5 2 8.3 3s5.6 2.1 8.4 3.2s5.5 2.2 8.3 3.3s5.5 2.2 8.3 3.2"/>
<path stroke="#d62728" d="M404.1 339c2.8 1.7 5.6 2.6 8.3 3.2s5.6 .6 8.4 .5s5.5-.5 8.3-.8s5.5-.7 8.3-.9s5.6-.1 8.3 .2s5.6 1.1 8.4 2.3s5.5 2.9 8.3 5.2s5.5 5.1 8.3 8.6s5.6 7.6 8.3 11.8s5.6 8.4 8.4 11.2s5.5 4 8.3 3s5.5-4.2 8.3-8s5.6-8.1 8.3-12.2s5.6-7.9 8.4-11.4s5.5-6.9 8.3-10.3s5.5-6.6 8.3-10s5.6-7 8.3-10.5s5.6-7 8.4-9.7s5.5-4.8 8.3-5.4s5.5 .1 8.3 1.7s5.5 4.1 8.3 6.5s5.6 4.7 8.4 6.4s5.5 3 8.3 3.4s5.5 .2 8.3-.9s5.6-3.1 8.3-5.7s5.6-5.9 8.3-9.1s5.6-6.2 8.4-7.7s5.5-1.2 8.3 .5s5.5 5 8.3 8.4s5.6 7 8.4 10.3s5.5 6.4 8.3 9.3s5.5 5.6 8.3 8.4"/>
<path stroke="#9467bd" d="M404.1 338.4c2.8 1.7 5.6 2.6 8.3 3.1s5.6 .5 8.4 .2s5.5-.7 8.3-1.3s5.5-1.1 8.3-1.6s5.6-.9 8.3-1.1s5.6 0 8.4 .4s5.5 1.1 8.3 2.2s5.5 2.4 8.3 4.1s5.6 3.7 8.3 6s5.6 5 8.4 7.8s5.5 5.7 8.3 8.5s5.5 5.3 8.3 7s5.6 2.6 8.3 2.4s5.6-1.4 8.4-3.1s5.5-3.8 8.3-5.7s5.5-3.5 8.3-4.5s5.6-1.6 8.3-1.3s5.6 1.3 8.4 3.1s5.5 4.3 8.3 7.1s5.5 6 8.3 8.4s5.5 3.7 8.3 3.5s5.6-2.2 8.4-4.8s5.5-6.1 8.3-9.3s5.5-6.2 8.3-9s5.6-5.4 8.3-7.9s5.6-4.9 8.3-7.5s5.6-5.3 8.4-8.4s5.5-6.4 8.3-10.1s5.5-7.8 8.3-11.7s5.6-7.5 8.4-9.9s5.5-3.1 8.3-2.1s5.5 3.7 8.3 6.9"/>
<path stroke="#8c564b" d="M404.1 337.1c2.8 1.8 5.6 2.8 8.3 3.3s5.6 .4 8.4 .1s5.5-.9 8.3-1.6s5.5-1.6 8.3-2.4s5.6-1.5 8.3-2.1s5.6-1.1 8.4-1.4s5.5-.3 8.3-.3s5.5 .1 8.3 .3s5.6 .2 8.3 .1s5.6-.4 8.4-1.2s5.5-2 8.3-4s5.5-4.5 8.3-7.9s5.6-7.4 8.3-11.5s5.6-8 8.4-10s5.5-1.9 8.3 .2s5.5 6 8.3 10s5.6 8 8.3 11.7s5.6 6.9 8.4 10s5.5 6 8.3 9.1s5.5 6.5 8.3 10.4s5.5 8.2 8.3 13s5.6 10.1 8.4 14.5s5.5 7.8 8.3 8.5s5.5-1.6 8.3-5.3s5.6-8.7 8.3-13.5s5.6-9.4 8.3-13.7s5.6-8.4 8.4-12.5s5.5-8.4 8.3-12.9s5.5-9.3 8.3-13.9s5.6-8.9 8.4-11.4s5.5-3 8.3-1.4s5.5 5.1 8.3 9.1"/>
<path stroke="#e377c2" d="M404.1 337.7c2.8 1.8 5.6 2.8 8.3 3.3s5.6 .5 8.4 .3s5.5-.8 8.3-1.4s5.5-1.2 8.3-1.8s5.6-1 8.3-1.3s5.6-.3 8.4-.1s5.5 .8 8.3 1.5s5.5 1.8 8.3 3.1s5.6 2.7 8.3 4.3s5.6 3.4 8.4 5.3s5.5 3.9 8.3 5.8s5.5 4 8.3 5.8s5.6 3.5 8.3 4.8s5.6 2.4 8.4 3.1s5.5 1 8.3 1.1s5.5 0 8.3-.1s5.6 0 8.3 .3s5.6 .8 8.4 1.5s5.5 1.8 8.3 2.7s5.5 1.8 8.3 2.3s5.5 .4 8.3-.1s5.6-1.7 8.4-3.1s5.5-3.1 8.3-4.8s5.5-3.5 8.3-5.2s5.6-3.3 8.3-4.9s5.6-3 8.3-4.4s5.6-2.7 8.4-3.9s5.5-2.1 8.3-2.9s5.5-1.3 8.3-1.4s5.6 .3 8.4 1.2s5.5 2.4 8.3 4.6s5.5 5.3 8.3 9"/>
<path stroke="#7f7f7f" d="M404.1 338.7c2.8 1.8 5.6 2.9 8.3 3.5s5.6 .8 8.4 .8s5.5-.3 8.3-.5s5.5-.5 8.3-.5s5.6 .2 8.3 .8s5.6 1.6 8.4 3.2s5.5 3.7 8.3 6.5s5.5 6.4 8.3 10.4s5.6 8.8 8.3 12.9s5.6 7.6 8.4 8.7s5.5-.1 8.3-3.1s5.5-7.4 8.3-11.8s5.6-8.8 8.3-12.9s5.6-7.9 8.4-11.7s5.5-7.6 8.3-11.7s5.5-8.5 8.3-13s5.6-9.1 8.3-12.8s5.6-6.2 8.4-6.6s5.5 1.6 8.3 4.6s5.5 7.2 8.3 11.1s5.5 7.6 8.3 10.9s5.6 6.1 8.4 8.5s5.5 4.4 8.3 6.2s5.5 3.1 8.3 4.2s5.6 1.8 8.3 2.4s5.6 .8 8.3 .9s5.6 .1 8.4 .1s5.5 0 8.3 .3s5.5 .7 8.3 1.6s5.6 2.4 8.4 4.6s5.5 5 8.3 8.6s5.5 7.8 8.3 11.8"/>
<path stroke="#bcbd22" d="M404.1 338.4c2.8 1.6 5.6 2.5 8.3 2.9s5.6 .4 8.4 .1s5.5-.9 8.3-1.5s5.5-1.4 8.3-2s5.6-1.1 8.3-1.5s5.6-.4 8.4-.3s5.5 .5 8.3 1.1s5.5 1.4 8.3 2.5s5.6 2.2 8.3 3.4s5.6 2.7 8.4 4s5.5 2.7 8.3 3.9s5.5 2.4 8.3 3.5s5.6 2 8.3 2.8s5.6 1.7 8.4 2.5s5.5 1.7 8.3 2.8s5.5 2.4 8.3 4s5.6 3.4 8.3 5.4s5.6 4.1 8.4 5.9s5.5 3 8.3 3.3s5.5-.1 8.3-1.3s5.5-2.9 8.3-4.8s5.6-3.6 8.4-5.2s5.5-3 8.3-4.2s5.5-2.2 8.3-3.1s5.6-1.9 8.3-2.7s5.6-1.7 8.3-2.4s5.6-1.5 8.4-2s5.5-.8 8.3-.8s5.5 .4 8.3 1.4s5.6 2.5 8.4 4.7s5.5 5.3 8.3 8.8s5.5 7.3 8.3 10.5"/>
<path stroke="#17becf" d="M404.1 338c2.8 1.8 5.6 2.8 8.3 3.3s5.6 .5 8.4 .3s5.5-.7 8.3-1.2s5.5-1.2 8.3-1.6s5.6-.9 8.3-1s5.6 0 8.4 .4s5.5 1.2 8.3 2.2s5.5 2.5 8.3 4.3s5.6 3.8 8.3 6.2s5.6 5.1 8.4 7.9s5.5 5.9 8.3 8.8s5.5 5.3 8.3 6.9s5.6 2.3 8.3 1.9s5.6-1.9 8.4-3.8s5.5-4.1 8.3-6s5.5-3.7 8.3-4.7s5.6-1.6 8.3-1.3s5.6 1.3 8.4 3.1s5.5 4.4 8.3 7.3s5.5 6.3 8.3 8.9s5.5 4.2 8.3 4s5.6-1.9 8.4-4.7s5.5-6.2 8.3-9.5s5.5-6.5 8.3-9.4s5.6-5.5 8.3-8.1s5.6-5.2 8.3-7.9s5.6-5.6 8.4-8.9s5.5-6.9 8.3-10.8s5.5-8.3 8.3-12.2s5.6-7.6 8.4-9.4s5.5-1.8 8.3 0s5.5 5.1 8.3 8.8"/>
<path stroke="#1f77b4" d="M404.1 338c2.8 1.5 5.6 2.2 8.3 2.4s5.6 0 8.4-.5s5.5-1.4 8.3-2.4s5.5-2.2 8.3-3.4s5.6-2.4 8.3-3.5s5.6-2.2 8.4-3.1s5.5-1.8 8.3-2.7s5.5-1.5 8.3-2.4s5.6-1.8 8.3-2.9s5.6-2.6 8.4-4.2s5.5-3.6 8.3-5.5s5.5-3.9 8.3-5.2s5.6-2.2 8.3-2.1s5.6 1.1 8.4 2.4s5.5 3.2 8.3 5s5.5 3.4 8.3 4.8s5.6 2.7 8.3 3.8s5.6 2.1 8.4 3s5.5 1.8 8.3 2.7s5.5 1.7 8.3 2.4s5.5 1.3 8.3 1.8s5.6 .5 8.4 .3s5.5-.9 8.3-2.2s5.5-3.3 8.3-5.9s5.6-6 8.3-9.6s5.6-7.4 8.3-10s5.6-3.6 8.4-2.7s5.5 3.8 8.3 7.1s5.5 7.2 8.3 10.6s5.6 6.5 8.4 9.3s5.5 5.2 8.3 7.7s5.5 5 8.3 7.7"/>
<path stroke="#ff7f0e" d="M404.1 337.9c2.8 1.6 5.6 2.4 8.3 2.7s5.6 0 8.4-.5s5.5-1.3 8.3-2.2s5.5-2 8.3-3.1s5.6-2.1 8.3-3.1s5.6-1.9 8.4-2.6s5.5-1.5 8.3-2.1s5.5-1.2 8.3-1.9s5.6-1.5 8.3-2.6s5.6-2.4 8.4-4.2s5.5-4 8.3-6.4s5.5-5 8.3-7s5.6-3.6 8.3-3.8s5.6 .6 8.4 2.2s5.5 3.9 8.3 6.2s5.5 4.4 8.3 6.2s5.6 3.4 8.3 4.8s5.6 2.5 8.4 3.5s5.5 2 8.3 3s5.5 1.8 8.3 2.7s5.5 1.6 8.3 2.3s5.6 1.1 8.4 1.2s5.5 0 8.3-.7s5.5-2.1 8.3-4.1s5.6-4.8 8.3-8.3s5.6-7.8 8.3-11.9s5.6-8.1 8.4-10s5.5-1.4 8.3 .9s5.5 6.5 8.3 10.7s5.6 8.5 8.4 12.3s5.5 7.3 8.3 10.7s5.5 6.7 8.3 10.3"/>
<path stroke="#2ca02c" d="M404.1 337.5c2.8 1.8 5.6 2.9 8.3 3.4s5.6 .7 8.4 .5s5.5-.7 8.3-1.2s5.5-1.1 8.3-1.6s5.6-.9 8.3-1.1s5.6 0 8.4 .3s5.5 1.1 8.3 2.1s5.5 2.3 8.3 4s5.6 3.5 8.3 5.7s5.6 4.7 8.4 7.4s5.5 5.5 8.3 8.2s5.5 5.3 8.3 7.1s5.6 3 8.3 3.2s5.6-.7 8.4-2.1s5.5-3.2 8.3-4.9s5.5-3.2 8.3-4.2s5.6-1.5 8.3-1.3s5.6 1.3 8.4 2.9s5.5 4.1 8.3 6.7s5.5 5.5 8.3 7.6s5.5 3.1 8.3 2.7s5.6-2.2 8.4-4.8s5.5-5.7 8.3-8.7s5.5-5.8 8.3-8.5s5.6-5 8.3-7.3s5.6-4.6 8.3-7s5.6-4.8 8.4-7.5s5.5-5.7 8.3-8.9s5.5-6.8 8.3-10.4s5.6-7.3 8.4-10.2s5.5-4.8 8.3-5.2s5.5 .7 8.3 2.8"/>
<path stroke="#d62728" d="M404.1 338.3c2.8 1.9 5.6 3 8.3 3.6s5.6 .8 8.4 .8s5.5-.3 8.3-.6s5.5-.5 8.3-.6s5.6 0 8.3 .5s5.6 1.4 8.4 2.7s5.5 3.3 8.3 5.9s5.5 5.7 8.3 9.5s5.6 8.3 8.3 12.5s5.6 8.2 8.4 10.3s5.5 1.9 8.3-.2s5.5-6 8.3-10.3s5.6-8.6 8.3-12.7s5.6-7.9 8.4-11.6s5.5-7.2 8.3-10.9s5.5-7.6 8.3-11.7s5.6-8.3 8.3-12.2s5.6-7.2 8.4-9.1s5.5-1.9 8.3-.4s5.5 4.4 8.3 7.7s5.5 6.7 8.3 9.7s5.6 5.7 8.4 7.7s5.5 3.4 8.3 4.3s5.5 1.1 8.3 .6s5.6-1.6 8.3-3.6s5.6-4.7 8.3-8.1s5.6-7.7 8.4-11.9s5.5-8.2 8.3-10.3s5.5-2.1 8.3-.1s5.6 6.1 8.4 10.3s5.5 8.6 8.3 12.7s5.5 8 8.3 11.8"/>
<path stroke="#9467bd" d="M404.1 338.8c2.8 1.6 5.6 2.5 8.3 2.9s5.6 .3 8.4 0s5.5-.9 8.3-1.5s5.5-1.3 8.3-1.8s5.6-1.1 8.3-1.3s5.6-.3 8.4-.1s5.5 .8 8.3 1.7s5.5 1.9 8.3 3.2s5.6 2.9 8.3 4.7s5.6 3.7 8.4 5.8s5.5 4.3 8.3 6.5s5.5 4.4 8.3 6.3s5.6 3.7 8.3 4.9s5.6 2 8.4 2.2s5.5 0 8.3-.5s5.5-1.2 8.3-1.6s5.6-.8 8.3-.7s5.6 .8 8.4 1.8s5.5 2.4 8.3 3.8s5.5 2.9 8.3 3.8s5.5 1.1 8.3 .6s5.6-1.8 8.4-3.5s5.5-3.9 8.3-5.9s5.5-4.2 8.3-6.2s5.6-3.8 8.3-5.5s5.6-3.4 8.3-5s5.6-3.2 8.4-4.6s5.5-2.9 8.3-4.2s5.5-2.4 8.3-3.3s5.6-1.7 8.4-2.1s5.5-.6 8.3-.4s5.5 .8 8.3 1.7"/>
<path stroke="#8c564b" d="M404.1 338.9c2.8 1.5 5.6 2.4 8.3 2.8s5.6 .3 8.4 0s5.5-.9 8.3-1.6s5.5-1.3 8.3-1.9s5.6-1.1 8.3-1.3s5.6-.4 8.4-.2s5.5 .7 8.3 1.5s5.5 1.7 8.3 2.9s5.6 2.7 8.3 4.3s5.6 3.4 8.4 5.2s5.5 3.8 8.3 5.7s5.5 3.8 8.3 5.6s5.6 3.4 8.3 4.7s5.6 2.5 8.4 3.2s5.5 1.2 8.3 1.5s5.5 .2 8.3 .3s5.6 .2 8.3 .5s5.6 .9 8.4 1.6s5.5 1.6 8.3 2.4s5.5 1.6 8.3 2s5.5 .2 8.3-.4s5.6-1.6 8.4-3s5.5-2.9 8.3-4.6s5.5-3.3 8.3-4.9s5.6-3.2 8.3-4.7s5.6-3 8.3-4.3s5.6-2.6 8.4-3.7s5.5-2.1 8.3-2.7s5.5-1.1 8.3-1s5.6 .6 8.4 1.7s5.5 2.9 8.3 5.5s5.5 5.9 8.3 9.9"/>
<path stroke="#e377c2" d="M404.1 337.9c2.8 1.8 5.6 2.9 8.3 3.4s5.6 .6 8.4 .5s5.5-.7 8.3-1.1s5.5-1.1 8.3-1.5s5.6-.6 8.3-.7s5.6 .3 8.4 .9s5.5 1.5 8.3 2.9s5.5 3.1 8.3 5.2s5.6 4.8 8.3 7.7s5.6 6.3 8.4 9.7s5.5 6.9 8.3 9.6s5.5 4.4 8.3 4.6s5.6-1.1 8.3-3.3s5.6-5.2 8.4-8.1s5.5-5.7 8.3-8s5.5-4.3 8.3-5.6s5.6-2 8.3-2s5.6 .6 8.4 2s5.5 3.6 8.3 6.6s5.5 6.8 8.3 10.9s5.5 8.3 8.3 11s5.6 3.8 8.4 2.6s5.5-4.7 8.3-8.6s5.5-8.4 8.3-12.5s5.6-7.9 8.3-11.5s5.6-7.1 8.3-10.8s5.6-7.7 8.4-12.1s5.5-9.3 8.3-14.3s5.5-10.1 8.3-13.4s5.6-4.7 8.4-3.4s5.5 5.1 8.3 9.5s5.5 9.4 8.3 13.9"/>
<path stroke="#7f7f7f" d="M404.1 338c2.8 1.7 5.6 2.7 8.3 3.2s5.6 .4 8.4 .2s5.5-.8 8.3-1.4s5.5-1.2 8.3-1.8s5.6-1.1 8.3-1.3s5.6-.3 8.4-.1s5.5 .8 8.3 1.5s5.5 1.9 8.3 3.1s5.6 2.8 8.3 4.5s5.6 3.5 8.4 5.4s5.5 4 8.3 6s5.5 4 8.3 5.9s5.6 3.5 8.3 4.9s5.6 2.3 8.4 2.9s5.5 .7 8.3 .7s5.5-.3 8.3-.5s5.6-.3 8.3-.1s5.6 .8 8.4 1.6s5.5 1.9 8.3 3s5.5 2.1 8.3 2.6s5.5 .7 8.3 .1s5.6-1.6 8.4-3.1s5.5-3.3 8.3-5.1s5.5-3.7 8.3-5.5s5.6-3.4 8.3-5s5.6-3.2 8.3-4.6s5.6-2.8 8.4-4.1s5.5-2.3 8.3-3.2s5.5-1.5 8.3-1.8s5.6-.2 8.4 .4s5.5 1.7 8.3 3.5s5.5 4.2 8.3 7.5"/>
<path stroke="#bcbd22" d="M404.1 337.2c2.8 1.7 5.6 2.7 8.3 3.1s5.6 .4 8.4 0s5.5-1 8.3-1.8s5.5-1.7 8.3-2.5s5.6-1.8 8.3-2.5s5.6-1.3 8.4-1.7s5.5-.8 8.3-1s5.5-.3 8.3-.5s5.6-.5 8.3-1s5.6-1.4 8.4-2.7s5.5-3.3 8.3-5.8s5.5-5.8 8.3-9.3s5.6-7.1 8.3-9.8s5.6-4 8.4-3.4s5.5 3 8.3 6.1s5.5 6.6 8.3 9.9s5.6 6.1 8.3 8.7s5.6 4.8 8.4 6.9s5.5 4.1 8.3 6.2s5.5 4.5 8.3 7s5.5 5.5 8.3 8.8s5.6 7.1 8.4 11.1s5.5 8.2 8.3 11.7s5.5 6.1 8.3 6.8s5.6-.6 8.3-3.1s5.6-6.3 8.3-9.9s5.6-7.3 8.4-10.4s5.5-6 8.3-8.4s5.5-4.4 8.3-6s5.6-3 8.4-3.9s5.5-1.6 8.3-1.8s5.5-.2 8.3 .2"/>
<path stroke="#17becf" d="M404.1 338.5c2.8 1.5 5.6 2.3 8.3 2.7s5.6 .2 8.4-.2s5.5-1.1 8.3-1.9s5.5-1.6 8.3-2.5s5.6-1.5 8.3-2.2s5.6-1 8.4-1.3s5.5-.4 8.3-.4s5.5 .1 8.3 .2s5.6 .2 8.3 .1s5.6-.5 8.4-1.3s5.5-2 8.3-4s5.5-4.6 8.3-7.9s5.6-7.5 8.3-11.6s5.6-7.9 8.4-9.8s5.5-1.7 8.3 .4s5.5 6.1 8.3 10.1s5.6 8 8.3 11.6s5.6 6.9 8.4 9.9s5.5 6 8.3 9.1s5.5 6.5 8.3 10.3s5.5 8.1 8.3 12.9s5.6 10.1 8.4 14.5s5.5 7.9 8.3 8.6s5.5-1.4 8.3-5.1s5.6-8.7 8.3-13.4s5.6-9.4 8.3-13.7s5.6-8.4 8.4-12.5s5.5-8.3 8.3-12.8s5.5-9.2 8.3-13.8s5.6-8.9 8.4-11.5s5.5-3.2 8.3-1.8s5.5 4.9 8.3 8.8"/>
<path stroke="#1f77b4" d="M404.1 337.8c2.8 1.9 5.6 2.9 8.3 3.5s5.6 .7 8.4 .5s5.5-.5 8.3-1s5.5-.9 8.3-1.3s5.6-.6 8.3-.6s5.6 .4 8.4 1.1s5.5 1.7 8.3 3.2s5.5 3.4 8.3 5.8s5.6 5.2 8.3 8.5s5.6 6.8 8.4 10.4s5.5 7.1 8.3 9.4s5.5 3.3 8.3 2.7s5.6-2.9 8.3-5.7s5.6-6.3 8.4-9.4s5.5-6.1 8.3-8.5s5.5-4.5 8.3-6s5.6-2.5 8.3-3s5.6-.4 8.4 .3s5.5 2.1 8.3 4.2s5.5 4.9 8.3 8.4s5.5 7.8 8.3 12.1s5.6 8.4 8.4 10.7s5.5 2.5 8.3 .6s5.5-5.7 8.3-9.9s5.6-8.7 8.3-12.9s5.6-8.1 8.3-11.9s5.6-7.5 8.4-11.5s5.5-8.1 8.3-12.6s5.5-9.4 8.3-13.8s5.6-8.2 8.4-10s5.5-1.2 8.3 1.2s5.5 6.4 8.3 10.5"/>
<path stroke="#ff7f0e" d="M404.1 337.5c2.8 1.7 5.6 2.7 8.3 3.2s5.6 .4 8.4 .1s5.5-.9 8.3-1.5s5.5-1.5 8.3-2.2s5.6-1.4 8.3-1.9s5.6-.8 8.4-.9s5.5 0 8.3 .2s5.5 .7 8.3 1.2s5.6 1 8.3 1.4s5.6 .7 8.4 .7s5.5-.3 8.3-1.1s5.5-2.1 8.3-4.1s5.6-4.7 8.3-8.2s5.6-7.8 8.4-12.3s5.5-9 8.3-11.9s5.5-3.8 8.3-2.2s5.6 5.4 8.3 9.8s5.6 9 8.4 13.4s5.5 8.4 8.3 12.3s5.5 7.8 8.3 12s5.5 8.6 8.3 13.6s5.6 10.5 8.4 15.4s5.5 9.3 8.3 11s5.5 .5 8.3-2.7s5.6-8.3 8.3-13.2s5.6-9.8 8.3-14.3s5.6-8.8 8.4-13s5.5-8.4 8.3-12.9s5.5-9.2 8.3-13.9s5.6-9 8.4-11.8s5.5-3.9 8.3-2.7s5.5 4.5 8.3 8.2"/>
<path stroke="#2ca02c" d="M404.1 338.3c2.8 1.6 5.6 2.4 8.3 2.8s5.6 .2 8.4-.1s5.5-1.1 8.3-1.9s5.5-1.6 8.3-2.4s5.6-1.5 8.3-2.1s5.6-1.1 8.4-1.3s5.5-.3 8.3-.3s5.5 .3 8.3 .4s5.6 .4 8.3 .3s5.6-.2 8.4-.9s5.5-1.8 8.3-3.5s5.5-4.3 8.3-7.5s5.6-7.2 8.3-11.4s5.6-8.4 8.4-11s5.5-3.2 8.3-1.6s5.5 5.3 8.3 9.3s5.6 8.4 8.3 12.2s5.6 7.3 8.4 10.6s5.5 6.4 8.3 9.7s5.5 6.7 8.3 10.7s5.5 8.6 8.3 13.5s5.6 10.4 8.4 14.7s5.5 7.6 8.3 7.8s5.5-2.4 8.3-6.4s5.6-9.1 8.3-14s5.6-9.5 8.3-13.8s5.6-8.5 8.4-12.8s5.5-8.8 8.3-13.5s5.5-9.8 8.3-14.4s5.6-8.8 8.4-10.7s5.5-1.4 8.3 1s5.5 6.6 8.3 10.9"/>
<path stroke="#d62728" d="M404.1 338.2c2.8 1.5 5.6 2.3 8.3 2.7s5.6 .1 8.4-.3s5.5-1.2 8.3-2s5.5-1.8 8.3-2.8s5.6-1.8 8.3-2.6s5.6-1.4 8.4-1.9s5.5-.9 8.3-1.2s5.5-.6 8.3-.9s5.6-.7 8.3-1.4s5.6-1.7 8.4-3.2s5.5-3.6 8.3-6.2s5.5-5.9 8.3-9.2s5.6-6.5 8.3-8.5s5.6-2.5 8.4-1.4s5.5 3.8 8.3 6.8s5.5 6.3 8.3 9.2s5.6 5.4 8.3 7.6s5.6 4.1 8.4 5.9s5.5 3.5 8.3 5.3s5.5 3.6 8.3 5.7s5.5 4.3 8.3 6.8s5.6 5.4 8.4 8.4s5.5 6.5 8.3 9.8s5.5 6.6 8.3 9.1s5.6 4.1 8.3 4.3s5.6-1 8.3-3s5.6-4.7 8.4-7.2s5.5-5 8.3-6.9s5.5-3.2 8.3-3.9s5.6-.7 8.4 .1s5.5 2.4 8.3 4.8s5.5 5.7 8.3 9.2"/>
<path stroke="#9467bd" d="M404.1 338c2.8 1.8 5.6 2.9 8.3 3.6s5.6 .7 8.4 .6s5.5-.4 8.3-.7s5.5-.8 8.3-1s5.6-.2 8.3 0s5.6 .9 8.4 2s5.5 2.5 8.3 4.6s5.5 4.6 8.3 7.8s5.6 7 8.3 11s5.6 8.3 8.4 11.6s5.5 5.4 8.3 5.4s5.5-2.1 8.3-5.4s5.6-7.3 8.3-11.2s5.6-7.8 8.4-11.3s5.5-6.7 8.3-9.7s5.5-5.9 8.3-8.7s5.6-5.6 8.3-8.4s5.6-5.6 8.4-8.2s5.5-5 8.3-6.9s5.5-3.1 8.3-3.7s5.5-.2 8.3 .5s5.6 1.8 8.4 2.9s5.5 1.9 8.3 2.4s5.5 .3 8.3-.3s5.6-1.8 8.3-3.4s5.6-3.5 8.3-5.1s5.6-2.9 8.4-3.2s5.5 .3 8.3 1.8s5.5 3.5 8.3 5.8s5.6 4.8 8.4 7.1s5.5 4.5 8.3 6.5s5.5 4 8.3 5.9"/>
<path stroke="#8c564b" d="M404.1 338.7c2.8 1.8 5.6 2.9 8.3 3.5s5.6 .9 8.4 .8s5.5-.2 8.3-.5s5.5-.4 8.3-.4s5.6 .2 8.3 .8s5.6 1.6 8.4 3.2s5.5 3.8 8.3 6.6s5.5 6.4 8.3 10.5s5.6 8.8 8.3 12.9s5.6 7.5 8.4 8.5s5.5-.3 8.3-3.3s5.5-7.5 8.3-11.9s5.6-8.9 8.3-12.9s5.6-7.9 8.4-11.8s5.5-7.6 8.3-11.7s5.5-8.6 8.3-13.1s5.6-9.2 8.3-12.9s5.6-6 8.4-6.2s5.5 1.8 8.3 5s5.5 7.3 8.3 11.3s5.5 7.6 8.3 10.9s5.6 6.1 8.4 8.6s5.5 4.5 8.3 6.4s5.5 3.3 8.3 4.5s5.6 2.2 8.3 3s5.6 1.3 8.3 1.8s5.6 .8 8.4 1.2s5.5 1 8.3 1.9s5.5 2 8.3 3.7s5.6 4 8.4 6.9s5.5 6.3 8.3 9.7s5.5 6.4 8.3 8.1"/>
<path stroke="#e377c2" d="M404.1 337.1c2.8 1.7 5.6 2.6 8.3 3s5.6 .3 8.4-.1s5.5-1.2 8.3-2.1s5.5-1.9 8.3-2.9s5.6-2 8.3-2.9s5.6-1.8 8.4-2.5s5.5-1.3 8.3-1.8s5.5-1.1 8.3-1.7s5.6-1.3 8.3-2.3s5.6-2.3 8.4-4.1s5.5-4 8.3-6.5s5.5-5.4 8.3-7.8s5.6-4.2 8.3-4.8s5.6 .2 8.4 1.8s5.5 4.1 8.3 6.6s5.5 4.9 8.3 6.9s5.6 3.8 8.3 5.3s5.6 2.8 8.4 4s5.5 2.2 8.3 3.3s5.5 2.1 8.3 3.1s5.5 2.1 8.3 3s5.6 1.7 8.4 2.3s5.5 .9 8.3 .9s5.5-.5 8.3-1.5s5.6-2.7 8.3-5s5.6-5.4 8.3-9.2s5.6-8.3 8.4-12.7s5.5-8.5 8.3-10.5s5.5-1.7 8.3 .8s5.6 6.8 8.4 11.3s5.5 9 8.3 13.2s5.5 8.2 8.3 12.1"/>
<path stroke="#7f7f7f" d="M404.1 337.2c2.8 1.6 5.6 2.4 8.3 2.8s5.6 0 8.4-.5s5.5-1.4 8.3-2.4s5.5-2.3 8.3-3.5s5.6-2.5 8.3-3.6s5.6-2.4 8.4-3.4s5.5-2 8.3-2.9s5.5-1.7 8.3-2.6s5.6-1.9 8.3-3s5.6-2.5 8.4-4s5.5-3.2 8.3-4.9s5.5-3.2 8.3-4.4s5.6-1.6 8.3-1.5s5.6 .9 8.4 2.1s5.5 2.8 8.3 4.3s5.5 3 8.3 4.4s5.6 2.5 8.3 3.6s5.6 2 8.4 3s5.5 1.8 8.3 2.7s5.5 1.8 8.3 2.5s5.5 1.4 8.3 1.9s5.6 .6 8.4 .3s5.5-.9 8.3-2.2s5.5-3.3 8.3-6s5.6-6 8.3-9.5s5.6-7.2 8.3-9.6s5.6-3.2 8.4-2.2s5.5 3.9 8.3 7.2s5.5 7.1 8.3 10.4s5.6 6.3 8.4 9s5.5 5.1 8.3 7.5s5.5 4.8 8.3 7.5"/>
<path stroke="#bcbd22" d="M404.1 337.1c2.8 1.6 5.6 2.5 8.3 2.8s5.6 .2 8.4-.3s5.5-1.3 8.3-2.3s5.5-2.1 8.3-3.2s5.6-2.3 8.3-3.4s5.6-2.1 8.4-3.1s5.5-1.7 8.3-2.5s5.5-1.6 8.3-2.4s5.6-1.8 8.3-2.9s5.6-2.6 8.4-4.2s5.5-3.7 8.3-5.6s5.5-4 8.3-5.5s5.6-2.2 8.3-2.2s5.6 1.1 8.4 2.5s5.5 3.3 8.3 5.1s5.5 3.5 8.3 4.9s5.6 2.8 8.3 3.9s5.6 2.2 8.4 3.1s5.5 1.8 8.3 2.6s5.5 1.7 8.3 2.4s5.5 1.4 8.3 1.8s5.6 .6 8.4 .4s5.5-.9 8.3-2.2s5.5-3.2 8.3-5.8s5.6-6 8.3-9.6s5.6-7.5 8.3-10.2s5.6-3.8 8.4-3s5.5 3.5 8.3 6.9s5.5 7.2 8.3 10.7s5.6 6.6 8.4 9.4s5.5 5.4 8.3 8s5.5 5 8.3 7.8"/>
<path stroke="#17becf" d="M404.1 337.2c2.8 1.7 5.6 2.6 8.3 3s5.6 .2 8.4-.2s5.5-1.2 8.3-2.1s5.5-2 8.3-3s5.6-2.1 8.3-3s5.6-1.8 8.4-2.5s5.5-1.4 8.3-2s5.5-1.1 8.3-1.7s5.6-1.4 8.3-2.5s5.6-2.3 8.4-4.1s5.5-4 8.3-6.5s5.5-5.2 8.3-7.4s5.6-4 8.3-4.4s5.6 .4 8.4 2s5.5 4.1 8.3 6.4s5.5 4.7 8.3 6.7s5.6 3.6 8.3 5s5.6 2.6 8.4 3.8s5.5 2.1 8.3 3.1s5.5 2 8.3 2.9s5.5 1.9 8.3 2.7s5.6 1.4 8.4 1.8s5.5 .4 8.3 0s5.5-1.3 8.3-2.8s5.6-3.8 8.3-6.8s5.6-6.9 8.3-11.1s5.6-9 8.4-12.5s5.5-5.5 8.3-4.9s5.5 3.7 8.3 7.7s5.6 8.6 8.4 12.9s5.5 8.4 8.3 12.2s5.5 7.5 8.3 11.3"/>
<path stroke="#1f77b4" d="M404.1 337.9c2.8 1.7 5.6 2.6 8.3 3s5.6 .4 8.4 .1s5.5-.9 8.3-1.6s5.5-1.4 8.3-2.1s5.6-1.4 8.3-1.9s5.6-.7 8.4-.8s5.5 .1 8.3 .4s5.5 .8 8.3 1.4s5.6 1.2 8.3 1.8s5.6 1 8.4 1.2s5.5 .2 8.3-.2s5.5-1.4 8.3-2.9s5.6-3.5 8.3-6.3s5.6-6.4 8.4-10.6s5.5-8.9 8.3-13s5.5-7.4 8.3-8.2s5.6 .8 8.3 4.1s5.6 7.9 8.4 12.4s5.5 8.9 8.3 13.1s5.5 8 8.3 11.9s5.5 8 8.3 12.4s5.6 9.2 8.4 14.1s5.5 9.9 8.3 13.5s5.5 5.5 8.3 4.8s5.6-3.9 8.3-7.9s5.6-8.8 8.3-13.2s5.6-8.4 8.4-12.2s5.5-7.2 8.3-10.5s5.5-6.7 8.3-10s5.6-6.6 8.4-9.8s5.5-6.4 8.3-8.9s5.5-4.2 8.3-4.8"/>
<path stroke="#ff7f0e" d="M404.1 337.8c2.8 1.5 5.6 2.3 8.3 2.5s5.6 0 8.4-.6s5.5-1.5 8.3-2.5s5.5-2.3 8.3-3.5s5.6-2.5 8.3-3.7s5.6-2.3 8.4-3.4s5.5-2 8.3-2.9s5.5-1.7 8.3-2.6s5.6-1.9 8.3-3s5.6-2.5 8.4-4s5.5-3.2 8.3-4.9s5.5-3.3 8.3-4.4s5.6-1.6 8.3-1.5s5.6 1 8.4 2.2s5.5 2.7 8.3 4.2s5.5 3 8.3 4.4s5.6 2.5 8.3 3.6s5.6 2 8.4 3s5.5 1.8 8.3 2.7s5.5 1.7 8.3 2.5s5.5 1.4 8.3 1.8s5.6 .6 8.4 .4s5.5-1 8.3-2.3s5.5-3.3 8.3-5.9s5.6-6 8.3-9.6s5.6-7.1 8.3-9.5s5.6-3.2 8.4-2.2s5.5 3.9 8.3 7.3s5.5 7 8.3 10.3s5.6 6.3 8.4 9s5.5 5.1 8.3 7.5s5.5 4.8 8.3 7.4"/>
<path stroke="#2ca02c" d="M404.1 337.7c2.8 1.8 5.6 2.8 8.3 3.3s5.6 .5 8.4 .2s5.5-.8 8.3-1.4s5.5-1.2 8.3-1.8s5.6-1.1 8.3-1.4s5.6-.4 8.4-.2s5.5 .6 8.3 1.2s5.5 1.7 8.3 2.8s5.6 2.4 8.3 3.9s5.6 3 8.4 4.5s5.5 3.3 8.3 4.8s5.5 3.2 8.3 4.7s5.6 2.8 8.3 4s5.6 2.4 8.4 3.4s5.5 2 8.3 2.9s5.5 1.7 8.3 2.6s5.6 1.8 8.3 2.7s5.6 1.8 8.4 2.5s5.5 1.3 8.3 1.6s5.5 .2 8.3-.2s5.5-1.1 8.3-2s5.6-2 8.4-3.1s5.5-2.4 8.3-3.6s5.5-2.4 8.3-3.6s5.6-2.4 8.3-3.6s5.6-2.3 8.3-3.3s5.6-2.1 8.4-2.8s5.5-1.3 8.3-1.5s5.5-.1 8.3 .7s5.6 2.1 8.4 4.1s5.5 4.9 8.3 8.2s5.5 7.4 8.3 11"/>
<path stroke="#d62728" d="M404.1 337.1c2.8 1.6 5.6 2.4 8.3 2.7s5.6 .1 8.4-.5s5.5-1.4 8.3-2.5s5.5-2.2 8.3-3.5s5.6-2.6 8.3-3.8s5.6-2.5 8.4-3.6s5.5-2.1 8.3-3s5.5-1.9 8.3-2.8s5.6-1.9 8.3-3s5.6-2.3 8.4-3.7s5.5-2.9 8.3-4.4s5.5-2.9 8.3-3.8s5.6-1.5 8.3-1.4s5.6 .8 8.4 1.9s5.5 2.4 8.3 3.8s5.5 2.8 8.3 4.1s5.6 2.4 8.3 3.5s5.6 2.1 8.4 3.1s5.5 1.9 8.3 2.9s5.5 1.8 8.3 2.6s5.5 1.5 8.3 2s5.6 .6 8.4 .4s5.5-.9 8.3-2.2s5.5-3.2 8.3-5.8s5.6-6 8.3-9.5s5.6-7.3 8.3-9.7s5.6-3.3 8.4-2.3s5.5 3.8 8.3 7.1s5.5 7 8.3 10.4s5.6 6.3 8.4 9.1s5.5 5.1 8.3 7.5s5.5 4.9 8.3 7.5"/>
<path stroke="#9467bd" d="M404.1 337c2.8 1.7 5.6 2.5 8.3 2.9s5.6 .1 8.4-.4s5.5-1.4 8.3-2.4s5.5-2.2 8.3-3.4s5.6-2.5 8.3-3.7s5.6-2.3 8.4-3.3s5.5-1.9 8.3-2.8s5.5-1.7 8.3-2.6s5.6-1.9 8.3-3s5.6-2.5 8.4-4s5.5-3.3 8.3-5s5.5-3.4 8.3-4.5s5.6-1.8 8.3-1.6s5.6 .9 8.4 2.2s5.5 2.8 8.3 4.3s5.5 3.1 8.3 4.5s5.6 2.5 8.3 3.6s5.6 2.1 8.4 3s5.5 1.8 8.3 2.7s5.5 1.7 8.3 2.5s5.5 1.4 8.3 1.8s5.6 .6 8.4 .4s5.5-1 8.3-2.3s5.5-3.3 8.3-5.9s5.6-6.1 8.3-9.6s5.6-7.2 8.3-9.6s5.6-3.2 8.4-2.2s5.5 3.9 8.3 7.2s5.5 7.1 8.3 10.4s5.6 6.3 8.4 9s5.5 5.1 8.3 7.6s5.5 4.8 8.3 7.4"/>
<path stroke="#8c564b" d="M404.1 337.1c2.8 1.5 5.6 2.3 8.3 2.6s5.6 0 8.4-.6s5.5-1.5 8.3-2.6s5.5-2.4 8.3-3.8s5.6-2.7 8.3-4s5.6-2.7 8.4-3.9s5.5-2.3 8.3-3.4s5.5-1.9 8.3-2.8s5.6-1.9 8.3-2.9s5.6-2 8.4-3.2s5.5-2.3 8.3-3.5s5.5-2.4 8.3-3.2s5.6-1.2 8.3-1.2s5.6 .5 8.4 1.3s5.5 2 8.3 3.2s5.5 2.4 8.3 3.7s5.6 2.4 8.3 3.5s5.6 2.3 8.4 3.3s5.5 2.2 8.3 3.2s5.5 2.1 8.3 2.9s5.5 1.7 8.3 2.3s5.6 .8 8.4 .6s5.5-.7 8.3-1.9s5.5-3 8.3-5.6s5.6-5.8 8.3-9.4s5.6-7.5 8.3-10.2s5.6-4 8.4-3.3s5.5 3.3 8.3 6.6s5.5 7.2 8.3 10.7s5.6 6.7 8.4 9.5s5.5 5.4 8.3 8s5.5 5.1 8.3 7.9"/>
<path stroke="#e377c2" d="M404.1 338.5c2.8 1.7 5.6 2.7 8.3 3.3s5.6 .6 8.4 .4s5.5-.5 8.3-.9s5.5-.9 8.3-1.1s5.6-.5 8.3-.3s5.6 .7 8.4 1.6s5.5 2.2 8.3 4s5.5 4.2 8.3 7s5.6 6.3 8.3 10.1s5.6 7.9 8.4 11.5s5.5 6.5 8.3 7.5s5.5 0 8.3-2.3s5.6-6.1 8.3-9.8s5.6-7.5 8.4-10.9s5.5-6.4 8.3-9.2s5.5-5.2 8.3-7.4s5.6-4.3 8.3-6.1s5.6-3.6 8.4-5.1s5.5-2.9 8.3-4.2s5.5-2.4 8.3-3.6s5.5-2.3 8.3-3.5s5.6-2.5 8.4-3.9s5.5-3.1 8.3-4.7s5.5-3.3 8.3-4.6s5.6-2.2 8.3-2.5s5.6 0 8.3 .8s5.6 2 8.4 3.3s5.5 2.7 8.3 4s5.5 2.4 8.3 3.4s5.6 2 8.4 2.9s5.5 1.8 8.3 2.7s5.5 1.7 8.3 2.5"/>
<path stroke="#7f7f7f" d="M404.1 337.7c2.8 1.7 5.6 2.7 8.3 3.1s5.6 .4 8.4 .1s5.5-.9 8.3-1.6s5.5-1.4 8.3-2.1s5.6-1.4 8.3-1.9s5.6-.7 8.4-.8s5.5 0 8.3 .3s5.5 .7 8.3 1.2s5.6 1.1 8.3 1.6s5.6 .9 8.4 1s5.5 0 8.3-.7s5.5-1.7 8.3-3.5s5.6-4.1 8.3-7.3s5.6-7.2 8.4-11.5s5.5-9.2 8.3-12.8s5.5-5.7 8.3-5.2s5.6 3.5 8.3 7.5s5.6 8.7 8.4 13.2s5.5 8.7 8.3 12.7s5.5 7.9 8.3 12s5.5 8.4 8.3 13.1s5.6 10 8.4 15s5.5 9.9 8.3 12.5s5.5 2.7 8.3 .4s5.6-6.7 8.3-11.4s5.6-9.6 8.3-14.1s5.6-8.6 8.4-12.6s5.5-7.9 8.3-11.9s5.5-8.2 8.3-12.4s5.6-8.6 8.4-12.1s5.5-6 8.3-6.8s5.5 .5 8.3 3"/>
<path stroke="#bcbd22" d="M404.1 339c2.8 1.7 5.6 2.7 8.3 3.2s5.6 .7 8.4 .6s5.5-.4 8.3-.7s5.5-.7 8.3-.8s5.6 0 8.3 .4s5.6 1.2 8.4 2.5s5.5 3.1 8.3 5.5s5.5 5.5 8.3 9.2s5.6 7.9 8.3 12.2s5.6 8.3 8.4 10.7s5.5 2.9 8.3 1.3s5.5-5.3 8.3-9.4s5.6-8.4 8.3-12.5s5.6-7.9 8.4-11.5s5.5-7.1 8.3-10.7s5.5-7.1 8.3-10.9s5.6-7.8 8.3-11.5s5.6-7.4 8.4-9.7s5.5-3.5 8.3-2.9s5.5 2.7 8.3 5.3s5.5 5.9 8.3 8.7s5.6 5.4 8.4 7.3s5.5 3.2 8.3 3.7s5.5 .5 8.3-.4s5.6-2.6 8.3-5.2s5.6-5.9 8.3-9.7s5.6-8 8.4-11s5.5-4.9 8.3-4.4s5.5 3.2 8.3 6.8s5.6 7.8 8.4 11.8s5.5 7.8 8.3 11.3s5.5 6.9 8.3 10.3"/>
<path stroke="#17becf" d="M404.1 339c2.8 1.7 5.6 2.8 8.3 3.4s5.6 .8 8.4 .8s5.5-.3 8.3-.5s5.5-.4 8.3-.4s5.6 .3 8.3 1s5.6 1.8 8.4 3.4s5.5 4 8.3 6.9s5.5 6.7 8.3 10.9s5.6 8.9 8.3 12.9s5.6 7.1 8.4 7.7s5.5-1.2 8.3-4.6s5.5-7.9 8.3-12.4s5.6-8.8 8.3-12.9s5.6-7.9 8.4-11.8s5.5-7.8 8.3-12.1s5.5-8.9 8.3-13.6s5.6-9.4 8.3-12.8s5.6-5.2 8.4-4.7s5.5 3.3 8.3 7s5.5 8 8.3 12.1s5.5 7.8 8.3 11.2s5.6 6.3 8.4 9s5.5 5.2 8.3 7.5s5.5 4.4 8.3 6.4s5.6 3.8 8.3 5.6s5.6 3.3 8.3 4.8s5.6 2.8 8.4 4s5.5 2.3 8.3 3.3s5.5 1.8 8.3 2.5s5.6 1.4 8.4 1.9s5.5 1 8.3 1.3s5.5 .4 8.3 .4"/>
</g>
<rect x="391.10" y="292.50" width="292.60" height="98.90" fill="none" stroke="#000" stroke-width=".75"/>
<path d="M404.10 391.40v3M437.40 391.40v3M470.70 391.40v3M504.00 391.40v3M537.30 391.40v3M570.60 391.40v3M603.90 391.40v3M637.20 391.40v3M670.50 391.40v3M391.10 312.40h-3M391.10 341.80h-3M391.10 371.20h-3" stroke="#000" stroke-width=".75" fill="none"/>
<text x="401.60" y="404.15" font-size="9px">0</text>
<text x="434.90" y="404.15" font-size="9px">2</text>
<text x="468.20" y="404.15" font-size="9px">4</text>
<text x="501.50" y="404.15" font-size="9px">6</text>
<text x="534.80" y="404.15" font-size="9px">8</text>
<text x="565.47 570.72" y="404.15" font-size="9px">10</text>
<text x="598.77 604.02" y="404.15" font-size="9px">12</text>
<text x="632.07 637.32" y="404.15" font-size="9px">14</text>
<text x="665.37 670.62" y="404.15" font-size="9px">16</text>
<text x="379.87" y="315.65" font-size="9px">1</text>
<text x="379.87" y="345.05" font-size="9px">0</text>
<path d="M373.71 371.50h5.16" stroke="#000" stroke-width="0.68" fill="none"/><text x="379.87" y="374.45" font-size="9px">1</text>
<g transform="translate(366.70 342.35) rotate(-90) translate(-14.87 0)"><text x="0.54" y="0" font-size="15px">x</text><path d="M14.44 -11.02H17.95V-10.00H15.75V0.90H17.95V1.91H14.44ZM19.56 -4.52H23.37V-3.28H19.56ZM28.49 -11.02H24.98V-10.00H27.19V0.90H24.98V1.91H28.49Z" fill="#000"/></g>
<path d="M404.10 411.30V510.20M437.40 411.30V510.20M470.70 411.30V510.20M504.00 411.30V510.20M537.30 411.30V510.20M570.60 411.30V510.20M603.90 411.30V510.20M637.20 411.30V510.20M670.50 411.30V510.20M391.10 417.60H683.70M391.10 439.05H683.70M391.10 460.50H683.70M391.10 481.95H683.70M391.10 503.40H683.70" stroke="#b0b0b0" stroke-width=".7" fill="none"/>
<g fill="none" stroke-width="1.36" stroke-linecap="square" stroke-linejoin="round">
<path stroke="#1f77b4" d="M404.1 475.6c2.8-4.6 5.6-8.3 8.3-11.3s5.6-5.4 8.4-7.2s5.5-2.9 8.3-3.6s5.5-1 8.3-.9s5.6 .6 8.3 1.3s5.6 1.5 8.4 2.3s5.5 1.6 8.3 2s5.5 .4 8.3 0s5.6-1.6 8.3-3.3s5.6-4.3 8.4-7.3s5.5-6.6 8.3-10s5.5-6.3 8.3-6.5s5.6 3 8.3 10.2s5.6 18.3 8.4 27.5s5.5 15.8 8.3 18.3s5.5 1.5 8.3-.2s5.6-4.3 8.3-6.1s5.6-3.1 8.4-3.7s5.5-.5 8.3 0s5.5 1.6 8.3 3s5.5 3.1 8.3 5s5.6 3.9 8.4 5.4s5.5 2.3 8.3 .8s5.5-5.8 8.3-12.9s5.6-17 8.3-25.2s5.6-14.3 8.3-17.1s5.6-2.4 8.4-.8s5.5 4.4 8.3 7.4s5.5 6.5 8.3 10.1s5.6 7.4 8.4 11.6s5.5 8.7 8.3 13.3s5.5 9.7 8.3 13.5"/>
<path stroke="#ff7f0e" d="M404.1 475.2c2.8-4.4 5.6-8 8.3-11s5.6-5.1 8.4-6.8s5.5-2.8 8.3-3.4s5.5-.7 8.3-.5s5.6 .9 8.3 1.8s5.6 1.8 8.4 2.9s5.5 1.9 8.3 2.6s5.5 1.1 8.3 1s5.6-.7 8.3-1.9s5.6-3.2 8.4-5.8s5.5-5.9 8.3-9.9s5.5-8.4 8.3-12.5s5.6-7.6 8.3-7.2s5.6 5.6 8.4 16.1s5.5 25.5 8.3 36.4s5.5 17.1 8.3 18.7s5.6-.4 8.3-2.4s5.6-4.1 8.4-5s5.5-.9 8.3 .3s5.5 3.3 8.3 6.2s5.5 6.4 8.3 8.4s5.6 2.1 8.4-4s5.5-19.7 8.3-34.9s5.5-30.1 8.3-37.7s5.6-9 8.3-8.3s5.6 2.9 8.3 4.2s5.6 1.7 8.4 1.1s5.5-2.2 8.3-3.6s5.5-2.5 8.3 0s5.6 9.7 8.4 21.1s5.5 26.5 8.3 37.3s5.5 16.6 8.3 18.3"/>
<path stroke="#2ca02c" d="M404.1 475.8c2.8-4.3 5.6-7.7 8.3-10.4s5.6-4.6 8.4-5.9s5.5-2.1 8.3-2.2s5.5 .4 8.3 1.4s5.6 2.5 8.3 4.4s5.6 4.3 8.4 7s5.5 5.7 8.3 8.9s5.5 6.8 8.3 10.1s5.6 6.5 8.3 7.2s5.6-1.2 8.4-8.1s5.5-19 8.3-30.7s5.5-21.8 8.3-26.9s5.6-5.9 8.3-5.1s5.6 2.7 8.4 4.3s5.5 2.8 8.3 3.5s5.5 .9 8.3 .8s5.6-.4 8.3-.3s5.6 .7 8.4 2.5s5.5 5.3 8.3 9.9s5.5 10.6 8.3 15.6s5.5 9.1 8.3 11s5.6 1.6 8.4 0s5.5-4.7 8.3-8.2s5.5-7.7 8.3-11.6s5.6-7.8 8.3-10.2s5.6-3.2 8.3-1.1s5.6 7.4 8.4 14s5.5 14.3 8.3 19.6s5.5 8.1 8.3 9s5.6 .1 8.4-.9s5.5-2.1 8.3-2.8s5.5-1.2 8.3-1.2"/>
<path stroke="#d62728" d="M404.1 475.8c2.8-4.4 5.6-8 8.3-10.8s5.6-5.1 8.4-6.6s5.5-2.5 8.3-2.9s5.5-.3 8.3 .3s5.6 1.5 8.3 2.8s5.6 2.8 8.4 4.5s5.5 3.4 8.3 5s5.5 3.4 8.3 4.9s5.6 2.9 8.3 4.1s5.6 2.4 8.4 3.2s5.5 1.2 8.3 1s5.5-1.1 8.3-3.1s5.6-5.2 8.3-8.9s5.6-7.8 8.4-11s5.5-5.4 8.3-6.1s5.5 .1 8.3 1.9s5.6 4.6 8.3 7.7s5.6 6.6 8.4 9.4s5.5 5.1 8.3 5.4s5.5-1.4 8.3-5.3s5.5-9.9 8.3-15.4s5.6-10.2 8.4-12.9s5.5-3.5 8.3-3.4s5.5 1.1 8.3 2s5.6 1.6 8.3 2.2s5.6 .8 8.3 .9s5.6 .2 8.4 .1s5.5-.2 8.3-.2s5.5 0 8.3 .1s5.6 .3 8.4 .7s5.5 .9 8.3 1.5s5.5 1.3 8.3 2.1"/>
<path stroke="#9467bd" d="M404.1 476c2.8-4.5 5.6-8.2 8.3-11.1s5.6-5.2 8.4-6.9s5.5-2.7 8.3-3.2s5.5-.6 8.3-.2s5.6 1.2 8.3 2.2s5.6 2.2 8.4 3.5s5.5 2.6 8.3 3.6s5.5 2 8.3 2.5s5.6 .7 8.3 .5s5.6-.9 8.4-2.1s5.5-2.6 8.3-4.6s5.5-4.3 8.3-7s5.6-5.7 8.3-9s5.6-6.8 8.4-10.4s5.5-7 8.3-8.7s5.5-1.2 8.3 4.1s5.6 16.2 8.3 28.1s5.6 23.9 8.4 30.5s5.5 8.7 8.3 8.5s5.5-2.1 8.3-3.6s5.5-2.9 8.3-3.5s5.6-.8 8.4-.5s5.5 .9 8.3 1s5.5-.2 8.3-2.3s5.6-6.2 8.3-12s5.6-13.2 8.3-19.3s5.6-10.6 8.4-12.5s5.5-1.5 8.3 .5s5.5 5.2 8.3 9.1s5.6 8.2 8.4 12.7s5.5 9.2 8.3 13s5.5 6.8 8.3 6.8"/>
<path stroke="#8c564b" d="M404.1 475.8c2.8-4.5 5.6-8.2 8.3-11.2s5.6-5.3 8.4-7s5.5-2.8 8.3-3.4s5.5-.7 8.3-.4s5.6 .9 8.3 1.7s5.6 2 8.4 3s5.5 2.1 8.3 2.8s5.5 1.2 8.3 1.2s5.6-.5 8.3-1.6s5.6-2.8 8.4-5.3s5.5-5.5 8.3-9.3s5.5-8.3 8.3-12.6s5.6-8.7 8.3-10s5.6 1.2 8.4 9.8s5.5 23.4 8.3 36.2s5.5 22 8.3 25.5s5.6 2.5 8.3 .7s5.6-4 8.4-5.2s5.5-1.3 8.3-.3s5.5 3.2 8.3 6s5.5 6.5 8.3 8.3s5.6 1.4 8.4-5.9s5.5-22.2 8.3-37.9s5.5-30.2 8.3-37s5.6-7.4 8.3-6.4s5.6 3.3 8.3 4.3s5.6 1.2 8.4 .2s5.5-2.9 8.3-4.3s5.5-1.9 8.3 2.3s5.6 14.3 8.4 27.8s5.5 29 8.3 38.5s5.5 13 8.3 13.4"/>
<path stroke="#e377c2" d="M404.1 474.5c2.8-4.1 5.6-7.4 8.3-10.1s5.6-4.6 8.4-6s5.5-2.1 8.3-2.4s5.5 .1 8.3 .9s5.6 2 8.3 3.5s5.6 3.5 8.4 5.5s5.5 4.4 8.3 6.8s5.5 4.8 8.3 7.3s5.6 5.1 8.3 7.2s5.6 3.9 8.4 3.7s5.5-2.5 8.3-8s5.5-14.3 8.3-22.9s5.6-16.5 8.3-20.9s5.6-5.5 8.4-4.9s5.5 2.9 8.3 5.5s5.5 5.7 8.3 8.9s5.6 6.7 8.3 10.4s5.6 7.8 8.4 12.1s5.5 9.1 8.3 13.7s5.5 9.1 8.3 11.2s5.5 1.2 8.3-5.5s5.6-19.9 8.4-32.9s5.5-24.2 8.3-29.6s5.5-5.7 8.3-4.8s5.6 2.9 8.3 3.9s5.6 1.2 8.3 .3s5.6-2.9 8.4-5.3s5.5-5.2 8.3-5.4s5.5 2.8 8.3 12.1s5.6 25.4 8.4 39.6s5.5 25 8.3 29.6s5.5 3.9 8.3 2.5"/>
<path stroke="#7f7f7f" d="M404.1 475.2c2.8-4.5 5.6-8.2 8.3-11.2s5.6-5.4 8.4-7.1s5.5-3.1 8.3-3.8s5.5-1 8.3-1s5.6 .5 8.3 1.1s5.6 1.4 8.4 2.1s5.5 1.3 8.3 1.6s5.5 .3 8.3-.3s5.6-1.8 8.3-3.6s5.6-4.3 8.4-7.1s5.5-6.2 8.3-8.6s5.5-4 8.3-2.3s5.6 6.8 8.3 14.5s5.6 17.3 8.4 24.1s5.5 10.5 8.3 11.3s5.5-.7 8.3-2.6s5.6-4 8.3-5.6s5.6-2.8 8.4-3.4s5.5-.7 8.3-.5s5.5 .5 8.3 .9s5.5 1 8.3 1.4s5.6 .9 8.4 1.2s5.5 .4 8.3 .4s5.5-.1 8.3-.5s5.6-.9 8.3-1.8s5.6-1.9 8.3-3.1s5.6-2.5 8.4-3.7s5.5-2.1 8.3-2.7s5.5-.7 8.3-.6s5.6 .6 8.4 1s5.5 .7 8.3 .5s5.5-1 8.3-2.3"/>
<path stroke="#bcbd22" d="M404.1 475.4c2.8-4.6 5.6-8.4 8.3-11.5s5.6-5.5 8.4-7.4s5.5-3.2 8.3-4s5.5-1.3 8.3-1.4s5.6 .2 8.3 .6s5.6 1.1 8.4 1.7s5.5 1.1 8.3 1.3s5.5 .1 8.3-.6s5.6-1.7 8.3-3.3s5.6-3.7 8.4-5.8s5.5-4 8.3-4.6s5.5 .3 8.3 3.6s5.6 9 8.3 15.1s5.6 11.9 8.4 15.4s5.5 4.7 8.3 4.5s5.5-1.7 8.3-3.2s5.6-3.1 8.3-4.2s5.6-1.9 8.4-2.4s5.5-.7 8.3-.9s5.5-.4 8.3-.8s5.5-1.1 8.3-2.3s5.6-2.7 8.4-4.9s5.5-4.9 8.3-8.3s5.5-7.5 8.3-11.8s5.6-9 8.3-12s5.6-4.3 8.3-.1s5.6 14.4 8.4 26.8s5.5 25.3 8.3 32.4s5.5 8.8 8.3 8.2s5.6-3.1 8.4-4.9s5.5-3.1 8.3-3.3s5.5 .8 8.3 2.6"/>
<path stroke="#17becf" d="M404.1 473.9c2.8-4.4 5.6-8 8.3-11s5.6-5.4 8.4-7.2s5.5-3.2 8.3-4.1s5.5-1.4 8.3-1.5s5.6 0 8.3 .3s5.6 .9 8.4 1.4s5.5 1.1 8.3 1.3s5.5 .2 8.3-.2s5.6-1.3 8.3-2.5s5.6-2.7 8.4-3.9s5.5-2.3 8.3-2s5.5 1.8 8.3 4.9s5.6 7.8 8.3 12.1s5.6 8.3 8.4 10.6s5.5 3 8.3 2.9s5.5-1.2 8.3-2.2s5.6-2 8.3-2.7s5.6-1.2 8.4-1.5s5.5-.4 8.3-.6s5.5-.5 8.3-1.1s5.5-1.5 8.3-2.9s5.6-3.3 8.4-5.8s5.5-5.6 8.3-9.2s5.5-7.8 8.3-11.7s5.6-7.4 8.3-8s5.6 2.3 8.3 9.9s5.6 19.8 8.4 30.1s5.5 17.6 8.3 20.5s5.5 1.9 8.3 .2s5.6-4.1 8.4-5.6s5.5-2.5 8.3-2.6s5.5 .7 8.3 2.1"/>
<path stroke="#1f77b4" d="M404.1 476.7c2.8-4.3 5.6-7.8 8.3-10.5s5.6-4.7 8.4-5.9s5.5-2 8.3-2s5.5 .7 8.3 1.9s5.6 2.9 8.3 5.1s5.6 5 8.4 8.1s5.5 6.8 8.3 10.6s5.5 7.9 8.3 11s5.6 5 8.3 2.3s5.6-10.8 8.4-22.8s5.5-26.9 8.3-36.6s5.5-14.3 8.3-15.3s5.6 .6 8.3 2.1s5.6 2.7 8.4 3s5.5-.2 8.3-1.3s5.5-2.9 8.3-3.6s5.6-.2 8.3 4.1s5.6 13.1 8.4 24s5.5 22.8 8.3 30.5s5.5 10.8 8.3 11.1s5.5-1.9 8.3-4.4s5.6-5.5 8.4-8.3s5.5-5.6 8.3-8.4s5.5-5.7 8.3-8.6s5.6-6 8.3-9.2s5.6-6.5 8.3-9.9s5.6-7 8.4-10.2s5.5-6.1 8.3-6.9s5.5 1.1 8.3 7.3s5.6 17.1 8.4 28s5.5 20.6 8.3 25.8s5.5 6.4 8.3 5.8"/>
<path stroke="#ff7f0e" d="M404.1 475.7c2.8-4.4 5.6-7.8 8.3-10.6s5.6-4.9 8.4-6.3s5.5-2.3 8.3-2.6s5.5 0 8.3 .8s5.6 1.9 8.3 3.4s5.6 3.4 8.4 5.5s5.5 4.3 8.3 6.6s5.5 4.8 8.3 7.3s5.6 5 8.3 7.1s5.6 3.9 8.4 3.8s5.5-2.2 8.3-7.5s5.5-13.8 8.3-22.3s5.6-16.5 8.3-21s5.6-5.9 8.4-5.4s5.5 2.7 8.3 5.3s5.5 5.7 8.3 9s5.6 6.8 8.3 10.6s5.6 7.9 8.4 12.4s5.5 9.2 8.3 13.8s5.5 8.9 8.3 10.5s5.5-.1 8.3-7.7s5.6-21.3 8.4-34s5.5-22.9 8.3-27.4s5.5-4.4 8.3-3.3s5.6 3.1 8.3 4s5.6 1 8.3-.1s5.6-3.2 8.4-5.6s5.5-5.4 8.3-5.4s5.5 3.5 8.3 13.3s5.6 26.2 8.4 40.3s5.5 24.3 8.3 28.5s5.5 3.3 8.3 1.8"/>
<path stroke="#2ca02c" d="M404.1 475.1c2.8-4.2 5.6-7.5 8.3-10.1s5.6-4.6 8.4-6s5.5-2 8.3-2.2s5.5 .3 8.3 1.2s5.6 2.4 8.3 4.2s5.6 3.9 8.4 6.4s5.5 5.2 8.3 8.1s5.5 6.2 8.3 9.3s5.6 6.3 8.3 7.9s5.6 1.7 8.4-2.4s5.5-12.9 8.3-23.6s5.5-22.3 8.3-29.6s5.6-10.3 8.3-10.8s5.6 1.3 8.4 3.1s5.5 3.8 8.3 5.5s5.5 2.9 8.3 4s5.6 2 8.3 2.8s5.6 1.6 8.4 2.3s5.5 1.4 8.3 2.1s5.5 1.2 8.3 1.7s5.5 .9 8.3 1.2s5.6 .5 8.4 .7s5.5 .4 8.3 .9s5.5 1.4 8.3 2.6s5.6 2.8 8.3 4.5s5.6 3.4 8.3 4.9s5.6 2.7 8.4 3.5s5.5 1.3 8.3 1.6s5.5 .5 8.3 .7s5.6 .3 8.4 .4s5.5 .3 8.3 .3s5.5-.1 8.3-.5"/>
<path stroke="#d62728" d="M404.1 475.1c2.8-4.1 5.6-7.3 8.3-9.9s5.6-4.4 8.4-5.7s5.5-1.8 8.3-1.8s5.5 .6 8.3 1.7s5.6 2.8 8.3 4.9s5.6 4.7 8.4 7.7s5.5 6.3 8.3 9.9s5.5 7.6 8.3 10.9s5.6 5.9 8.3 4.8s5.6-6.4 8.4-16.7s5.5-24.7 8.3-35.7s5.5-18 8.3-20.5s5.6-1.4 8.3 0s5.6 3.1 8.4 3.9s5.5 1.1 8.3 .7s5.5-1.6 8.3-2.4s5.6-1.4 8.3 .3s5.6 6 8.4 13.4s5.5 17.7 8.3 26.4s5.5 15.2 8.3 18.1s5.5 2.4 8.3 .6s5.6-5 8.4-8.4s5.5-7.3 8.3-11.3s5.5-8.4 8.3-12.9s5.6-9.5 8.3-14.2s5.6-9.3 8.3-11.6s5.6-2 8.4 4s5.5 17.8 8.3 30.2s5.5 23.5 8.3 29.2s5.6 6.4 8.4 5.7s5.5-2.8 8.3-4s5.5-1.6 8.3-1"/>
<path stroke="#9467bd" d="M404.1 474.5c2.8-4.3 5.6-7.7 8.3-10.5s5.6-5 8.4-6.5s5.5-2.6 8.3-3.1s5.5-.5 8.3-.1s5.6 1.2 8.3 2.2s5.6 2.2 8.4 3.5s5.5 2.5 8.3 3.5s5.5 1.8 8.3 2.3s5.6 .5 8.3 .1s5.6-1.2 8.4-2.6s5.5-3.2 8.3-5.5s5.5-5.1 8.3-8.3s5.6-6.9 8.3-10.8s5.6-8.3 8.4-11.7s5.5-6.1 8.3-4.3s5.5 8.8 8.3 20.5s5.6 27 8.3 37.7s5.6 16.1 8.4 17.7s5.5 0 8.3-1.4s5.5-2.8 8.3-3.1s5.5 .4 8.3 1.8s5.6 3.3 8.4 4.4s5.5 .8 8.3-3.9s5.5-14.5 8.3-26.7s5.6-25.4 8.3-33.5s5.6-11 8.3-11.1s5.6 2.1 8.4 4.4s5.5 4.8 8.3 6.8s5.5 3.7 8.3 5.2s5.6 2.8 8.4 4s5.5 2.2 8.3 3.2s5.5 1.6 8.3 2"/>
<path stroke="#8c564b" d="M404.1 475.3c2.8-4.1 5.6-7.4 8.3-10.1s5.6-4.5 8.4-5.8s5.5-1.9 8.3-1.9s5.5 .4 8.3 1.5s5.6 2.6 8.3 4.7s5.6 4.4 8.4 7.2s5.5 6 8.3 9.4s5.5 7.2 8.3 10.5s5.6 6.3 8.3 6.4s5.6-3.4 8.4-11.9s5.5-22 8.3-33.6s5.5-20.4 8.3-24.2s5.6-3.7 8.3-2.5s5.6 3 8.4 4.3s5.5 2 8.3 2.2s5.5-.3 8.3-.8s5.6-1.2 8.3-.7s5.6 2.1 8.4 6.2s5.5 10.8 8.3 18.2s5.5 14.9 8.3 19.8s5.5 7 8.3 6.9s5.6-2.3 8.4-5.4s5.5-7 8.3-11.2s5.5-9 8.3-13.7s5.6-9.4 8.3-13.1s5.6-6 8.3-4.8s5.6 6.7 8.4 15.4s5.5 19.8 8.3 27.9s5.5 12.6 8.3 14s5.6 .3 8.4-1.1s5.5-2.9 8.3-3.7s5.5-.9 8.3-.2"/>
<path stroke="#e377c2" d="M404.1 475.6c2.8-4.6 5.6-8.3 8.3-11.3s5.6-5.4 8.4-7.2s5.5-2.9 8.3-3.6s5.5-1 8.3-.9s5.6 .6 8.3 1.3s5.6 1.5 8.4 2.3s5.5 1.5 8.3 1.9s5.5 .4 8.3-.1s5.6-1.5 8.3-3.3s5.6-4.2 8.4-7.2s5.5-6.7 8.3-9.9s5.5-6.2 8.3-6.2s5.6 3.2 8.3 10.5s5.6 18.4 8.4 27.4s5.5 15.4 8.3 17.7s5.5 1.3 8.3-.5s5.6-4.2 8.3-6s5.6-3.1 8.4-3.7s5.5-.5 8.3 0s5.5 1.5 8.3 2.8s5.5 2.9 8.3 4.7s5.6 3.8 8.4 5.3s5.5 2.4 8.3 1.3s5.5-4.7 8.3-11.1s5.6-15.6 8.3-23.7s5.6-14.7 8.3-18s5.6-3.4 8.4-2.1s5.5 4 8.3 7.1s5.5 6.6 8.3 10.4s5.6 7.8 8.4 12.2s5.5 9.1 8.3 13.8s5.5 9.6 8.3 12.8"/>
<path stroke="#7f7f7f" d="M404.1 473.5c2.8-4.3 5.6-7.8 8.3-10.7s5.6-5.1 8.4-6.9s5.5-2.9 8.3-3.7s5.5-1.1 8.3-1.2s5.6 .3 8.3 .8s5.6 1.1 8.4 1.7s5.5 1.1 8.3 1.4s5.5 .1 8.3-.6s5.6-1.7 8.3-3.4s5.6-3.8 8.4-6s5.5-4.3 8.3-5.1s5.5 0 8.3 3.2s5.6 9.2 8.3 15.5s5.6 12.5 8.4 16.2s5.5 5.1 8.3 5s5.5-1.8 8.3-3.4s5.6-3.1 8.3-4.3s5.6-2 8.4-2.5s5.5-.8 8.3-.9s5.5-.4 8.3-.8s5.5-1 8.3-2.1s5.6-2.5 8.4-4.6s5.5-4.7 8.3-8s5.5-7.2 8.3-11.5s5.6-9.1 8.3-12.7s5.6-6 8.3-3.3s5.6 11.2 8.4 23.4s5.5 26.6 8.3 35.5s5.5 12.1 8.3 12.2s5.6-2.3 8.4-4.1s5.5-3.4 8.3-3.6s5.5 .5 8.3 2.3"/>
<path stroke="#bcbd22" d="M404.1 475.1c2.8-4.2 5.6-7.5 8.3-10.1s5.6-4.5 8.4-5.8s5.5-2 8.3-2.1s5.5 .4 8.3 1.3s5.6 2.5 8.3 4.4s5.6 4.2 8.4 6.8s5.5 5.6 8.3 8.8s5.5 6.6 8.3 9.9s5.6 6.4 8.3 7.5s5.6-.3 8.4-6.4s5.5-17.4 8.3-28.9s5.5-22.3 8.3-28s5.6-7.1 8.3-6.6s5.6 2.4 8.4 4.1s5.5 3.2 8.3 4.1s5.5 1.5 8.3 1.7s5.6 .2 8.3 .4s5.6 .4 8.4 1.6s5.5 3.2 8.3 6.3s5.5 7.4 8.3 11.6s5.5 8.2 8.3 10.7s5.6 3.5 8.4 3s5.5-2.5 8.3-5.1s5.5-6 8.3-9.2s5.6-6.3 8.3-8.1s5.6-2.2 8.3-.4s5.6 6.1 8.4 11.2s5.5 10.9 8.3 15s5.5 6.7 8.3 7.7s5.6 .7 8.4 .1s5.5-1.5 8.3-2.2s5.5-1.3 8.3-1.6"/>
<path stroke="#17becf" d="M404.1 475c2.8-4.2 5.6-7.6 8.3-10.3s5.6-4.8 8.4-6.2s5.5-2.3 8.3-2.6s5.5 0 8.3 .7s5.6 1.8 8.3 3.3s5.6 3.3 8.4 5.2s5.5 4.1 8.3 6.2s5.5 4.4 8.3 6.7s5.6 4.5 8.3 6.5s5.6 3.7 8.4 4.3s5.5-.3 8.3-3.8s5.5-9.7 8.3-17.1s5.6-15.6 8.3-21.2s5.6-8.5 8.4-9.1s5.5 1 8.3 3.4s5.5 5.6 8.3 9.1s5.6 7.5 8.3 11.8s5.6 8.9 8.4 13.6s5.5 9.7 8.3 13.3s5.5 5.9 8.3 3.5s5.5-9.9 8.3-20.8s5.6-24 8.4-32.4s5.5-12.1 8.3-12.8s5.5 1.3 8.3 2.8s5.6 2.9 8.3 3.3s5.6-.3 8.3-1.8s5.6-3.9 8.4-6.5s5.5-5.5 8.3-5.6s5.5 2.9 8.3 12s5.6 24.3 8.4 37.8s5.5 23.9 8.3 28.3s5.5 4 8.3 2.7"/>
<path stroke="#1f77b4" d="M404.1 476.5c2.8-4.3 5.6-7.7 8.3-10.4s5.6-4.7 8.4-6s5.5-2 8.3-2s5.5 .6 8.3 1.7s5.6 2.9 8.3 5.1s5.6 4.8 8.4 7.8s5.5 6.6 8.3 10.3s5.5 7.7 8.3 10.9s5.6 5.5 8.3 3.7s5.6-8.5 8.4-19.7s5.5-26 8.3-36.5s5.5-16.1 8.3-17.9s5.6-.3 8.3 1.1s5.6 3 8.4 3.6s5.5 .4 8.3-.4s5.5-2.2 8.3-3s5.6-1.1 8.3 1.8s5.6 9.3 8.4 18.6s5.5 20.9 8.3 29.4s5.5 13.4 8.3 14.9s5.5 0 8.3-2.4s5.6-5.5 8.4-8.7s5.5-6.7 8.3-10.2s5.5-7.2 8.3-11.1s5.6-8.2 8.3-12.6s5.6-9.1 8.3-13.2s5.6-7.7 8.4-7.5s5.5 4.6 8.3 14.5s5.5 24.8 8.3 36.4s5.6 19.2 8.4 22s5.5 1.7 8.3 .4s5.5-2.9 8.3-3.4"/>
<path stroke="#ff7f0e" d="M404.1 474c2.8-4.3 5.6-7.9 8.3-10.9s5.6-5.3 8.4-7.1s5.5-3.1 8.3-3.9s5.5-1.2 8.3-1.3s5.6 .2 8.3 .6s5.6 1.1 8.4 1.6s5.5 1.1 8.3 1.3s5.5 .1 8.3-.5s5.6-1.7 8.3-3.2s5.6-3.5 8.4-5.4s5.5-3.7 8.3-4.1s5.5 .7 8.3 4.1s5.6 9 8.3 14.7s5.6 11.1 8.4 14.3s5.5 4.2 8.3 4s5.5-1.7 8.3-3.1s5.6-2.9 8.3-4s5.6-1.7 8.4-2.1s5.5-.7 8.3-.9s5.5-.4 8.3-.9s5.5-1.3 8.3-2.5s5.6-2.9 8.4-5.2s5.5-5.2 8.3-8.7s5.5-7.7 8.3-11.9s5.6-8.7 8.3-11s5.6-2 8.3 3.6s5.6 17.3 8.4 29.3s5.5 23 8.3 28.4s5.5 5.8 8.3 4.6s5.6-3.7 8.4-5.4s5.5-2.8 8.3-2.9s5.5 .8 8.3 2.6"/>
<path stroke="#2ca02c" d="M404.1 474.6c2.8-4.3 5.6-7.7 8.3-10.5s5.6-5 8.4-6.5s5.5-2.5 8.3-3s5.5-.5 8.3 0s5.6 1.2 8.3 2.3s5.6 2.3 8.4 3.6s5.5 2.6 8.3 3.8s5.5 2.1 8.3 2.7s5.6 .9 8.3 .8s5.6-.7 8.4-1.6s5.5-2.2 8.3-3.8s5.5-3.6 8.3-5.8s5.6-4.6 8.3-7.2s5.6-5.2 8.4-8s5.5-5.6 8.3-8.1s5.5-4.7 8.3-4.8s5.6 2.1 8.3 8s5.6 15.5 8.4 25s5.5 18.1 8.3 22.8s5.5 5.8 8.3 5.2s5.5-2.8 8.3-5.1s5.6-5 8.4-7.5s5.5-5.2 8.3-8s5.5-5.6 8.3-8.6s5.6-6.4 8.3-9.9s5.6-7.2 8.3-11.1s5.6-7.8 8.4-10.9s5.5-5.1 8.3-3.2s5.5 8.5 8.3 19.1s5.6 24.4 8.4 34.3s5.5 15.4 8.3 17.2s5.5 .5 8.3-.9"/>
<path stroke="#d62728" d="M404.1 475.3c2.8-4.5 5.6-8.1 8.3-11.1s5.6-5.2 8.4-6.9s5.5-2.9 8.3-3.5s5.5-.8 8.3-.6s5.6 .8 8.3 1.5s5.6 1.8 8.4 2.7s5.5 1.8 8.3 2.4s5.5 .8 8.3 .5s5.6-1.1 8.3-2.6s5.6-3.7 8.4-6.6s5.5-6.5 8.3-10.5s5.5-8.3 8.3-11.1s5.6-3.8 8.3 .2s5.6 13.7 8.4 25.3s5.5 23.7 8.3 30.4s5.5 8.4 8.3 7.7s5.6-3.3 8.3-5.4s5.6-3.7 8.4-4.3s5.5-.4 8.3 .6s5.5 3.1 8.3 5.6s5.5 5.6 8.3 8.2s5.6 4.5 8.4 2.2s5.5-9.5 8.3-21.4s5.5-27.4 8.3-38.2s5.6-16.4 8.3-18s5.6 .1 8.3 1.7s5.6 3.4 8.4 4.3s5.5 1.1 8.3 .7s5.5-1.2 8.3-1.6s5.6-.1 8.4 2.5s5.5 8 8.3 15.6s5.5 17.1 8.3 24.4"/>
<path stroke="#9467bd" d="M404.1 475.8c2.8-4.5 5.6-8.1 8.3-11.1s5.6-5.2 8.4-6.9s5.5-2.7 8.3-3.2s5.5-.6 8.3-.3s5.6 1.1 8.3 2s5.6 2.2 8.4 3.4s5.5 2.4 8.3 3.3s5.5 1.7 8.3 2s5.6 .3 8.3-.3s5.6-1.6 8.4-3.3s5.5-3.8 8.3-6.5s5.5-6 8.3-9.8s5.6-8.2 8.3-12.5s5.6-8.7 8.4-10.5s5.5-.5 8.3 7.2s5.5 22.2 8.3 36s5.6 25.3 8.3 30.4s5.6 5.1 8.4 3.9s5.5-3.1 8.3-3.9s5.5-.7 8.3 .5s5.5 3.6 8.3 5.9s5.6 4.6 8.4 2.6s5.5-9 8.3-21.9s5.5-30.5 8.3-42.9s5.6-18.9 8.3-20.7s5.6 .2 8.3 2s5.6 3.5 8.4 4.2s5.5 .4 8.3-.3s5.5-2 8.3-1.9s5.6 1.5 8.4 6.8s5.5 14.8 8.3 25.3s5.5 21 8.3 27.2"/>
<path stroke="#8c564b" d="M404.1 475.5c2.8-4.4 5.6-7.9 8.3-10.7s5.6-5 8.4-6.6s5.5-2.4 8.3-2.8s5.5-.3 8.3 .2s5.6 1.6 8.3 2.8s5.6 2.8 8.4 4.4s5.5 3.3 8.3 5s5.5 3.1 8.3 4.6s5.6 2.7 8.3 3.8s5.6 2.1 8.4 2.8s5.5 1.1 8.3 1s5.5-.7 8.3-2.2s5.6-3.8 8.3-6.7s5.6-6.4 8.4-9.3s5.5-5.2 8.3-6.3s5.5-.9 8.3 .3s5.6 3.4 8.3 6s5.6 5.4 8.4 7.7s5.5 4.1 8.3 4.2s5.5-1.6 8.3-5s5.5-8.2 8.3-12.8s5.6-8.5 8.4-10.8s5.5-3.3 8.3-3.3s5.5 .6 8.3 1.2s5.6 1.4 8.3 2s5.6 .9 8.3 1.2s5.6 .6 8.4 1s5.5 .8 8.3 1.4s5.5 1.5 8.3 2.5s5.6 2.3 8.4 3.7s5.5 3.1 8.3 4.7s5.5 3.2 8.3 4.6"/>
<path stroke="#e377c2" d="M404.1 475.8c2.8-4.6 5.6-8.3 8.3-11.3s5.6-5.3 8.4-7s5.5-2.9 8.3-3.6s5.5-.8 8.3-.6s5.6 .8 8.3 1.6s5.6 1.8 8.4 2.7s5.5 1.9 8.3 2.5s5.5 .9 8.3 .6s5.6-.9 8.3-2.4s5.6-3.5 8.4-6.4s5.5-6.4 8.3-10.3s5.5-8.5 8.3-11.7s5.6-5.1 8.3-2.1s5.6 11.8 8.4 23.4s5.5 24.8 8.3 32.6s5.5 10.5 8.3 10.3s5.6-2.7 8.3-4.8s5.6-3.8 8.4-4.6s5.5-.4 8.3 .7s5.5 3.2 8.3 5.8s5.5 6 8.3 8.5s5.6 3.9 8.4 .4s5.5-12.9 8.3-26.1s5.5-29 8.3-38.9s5.6-13.9 8.3-14.5s5.6 1.4 8.3 3s5.6 3 8.4 3.4s5.5-.1 8.3-1s5.5-2.1 8.3-2.1s5.6 1.6 8.4 6.9s5.5 14.6 8.3 24.9s5.5 20.5 8.3 26.5"/>
<path stroke="#7f7f7f" d="M404.1 475.9c2.8-4.4 5.6-8 8.3-10.9s5.6-5 8.4-6.6s5.5-2.5 8.3-2.9s5.5-.3 8.3 .2s5.6 1.5 8.3 2.8s5.6 2.7 8.4 4.4s5.5 3.3 8.3 4.9s5.5 3.2 8.3 4.6s5.6 2.8 8.3 3.9s5.6 2.1 8.4 2.8s5.5 1.1 8.3 1s5.5-.7 8.3-2.2s5.6-4 8.3-7s5.6-6.5 8.4-9.4s5.5-5.3 8.3-6.3s5.5-.8 8.3 .4s5.6 3.5 8.3 6.2s5.6 5.5 8.4 7.9s5.5 4.2 8.3 4.3s5.5-1.6 8.3-5s5.5-8.4 8.3-13.1s5.6-8.7 8.4-11.1s5.5-3.2 8.3-3.3s5.5 .7 8.3 1.4s5.6 1.4 8.3 1.9s5.6 1 8.3 1.3s5.6 .5 8.4 .9s5.5 .7 8.3 1.2s5.5 1.3 8.3 2.2s5.6 2.1 8.4 3.4s5.5 2.7 8.3 4.1s5.5 2.8 8.3 3.9"/>
<path stroke="#bcbd22" d="M404.1 474.4c2.8-4.2 5.6-7.6 8.3-10.4s5.6-4.8 8.4-6.3s5.5-2.5 8.3-3s5.5-.3 8.3 .2s5.6 1.3 8.3 2.4s5.6 2.5 8.4 3.9s5.5 2.8 8.3 4.1s5.5 2.4 8.3 3.3s5.6 1.5 8.3 1.7s5.6 .3 8.4-.1s5.5-.9 8.3-1.7s5.5-1.8 8.3-2.7s5.6-1.9 8.3-2.6s5.6-1.1 8.4-1s5.5 .7 8.3 1.9s5.5 3.3 8.3 5.9s5.6 6.1 8.3 9.7s5.6 7.5 8.4 9.9s5.5 2.8 8.3-1.3s5.5-13.2 8.3-23.7s5.5-21.2 8.3-27.1s5.6-7.3 8.4-6.6s5.5 3.3 8.3 5.4s5.5 3.9 8.3 4.9s5.6 1.3 8.3 .9s5.6-1.5 8.3-3.1s5.6-3.6 8.4-5.9s5.5-4.9 8.3-6.6s5.5-2.4 8.3 .4s5.6 9.8 8.4 19.8s5.5 22.2 8.3 30.8s5.5 13.4 8.3 14.8"/>
<path stroke="#17becf" d="M404.1 475.3c2.8-4.5 5.6-8.2 8.3-11.2s5.6-5.4 8.4-7.2s5.5-3 8.3-3.8s5.5-1 8.3-.9s5.6 .4 8.3 1s5.6 1.4 8.4 2.1s5.5 1.4 8.3 1.7s5.5 .3 8.3-.3s5.6-1.8 8.3-3.6s5.6-4.3 8.4-7.2s5.5-6.1 8.3-8.6s5.5-4.1 8.3-2.6s5.6 6.7 8.3 14.3s5.6 17.5 8.4 24.4s5.5 10.8 8.3 11.7s5.5-.6 8.3-2.5s5.6-4.1 8.3-5.7s5.6-2.8 8.4-3.4s5.5-.7 8.3-.5s5.5 .6 8.3 1.1s5.5 1 8.3 1.6s5.6 1 8.4 1.4s5.5 .7 8.3 .8s5.5 .1 8.3-.3s5.6-1.1 8.3-2.2s5.6-2.7 8.3-4.5s5.6-3.8 8.4-5.5s5.5-3.1 8.3-3.8s5.5-.8 8.3-.2s5.6 1.7 8.4 2.9s5.5 2.5 8.3 3s5.5 .4 8.3-.8"/>
<path stroke="#1f77b4" d="M404.1 475.1c2.8-4.1 5.6-7.3 8.3-9.9s5.6-4.4 8.4-5.7s5.5-1.8 8.3-1.8s5.5 .6 8.3 1.7s5.6 2.8 8.3 4.9s5.6 4.7 8.4 7.6s5.5 6.4 8.3 10s5.5 7.5 8.3 10.8s5.6 5.9 8.3 4.9s5.6-6.3 8.4-16.4s5.5-24.7 8.3-35.8s5.5-18 8.3-20.6s5.6-1.5 8.3-.1s5.6 3.1 8.4 4s5.5 1.1 8.3 .7s5.5-1.5 8.3-2.3s5.6-1.4 8.3 .2s5.6 5.8 8.4 13s5.5 17.4 8.3 26.1s5.5 15.3 8.3 18.3s5.5 2.6 8.3 .9s5.6-4.9 8.4-8.4s5.5-7.3 8.3-11.3s5.5-8.5 8.3-13s5.6-9.6 8.3-14.2s5.6-9.3 8.3-11.4s5.6-1.4 8.4 4.8s5.5 18.5 8.3 30.7s5.5 23 8.3 28.3s5.6 5.8 8.4 5s5.5-2.9 8.3-4s5.5-1.6 8.3-1"/>
<path stroke="#ff7f0e" d="M404.1 475.7c2.8-4.5 5.6-8.2 8.3-11.1s5.6-5.3 8.4-7s5.5-2.8 8.3-3.4s5.5-.7 8.3-.4s5.6 1 8.3 1.8s5.6 2 8.4 3.1s5.5 2.1 8.3 2.8s5.5 1.3 8.3 1.3s5.6-.4 8.3-1.5s5.6-2.7 8.4-5s5.5-5.4 8.3-9.1s5.5-8.1 8.3-12.5s5.6-9 8.3-10.9s5.6-.6 8.4 7s5.5 21.8 8.3 35.2s5.5 23.9 8.3 28.5s5.6 4 8.3 2.4s5.6-3.9 8.4-5.1s5.5-1.6 8.3-.7s5.5 3.1 8.3 5.9s5.5 6.4 8.3 8.1s5.6 1.3 8.4-6.1s5.5-22.7 8.3-38.6s5.5-30.3 8.3-37.1s5.6-7.1 8.3-6s5.6 3.3 8.3 4.3s5.6 1 8.4 0s5.5-3.1 8.3-4.5s5.5-1.7 8.3 3s5.6 15.5 8.4 29.4s5.5 29.3 8.3 38.5s5.5 12.2 8.3 12.2"/>
<path stroke="#2ca02c" d="M404.1 473.7c2.8-4.2 5.6-7.7 8.3-10.5s5.6-5 8.4-6.6s5.5-2.8 8.3-3.4s5.5-.9 8.3-.7s5.6 .7 8.3 1.4s5.6 1.6 8.4 2.4s5.5 1.6 8.3 2s5.5 .5 8.3 0s5.6-1.5 8.3-3.2s5.6-4.2 8.4-7.2s5.5-6.7 8.3-10.1s5.5-6.6 8.3-7s5.6 2.3 8.3 9.3s5.6 18.3 8.4 27.8s5.5 16.6 8.3 19.4s5.5 1.9 8.3 .2s5.6-4.2 8.3-6.1s5.6-3.1 8.4-3.7s5.5-.5 8.3 .1s5.5 1.7 8.3 3.2s5.5 3.4 8.3 5.5s5.6 4.2 8.4 5.6s5.5 2 8.3-.4s5.5-8.1 8.3-16.5s5.6-19.1 8.3-27.1s5.6-13.2 8.3-15s5.6-.8 8.4 1.2s5.5 4.7 8.3 7.6s5.5 6 8.3 9.2s5.6 6.6 8.4 10.3s5.5 7.5 8.3 11.7s5.5 8.8 8.3 13.2"/>
<path stroke="#d62728" d="M404.1 474.5c2.8-4.5 5.6-8.2 8.3-11.2s5.6-5.4 8.4-7.2s5.5-3.1 8.3-4s5.5-1.3 8.3-1.4s5.6 .2 8.3 .6s5.6 1 8.4 1.5s5.5 1.1 8.3 1.3s5.5 .1 8.3-.5s5.6-1.6 8.3-3.1s5.6-3.4 8.4-5.2s5.5-3.4 8.3-3.6s5.5 1 8.3 4.3s5.6 8.8 8.3 14.3s5.6 10.6 8.4 13.6s5.5 3.9 8.3 3.7s5.5-1.7 8.3-3s5.6-2.7 8.3-3.7s5.6-1.7 8.4-2.1s5.5-.6 8.3-.8s5.5-.4 8.3-1s5.5-1.3 8.3-2.5s5.6-3.1 8.4-5.4s5.5-5.3 8.3-8.9s5.5-7.7 8.3-11.9s5.6-8.4 8.3-10.2s5.6-.8 8.3 5.5s5.6 18.4 8.4 30s5.5 21.5 8.3 26.1s5.5 4.5 8.3 3.1s5.6-3.9 8.4-5.6s5.5-2.7 8.3-2.7s5.5 .8 8.3 2.5"/>
<path stroke="#9467bd" d="M404.1 476.3c2.8-4.6 5.6-8.3 8.3-11.3s5.6-5.3 8.4-7s5.5-2.8 8.3-3.3s5.5-.6 8.3-.3s5.6 1.1 8.3 2s5.6 2.2 8.4 3.4s5.5 2.4 8.3 3.4s5.5 1.7 8.3 2.1s5.6 .3 8.3-.2s5.6-1.5 8.4-3.1s5.5-3.6 8.3-6.2s5.5-5.8 8.3-9.4s5.6-7.8 8.3-12.1s5.6-8.7 8.4-11.2s5.5-2.7 8.3 3.2s5.5 18.6 8.3 32.5s5.6 27.1 8.3 33.9s5.6 7.9 8.4 7.3s5.5-2.7 8.3-3.8s5.5-1.4 8.3-.6s5.5 2.8 8.3 5s5.6 4.6 8.4 3.8s5.5-5.6 8.3-16.5s5.5-27.5 8.3-40.8s5.6-22.1 8.3-25.3s5.6-2 8.3-.2s5.6 3.8 8.4 5s5.5 1.8 8.3 1.6s5.5-.8 8.3-1.1s5.6-.2 8.4 2.2s5.5 7.7 8.3 15.2s5.5 17 8.3 24.6"/>
<path stroke="#8c564b" d="M404.1 474.7c2.8-4.4 5.6-7.9 8.3-10.8s5.6-5.1 8.4-6.8s5.5-2.7 8.3-3.3s5.5-.7 8.3-.5s5.6 .9 8.3 1.7s5.6 1.8 8.4 2.8s5.5 1.9 8.3 2.5s5.5 1 8.3 .8s5.6-.9 8.3-2.2s5.6-3.4 8.4-6.2s5.5-6.3 8.3-10.2s5.5-8.6 8.3-12.1s5.6-6.1 8.3-4s5.6 9.6 8.4 21s5.5 25.5 8.3 34.5s5.5 12.7 8.3 13s5.6-2.1 8.3-4.2s5.6-3.9 8.4-4.7s5.5-.6 8.3 .6s5.5 3.3 8.3 6.1s5.5 6.2 8.3 8.4s5.6 3.3 8.4-1.2s5.5-15.8 8.3-30s5.5-29.7 8.3-38.6s5.6-11.8 8.3-11.8s5.6 2.2 8.3 3.7s5.6 2.5 8.4 2.5s5.5-1 8.3-2.2s5.5-2.6 8.3-1.8s5.6 4.2 8.4 12.1s5.5 20.2 8.3 31.4s5.5 20.3 8.3 24.5"/>
<path stroke="#e377c2" d="M404.1 476.4c2.8-4.4 5.6-8 8.3-10.8s5.6-5 8.4-6.5s5.5-2.4 8.3-2.6s5.5-.1 8.3 .7s5.6 2 8.3 3.5s5.6 3.5 8.4 5.6s5.5 4.4 8.3 6.8s5.5 5 8.3 7.6s5.6 5.2 8.3 7.3s5.6 3.8 8.4 3.4s5.5-3.3 8.3-9.5s5.5-15.6 8.3-24.4s5.6-16.3 8.3-20.3s5.6-4.6 8.4-3.7s5.5 3.3 8.3 5.9s5.5 5.5 8.3 8.6s5.6 6.3 8.3 9.8s5.6 7.2 8.4 11.3s5.5 8.5 8.3 13s5.5 9.2 8.3 12.4s5.5 4.6 8.3 .8s5.6-14 8.4-26.8s5.5-26.9 8.3-35.1s5.5-11 8.3-11.1s5.6 1.9 8.3 3.2s5.6 2 8.3 1.7s5.6-1.8 8.4-3.8s5.5-4.7 8.3-5.7s5.5 .3 8.3 7.3s5.6 20.6 8.4 34.8s5.5 27.1 8.3 33.6s5.5 7.5 8.3 6.6"/>
<path stroke="#7f7f7f" d="M404.1 473.9c2.8-4.3 5.6-7.9 8.3-10.8s5.6-5.2 8.4-6.9s5.5-3 8.3-3.8s5.5-1.1 8.3-1.1s5.6 .4 8.3 .9s5.6 1.2 8.4 1.8s5.5 1.2 8.3 1.4s5.5 .2 8.3-.5s5.6-1.8 8.3-3.5s5.6-4.1 8.4-6.5s5.5-4.9 8.3-6.1s5.5-1 8.3 2s5.6 8.9 8.3 15.8s5.6 13.9 8.4 18.4s5.5 6.2 8.3 6.2s5.5-1.7 8.3-3.4s5.6-3.5 8.3-4.8s5.6-2.2 8.4-2.8s5.5-.7 8.3-.9s5.5-.2 8.3-.5s5.5-.6 8.3-1.4s5.6-2 8.4-3.7s5.5-3.8 8.3-6.5s5.5-6.1 8.3-10s5.6-8.4 8.3-12.9s5.6-9.1 8.3-11.2s5.6-1 8.4 6.3s5.5 21.7 8.3 35.4s5.5 25.1 8.3 30.2s5.6 4.9 8.4 3.6s5.5-3.5 8.3-4.5s5.5-1.1 8.3 .1"/>
<path stroke="#bcbd22" d="M404.1 474.5c2.8-4.5 5.6-8.3 8.3-11.4s5.6-5.5 8.4-7.4s5.5-3.3 8.3-4.3s5.5-1.5 8.3-1.7s5.6-.2 8.3 .1s5.6 .8 8.4 1.3s5.5 1 8.3 1.3s5.5 .4 8.3 .1s5.6-.9 8.3-1.8s5.6-2 8.4-2.9s5.5-1.6 8.3-1.1s5.5 2 8.3 4.7s5.6 6.6 8.3 10.2s5.6 6.9 8.4 8.9s5.5 2.8 8.3 2.8s5.5-.7 8.3-1.4s5.6-1.4 8.3-2s5.6-.8 8.4-1s5.5-.3 8.3-.5s5.5-.5 8.3-1.1s5.5-1.6 8.3-3s5.6-3.4 8.4-5.9s5.5-5.7 8.3-9.3s5.5-7.9 8.3-11.7s5.6-7.3 8.3-7.8s5.6 2.5 8.3 10.2s5.6 19.7 8.4 29.7s5.5 17.3 8.3 20.1s5.5 1.8 8.3 .1s5.6-4 8.4-5.6s5.5-2.5 8.3-2.5s5.5 .6 8.3 2"/>
<path stroke="#17becf" d="M404.1 475.4c2.8-4.2 5.6-7.5 8.3-10.1s5.6-4.5 8.4-5.7s5.5-1.9 8.3-2s5.5 .6 8.3 1.7s5.6 2.7 8.3 4.8s5.6 4.7 8.4 7.6s5.5 6.2 8.3 9.7s5.5 7.5 8.3 10.8s5.6 6 8.3 5.4s5.6-5.5 8.4-15.2s5.5-24 8.3-35.2s5.5-18.8 8.3-21.7s5.6-2.1 8.3-.7s5.6 3 8.4 4.1s5.5 1.3 8.3 1.1s5.5-1.2 8.3-1.9s5.6-1.5 8.3-.3s5.6 4.6 8.4 11s5.5 15.6 8.3 24.2s5.5 15.6 8.3 19.2s5.5 3.9 8.3 2.5s5.6-4.4 8.4-7.9s5.5-7.4 8.3-11.6s5.5-8.7 8.3-13.4s5.6-9.7 8.3-14.2s5.6-8.6 8.3-9.7s5.6 1.5 8.4 9.3s5.5 20.5 8.3 31.7s5.5 19.7 8.3 23.3s5.6 3.2 8.4 2s5.5-3.1 8.3-4.1s5.5-1.2 8.3-.4"/>
<path stroke="#1f77b4" d="M404.1 474.4c2.8-4.5 5.6-8.2 8.3-11.3s5.6-5.5 8.4-7.4s5.5-3.3 8.3-4.3s5.5-1.5 8.3-1.7s5.6-.1 8.3 .2s5.6 .8 8.4 1.3s5.5 1 8.3 1.3s5.5 .4 8.3 .1s5.6-1 8.3-2s5.6-2.1 8.4-3.1s5.5-1.6 8.3-1.2s5.5 2 8.3 4.8s5.6 6.8 8.3 10.5s5.6 7.1 8.4 9.2s5.5 2.8 8.3 2.7s5.5-.7 8.3-1.5s5.6-1.5 8.3-2.1s5.6-.8 8.4-1.1s5.5-.3 8.3-.5s5.5-.4 8.3-1.1s5.5-1.5 8.3-3s5.6-3.3 8.4-5.9s5.5-5.6 8.3-9.3s5.5-7.8 8.3-11.6s5.6-7.3 8.3-7.8s5.6 2.6 8.3 10.2s5.6 19.8 8.4 29.8s5.5 17.2 8.3 20s5.5 1.7 8.3 0s5.6-4 8.4-5.5s5.5-2.5 8.3-2.6s5.5 .7 8.3 2"/>
<path stroke="#ff7f0e" d="M404.1 474.2c2.8-4.2 5.6-7.5 8.3-10.3s5.6-4.8 8.4-6.3s5.5-2.5 8.3-3s5.5-.3 8.3 .1s5.6 1.3 8.3 2.4s5.6 2.5 8.4 3.8s5.5 2.8 8.3 4s5.5 2.3 8.3 3.1s5.6 1.2 8.3 1.4s5.6-.1 8.4-.6s5.5-1.4 8.3-2.5s5.5-2.4 8.3-3.8s5.6-2.7 8.3-4s5.6-2.3 8.4-3s5.5-1.1 8.3-1.1s5.5 .5 8.3 1.4s5.6 2.3 8.3 4.1s5.6 4.1 8.4 6.7s5.5 5.6 8.3 9s5.5 7 8.3 10.7s5.5 7.6 8.3 9.8s5.6 2.4 8.4-2.3s5.5-15.2 8.3-27.6s5.5-25.2 8.3-32.7s5.6-10 8.3-10s5.6 1.8 8.3 3.3s5.6 2.5 8.4 2.9s5.5-.1 8.3-.8s5.5-2 8.3-2.3s5.6 .5 8.4 4.2s5.5 10.6 8.3 19.3s5.5 18.6 8.3 25.3"/>
<path stroke="#2ca02c" d="M404.1 474c2.8-4.3 5.6-7.7 8.3-10.4s5.6-5 8.4-6.5s5.5-2.7 8.3-3.2s5.5-.6 8.3-.3s5.6 1 8.3 1.9s5.6 2 8.4 3s5.5 2.1 8.3 2.9s5.5 1.3 8.3 1.3s5.6-.5 8.3-1.6s5.6-2.7 8.4-5.1s5.5-5.5 8.3-9.2s5.5-8.2 8.3-12.6s5.6-8.8 8.3-10.5s5.6 .2 8.4 8.2s5.5 22.6 8.3 35.7s5.5 23.1 8.3 27.3s5.6 3.3 8.3 1.6s5.6-3.9 8.4-5.2s5.5-1.4 8.3-.4s5.5 3.1 8.3 5.9s5.5 6.4 8.3 8.2s5.6 1.3 8.4-6.1s5.5-22.5 8.3-38.4s5.5-30.2 8.3-37s5.6-7.2 8.3-6.1s5.6 3.2 8.3 4.3s5.6 1.1 8.4 .1s5.5-3.1 8.3-4.5s5.5-1.8 8.3 2.8s5.6 15.1 8.4 28.8s5.5 29.2 8.3 38.5s5.5 12.5 8.3 12.6"/>
<path stroke="#d62728" d="M404.1 475.7c2.8-4.2 5.6-7.5 8.3-10.2s5.6-4.5 8.4-5.8s5.5-1.8 8.3-1.8s5.5 .5 8.3 1.7s5.6 2.8 8.3 5s5.6 4.7 8.4 7.7s5.5 6.4 8.3 10.1s5.5 7.6 8.3 10.8s5.6 5.8 8.3 4.5s5.6-7.3 8.4-18s5.5-25.3 8.3-36.1s5.5-17.2 8.3-19.4s5.6-.9 8.3 .5s5.6 3 8.4 3.8s5.5 .8 8.3 .2s5.5-1.8 8.3-2.7s5.6-1.3 8.3 .8s5.6 7.4 8.4 15.6s5.5 19.1 8.3 27.8s5.5 14.6 8.3 16.9s5.5 1.3 8.3-.7s5.6-5.3 8.4-8.7s5.5-7.1 8.3-10.9s5.5-7.9 8.3-12.3s5.6-9 8.3-13.7s5.6-9.6 8.3-12.9s5.6-4.7 8.4-.9s5.5 13.6 8.3 26s5.5 26 8.3 34s5.6 10.6 8.4 10.6s5.5-1.9 8.3-3.2s5.5-2.2 8.3-1.9"/>
<path stroke="#9467bd" d="M404.1 474.8c2.8-4.5 5.6-8.1 8.3-11.1s5.6-5.3 8.4-7.1s5.5-3 8.3-3.7s5.5-1.1 8.3-1.1s5.6 .5 8.3 1s5.6 1.3 8.4 2s5.5 1.3 8.3 1.6s5.5 .2 8.3-.5s5.6-1.8 8.3-3.6s5.6-4.2 8.4-7s5.5-5.7 8.3-7.7s5.5-2.8 8.3-.5s5.6 8 8.3 15.5s5.6 16.1 8.4 21.9s5.5 8.7 8.3 9.1s5.5-1.3 8.3-3.1s5.6-3.9 8.3-5.4s5.6-2.5 8.4-3.1s5.5-.8 8.3-.8s5.5 .2 8.3 .3s5.5 .2 8.3 .1s5.6-.5 8.4-1.1s5.5-1.4 8.3-2.5s5.5-2.5 8.3-4.1s5.6-3.2 8.3-4.9s5.6-3.4 8.3-4.9s5.6-2.9 8.4-4.1s5.5-2.2 8.3-2.9s5.5-1.2 8.3-1.5s5.6-.4 8.4-.2s5.5 .6 8.3 1.3s5.5 1.6 8.3 2.7"/>
<path stroke="#8c564b" d="M404.1 474.7c2.8-4.5 5.6-8.2 8.3-11.2s5.6-5.4 8.4-7.3s5.5-3.1 8.3-3.9s5.5-1.3 8.3-1.4s5.6 .2 8.3 .7s5.6 1 8.4 1.6s5.5 1 8.3 1.3s5.5 0 8.3-.6s5.6-1.7 8.3-3.2s5.6-3.6 8.4-5.6s5.5-3.8 8.3-4.3s5.5 .6 8.3 3.9s5.6 9 8.3 14.9s5.6 11.4 8.4 14.7s5.5 4.4 8.3 4.2s5.5-1.7 8.3-3.2s5.6-2.9 8.3-4s5.6-1.8 8.4-2.2s5.5-.7 8.3-.9s5.5-.4 8.3-.9s5.5-1.2 8.3-2.4s5.6-2.8 8.4-5.1s5.5-5.1 8.3-8.6s5.5-7.6 8.3-11.9s5.6-8.8 8.3-11.3s5.6-2.9 8.3 2.2s5.6 16.4 8.4 28.6s5.5 23.9 8.3 29.9s5.5 6.8 8.3 5.7s5.6-3.5 8.4-5.2s5.5-3 8.3-3.1s5.5 .9 8.3 2.7"/>
<path stroke="#e377c2" d="M404.1 475.1c2.8-4.3 5.6-7.7 8.3-10.5s5.6-4.8 8.4-6.3s5.5-2.4 8.3-2.7s5.5-.1 8.3 .5s5.6 1.7 8.3 3.1s5.6 3 8.4 4.8s5.5 3.6 8.3 5.5s5.5 3.8 8.3 5.7s5.6 3.6 8.3 5.2s5.6 3.2 8.4 4.1s5.5 1.2 8.3 .1s5.5-4 8.3-8.5s5.6-10.6 8.3-16.2s5.6-10.5 8.4-13.1s5.5-3.2 8.3-2.1s5.5 3.5 8.3 6.7s5.6 7.2 8.3 11.4s5.6 8.8 8.4 12.8s5.5 7.8 8.3 9.2s5.5 .2 8.3-4.8s5.5-13.7 8.3-22.3s5.6-16.2 8.4-20.2s5.5-4.9 8.3-4.3s5.5 2.1 8.3 3.4s5.6 2.3 8.3 2.6s5.6 .2 8.3-.6s5.6-2 8.4-3.7s5.5-3.6 8.3-5.4s5.5-3.1 8.3-2.4s5.6 4.1 8.4 10.9s5.5 17.2 8.3 26.6s5.5 17.1 8.3 21"/>
<path stroke="#7f7f7f" d="M404.1 476.2c2.8-4.3 5.6-7.8 8.3-10.5s5.6-4.7 8.4-6s5.5-2 8.3-2.1s5.5 .4 8.3 1.4s5.6 2.7 8.3 4.7s5.6 4.4 8.4 7.2s5.5 5.9 8.3 9.3s5.5 7.1 8.3 10.4s5.6 6.4 8.3 6.5s5.6-3.1 8.4-11.5s5.5-21.6 8.3-33.3s5.5-20.5 8.3-24.5s5.6-3.9 8.3-2.8s5.6 3 8.4 4.3s5.5 2.2 8.3 2.4s5.5-.1 8.3-.6s5.6-1.1 8.3-.8s5.6 1.9 8.4 5.8s5.5 10.1 8.3 17.2s5.5 14.7 8.3 19.6s5.5 7.5 8.3 7.5s5.6-1.9 8.4-4.9s5.5-6.8 8.3-11.1s5.5-8.9 8.3-13.5s5.6-9.4 8.3-12.9s5.6-5.7 8.3-4.2s5.6 7.1 8.4 15.6s5.5 19.4 8.3 27s5.5 12 8.3 13.3s5.6 .1 8.4-1.3s5.5-2.8 8.3-3.5s5.5-1 8.3-.4"/>
<path stroke="#bcbd22" d="M404.1 475.1c2.8-4.1 5.6-7.4 8.3-10.1s5.6-4.5 8.4-5.8s5.5-2 8.3-2.1s5.5 .3 8.3 1.3s5.6 2.5 8.3 4.4s5.6 4.1 8.4 6.7s5.5 5.6 8.3 8.7s5.5 6.6 8.3 9.9s5.6 6.4 8.3 7.5s5.6-.1 8.4-6s5.5-16.9 8.3-28.4s5.5-22.3 8.3-28.2s5.6-7.4 8.3-7s5.6 2.4 8.4 4.1s5.5 3.2 8.3 4.2s5.5 1.6 8.3 1.9s5.6 .4 8.3 .6s5.6 .5 8.4 1.5s5.5 2.8 8.3 5.5s5.5 6.6 8.3 10.5s5.5 7.8 8.3 10.3s5.6 3.8 8.4 3.6s5.5-1.8 8.3-4.2s5.5-5.4 8.3-8.4s5.6-5.8 8.3-7.4s5.6-2 8.3-.3s5.6 5.6 8.4 10.3s5.5 10 8.3 13.9s5.5 6.3 8.3 7.3s5.6 .9 8.4 .4s5.5-1.3 8.3-2s5.5-1.2 8.3-1.6"/>
<path stroke="#17becf" d="M404.1 475.7c2.8-4.6 5.6-8.3 8.3-11.4s5.6-5.3 8.4-7.1s5.5-3 8.3-3.7s5.5-.9 8.3-.8s5.6 .6 8.3 1.3s5.6 1.6 8.4 2.4s5.5 1.5 8.3 2s5.5 .5 8.3 0s5.6-1.5 8.3-3.2s5.6-4.2 8.4-7.2s5.5-6.7 8.3-10.2s5.5-6.6 8.3-7.1s5.6 2.2 8.3 9.3s5.6 18.2 8.4 27.7s5.5 16.7 8.3 19.6s5.5 2 8.3 .3s5.6-4.2 8.3-6.1s5.6-3.2 8.4-3.7s5.5-.5 8.3 .1s5.5 1.7 8.3 3.3s5.5 3.4 8.3 5.5s5.6 4.2 8.4 5.6s5.5 1.9 8.3-.6s5.5-8.4 8.3-17s5.6-19.3 8.3-27.3s5.6-13 8.3-14.7s5.6-.6 8.4 1.4s5.5 4.8 8.3 7.7s5.5 5.9 8.3 9s5.6 6.5 8.4 10.1s5.5 7.3 8.3 11.5s5.5 8.5 8.3 12.9"/>
<path stroke="#1f77b4" d="M404.1 474.8c2.8-4.5 5.6-8.1 8.3-11s5.6-5.3 8.4-7s5.5-2.9 8.3-3.7s5.5-.9 8.3-.8s5.6 .5 8.3 1.1s5.6 1.5 8.4 2.2s5.5 1.5 8.3 1.8s5.5 .4 8.3-.2s5.6-1.7 8.3-3.5s5.6-4.3 8.4-7.3s5.5-6.4 8.3-9.2s5.5-4.9 8.3-3.9s5.6 5.5 8.3 13.2s5.6 18 8.4 25.7s5.5 12.4 8.3 13.8s5.5-.1 8.3-1.9s5.6-4.2 8.3-5.9s5.6-2.9 8.4-3.5s5.5-.6 8.3-.4s5.5 1 8.3 1.7s5.5 1.8 8.3 2.8s5.6 2.1 8.4 3.1s5.5 1.9 8.3 2.3s5.5 .2 8.3-1.3s5.6-4.4 8.3-8.6s5.6-9.6 8.3-14.3s5.6-8.8 8.4-10.8s5.5-2.1 8.3-.9s5.5 4 8.3 7.3s5.6 7.2 8.4 11.1s5.5 8 8.3 10.8s5.5 4.4 8.3 3.2"/>
<path stroke="#ff7f0e" d="M404.1 476c2.8-4.3 5.6-7.8 8.3-10.5s5.6-4.8 8.4-6.2s5.5-2.2 8.3-2.4s5.5 .2 8.3 1.1s5.6 2.3 8.3 4s5.6 3.9 8.4 6.3s5.5 5.1 8.3 8s5.5 6 8.3 9.1s5.6 6.1 8.3 7.9s5.6 2.2 8.4-1.4s5.5-11.5 8.3-21.8s5.5-22 8.3-29.7s5.6-11.4 8.3-12.2s5.6 .8 8.4 2.6s5.5 4 8.3 5.8s5.5 3.3 8.3 4.7s5.6 2.6 8.3 3.7s5.6 2.2 8.4 3.1s5.5 1.8 8.3 2.5s5.5 1 8.3 1.1s5.5-.4 8.3-1.2s5.6-2.1 8.4-3.5s5.5-2.8 8.3-3.4s5.5-.5 8.3 1.5s5.6 5.7 8.3 10.2s5.6 9.6 8.3 13.3s5.6 5.8 8.4 6.5s5.5 0 8.3-1.1s5.5-2.3 8.3-3.3s5.6-1.8 8.4-2.3s5.5-.7 8.3-.8s5.5-.2 8.3-.5"/>
<path stroke="#2ca02c" d="M404.1 476.4c2.8-4.5 5.6-8 8.3-10.8s5.6-4.9 8.4-6.3s5.5-2.3 8.3-2.5s5.5 .1 8.3 .9s5.6 2.2 8.3 3.9s5.6 3.7 8.4 6s5.5 4.9 8.3 7.6s5.5 5.7 8.3 8.6s5.6 5.9 8.3 7.9s5.6 3 8.4 .6s5.5-8.5 8.3-17.6s5.5-20.7 8.3-29.1s5.6-13.5 8.3-15.3s5.6-.6 8.4 1.1s5.5 4.1 8.3 6.2s5.5 4.3 8.3 6.3s5.6 3.9 8.3 5.8s5.6 3.9 8.4 5.8s5.5 3.9 8.3 5.7s5.5 3.4 8.3 4.7s5.5 2.5 8.3 3.3s5.6 1.3 8.4 1.4s5.5 0 8.3-.4s5.5-1.1 8.3-1.9s5.6-1.7 8.3-2.4s5.6-1.4 8.3-1.7s5.6-.1 8.4 .7s5.5 2.1 8.3 4.1s5.5 4.6 8.3 7.6s5.6 6.2 8.4 8.3s5.5 3 8.3 .4s5.5-9.1 8.3-17.3"/>
<path stroke="#d62728" d="M404.1 474.1c2.8-4.1 5.6-7.5 8.3-10.2s5.6-4.8 8.4-6.3s5.5-2.4 8.3-2.8s5.5-.3 8.3 .3s5.6 1.4 8.3 2.6s5.6 2.6 8.4 4s5.5 3 8.3 4.5s5.5 2.6 8.3 3.7s5.6 1.9 8.3 2.4s5.6 .9 8.4 1s5.5 0 8.3-.3s5.5-.8 8.3-1.3s5.6-1.2 8.3-1.6s5.6-.8 8.4-.9s5.5 .2 8.3 .7s5.5 1.2 8.3 1.8s5.6 1.2 8.3 1s5.6-1.1 8.4-3.1s5.5-4.8 8.3-7.9s5.5-6 8.3-8.2s5.5-3.4 8.3-3.9s5.6-.3 8.4 0s5.5 .9 8.3 1.3s5.5 .7 8.3 .8s5.6 .2 8.3 .3s5.6 .3 8.3 .8s5.6 1.2 8.4 2.5s5.5 2.8 8.3 5.1s5.5 5 8.3 8.4s5.6 7.3 8.4 11.3s5.5 8.1 8.3 10s5.5 1.6 8.3-3.6"/>
<path stroke="#9467bd" d="M404.1 474.3c2.8-4.4 5.6-8 8.3-10.9s5.6-5.3 8.4-7s5.5-3 8.3-3.8s5.5-1.1 8.3-1.1s5.6 .4 8.3 1s5.6 1.2 8.4 1.8s5.5 1.3 8.3 1.5s5.5 .2 8.3-.5s5.6-1.8 8.3-3.6s5.6-4.1 8.4-6.7s5.5-5.2 8.3-6.8s5.5-1.7 8.3 1.1s5.6 8.7 8.3 15.8s5.6 14.9 8.4 19.9s5.5 7.1 8.3 7.2s5.5-1.6 8.3-3.4s5.6-3.6 8.3-5s5.6-2.4 8.4-2.9s5.5-.8 8.3-.9s5.5-.1 8.3-.2s5.5-.4 8.3-1s5.6-1.4 8.4-2.7s5.5-3.1 8.3-5.3s5.5-4.8 8.3-8s5.6-6.8 8.3-10.9s5.6-8.6 8.3-12.6s5.6-7.7 8.4-7.6s5.5 4.9 8.3 15.3s5.5 26.4 8.3 38.7s5.6 19.9 8.4 22.6s5.5 1.5 8.3 .1s5.5-3 8.3-3.4"/>
<path stroke="#8c564b" d="M404.1 474.1c2.8-4.3 5.6-7.8 8.3-10.6s5.6-5.1 8.4-6.7s5.5-2.8 8.3-3.4s5.5-.8 8.3-.6s5.6 .7 8.3 1.4s5.6 1.7 8.4 2.5s5.5 1.7 8.3 2.2s5.5 .6 8.3 .2s5.6-1.3 8.3-3s5.6-4 8.4-7s5.5-6.8 8.3-10.5s5.5-7.4 8.3-8.8s5.6-.1 8.3 6s5.6 17.3 8.4 27.9s5.5 19.6 8.3 23.6s5.5 4 8.3 2.5s5.6-4.1 8.3-6s5.6-3.4 8.4-4s5.5-.4 8.3 .4s5.5 2.3 8.3 4.3s5.5 4.4 8.3 6.9s5.6 4.9 8.4 5.5s5.5-1.1 8.3-7.3s5.5-17.4 8.3-28.8s5.6-21.9 8.3-27.6s5.6-6.9 8.3-6.3s5.6 2.9 8.4 5s5.5 4.2 8.3 5.9s5.5 3.2 8.3 4.5s5.6 2.4 8.4 3.4s5.5 2.1 8.3 2.9s5.5 1.5 8.3 2"/>
<path stroke="#e377c2" d="M404.1 476c2.8-4.6 5.6-8.4 8.3-11.4s5.6-5.3 8.4-7.1s5.5-2.9 8.3-3.6s5.5-.8 8.3-.6s5.6 .8 8.3 1.6s5.6 1.7 8.4 2.6s5.5 1.9 8.3 2.4s5.5 .9 8.3 .7s5.6-1.1 8.3-2.5s5.6-3.7 8.4-6.5s5.5-6.5 8.3-10.5s5.5-8.4 8.3-11.4s5.6-4.5 8.3-1s5.6 12.6 8.4 24.3s5.5 24.3 8.3 31.6s5.5 9.5 8.3 9.1s5.6-3.1 8.3-5.1s5.6-3.8 8.4-4.5s5.5-.4 8.3 .7s5.5 3.1 8.3 5.7s5.5 5.8 8.3 8.3s5.6 4.2 8.4 1.3s5.5-11.3 8.3-24s5.5-28.4 8.3-38.7s5.6-15 8.3-16.1s5.6 .9 8.3 2.6s5.6 3.1 8.4 3.7s5.5 .5 8.3-.2s5.5-1.8 8.3-2s5.6 .6 8.4 4.6s5.5 11.6 8.3 20.9s5.5 19.5 8.3 26.2"/>
<path stroke="#7f7f7f" d="M404.1 476.4c2.8-4.6 5.6-8.2 8.3-11.1s5.6-5 8.4-6.6s5.5-2.5 8.3-2.9s5.5-.2 8.3 .4s5.6 1.6 8.3 3s5.6 3 8.4 4.7s5.5 3.7 8.3 5.5s5.5 3.8 8.3 5.6s5.6 3.5 8.3 5.1s5.6 3.1 8.4 4s5.5 1.3 8.3 .3s5.5-3.6 8.3-7.9s5.6-10.1 8.3-15.6s5.6-10.4 8.4-13.2s5.5-3.5 8.3-2.6s5.5 3.3 8.3 6.5s5.6 7 8.3 11.2s5.6 8.6 8.4 12.6s5.5 7.5 8.3 8.8s5.5-.1 8.3-5s5.5-13.6 8.3-21.9s5.6-15.6 8.4-19.5s5.5-4.6 8.3-4.1s5.5 2.1 8.3 3.4s5.6 2.2 8.3 2.6s5.6 .2 8.3-.5s5.6-1.8 8.4-3.3s5.5-3.4 8.3-5.1s5.5-3.1 8.3-2.8s5.6 2.7 8.4 8.4s5.5 15 8.3 24.1s5.5 17.4 8.3 22"/>
<path stroke="#bcbd22" d="M404.1 475.1c2.8-4.5 5.6-8.2 8.3-11.2s5.6-5.3 8.4-7.1s5.5-3 8.3-3.8s5.5-1 8.3-.9s5.6 .4 8.3 1s5.6 1.4 8.4 2.1s5.5 1.3 8.3 1.6s5.5 .3 8.3-.3s5.6-1.8 8.3-3.6s5.6-4.3 8.4-7.1s5.5-6.1 8.3-8.5s5.5-3.7 8.3-2s5.6 7 8.3 14.7s5.6 17.1 8.4 23.8s5.5 10.2 8.3 10.9s5.5-.8 8.3-2.7s5.6-4 8.3-5.6s5.6-2.7 8.4-3.3s5.5-.7 8.3-.6s5.5 .5 8.3 .8s5.5 .9 8.3 1.2s5.6 .7 8.4 .8s5.5 .1 8.3 0s5.5-.4 8.3-.8s5.6-1 8.3-1.7s5.6-1.3 8.3-1.9s5.6-1.2 8.4-1.5s5.5-.6 8.3-.7s5.5 .1 8.3 .1s5.6-.1 8.4-.7s5.5-1.5 8.3-3s5.5-3.4 8.3-5.3"/>
<path stroke="#17becf" d="M404.1 475.1c2.8-4.1 5.6-7.3 8.3-9.9s5.6-4.5 8.4-5.7s5.5-1.9 8.3-1.9s5.5 .6 8.3 1.7s5.6 2.8 8.3 4.9s5.6 4.6 8.4 7.5s5.5 6.3 8.3 9.8s5.5 7.5 8.3 10.8s5.6 6 8.3 5.3s5.6-5.7 8.4-15.5s5.5-24.1 8.3-35.3s5.5-18.6 8.3-21.5s5.6-1.9 8.3-.6s5.6 3.1 8.4 4.1s5.5 1.3 8.3 1s5.5-1.2 8.3-2s5.6-1.4 8.3-.1s5.6 4.8 8.4 11.4s5.5 16.1 8.3 24.6s5.5 15.6 8.3 19.1s5.5 3.6 8.3 2.1s5.6-4.5 8.4-8s5.5-7.4 8.3-11.5s5.5-8.7 8.3-13.4s5.6-9.7 8.3-14.3s5.6-8.7 8.3-10s5.6 .9 8.4 8.3s5.5 20.3 8.3 31.7s5.5 20.4 8.3 24.4s5.6 3.6 8.4 2.5s5.5-3 8.3-4.1s5.5-1.2 8.3-.5"/>
<path stroke="#1f77b4" d="M404.1 474.2c2.8-4.2 5.6-7.6 8.3-10.4s5.6-4.8 8.4-6.3s5.5-2.5 8.3-3s5.5-.4 8.3 0s5.6 1.3 8.3 2.3s5.6 2.4 8.4 3.7s5.5 2.7 8.3 3.8s5.5 2.1 8.3 2.7s5.6 .9 8.3 .8s5.6-.6 8.4-1.5s5.5-2.1 8.3-3.8s5.5-3.5 8.3-5.6s5.6-4.5 8.3-7s5.6-5.1 8.4-7.8s5.5-5.5 8.3-7.9s5.5-4.7 8.3-5.1s5.6 1.3 8.3 6.4s5.6 14 8.4 23.2s5.5 18.1 8.3 23.3s5.5 7 8.3 6.7s5.5-2.3 8.3-4.7s5.6-5.1 8.4-7.9s5.5-5.6 8.3-8.7s5.5-6.3 8.3-9.8s5.6-7.4 8.3-11.5s5.6-8.5 8.3-12.7s5.6-8.2 8.4-9.6s5.5 .3 8.3 7.7s5.5 21 8.3 33.8s5.6 23.4 8.4 28.4s5.5 5.3 8.3 4.4s5.5-2.7 8.3-3.7"/>
<path stroke="#ff7f0e" d="M404.1 475.9c2.8-4.5 5.6-8.1 8.3-11s5.6-5.1 8.4-6.7s5.5-2.6 8.3-3.1s5.5-.4 8.3 .1s5.6 1.3 8.3 2.4s5.6 2.6 8.4 4s5.5 2.9 8.3 4.3s5.5 2.6 8.3 3.5s5.6 1.7 8.3 2.2s5.6 .7 8.4 .6s5.5-.4 8.3-.8s5.5-1.1 8.3-1.7s5.6-1.3 8.3-1.7s5.6-.5 8.4-.2s5.5 1 8.3 2.1s5.5 2.8 8.3 4.4s5.6 3.2 8.3 3.8s5.6 .1 8.4-2.4s5.5-6.9 8.3-11.8s5.5-10.3 8.3-13.8s5.5-5.2 8.3-5.5s5.6 .7 8.4 1.8s5.5 2.5 8.3 3.6s5.5 1.7 8.3 2.2s5.6 .7 8.3 .9s5.6 .3 8.3 .8s5.6 1 8.4 2.1s5.5 2.6 8.3 4.7s5.5 4.9 8.3 8.2s5.6 7.3 8.4 11.3s5.5 8.3 8.3 10.6s5.5 2.4 8.3-2.5"/>
<path stroke="#2ca02c" d="M404.1 476.5c2.8-4.5 5.6-8 8.3-10.8s5.6-4.8 8.4-6.3s5.5-2.1 8.3-2.3s5.5 .2 8.3 1.1s5.6 2.2 8.3 4s5.6 4 8.4 6.4s5.5 5.2 8.3 8.1s5.5 6.2 8.3 9.3s5.6 6.2 8.3 7.9s5.6 1.7 8.4-2.3s5.5-12.9 8.3-23.5s5.5-22.3 8.3-29.7s5.6-10.4 8.3-10.9s5.6 1.3 8.4 3.1s5.5 3.8 8.3 5.5s5.5 2.9 8.3 4.1s5.6 2 8.3 2.8s5.6 1.6 8.4 2.3s5.5 1.4 8.3 2.1s5.5 1.2 8.3 1.7s5.5 .8 8.3 1.1s5.6 .3 8.4 .4s5.5 .4 8.3 .9s5.5 1.4 8.3 2.6s5.6 3 8.3 4.8s5.6 3.6 8.3 5.2s5.6 2.7 8.4 3.5s5.5 1.2 8.3 1.4s5.5 .4 8.3 .5s5.6 .2 8.4 .4s5.5 .2 8.3 .2s5.5 0 8.3-.4"/>
<path stroke="#d62728" d="M404.1 475.3c2.8-4.1 5.6-7.4 8.3-10s5.6-4.6 8.4-5.9s5.5-1.9 8.3-1.9s5.5 .5 8.3 1.5s5.6 2.7 8.3 4.7s5.6 4.5 8.4 7.3s5.5 6 8.3 9.4s5.5 7.2 8.3 10.5s5.6 6.3 8.3 6.3s5.6-3.5 8.4-12.1s5.5-22.1 8.3-33.7s5.5-20.3 8.3-24.1s5.6-3.5 8.3-2.4s5.6 3.1 8.4 4.4s5.5 2 8.3 2.1s5.5-.3 8.3-.9s5.6-1.2 8.3-.7s5.6 2.3 8.4 6.5s5.5 11.2 8.3 18.6s5.5 15.1 8.3 19.9s5.5 6.8 8.3 6.6s5.6-2.5 8.4-5.6s5.5-7 8.3-11.3s5.5-9 8.3-13.7s5.6-9.5 8.3-13.2s5.6-6.2 8.3-5.1s5.6 6.5 8.4 15.2s5.5 20.1 8.3 28.3s5.5 12.9 8.3 14.4s5.6 .4 8.4-1s5.5-2.9 8.3-3.7s5.5-.9 8.3-.2"/>
<path stroke="#9467bd" d="M404.1 475.1c2.8-4.3 5.6-7.7 8.3-10.5s5.6-4.8 8.4-6.3s5.5-2.3 8.3-2.7s5.5-.1 8.3 .5s5.6 1.8 8.3 3.1s5.6 3.1 8.4 4.9s5.5 3.7 8.3 5.6s5.5 3.8 8.3 5.7s5.6 3.7 8.3 5.4s5.6 3.2 8.4 4.1s5.5 1.2 8.3-.1s5.5-4.4 8.3-9.2s5.6-11.2 8.3-16.9s5.6-10.5 8.4-13s5.5-2.8 8.3-1.6s5.5 3.9 8.3 7.2s5.6 7.3 8.3 11.6s5.6 8.8 8.4 13s5.5 8 8.3 9.6s5.5 .5 8.3-4.4s5.5-13.9 8.3-22.8s5.6-16.9 8.4-21.2s5.5-5.1 8.3-4.6s5.5 2.2 8.3 3.5s5.6 2.3 8.3 2.7s5.6 0 8.3-.8s5.6-2.3 8.4-4.1s5.5-4 8.3-5.7s5.5-3.1 8.3-1.7s5.6 5.8 8.4 13.8s5.5 19.5 8.3 29s5.5 16.4 8.3 19.4"/>
<path stroke="#8c564b" d="M404.1 476.1c2.8-4.6 5.6-8.3 8.3-11.3s5.6-5.4 8.4-7.1s5.5-2.9 8.3-3.6s5.5-.8 8.3-.5s5.6 .8 8.3 1.6s5.6 1.9 8.4 2.9s5.5 1.9 8.3 2.6s5.5 1 8.3 .9s5.6-.8 8.3-2.1s5.6-3.2 8.4-5.9s5.5-6 8.3-10s5.5-8.5 8.3-12.4s5.6-7.2 8.3-6.2s5.6 7 8.4 17.9s5.5 25.6 8.3 35.9s5.5 15.6 8.3 16.7s5.6-1 8.3-3.1s5.6-4 8.4-4.9s5.5-.7 8.3 .4s5.5 3.4 8.3 6.2s5.5 6.4 8.3 8.5s5.6 2.5 8.4-3.2s5.5-18.5 8.3-33.5s5.5-30 8.3-38s5.6-9.7 8.3-9.2s5.6 2.7 8.3 4.1s5.6 1.9 8.4 1.5s5.5-1.9 8.3-3.3s5.5-2.6 8.3-.7s5.6 7.9 8.4 18.3s5.5 24.9 8.3 36s5.5 18 8.3 20.4"/>
<path stroke="#e377c2" d="M404.1 476c2.8-4.5 5.6-8.1 8.3-11s5.6-5.1 8.4-6.6s5.5-2.6 8.3-3s5.5-.4 8.3 .1s5.6 1.5 8.3 2.7s5.6 2.7 8.4 4.3s5.5 3.1 8.3 4.7s5.5 3 8.3 4.3s5.6 2.4 8.3 3.3s5.6 1.6 8.4 2.1s5.5 .8 8.3 .8s5.5-.4 8.3-1.3s5.6-2.2 8.3-4s5.6-3.9 8.4-5.9s5.5-3.9 8.3-5.1s5.5-1.6 8.3-1.3s5.6 1.4 8.3 2.7s5.6 3.1 8.4 4.3s5.5 2 8.3 1.7s5.5-2 8.3-4.4s5.5-5.8 8.3-8.8s5.6-5.7 8.4-7.4s5.5-2.5 8.3-2.8s5.5-.1 8.3 .3s5.6 .8 8.3 1.2s5.6 .9 8.3 1.4s5.6 1.2 8.4 2.1s5.5 2 8.3 3.5s5.5 3.4 8.3 5.8s5.6 5.3 8.4 8.7s5.5 7.4 8.3 11.7s5.5 9.2 8.3 13.1"/>
<path stroke="#7f7f7f" d="M404.1 476.3c2.8-4.3 5.6-7.7 8.3-10.3s5.6-4.5 8.4-5.8s5.5-1.8 8.3-1.7s5.5 .7 8.3 1.9s5.6 3.1 8.3 5.4s5.6 5.2 8.4 8.4s5.5 7 8.3 10.9s5.5 8.2 8.3 11s5.6 4.3 8.3 .6s5.6-13.4 8.4-26.2s5.5-27.3 8.3-36.1s5.5-12.1 8.3-12.5s5.6 1.5 8.3 2.8s5.6 2.4 8.4 2.4s5.5-.9 8.3-2.3s5.5-3.3 8.3-3.7s5.6 1.1 8.3 7.1s5.6 17.4 8.4 29.4s5.5 23.5 8.3 29.8s5.5 7.9 8.3 7.2s5.5-3.1 8.3-5.6s5.6-5 8.4-7.3s5.5-4.3 8.3-6.2s5.5-3.7 8.3-5.5s5.6-3.3 8.3-4.8s5.6-2.7 8.3-3.5s5.6-1.4 8.4-1.3s5.5 .8 8.3 2.2s5.5 3.5 8.3 6.3s5.6 6.3 8.4 10.4s5.5 8.7 8.3 12.4s5.5 6.2 8.3 4"/>
<path stroke="#bcbd22" d="M404.1 474.7c2.8-4.2 5.6-7.7 8.3-10.5s5.6-4.9 8.4-6.4s5.5-2.5 8.3-2.9s5.5-.3 8.3 .1s5.6 1.4 8.3 2.6s5.6 2.5 8.4 4s5.5 2.9 8.3 4.3s5.5 2.5 8.3 3.5s5.6 1.7 8.3 2.2s5.6 .7 8.4 .6s5.5-.3 8.3-.8s5.5-1.1 8.3-1.7s5.6-1.2 8.3-1.6s5.6-.6 8.4-.3s5.5 1 8.3 2.1s5.5 2.8 8.3 4.4s5.6 3.2 8.3 3.7s5.6 .1 8.4-2.4s5.5-6.9 8.3-11.8s5.5-10.2 8.3-13.6s5.5-5.2 8.3-5.5s5.6 .6 8.4 1.8s5.5 2.5 8.3 3.5s5.5 1.8 8.3 2.2s5.6 .7 8.3 .9s5.6 .3 8.3 .8s5.6 1 8.4 2.1s5.5 2.6 8.3 4.8s5.5 4.8 8.3 8.1s5.6 7.3 8.4 11.3s5.5 8.3 8.3 10.6s5.5 2.3 8.3-2.6"/>
<path stroke="#17becf" d="M404.1 475.7c2.8-4.4 5.6-7.9 8.3-10.7s5.6-4.9 8.4-6.4s5.5-2.5 8.3-2.8s5.5-.2 8.3 .5s5.6 1.7 8.3 3.1s5.6 3 8.4 4.8s5.5 3.8 8.3 5.7s5.5 4 8.3 5.9s5.6 3.8 8.3 5.6s5.6 3.3 8.4 4.2s5.5 1 8.3-.6s5.5-5.1 8.3-10.3s5.6-12.1 8.3-17.9s5.6-10.5 8.4-12.7s5.5-2.1 8.3-.7s5.5 4.3 8.3 7.7s5.6 7.5 8.3 11.8s5.6 9 8.4 13.3s5.5 8.4 8.3 10.2s5.5 1.2 8.3-3.6s5.5-14 8.3-23.4s5.6-18.1 8.4-22.7s5.5-5.8 8.3-5.3s5.5 2.3 8.3 3.7s5.6 2.3 8.3 2.6s5.6 0 8.3-1s5.6-2.7 8.4-4.7s5.5-4.4 8.3-6.1s5.5-2.6 8.3-.1s5.6 8.9 8.4 18.7s5.5 22.4 8.3 31.5s5.5 14.5 8.3 16.3"/>
<path stroke="#1f77b4" d="M404.1 473.4c2.8-4.3 5.6-7.8 8.3-10.7s5.6-5.3 8.4-7.1s5.5-3.1 8.3-3.9s5.5-1.4 8.3-1.5s5.6 .1 8.3 .5s5.6 .9 8.4 1.4s5.5 1 8.3 1.3s5.5 .1 8.3-.4s5.6-1.4 8.3-2.6s5.6-2.9 8.4-4.3s5.5-2.6 8.3-2.5s5.5 1.7 8.3 5s5.6 8 8.3 12.7s5.6 8.9 8.4 11.4s5.5 3.2 8.3 3s5.5-1.4 8.3-2.5s5.6-2.2 8.3-3s5.6-1.3 8.4-1.6s5.5-.5 8.3-.7s5.5-.4 8.3-1s5.5-1.5 8.3-2.9s5.6-3.2 8.4-5.7s5.5-5.6 8.3-9.2s5.5-7.8 8.3-11.7s5.6-7.6 8.3-8.4s5.6 1.8 8.3 9.3s5.6 19.7 8.4 30.2s5.5 18.3 8.3 21.4s5.5 2.2 8.3 .5s5.6-4 8.4-5.6s5.5-2.5 8.3-2.5s5.5 .7 8.3 2.2"/>
<path stroke="#ff7f0e" d="M404.1 473.9c2.8-4.4 5.6-7.9 8.3-10.8s5.6-5.2 8.4-7s5.5-3 8.3-3.8s5.5-1.1 8.3-1.2s5.6 .3 8.3 .8s5.6 1.2 8.4 1.8s5.5 1.1 8.3 1.3s5.5 .1 8.3-.5s5.6-1.8 8.3-3.5s5.6-3.9 8.4-6.1s5.5-4.4 8.3-5.4s5.5-.3 8.3 2.9s5.6 9.1 8.3 15.6s5.6 12.9 8.4 16.8s5.5 5.4 8.3 5.3s5.5-1.8 8.3-3.4s5.6-3.2 8.3-4.5s5.6-2 8.4-2.5s5.5-.8 8.3-1s5.5-.3 8.3-.7s5.5-.9 8.3-1.9s5.6-2.4 8.4-4.4s5.5-4.5 8.3-7.6s5.5-7 8.3-11.3s5.6-9 8.3-13s5.6-7.1 8.3-5.7s5.6 8.4 8.4 20.1s5.5 26.9 8.3 37.1s5.5 15 8.3 15.9s5.6-1.2 8.4-3.1s5.5-3.5 8.3-3.9s5.5 .3 8.3 2"/>
<path stroke="#2ca02c" d="M404.1 476.6c2.8-4.5 5.6-8.2 8.3-11.1s5.6-5.2 8.4-6.7s5.5-2.6 8.3-3s5.5-.2 8.3 .4s5.6 1.6 8.3 2.9s5.6 3 8.4 4.7s5.5 3.7 8.3 5.5s5.5 3.7 8.3 5.5s5.6 3.5 8.3 5s5.6 3 8.4 4s5.5 1.3 8.3 .4s5.5-3.3 8.3-7.3s5.6-9.7 8.3-15.1s5.6-10.3 8.4-13.2s5.5-3.8 8.3-3s5.5 3 8.3 6.1s5.6 6.9 8.3 11s5.6 8.5 8.4 12.4s5.5 7.3 8.3 8.5s5.5-.3 8.3-5.2s5.5-13.4 8.3-21.4s5.6-15.1 8.4-18.8s5.5-4.4 8.3-3.9s5.5 2 8.3 3.2s5.6 2.2 8.3 2.6s5.6 .3 8.3-.3s5.6-1.7 8.4-3s5.5-3.1 8.3-4.7s5.5-3.1 8.3-3.1s5.6 1.6 8.4 6.4s5.5 12.8 8.3 21.4s5.5 17.2 8.3 22.4"/>
<path stroke="#d62728" d="M404.1 476.6c2.8-4.3 5.6-7.8 8.3-10.5s5.6-4.7 8.4-6s5.5-2 8.3-2s5.5 .6 8.3 1.7s5.6 2.8 8.3 5s5.6 4.8 8.4 7.8s5.5 6.5 8.3 10.2s5.5 7.7 8.3 10.9s5.6 5.6 8.3 4s5.6-8.3 8.4-19.4s5.5-25.8 8.3-36.4s5.5-16.4 8.3-18.2s5.6-.5 8.3 .9s5.6 3 8.4 3.7s5.5 .5 8.3-.3s5.5-2.1 8.3-2.9s5.6-1.2 8.3 1.5s5.6 8.9 8.4 17.9s5.5 20.5 8.3 29s5.5 13.8 8.3 15.4s5.5 .3 8.3-2s5.6-5.4 8.4-8.7s5.5-6.8 8.3-10.4s5.5-7.3 8.3-11.4s5.6-8.4 8.3-12.9s5.6-9.3 8.3-13.3s5.6-7.1 8.4-6.1s5.5 7 8.3 17.8s5.5 25.9 8.3 36.7s5.6 16.9 8.4 18.8s5.5 .5 8.3-.9s5.5-2.8 8.3-3.1"/>
<path stroke="#9467bd" d="M404.1 474.2c2.8-4.2 5.6-7.5 8.3-10.2s5.6-4.7 8.4-6.2s5.5-2.3 8.3-2.7s5.5-.2 8.3 .4s5.6 1.6 8.3 2.8s5.6 2.8 8.4 4.4s5.5 3.3 8.3 5s5.5 3.1 8.3 4.5s5.6 2.7 8.3 3.8s5.6 2 8.4 2.7s5.5 1.1 8.3 1s5.5-.7 8.3-2s5.6-3.6 8.3-6.4s5.6-6 8.4-8.8s5.5-5.1 8.3-6.3s5.5-1 8.3 .1s5.6 3.1 8.3 5.5s5.6 5.2 8.4 7.4s5.5 3.8 8.3 3.9s5.5-1.7 8.3-4.9s5.5-7.9 8.3-12.3s5.6-8.1 8.4-10.4s5.5-3.2 8.3-3.3s5.5 .5 8.3 1.2s5.6 1.3 8.3 1.8s5.6 .9 8.3 1.3s5.6 .7 8.4 1.1s5.5 1 8.3 1.8s5.5 1.7 8.3 2.9s5.6 2.7 8.4 4.4s5.5 3.7 8.3 5.7s5.5 4.1 8.3 6.2"/>
<path stroke="#8c564b" d="M404.1 474c2.8-4.1 5.6-7.4 8.3-10.1s5.6-4.7 8.4-6.2s5.5-2.3 8.3-2.7s5.5-.2 8.3 .3s5.6 1.5 8.3 2.7s5.6 2.8 8.4 4.3s5.5 3.2 8.3 4.7s5.5 3 8.3 4.3s5.6 2.3 8.3 3.2s5.6 1.6 8.4 2.1s5.5 .7 8.3 .6s5.5-.4 8.3-1.2s5.6-2 8.3-3.6s5.6-3.4 8.4-5.2s5.5-3.6 8.3-4.7s5.5-1.6 8.3-1.4s5.6 1.1 8.3 2.2s5.6 2.5 8.4 3.5s5.5 1.5 8.3 1s5.5-2.1 8.3-4.4s5.5-5.3 8.3-8s5.6-5.1 8.4-6.7s5.5-2.3 8.3-2.6s5.5-.1 8.3 .2s5.6 .6 8.3 1s5.6 .9 8.3 1.4s5.6 1.2 8.4 2.2s5.5 2.2 8.3 3.8s5.5 3.7 8.3 6.3s5.6 5.8 8.4 9.5s5.5 7.9 8.3 12.4s5.5 9.4 8.3 12.6"/>
<path stroke="#e377c2" d="M404.1 476.2c2.8-4.5 5.6-8 8.3-10.8s5.6-5 8.4-6.5s5.5-2.3 8.3-2.6s5.5-.1 8.3 .6s5.6 2 8.3 3.5s5.6 3.3 8.4 5.3s5.5 4.3 8.3 6.6s5.5 4.7 8.3 7.1s5.6 4.9 8.3 7s5.6 3.9 8.4 4s5.5-1.8 8.3-6.6s5.5-13 8.3-21.3s5.6-16.5 8.3-21.3s5.6-6.5 8.4-6.2s5.5 2.4 8.3 5s5.5 5.8 8.3 9.1s5.6 7 8.3 11s5.6 8.2 8.4 12.7s5.5 9.5 8.3 14s5.5 8.5 8.3 9.2s5.5-2.5 8.3-11.4s5.6-23.2 8.4-35.1s5.5-20.3 8.3-23.6s5.5-2.5 8.3-1.1s5.6 3.2 8.3 3.9s5.6 .6 8.3-.7s5.6-3.6 8.4-6.1s5.5-5.4 8.3-5.2s5.5 4.2 8.3 14.5s5.6 27 8.4 40.8s5.5 23.5 8.3 27.2s5.5 2.7 8.3 1.2"/>
<path stroke="#7f7f7f" d="M404.1 475.6c2.8-4.4 5.6-8 8.3-10.8s5.6-5 8.4-6.6s5.5-2.5 8.3-2.9s5.5-.3 8.3 .2s5.6 1.5 8.3 2.7s5.6 2.8 8.4 4.3s5.5 3.2 8.3 4.8s5.5 3 8.3 4.4s5.6 2.4 8.3 3.4s5.6 1.7 8.4 2.3s5.5 .9 8.3 .8s5.5-.4 8.3-1.4s5.6-2.5 8.3-4.5s5.6-4.5 8.4-6.8s5.5-4.3 8.3-5.5s5.5-1.6 8.3-1.1s5.6 1.9 8.3 3.5s5.6 3.7 8.4 5.2s5.5 2.5 8.3 2.3s5.5-1.8 8.3-4.5s5.5-6.3 8.3-9.7s5.6-6.3 8.4-8.2s5.5-2.7 8.3-3s5.5 .1 8.3 .5s5.6 1 8.3 1.4s5.6 .9 8.3 1.5s5.6 1 8.4 1.8s5.5 1.8 8.3 3.1s5.5 3 8.3 5.1s5.6 4.7 8.4 7.8s5.5 6.5 8.3 10.5s5.5 8.4 8.3 12.7"/>
<path stroke="#bcbd22" d="M404.1 475.8c2.8-4.6 5.6-8.3 8.3-11.4s5.6-5.3 8.4-7.1s5.5-3 8.3-3.7s5.5-.9 8.3-.8s5.6 .7 8.3 1.4s5.6 1.6 8.4 2.4s5.5 1.6 8.3 2.1s5.5 .6 8.3 .1s5.6-1.4 8.3-3.1s5.6-4.1 8.4-7.1s5.5-6.7 8.3-10.3s5.5-7.2 8.3-8.2s5.6 .9 8.3 7.4s5.6 17.7 8.4 28s5.5 18.3 8.3 21.9s5.5 3.1 8.3 1.5s5.6-4.1 8.3-6.1s5.6-3.2 8.4-3.8s5.5-.5 8.3 .3s5.5 2.1 8.3 3.8s5.5 4.1 8.3 6.4s5.6 4.8 8.4 5.8s5.5 .4 8.3-4.3s5.5-13.8 8.3-24.4s5.6-21.7 8.3-28.5s5.6-9.4 8.3-9.5s5.6 1.9 8.4 4.1s5.5 4.6 8.3 6.9s5.5 4.4 8.3 6.5s5.6 4.1 8.4 6.1s5.5 4.1 8.3 6s5.5 3.9 8.3 5.7"/>
<path stroke="#17becf" d="M404.1 473.9c2.8-4.2 5.6-7.6 8.3-10.4s5.6-5 8.4-6.6s5.5-2.6 8.3-3.2s5.5-.6 8.3-.4s5.6 .9 8.3 1.8s5.6 1.9 8.4 2.9s5.5 1.9 8.3 2.6s5.5 1 8.3 .9s5.6-.8 8.3-2.1s5.6-3.2 8.4-5.9s5.5-6.1 8.3-10.1s5.5-8.5 8.3-12.4s5.6-7 8.3-5.8s5.6 7.5 8.4 18.4s5.5 25.7 8.3 35.8s5.5 15 8.3 16s5.6-1.2 8.3-3.2s5.6-4.1 8.4-4.9s5.5-.7 8.3 .4s5.5 3.4 8.3 6.2s5.5 6.4 8.3 8.5s5.6 2.6 8.4-2.9s5.5-18.1 8.3-33s5.5-30 8.3-38.2s5.6-10 8.3-9.5s5.6 2.6 8.3 4s5.6 2.1 8.4 1.7s5.5-1.8 8.3-3.1s5.5-2.7 8.3-.9s5.6 7.2 8.4 17.3s5.5 24.3 8.3 35.5s5.5 18.4 8.3 21.1"/>
<path stroke="#1f77b4" d="M404.1 476.5c2.8-4.5 5.6-8.1 8.3-10.9s5.6-5 8.4-6.5s5.5-2.3 8.3-2.6s5.5 0 8.3 .8s5.6 2 8.3 3.6s5.6 3.5 8.4 5.6s5.5 4.5 8.3 7s5.5 5.1 8.3 7.8s5.6 5.4 8.3 7.5s5.6 3.7 8.4 3s5.5-4.3 8.3-11.1s5.5-16.8 8.3-25.7s5.6-16 8.3-19.5s5.6-3.7 8.4-2.6s5.5 3.6 8.3 6.2s5.5 5.3 8.3 8.2s5.6 5.9 8.3 9.1s5.6 6.6 8.4 10.4s5.5 7.7 8.3 12s5.5 8.8 8.3 12.6s5.5 7 8.3 6.2s5.6-6.3 8.4-16.9s5.5-25.6 8.3-36.9s5.5-17.9 8.3-20.1s5.6-1.1 8.3 .3s5.6 2.8 8.3 3.2s5.6 0 8.4-1.3s5.5-3.4 8.3-4.9s5.5-2.3 8.3 1s5.6 11.5 8.4 23.4s5.5 26.3 8.3 35.9s5.5 14.4 8.3 15.4"/>
<path stroke="#ff7f0e" d="M404.1 475.9c2.8-4.6 5.6-8.2 8.3-11.2s5.6-5.2 8.4-6.9s5.5-2.7 8.3-3.3s5.5-.6 8.3-.3s5.6 1.1 8.3 2s5.6 2.1 8.4 3.3s5.5 2.3 8.3 3.3s5.5 1.6 8.3 1.8s5.6 .2 8.3-.5s5.6-1.8 8.4-3.6s5.5-4.1 8.3-7s5.5-6.5 8.3-10.5s5.6-8.7 8.3-13s5.6-8.3 8.4-8.7s5.5 3.7 8.3 13.9s5.5 26.4 8.3 39.3s5.6 21.1 8.3 24s5.6 1.6 8.4 .1s5.5-3.2 8.3-3.7s5.5 .3 8.3 2.1s5.5 4.6 8.3 6.9s5.6 4 8.4 .2s5.5-14.1 8.3-29s5.5-32.4 8.3-43s5.6-14.4 8.3-14.8s5.6 2 8.3 3.7s5.6 2.7 8.4 2.6s5.5-1.1 8.3-2.3s5.5-2.7 8.3-1.2s5.6 6.2 8.4 15.7s5.5 23.6 8.3 35.1s5.5 19.5 8.3 22.7"/>
<path stroke="#2ca02c" d="M404.1 474.2c2.8-4.3 5.6-7.7 8.3-10.5s5.6-5 8.4-6.6s5.5-2.7 8.3-3.2s5.5-.7 8.3-.4s5.6 .9 8.3 1.8s5.6 1.9 8.4 2.9s5.5 2.1 8.3 2.8s5.5 1.1 8.3 1.1s5.6-.7 8.3-1.9s5.6-3 8.4-5.6s5.5-5.8 8.3-9.7s5.5-8.4 8.3-12.6s5.6-8 8.3-8.2s5.6 4 8.4 13.9s5.5 25.1 8.3 36.7s5.5 18.8 8.3 21s5.6 .5 8.3-1.5s5.6-4.1 8.4-5.1s5.5-1 8.3 .2s5.5 3.3 8.3 6.1s5.5 6.5 8.3 8.4s5.6 1.8 8.4-4.8s5.5-20.8 8.3-36.3s5.5-30 8.3-37.3s5.6-8.2 8.3-7.4s5.6 3.1 8.3 4.3s5.6 1.4 8.4 .7s5.5-2.6 8.3-4s5.5-2.3 8.3 .9s5.6 11.6 8.4 23.9s5.5 27.8 8.3 38s5.5 15.2 8.3 16.3"/>
<path stroke="#d62728" d="M404.1 474c2.8-4.3 5.6-7.8 8.3-10.7s5.6-5 8.4-6.7s5.5-2.8 8.3-3.5s5.5-.9 8.3-.7s5.6 .6 8.3 1.3s5.6 1.5 8.4 2.3s5.5 1.5 8.3 1.9s5.5 .4 8.3-.1s5.6-1.6 8.3-3.4s5.6-4.3 8.4-7.3s5.5-6.6 8.3-9.7s5.5-5.8 8.3-5.6s5.6 4 8.3 11.5s5.6 18.3 8.4 27s5.5 14.5 8.3 16.5s5.5 .8 8.3-1s5.6-4.2 8.3-6s5.6-3 8.4-3.6s5.5-.6 8.3-.1s5.5 1.3 8.3 2.4s5.5 2.6 8.3 4.2s5.6 3.3 8.4 4.8s5.5 2.5 8.3 2.1s5.5-2.6 8.3-7.4s5.6-12.4 8.3-20s5.6-14.7 8.3-19s5.6-5.6 8.4-5.1s5.5 2.9 8.3 5.9s5.5 6.6 8.3 10.6s5.6 8.3 8.4 12.9s5.5 9.5 8.3 14s5.5 8.7 8.3 10.1"/>
<path stroke="#9467bd" d="M404.1 476.7c2.8-4.4 5.6-7.9 8.3-10.7s5.6-4.9 8.4-6.3s5.5-2.2 8.3-2.3s5.5 .3 8.3 1.2s5.6 2.5 8.3 4.3s5.6 4.2 8.4 6.8s5.5 5.6 8.3 8.7s5.5 6.7 8.3 9.9s5.6 6.4 8.3 7.5s5.6-.3 8.4-6.5s5.5-17.4 8.3-28.9s5.5-22.3 8.3-28s5.6-7 8.3-6.5s5.6 2.4 8.4 4.1s5.5 3.1 8.3 4.1s5.5 1.4 8.3 1.6s5.6 .2 8.3 .4s5.6 .4 8.4 1.6s5.5 3.3 8.3 6.5s5.5 7.5 8.3 11.7s5.5 8.3 8.3 10.8s5.6 3.4 8.4 2.9s5.5-2.6 8.3-5.3s5.5-6.1 8.3-9.3s5.6-6.4 8.3-8.2s5.6-2.3 8.3-.4s5.6 6.1 8.4 11.3s5.5 11 8.3 15.2s5.5 6.8 8.3 7.8s5.6 .6 8.4 0s5.5-1.5 8.3-2.2s5.5-1.3 8.3-1.6"/>
<path stroke="#8c564b" d="M404.1 476.3c2.8-4.3 5.6-7.7 8.3-10.3s5.6-4.5 8.4-5.8s5.5-1.8 8.3-1.7s5.5 .7 8.3 2s5.6 3.1 8.3 5.4s5.6 5.2 8.4 8.5s5.5 7 8.3 10.9s5.5 8.2 8.3 11s5.6 4.1 8.3 .2s5.6-13.8 8.4-26.7s5.5-27.3 8.3-35.9s5.5-11.8 8.3-12.1s5.6 1.6 8.3 3s5.6 2.3 8.4 2.2s5.5-1.1 8.3-2.5s5.5-3.4 8.3-3.7s5.6 1.4 8.3 7.8s5.6 18 8.4 30.2s5.5 23.5 8.3 29.6s5.5 7.3 8.3 6.5s5.5-3.3 8.3-5.8s5.6-4.9 8.4-7s5.5-4 8.3-5.8s5.5-3.4 8.3-4.9s5.6-3 8.3-4.2s5.6-2.2 8.3-2.7s5.6-.6 8.4-.1s5.5 1.7 8.3 3.6s5.5 4.5 8.3 7.6s5.6 6.9 8.4 9.9s5.5 5.3 8.3 4.2s5.5-6.1 8.3-14.6"/>
<path stroke="#e377c2" d="M404.1 475.4c2.8-4.6 5.6-8.3 8.3-11.4s5.6-5.5 8.4-7.3s5.5-3.1 8.3-3.9s5.5-1.2 8.3-1.2s5.6 .4 8.3 .9s5.6 1.2 8.4 1.8s5.5 1.2 8.3 1.5s5.5 .1 8.3-.5s5.6-1.9 8.3-3.6s5.6-4.2 8.4-6.7s5.5-5.2 8.3-6.6s5.5-1.6 8.3 1.2s5.6 8.7 8.3 15.8s5.6 14.7 8.4 19.6s5.5 6.9 8.3 7s5.5-1.6 8.3-3.4s5.6-3.6 8.3-5s5.6-2.3 8.4-2.9s5.5-.8 8.3-.9s5.5-.1 8.3-.2s5.5-.5 8.3-1.1s5.6-1.6 8.4-2.9s5.5-3.2 8.3-5.6s5.5-5.1 8.3-8.4s5.6-7.3 8.3-11.5s5.6-8.9 8.3-12.8s5.6-6.8 8.4-5.2s5.5 8.8 8.3 20.9s5.5 28.3 8.3 39.1s5.6 16.2 8.4 17.5s5.5-.6 8.3-2.1s5.5-2.6 8.3-2.6"/>
<path stroke="#7f7f7f" d="M404.1 474.4c2.8-4.5 5.6-8.2 8.3-11.3s5.6-5.5 8.4-7.4s5.5-3.2 8.3-4.2s5.5-1.5 8.3-1.7s5.6 0 8.3 .3s5.6 .8 8.4 1.3s5.5 1 8.3 1.3s5.5 .3 8.3-.1s5.6-1 8.3-2s5.6-2.3 8.4-3.3s5.5-1.8 8.3-1.4s5.5 2 8.3 4.9s5.6 7 8.3 10.8s5.6 7.4 8.4 9.5s5.5 2.8 8.3 2.7s5.5-.8 8.3-1.6s5.6-1.7 8.3-2.3s5.6-.9 8.4-1.1s5.5-.3 8.3-.5s5.5-.5 8.3-1.1s5.5-1.6 8.3-3s5.6-3.4 8.4-5.9s5.5-5.7 8.3-9.3s5.5-7.9 8.3-11.7s5.6-7.3 8.3-7.8s5.6 2.6 8.3 10.3s5.6 19.8 8.4 29.9s5.5 17.2 8.3 19.9s5.5 1.8 8.3 .1s5.6-4.1 8.4-5.6s5.5-2.5 8.3-2.6s5.5 .7 8.3 2.1"/>
<path stroke="#bcbd22" d="M404.1 475c2.8-4.6 5.6-8.4 8.3-11.5s5.6-5.5 8.4-7.4s5.5-3.2 8.3-4.1s5.5-1.4 8.3-1.5s5.6 0 8.3 .4s5.6 .9 8.4 1.5s5.5 1 8.3 1.2s5.5 .1 8.3-.4s5.6-1.5 8.3-2.8s5.6-3 8.4-4.5s5.5-2.8 8.3-2.8s5.5 1.6 8.3 4.8s5.6 8.3 8.3 13.2s5.6 9.3 8.4 11.9s5.5 3.4 8.3 3.1s5.5-1.4 8.3-2.5s5.6-2.4 8.3-3.2s5.6-1.4 8.4-1.8s5.5-.5 8.3-.7s5.5-.5 8.3-1s5.5-1.4 8.3-2.8s5.6-3.2 8.4-5.6s5.5-5.6 8.3-9.2s5.5-7.8 8.3-11.8s5.6-7.8 8.3-8.8s5.6 1.4 8.3 8.7s5.6 19.5 8.4 30.3s5.5 18.9 8.3 22.2s5.5 2.7 8.3 1s5.6-4 8.4-5.6s5.5-2.5 8.3-2.6s5.5 .8 8.3 2.3"/>
<path stroke="#17becf" d="M404.1 475.1c2.8-4.5 5.6-8.2 8.3-11.3s5.6-5.4 8.4-7.2s5.5-3.1 8.3-3.9s5.5-1.2 8.3-1.2s5.6 .3 8.3 .8s5.6 1.1 8.4 1.7s5.5 1.2 8.3 1.4s5.5 .2 8.3-.5s5.6-1.8 8.3-3.5s5.6-4.1 8.4-6.5s5.5-4.8 8.3-6.1s5.5-1 8.3 2s5.6 9 8.3 15.8s5.6 13.9 8.4 18.4s5.5 6.2 8.3 6.1s5.5-1.6 8.3-3.3s5.6-3.5 8.3-4.8s5.6-2.2 8.4-2.8s5.5-.8 8.3-.9s5.5-.2 8.3-.5s5.5-.7 8.3-1.5s5.6-2 8.4-3.6s5.5-3.9 8.3-6.7s5.5-6.1 8.3-10s5.6-8.4 8.3-12.9s5.6-9.1 8.3-11s5.6-.7 8.4 6.9s5.5 22.1 8.3 35.7s5.5 24.7 8.3 29.6s5.6 4.5 8.4 3.1s5.5-3.5 8.3-4.5s5.5-1 8.3 .2"/>
<path stroke="#1f77b4" d="M404.1 475.2c2.8-4.4 5.6-7.9 8.3-10.8s5.6-5.1 8.4-6.7s5.5-2.7 8.3-3.2s5.5-.5 8.3-.2s5.6 1.2 8.3 2.1s5.6 2.2 8.4 3.5s5.5 2.4 8.3 3.4s5.5 1.8 8.3 2.2s5.6 .4 8.3-.1s5.6-1.4 8.4-2.9s5.5-3.5 8.3-6s5.5-5.5 8.3-9s5.6-7.5 8.3-11.6s5.6-8.7 8.4-11.6s5.5-4.2 8.3 .2s5.5 15.2 8.3 28.6s5.6 27.9 8.3 36.2s5.6 10.7 8.4 10.6s5.5-2.1 8.3-3.3s5.5-2 8.3-1.5s5.5 2 8.3 3.9s5.6 4.4 8.4 4.5s5.5-2.9 8.3-11.7s5.5-23.8 8.3-37.4s5.6-24.4 8.3-29.2s5.6-4.5 8.3-3s5.6 3.8 8.4 5.5s5.5 2.9 8.3 3.4s5.5 .6 8.3 .5s5.6-.3 8.4 .6s5.5 2.8 8.3 6.7s5.5 9.7 8.3 16"/>
<path stroke="#ff7f0e" d="M404.1 473.5c2.8-4.4 5.6-7.9 8.3-10.9s5.6-5.3 8.4-7.2s5.5-3.2 8.3-4.1s5.5-1.4 8.3-1.6s5.6 0 8.3 .3s5.6 .8 8.4 1.3s5.5 1 8.3 1.3s5.5 .3 8.3 0s5.6-1.1 8.3-2.1s5.6-2.2 8.4-3.2s5.5-1.8 8.3-1.4s5.5 2 8.3 4.9s5.6 7 8.3 10.9s5.6 7.3 8.4 9.3s5.5 2.9 8.3 2.8s5.5-.8 8.3-1.7s5.6-1.6 8.3-2.2s5.6-.9 8.4-1.1s5.5-.4 8.3-.5s5.5-.5 8.3-1.1s5.5-1.6 8.3-3s5.6-3.4 8.4-5.9s5.5-5.7 8.3-9.3s5.5-7.9 8.3-11.7s5.6-7.3 8.3-7.7s5.6 2.6 8.3 10.3s5.6 19.8 8.4 29.8s5.5 17.2 8.3 19.9s5.5 1.7 8.3 0s5.6-4 8.4-5.6s5.5-2.4 8.3-2.5s5.5 .6 8.3 2"/>
<path stroke="#2ca02c" d="M404.1 475.9c2.8-4.5 5.6-8.1 8.3-11s5.6-5.1 8.4-6.6s5.5-2.6 8.3-3.1s5.5-.4 8.3 .1s5.6 1.4 8.3 2.6s5.6 2.6 8.4 4.1s5.5 3 8.3 4.5s5.5 2.7 8.3 3.9s5.6 2 8.3 2.7s5.6 1.1 8.4 1.3s5.5 .2 8.3 0s5.5-.6 8.3-1.1s5.6-1.2 8.3-1.9s5.6-1.4 8.4-1.9s5.5-1 8.3-1.2s5.5-.2 8.3-.1s5.6 .3 8.3 .2s5.6-.5 8.4-1.4s5.5-2.4 8.3-4.2s5.5-3.8 8.3-5.7s5.5-3.4 8.3-4.5s5.6-1.8 8.4-2.2s5.5-.4 8.3-.5s5.5 0 8.3 .1s5.6 .1 8.3 .3s5.6 .4 8.3 1s5.6 1.3 8.4 2.5s5.5 2.8 8.3 5s5.5 4.9 8.3 8.2s5.6 7.2 8.4 11.4s5.5 8.7 8.3 11.8s5.5 4.6 8.3 1.2"/>
<path stroke="#d62728" d="M404.1 474.5c2.8-4.5 5.6-8.3 8.3-11.4s5.6-5.5 8.4-7.5s5.5-3.3 8.3-4.3s5.5-1.6 8.3-1.8s5.6-.2 8.3 .1s5.6 .7 8.4 1.2s5.5 1.1 8.3 1.4s5.5 .4 8.3 .2s5.6-.7 8.3-1.5s5.6-1.8 8.4-2.6s5.5-1.2 8.3-.8s5.5 2 8.3 4.5s5.6 6.1 8.3 9.5s5.6 6.4 8.4 8.3s5.5 2.8 8.3 2.9s5.5-.4 8.3-1s5.6-1.3 8.3-1.7s5.6-.7 8.4-.9s5.5-.2 8.3-.4s5.5-.5 8.3-1.2s5.5-1.6 8.3-3s5.6-3.4 8.4-5.9s5.5-5.7 8.3-9.4s5.5-7.8 8.3-11.7s5.6-7.4 8.3-8s5.6 2.4 8.3 9.9s5.6 19.6 8.4 29.8s5.5 17.5 8.3 20.3s5.5 2 8.3 .3s5.6-4 8.4-5.5s5.5-2.5 8.3-2.6s5.5 .6 8.3 2"/>
<path stroke="#9467bd" d="M404.1 474.8c2.8-4.6 5.6-8.3 8.3-11.4s5.6-5.6 8.4-7.5s5.5-3.3 8.3-4.3s5.5-1.5 8.3-1.7s5.6 0 8.3 .3s5.6 .8 8.4 1.3s5.5 1 8.3 1.3s5.5 .3 8.3-.1s5.6-1.1 8.3-2.2s5.6-2.3 8.4-3.4s5.5-1.9 8.3-1.5s5.5 1.9 8.3 4.9s5.6 7.1 8.3 11.1s5.6 7.6 8.4 9.7s5.5 2.9 8.3 2.8s5.5-.9 8.3-1.8s5.6-1.7 8.3-2.3s5.6-1 8.4-1.3s5.5-.3 8.3-.5s5.5-.5 8.3-1.1s5.5-1.5 8.3-3s5.6-3.3 8.4-5.8s5.5-5.7 8.3-9.3s5.5-7.9 8.3-11.7s5.6-7.3 8.3-7.8s5.6 2.6 8.3 10.2s5.6 19.8 8.4 29.9s5.5 17.3 8.3 20s5.5 1.8 8.3 .1s5.6-4 8.4-5.6s5.5-2.4 8.3-2.5s5.5 .6 8.3 2"/>
<path stroke="#8c564b" d="M404.1 474.3c2.8-4.6 5.6-8.3 8.3-11.4s5.6-5.6 8.4-7.6s5.5-3.5 8.3-4.5s5.5-1.7 8.3-2s5.6-.3 8.3-.1s5.6 .7 8.4 1.2s5.5 1.1 8.3 1.6s5.5 .8 8.3 .9s5.6-.1 8.3-.5s5.6-1 8.4-1.5s5.5-.7 8.3-.3s5.5 1.5 8.3 3.3s5.6 4.6 8.3 7.2s5.6 5.3 8.4 7.1s5.5 2.9 8.3 3.4s5.5 .4 8.3 .1s5.6-.5 8.3-.7s5.6-.4 8.4-.5s5.5-.2 8.3-.5s5.5-.5 8.3-1.2s5.5-1.6 8.3-3.1s5.6-3.4 8.4-5.9s5.5-5.7 8.3-9.3s5.5-7.9 8.3-11.9s5.6-7.9 8.3-9.1s5.6 .9 8.3 7.9s5.6 19 8.4 29.8s5.5 19.2 8.3 22.8s5.5 3.1 8.3 1.5s5.6-3.9 8.4-5.5s5.5-2.6 8.3-2.6s5.5 .6 8.3 2.1"/>
<path stroke="#e377c2" d="M404.1 475.7c2.8-4.3 5.6-7.7 8.3-10.4s5.6-4.7 8.4-6.1s5.5-2.1 8.3-2.3s5.5 .2 8.3 1.1s5.6 2.3 8.3 4.1s5.6 3.9 8.4 6.3s5.5 5.1 8.3 8s5.5 6.1 8.3 9.2s5.6 6.2 8.3 7.9s5.6 2 8.4-1.7s5.5-12 8.3-22.5s5.5-22.1 8.3-29.6s5.6-11.1 8.3-11.7s5.6 .9 8.4 2.8s5.5 3.9 8.3 5.6s5.5 3.2 8.3 4.5s5.6 2.4 8.3 3.4s5.6 1.9 8.4 2.8s5.5 1.6 8.3 2.2s5.5 1.1 8.3 1.2s5.5-.1 8.3-.6s5.6-1.3 8.4-2.1s5.5-1.5 8.3-1.5s5.5 .8 8.3 2.8s5.6 5.2 8.3 8.7s5.6 7.1 8.3 9.7s5.6 4 8.4 4.5s5.5 .1 8.3-.5s5.5-1.3 8.3-1.9s5.6-1 8.4-1.2s5.5-.2 8.3-.3s5.5 0 8.3-.3"/>
<path stroke="#7f7f7f" d="M404.1 475.5c2.8-4.5 5.6-8.1 8.3-11s5.6-5.1 8.4-6.8s5.5-2.6 8.3-3.2s5.5-.6 8.3-.2s5.6 1.1 8.3 2s5.6 2.2 8.4 3.4s5.5 2.4 8.3 3.3s5.5 1.7 8.3 2s5.6 .3 8.3-.3s5.6-1.6 8.4-3.2s5.5-3.8 8.3-6.5s5.5-6 8.3-9.8s5.6-8.2 8.3-12.5s5.6-8.7 8.4-10.6s5.5-.6 8.3 6.9s5.5 21.9 8.3 35.8s5.6 25.4 8.3 30.7s5.6 5.3 8.4 4.2s5.5-3.1 8.3-4s5.5-.8 8.3 .4s5.5 3.6 8.3 5.9s5.6 4.6 8.4 2.7s5.5-8.7 8.3-21.4s5.5-30.3 8.3-42.8s5.6-19.2 8.3-21.1s5.6 0 8.3 1.8s5.6 3.6 8.4 4.3s5.5 .5 8.3-.1s5.5-2 8.3-2s5.6 1.3 8.4 6.4s5.5 14.2 8.3 24.5s5.5 20.9 8.3 27.3"/>
<path stroke="#bcbd22" d="M404.1 475.5c2.8-4.2 5.6-7.5 8.3-10.1s5.6-4.5 8.4-5.8s5.5-1.9 8.3-1.9s5.5 .6 8.3 1.7s5.6 2.8 8.3 4.9s5.6 4.6 8.4 7.6s5.5 6.2 8.3 9.8s5.5 7.5 8.3 10.8s5.6 6 8.3 5.1s5.6-6 8.4-16.1s5.5-24.4 8.3-35.5s5.5-18.3 8.3-21s5.6-1.6 8.3-.3s5.6 3.1 8.4 4s5.5 1.2 8.3 .9s5.5-1.4 8.3-2.2s5.6-1.5 8.3 0s5.6 5.4 8.4 12.4s5.5 16.9 8.3 25.6s5.5 15.4 8.3 18.6s5.5 3 8.3 1.3s5.6-4.8 8.4-8.2s5.5-7.3 8.3-11.5s5.5-8.5 8.3-13.1s5.6-9.6 8.3-14.3s5.6-9 8.3-10.8s5.6-.5 8.4 6.2s5.5 19.3 8.3 31.3s5.5 22 8.3 26.7s5.6 4.9 8.4 3.9s5.5-2.9 8.3-4s5.5-1.5 8.3-.8"/>
<path stroke="#17becf" d="M404.1 476c2.8-4.2 5.6-7.5 8.3-10.1s5.6-4.4 8.4-5.6s5.5-1.8 8.3-1.7s5.5 .9 8.3 2.2s5.6 3.2 8.3 5.6s5.6 5.3 8.4 8.7s5.5 7.3 8.3 11.3s5.5 8.3 8.3 10.8s5.6 3.3 8.3-1.6s5.6-16.2 8.4-29.6s5.5-27.2 8.3-34.9s5.5-9.8 8.3-9.7s5.6 2.2 8.3 3.5s5.6 1.9 8.4 1.6s5.5-1.7 8.3-3.4s5.5-3.7 8.3-3.5s5.6 3.1 8.3 11.2s5.6 21.6 8.4 34.1s5.5 22.9 8.3 27.7s5.5 4.8 8.3 3.5s5.5-3.9 8.3-6.1s5.6-4.2 8.4-5.8s5.5-2.7 8.3-3.7s5.5-1.8 8.3-2.6s5.6-1.4 8.3-2.2s5.6-1.5 8.3-2.2s5.6-1.6 8.4-2.4s5.5-1.5 8.3-2.2s5.5-1.3 8.3-1.9s5.6-1.1 8.4-1.8s5.5-1.3 8.3-2.2s5.5-1.9 8.3-3"/>
</g>
<rect x="391.10" y="411.30" width="292.60" height="98.90" fill="none" stroke="#000" stroke-width=".75"/>
<path d="M404.10 510.20v3M437.40 510.20v3M470.70 510.20v3M504.00 510.20v3M537.30 510.20v3M570.60 510.20v3M603.90 510.20v3M637.20 510.20v3M670.50 510.20v3M391.10 417.60h-3M391.10 439.05h-3M391.10 460.50h-3M391.10 481.95h-3M391.10 503.40h-3" stroke="#000" stroke-width=".75" fill="none"/>
<text x="401.60" y="522.95" font-size="9px">0</text>
<text x="434.90" y="522.95" font-size="9px">2</text>
<text x="468.20" y="522.95" font-size="9px">4</text>
<text x="501.50" y="522.95" font-size="9px">6</text>
<text x="534.80" y="522.95" font-size="9px">8</text>
<text x="565.47 570.72" y="522.95" font-size="9px">10</text>
<text x="598.77 604.02" y="522.95" font-size="9px">12</text>
<text x="632.07 637.32" y="522.95" font-size="9px">14</text>
<text x="665.37 670.62" y="522.95" font-size="9px">16</text>
<text x="372.00 377.19 379.87" y="420.85" font-size="9px">1.0</text>
<text x="372.00 377.19 379.87" y="442.30" font-size="9px">0.5</text>
<text x="372.00 377.19 379.87" y="463.75" font-size="9px">0.0</text>
<path d="M365.84 482.25h5.16" stroke="#000" stroke-width="0.68" fill="none"/><text x="372.00 377.19 379.87" y="485.20" font-size="9px">0.5</text>
<path d="M365.84 503.70h5.16" stroke="#000" stroke-width="0.68" fill="none"/><text x="372.00 377.19 379.87" y="506.65" font-size="9px">1.0</text>
<g transform="translate(358.60 461.15) rotate(-90) translate(-19.16 0)"><text x="0.54" y="0" font-size="15px">v</text><text x="9.13" y="0" font-size="15px">x</text><path d="M23.03 -11.02H26.54V-10.00H24.33V0.90H26.54V1.91H23.03ZM28.14 -4.52H31.96V-3.28H28.14ZM37.08 -11.02H33.57V-10.00H35.77V0.90H33.57V1.91H37.08Z" fill="#000"/></g>
<g transform="translate(524.18 538.50)"><text x="0.76" y="0" font-size="15px">t</text><path d="M11.54 -11.02H15.05V-10.00H12.85V0.90H15.05V1.91H11.54ZM16.66 -4.52H20.47V-3.28H16.66ZM25.59 -11.02H22.08V-10.00H24.29V0.90H22.08V1.91H25.59Z" fill="#000"/></g>
</g>
<g font-family="Liberation Serif, serif" fill="#111">
<text x="105.6" y="276.5" font-size="19px" font-weight="bold" letter-spacing=".7">(a)</text>
<text x="133.5" y="276.5" font-size="15.5px" letter-spacing="1.07">Trajectory A.</text>
<text x="452.6" y="276.5" font-size="19px" font-weight="bold" letter-spacing=".7">(b)</text>
<text x="481.1" y="276.5" font-size="15.5px" letter-spacing="1.07">Trajectory B.</text>
<text x="105.9" y="567.2" font-size="19px" font-weight="bold" letter-spacing=".7">(c)</text>
<text x="133.5" y="567.2" font-size="15.5px" letter-spacing="1.07">Trajectory C.</text>
<text x="451.7" y="567.2" font-size="19px" font-weight="bold" letter-spacing=".7">(d)</text>
<text x="481.1" y="567.2" font-size="15.5px" letter-spacing="1.07">Trajectory D.</text>
</g>
</svg>
</body></html>
